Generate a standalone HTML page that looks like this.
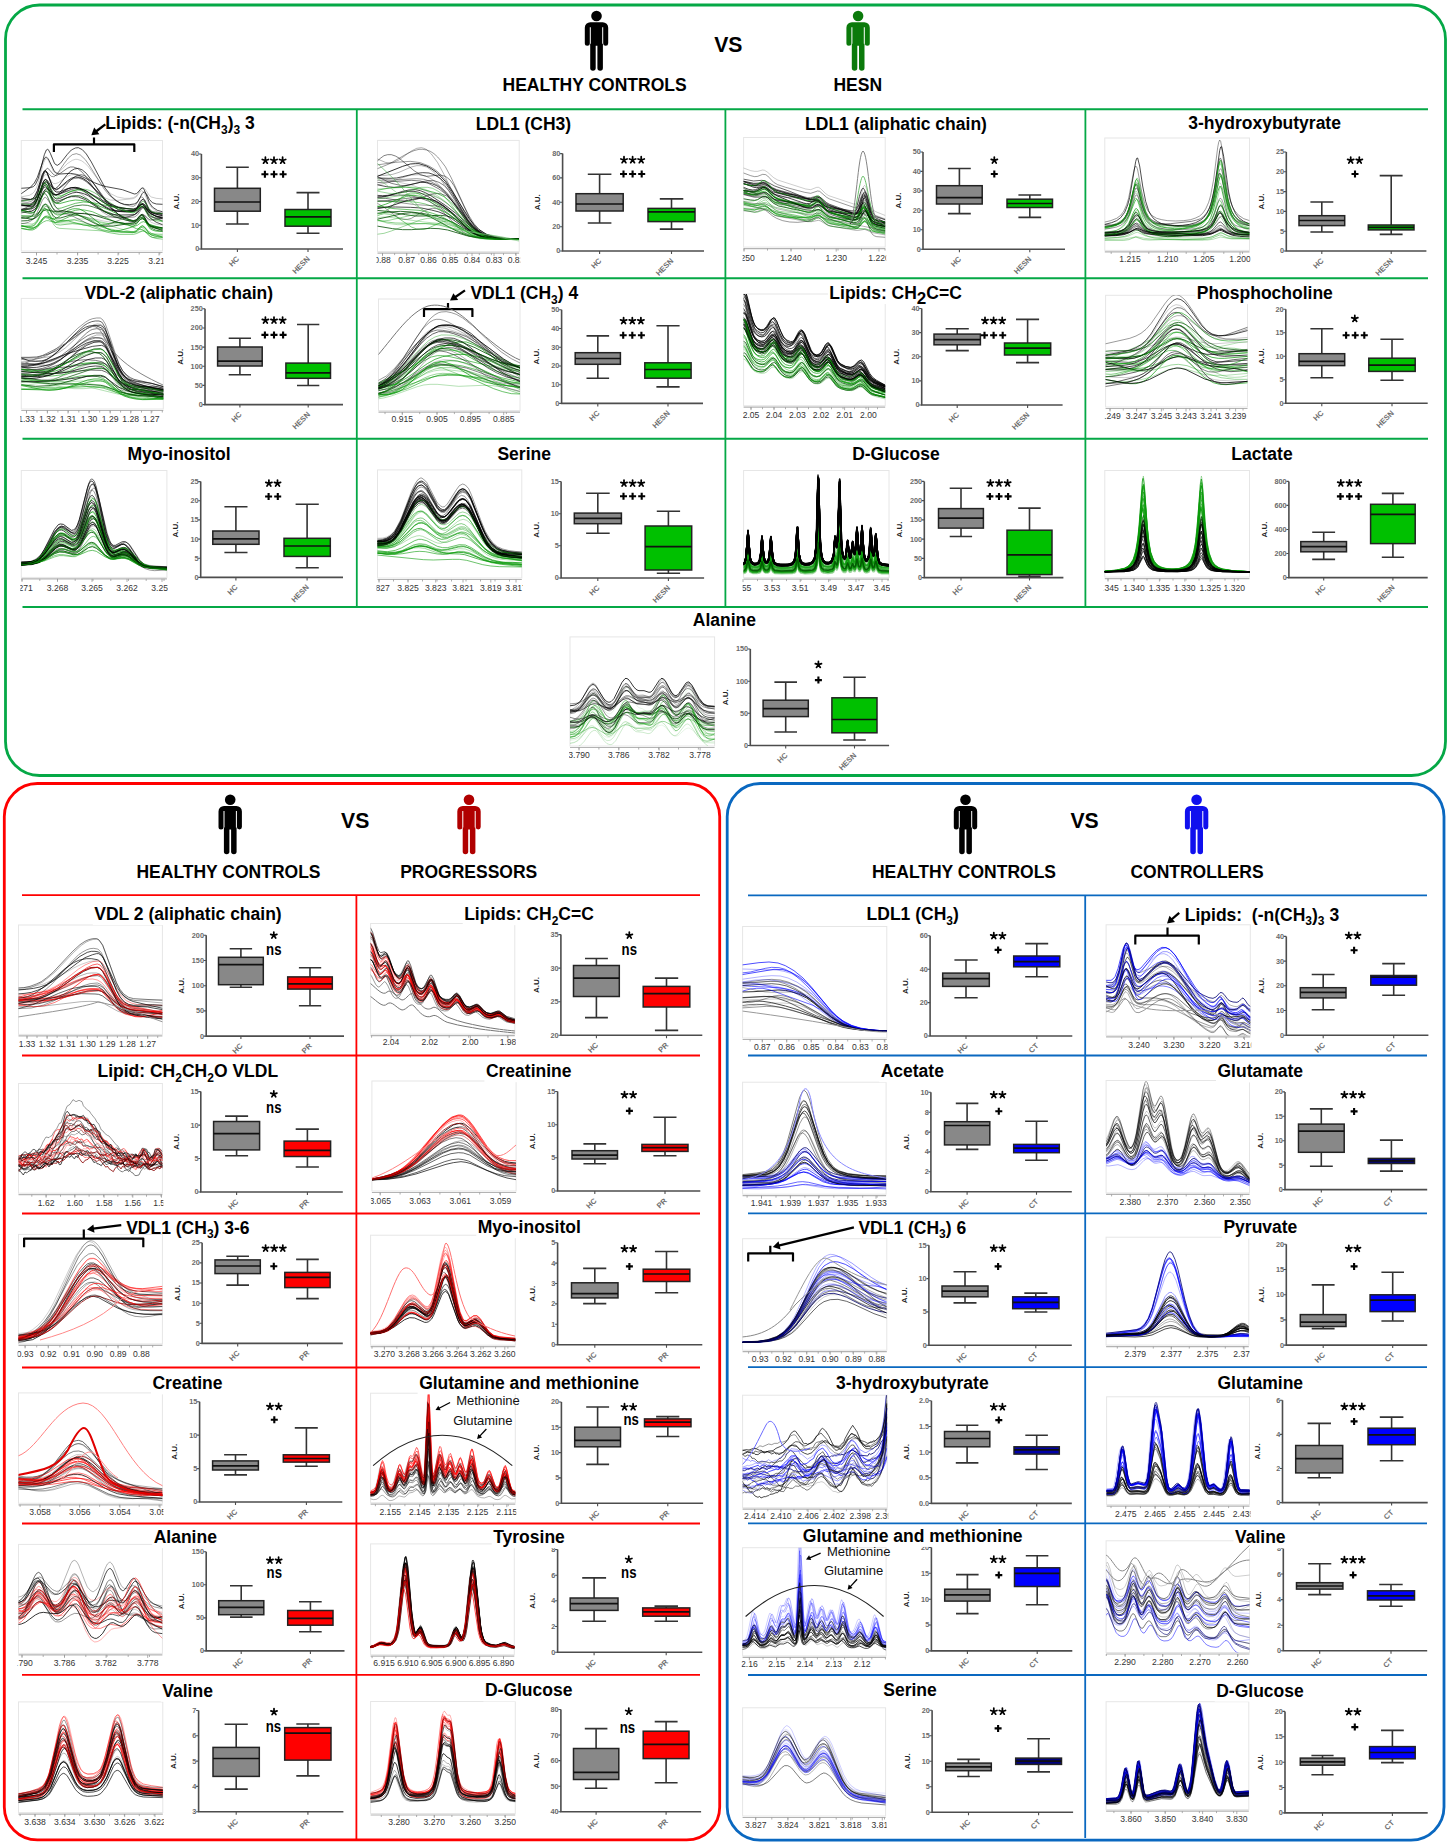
<!DOCTYPE html>
<html><head><meta charset="utf-8"><title>Figure</title><style>html,body{margin:0;padding:0;background:#fff;width:1450px;height:1846px;overflow:hidden;font-family:"Liberation Sans",sans-serif}</style></head><body>
<svg width="1450" height="1846" viewBox="0 0 1450 1846" font-family='"Liberation Sans", sans-serif' style="position:absolute;left:0;top:0">
<style>.k{font-size:8.6px;text-anchor:middle;fill:#333}.y{font-size:7.3px;font-weight:bold;text-anchor:end;fill:#6a6a6a}.a{stroke:#4d4d4d;stroke-width:1.6;fill:none}.t{stroke:#4d4d4d;stroke-width:1.1;fill:none}.w{stroke:#333;stroke-width:1.6;fill:none}.b{stroke:#222;stroke-width:1.5}.m{stroke:#111;stroke-width:1.7}.x{font-size:7.6px;font-weight:bold;text-anchor:end;fill:#707070}.u{font-size:8px;font-weight:bold;text-anchor:middle;fill:#222}.s{font-size:18px;font-weight:bold;text-anchor:middle;letter-spacing:1px}.p{font-size:16px;font-weight:bold;text-anchor:middle;letter-spacing:-0.8px}.n{font-size:17px;font-weight:bold;text-anchor:middle}.st{stroke:#000;stroke-width:1.75;stroke-linecap:round;fill:none}.pl{stroke:#000;stroke-width:2.1;fill:none}</style>
<rect x="5.5" y="5" width="1440" height="770.5" rx="34" ry="34" fill="none" stroke="#05a846" stroke-width="2.8"/>
<rect x="4.3" y="783.5" width="715.4" height="1056.4" rx="33" ry="33" fill="none" stroke="#ff0000" stroke-width="2.8"/>
<rect x="727.2" y="783.5" width="716.8" height="1056.6" rx="33" ry="33" fill="none" stroke="#0a68c0" stroke-width="2.8"/>
<path d="M22.5,109.2 L1428,109.2 M22.5,278.2 L1428,278.2 M22.5,438.8 L1428,438.8 M22.5,607 L1428,607 " stroke="#05a846" stroke-width="2" fill="none"/>
<path d="M356.8,109.2 L356.8,607 M725.4,109.2 L725.4,607 M1085.4,109.2 L1085.4,607 " stroke="#05a846" stroke-width="1.8" fill="none"/>
<path d="M22,895.2 L700,895.2 M22,1055.5 L700,1055.5 M22,1213.5 L700,1213.5 M22,1367.5 L700,1367.5 M22,1523.5 L700,1523.5 M22,1674.8 L700,1674.8 " stroke="#ff0000" stroke-width="1.8" fill="none"/>
<path d="M356.4,895.2 L356.4,1839" stroke="#ff0000" stroke-width="1.8" fill="none"/>
<path d="M748,895.3 L1427,895.3 M748,1055.5 L1427,1055.5 M748,1213.3 L1427,1213.3 M748,1367.2 L1427,1367.2 M748,1523.3 L1427,1523.3 M748,1675 L1427,1675 " stroke="#0a68c0" stroke-width="1.8" fill="none"/>
<path d="M1085.2,895.3 L1085.2,1838" stroke="#0a68c0" stroke-width="1.8" fill="none"/>
<g transform="translate(584.8,10.7)" fill="#000"><circle cx="11.7" cy="5.3" r="5.3"/><path d="M0,17 A5.5,5.5 0 0 1 5.5,11.5 L17.9,11.5 A5.5,5.5 0 0 1 23.4,17 L23.4,32.6 A2.5,2.5 0 0 1 18.4,32.6 L18.4,16.6 L17.4,16.6 L17.4,35 L6,35 L6,16.6 L5,16.6 L5,32.6 A2.5,2.5 0 0 1 0,32.6 Z"/><path d="M5.4,33 L10.9,33 L10.9,57.2 A2.75,2.75 0 0 1 5.4,57.2 Z"/><path d="M12.6,33 L18.1,33 L18.1,57.2 A2.75,2.75 0 0 1 12.6,57.2 Z"/></g>
<g transform="translate(846.4,10.7)" fill="#0b7a0b"><circle cx="11.7" cy="5.3" r="5.3"/><path d="M0,17 A5.5,5.5 0 0 1 5.5,11.5 L17.9,11.5 A5.5,5.5 0 0 1 23.4,17 L23.4,32.6 A2.5,2.5 0 0 1 18.4,32.6 L18.4,16.6 L17.4,16.6 L17.4,35 L6,35 L6,16.6 L5,16.6 L5,32.6 A2.5,2.5 0 0 1 0,32.6 Z"/><path d="M5.4,33 L10.9,33 L10.9,57.2 A2.75,2.75 0 0 1 5.4,57.2 Z"/><path d="M12.6,33 L18.1,33 L18.1,57.2 A2.75,2.75 0 0 1 12.6,57.2 Z"/></g>
<text x="728.3" y="52.3" font-size="21.2" font-weight="bold" text-anchor="middle" fill="#000" >VS</text>
<text x="594.6" y="91" font-size="17.5" font-weight="bold" text-anchor="middle" fill="#000" >HEALTHY CONTROLS</text>
<text x="857.8" y="91" font-size="17.5" font-weight="bold" text-anchor="middle" fill="#000" >HESN</text>
<g transform="translate(218.5,794.4)" fill="#000"><circle cx="11.7" cy="5.3" r="5.3"/><path d="M0,17 A5.5,5.5 0 0 1 5.5,11.5 L17.9,11.5 A5.5,5.5 0 0 1 23.4,17 L23.4,32.6 A2.5,2.5 0 0 1 18.4,32.6 L18.4,16.6 L17.4,16.6 L17.4,35 L6,35 L6,16.6 L5,16.6 L5,32.6 A2.5,2.5 0 0 1 0,32.6 Z"/><path d="M5.4,33 L10.9,33 L10.9,57.2 A2.75,2.75 0 0 1 5.4,57.2 Z"/><path d="M12.6,33 L18.1,33 L18.1,57.2 A2.75,2.75 0 0 1 12.6,57.2 Z"/></g>
<g transform="translate(457.3,794.4)" fill="#b00000"><circle cx="11.7" cy="5.3" r="5.3"/><path d="M0,17 A5.5,5.5 0 0 1 5.5,11.5 L17.9,11.5 A5.5,5.5 0 0 1 23.4,17 L23.4,32.6 A2.5,2.5 0 0 1 18.4,32.6 L18.4,16.6 L17.4,16.6 L17.4,35 L6,35 L6,16.6 L5,16.6 L5,32.6 A2.5,2.5 0 0 1 0,32.6 Z"/><path d="M5.4,33 L10.9,33 L10.9,57.2 A2.75,2.75 0 0 1 5.4,57.2 Z"/><path d="M12.6,33 L18.1,33 L18.1,57.2 A2.75,2.75 0 0 1 12.6,57.2 Z"/></g>
<text x="355.2" y="827.6" font-size="21.2" font-weight="bold" text-anchor="middle" fill="#000" >VS</text>
<text x="228.5" y="877.9" font-size="17.5" font-weight="bold" text-anchor="middle" fill="#000" >HEALTHY CONTROLS</text>
<text x="468.7" y="877.9" font-size="17.5" font-weight="bold" text-anchor="middle" fill="#000" >PROGRESSORS</text>
<g transform="translate(953.8,794.4)" fill="#000"><circle cx="11.7" cy="5.3" r="5.3"/><path d="M0,17 A5.5,5.5 0 0 1 5.5,11.5 L17.9,11.5 A5.5,5.5 0 0 1 23.4,17 L23.4,32.6 A2.5,2.5 0 0 1 18.4,32.6 L18.4,16.6 L17.4,16.6 L17.4,35 L6,35 L6,16.6 L5,16.6 L5,32.6 A2.5,2.5 0 0 1 0,32.6 Z"/><path d="M5.4,33 L10.9,33 L10.9,57.2 A2.75,2.75 0 0 1 5.4,57.2 Z"/><path d="M12.6,33 L18.1,33 L18.1,57.2 A2.75,2.75 0 0 1 12.6,57.2 Z"/></g>
<g transform="translate(1184.9,794.4)" fill="#1010ee"><circle cx="11.7" cy="5.3" r="5.3"/><path d="M0,17 A5.5,5.5 0 0 1 5.5,11.5 L17.9,11.5 A5.5,5.5 0 0 1 23.4,17 L23.4,32.6 A2.5,2.5 0 0 1 18.4,32.6 L18.4,16.6 L17.4,16.6 L17.4,35 L6,35 L6,16.6 L5,16.6 L5,32.6 A2.5,2.5 0 0 1 0,32.6 Z"/><path d="M5.4,33 L10.9,33 L10.9,57.2 A2.75,2.75 0 0 1 5.4,57.2 Z"/><path d="M12.6,33 L18.1,33 L18.1,57.2 A2.75,2.75 0 0 1 12.6,57.2 Z"/></g>
<text x="1084.6" y="827.6" font-size="21.2" font-weight="bold" text-anchor="middle" fill="#000" >VS</text>
<text x="964" y="878.3" font-size="17.5" font-weight="bold" text-anchor="middle" fill="#000" >HEALTHY CONTROLS</text>
<text x="1197" y="878.3" font-size="17.5" font-weight="bold" text-anchor="middle" fill="#000" >CONTROLLERS</text>
<clipPath id="c1"><rect x="21.3" y="140.5" width="141.2" height="110.5"/></clipPath>
<rect x="21.3" y="140.5" width="141.2" height="110.5" fill="none" stroke="#e6e6e6" stroke-width="1"/>
<g clip-path="url(#c1)" fill="none" stroke-linejoin="round"><g transform="scale(0.333333)" stroke-width="3">
<path d="M61 615l15 2 12 0 9-4 6-7 9-21 15-58 6-13 3-2 3 2 3 5 15 38 3 5 6 5 3 1 6-2 27-23 12-8 12-4 12 1 12 4 12 8 60 62 18 14 15 9 24 6 21 0 9-5 12-14 6-3 6 4 12 14 6 5 15 4 24 1" stroke="#000" stroke-opacity="0.8"/>
<path d="M61 684l21 4 9 0 9-2 12-8 21-27 3-2 6-1 24 12 39 3 45 12 18 2 24 0 51-10 21 1 18 5 27 13 18 3 6 4 15 14 9 5 15 2 18-1" stroke="#0a9a0a" stroke-opacity="0.6"/>
<path d="M61 635l30 5 6-1 6-3 9-13 15-35 6-7 3 0 6 8 15 34 6 9 6 4 6 0 6-2 42-16 24-3 15 1 18 5 117 42 9-1 6-5 9-11 3-2 3 0 6 8 12 24 6 7 15 7 24 5" stroke="#004d00" stroke-opacity="0.7"/>
<path d="M61 583l30-21 12-13 9-17 18-51 6-9 3-1 6 6 18 37 9 7 9 1 30-2 18 3 18 7 36 18 18 7 18 5 48 9 36 13 6-1 3-2 12-14 3-1 3 1 3 5 15 38 9 13 15 10 18 5" stroke="#000" stroke-opacity="0.7"/>
<path d="M61 670l33 2 6-1 6-3 9-11 15-30 6-7 3-1 6 6 18 33 6 5 6 3 9 0 45-9 30 0 27 6 66 21 42 11 15 2 21-5 24 13 15 2 21 0" stroke="#0a9a0a" stroke-opacity="0.3"/>
<path d="M61 601l30-2 6-3 6-6 9-18 15-49 6-10 3-1 6 9 18 47 3 4 6 4 9 0 24-10 12-3 12-1 12 2 21 9 54 36 15 7 15 4 24 5 33 2 9-3 12-11 6-1 6 5 12 17 6 6 15 8 24 7" stroke="#000" stroke-opacity="0.8"/>
<path d="M61 637l15-1 12-1 9-3 6-4 6-6 6-10 18-37 6-5 6 1 15 13 9 2 6-2 27-16 12-3 9-1 12 3 15 8 15 13 42 41 15 11 12 5 12 4 15 1 39-4 9-4 15-19 3-2 3 0 6 5 9 15 9 9 9 5 27 9" stroke="#000" stroke-opacity="0.2"/>
<path d="M61 628l30-4 6-3 6-5 9-18 18-52 6-8 3 1 3 2 15 22 3 2 6 1 9-7 24-32 12-13 12-7 12-2 12 5 12 10 15 20 45 68 18 20 18 15 24 13 21 6 9-3 12-13 6-2 6 6 12 20 9 8 15 5 21 1" stroke="#000" stroke-opacity="0.7"/>
<path d="M61 646l33 4 12-2 9-7 18-26 6-2 6 4 18 24 9 4 12-1 42-13 15-2 12 1 24 5 63 28 36 11 18 4 12 0 6-2 12-9 6-2 6 2 12 11 6 3 12 2 24 1" stroke="#0a9a0a" stroke-opacity="0.6"/>
<path d="M61 630l12 3 12 2 9-1 9-5 6-6 6-11 15-36 6-8 3-2 6 2 12 13 9 4 9-2 30-17 9-3 9 0 12 2 15 7 15 11 39 32 15 9 15 7 12 2 15 1 39-2 9-4 15-16 6-1 6 5 12 16 6 5 12 5 24 6" stroke="#000" stroke-opacity="0.8"/>
<path d="M61 675l24 8 9 2 6-1 6-3 6-5 15-20 6-5 6-1 15 6 9 1 9-4 33-22 12-4 9-1 12 1 15 7 54 43 15 9 12 4 12 2 15-1 33-9 12-6 15-18 6-2 6 3 15 14 42 14" stroke="#0a9a0a" stroke-opacity="0.7"/>
<path d="M61 634l27-7 12-7 9-14 18-49 6-8 3 1 6 8 12 32 6 11 9 9 9 1 30-8 18-3 15 1 18 3 24 8 51 21 63 30 9 0 15-14 3-2 3 2 6 8 9 18 9 12 6 3 9 3 12 1 12-1" stroke="#0a9a0a" stroke-opacity="0.7"/>
<path d="M61 640l24-6 9-5 6-6 6-9 6-14 15-49 6-11 3-2 3 2 3 3 15 31 9 10 9 0 21-8 12-3 12 0 12 3 12 6 12 9 51 45 15 9 12 5 12 3 15 1 18-3 18-4 9-5 15-19 6-4 6 3 12 14 6 3 39 9" stroke="#000" stroke-opacity="0.3"/>
<path d="M61 630l30-3 12-4 6-5 6-9 15-28 6-6 3-1 6 4 12 16 9 8 6 1 6-1 24-9 12-3 12 0 9 1 21 8 54 35 15 6 15 4 24 1 39-1 9-5 12-15 3-2 3 0 6 7 12 21 6 7 15 10 21 8" stroke="#000" stroke-opacity="0.7"/>
<path d="M61 678l24 4 15 1 12-4 18-13 9-4 6 0 21 6 36-7 21-1 27 6 57 23 30 6 66 2 9-3 12-12 6-1 6 4 12 16 6 4 12 4 24 3" stroke="#0a9a0a" stroke-opacity="0.5"/>
<path d="M61 685l27 5 9 0 6-2 9-6 18-25 6-4 6 1 15 10 9 3 9-2 33-15 12-3 12-1 12 2 15 5 51 29 27 10 27 4 36-1 9-3 12-12 6-3 6 3 12 14 9 6 36 12" stroke="#0a9a0a" stroke-opacity="0.6"/>
<path d="M61 671l12-1 12-3 9-5 6-5 9-13 18-43 6-8 3-1 6 5 15 25 9 9 6 3 33 8 54 27 24 8 18 1 21-3 54-22 21-6 9-5 18-22 3 0 3 2 12 18 9 9 12 5 27 8" stroke="#000" stroke-opacity="0.4"/>
<path d="M61 679l30 1 12-3 9-11 15-29 6-7 3 0 6 6 15 31 6 9 6 6 9 3 219 13 6-1 6-3 12-13 6-3 6 4 12 16 6 5 12 5 27 3" stroke="#0a9a0a" stroke-opacity="0.4"/>
<path d="M61 565l30-2 9-3 6-6 9-19 18-71 6-14 3-2 3 1 6 11 12 29 3 4 6 3 9-6 21-27 12-13 12-6 9-1 12 6 12 13 15 24 42 79 18 24 15 13 12 7 12 4 15 1 15-2 9-5 15-27 3-3 3-1 6 5 9 17 9 10 12 4 21 1" stroke="#000" stroke-opacity="0.7"/>
<path d="M61 631l15-7 12-7 9-8 9-12 9-21 18-59 6-10 3-2 3 1 15 17 3 2 6 2 9-5 24-17 9-4 9 0 12 4 15 12 15 19 42 62 15 16 15 12 12 5 15 2 21 0 21-3 9-6 12-21 3-4 3-2 3 2 3 4 12 27 9 13 15 9 18 5" stroke="#000" stroke-opacity="0.5"/>
<path d="M61 630l30 7 9 0 6-4 9-13 15-39 6-8 3-1 6 6 18 39 9 8 6 0 6-1 42-14 24-4 27 2 57 11 69 10 9-2 12-8 6-1 6 5 12 18 6 6 15 9 21 9" stroke="#0a9a0a" stroke-opacity="0.6"/>
<path d="M61 614l30 5 6-1 6-4 9-16 18-52 3-5 3-2 3 2 3 4 18 43 3 5 6 4 9-1 24-11 15-6 12-2 12 1 12 4 12 5 42 28 21 11 24 8 24 2 18-1 9-3 6-6 12-22 6-6 3 1 3 3 12 24 6 7 9 5 30 7" stroke="#000" stroke-opacity="0.7"/>
<path d="M61 663l21-1 18-5 9-5 21-20 9-3 21 5 33-1 21 4 21 8 51 26 15 6 15 2 24-1 60-9 9-5 12-11 6-1 6 5 12 16 6 5 39 15" stroke="#004d00" stroke-opacity="0.8"/>
<path d="M61 591l27-5 9-5 6-6 6-11 6-17 15-57 6-13 3-1 3 1 3 4 15 33 3 3 6 3 9-4 24-25 15-10 9-3 6 0 12 4 9 6 12 12 39 52 15 17 15 13 18 9 21 4 15 0 12-2 9-5 15-22 3-2 3-1 6 5 12 18 6 5 15 4 21 2" stroke="#000" stroke-opacity="0.2"/>
<path d="M61 611l30 3 6-1 6-4 9-14 15-38 6-8 3 0 6 7 15 30 3 4 6 4 6 0 6-2 24-13 15-6 15-3 12 1 21 8 45 28 21 11 24 9 33 10 12 2 6-2 15-17 3-1 3 0 6 7 12 23 6 6 15 7 24 2" stroke="#0a9a0a" stroke-opacity="0.6"/>
<path d="M61 651l42-7 9-4 15-11 9-3 6 2 15 8 9 3 42 1 24 3 66 22 30 6 27 1 45-2 9-3 12-11 6-1 6 3 12 13 6 4 39 9" stroke="#0a9a0a" stroke-opacity="0.4"/>
<path d="M61 605l21 2 9-2 6-3 6-7 6-11 18-53 6-12 3-3 3 0 3 1 12 12 6 1 3 0 9-9 21-31 12-16 12-10 12-3 12 4 15 14 12 17 45 72 15 18 18 15 12 7 15 6 18 4 9 1 6-3 3-4 12-19 3-2 3 0 6 8 12 24 6 7 6 4 9 2 24 3" stroke="#000" stroke-opacity="0.4"/>
<path d="M61 680l27-3 12-4 9-9 18-34 6-5 3 1 6 6 18 30 6 5 6 2 48 0 30 2 108 21 39 6 9-2 15-13 3-1 6 3 12 16 9 9 15 5 24 4" stroke="#0a9a0a" stroke-opacity="0.3"/>
<path d="M61 592l15 5 12 2 9-2 6-4 9-15 18-47 6-7 3 0 3 2 15 21 3 3 6 1 9-3 27-19 12-5 9 0 12 3 12 7 54 51 15 9 15 6 21 1 48-5 9-5 12-16 3-3 3 1 6 7 12 28 9 14 18 14 18 8" stroke="#000" stroke-opacity="0.2"/>
<path d="M61 677l30 2 6-1 6-3 9-11 18-35 3-3 3 0 6 5 18 34 6 7 6 2 9 1 36-4 24 2 21 4 60 20 36 6 42 0 9-2 18-8 6 1 12 6 9 2 36 1" stroke="#0a9a0a" stroke-opacity="0.5"/>
<path d="M61 604l33-5 12-5 9-12 15-31 6-7 3 0 6 6 15 29 6 6 6 3 12-1 30-13 15-5 15-2 12 1 12 3 15 7 63 40 15 8 15 6 18 4 6 0 6-2 6-5 12-21 3-3 3-1 6 5 9 16 9 10 12 4 24 2" stroke="#0a9a0a" stroke-opacity="0.5"/>
<path d="M61 594l30 4 12-2 9-7 18-25 6-3 6 3 18 18 9 2 9-2 36-14 12-2 12 1 12 2 12 6 60 34 33 12 33 6 15 1 6-2 12-11 6-3 6 5 12 17 9 8 15 6 21 5" stroke="#000" stroke-opacity="0.6"/>
<path d="M61 616l30 0 6-1 6-3 9-14 18-47 6-6 3 1 3 3 12 24 6 9 3 3 6 0 9-6 27-31 15-15 12-7 12-2 12 4 15 12 15 17 36 49 18 22 18 18 18 13 15 6 12 1 6-3 12-15 6-5 6 2 12 12 6 3 12-1 27-6" stroke="#000" stroke-opacity="0.5"/>
<path d="M61 652l30 5 6 0 6-2 9-9 18-31 6-3 6 5 18 31 9 6 12 0 45-13 27-1 24 4 72 22 27 5 21 2 6-1 6-2 12-12 6-2 6 3 12 14 6 4 12 3 27 4" stroke="#004d00" stroke-opacity="0.8"/>
<path d="M61 649l27 0 15-3 12-7 15-16 6-4 3 0 6 3 18 16 9 4 60 4 78 17 33 5 33 1 27-3 9-5 12-14 6-2 6 3 12 15 6 4 12 5 24 4" stroke="#000" stroke-opacity="0.2"/>
<path d="M61 655l15-1 12-2 6-3 6-5 9-18 18-60 6-10 3 0 6 8 15 36 3 4 6 5 9-1 24-14 15-6 15-1 12 1 21 10 51 36 30 16 33 10 24 4 9-4 9-11 6-5 3 1 3 3 12 21 9 10 15 6 24 4" stroke="#004d00" stroke-opacity="0.8"/>
<path d="M61 617l33 3 6-1 6-3 9-14 18-46 3-3 3 0 6 8 15 44 6 14 6 8 9 5 132 18 36 2 45 0 9-1 6-3 6-6 9-14 6-5 6 4 12 18 6 5 9 3 27 2" stroke="#000" stroke-opacity="0.4"/>
<path d="M61 612l27-1 9-2 6-3 9-11 18-39 6-8 3-2 3 1 18 20 3 2 6 1 9-5 33-25 12-5 12-1 12 4 12 7 15 13 42 42 15 11 18 10 27 9 27 4 9-3 12-10 6-1 6 4 12 15 6 4 15 6 21 3" stroke="#000" stroke-opacity="0.5"/>
</g></g>
<path d="M21.3,252.5 L162.5,252.5" stroke="#b3b3b3" stroke-width="1.2"/>
<clipPath id="t1"><rect x="20.3" y="252.5" width="143.2" height="16"/></clipPath><g clip-path="url(#t1)">
<text class="k" x="36.5" y="263.9">3.245</text>
<text class="k" x="77.6" y="263.9">3.235</text>
<text class="k" x="118" y="263.9">3.225</text>
<text class="k" x="159" y="263.9">3.215</text>
</g>
<path d="M36.5,252.5 L36.5,255.5 M77.6,252.5 L77.6,255.5 M118,252.5 L118,255.5 M159,252.5 L159,255.5 M36.5,252.5 L36.5,254.5 M57,252.5 L57,254.5 M77.6,252.5 L77.6,254.5 M98.1,252.5 L98.1,254.5 M118.7,252.5 L118.7,254.5 M139.2,252.5 L139.2,254.5 M159.8,252.5 L159.8,254.5" stroke="#999" stroke-width="0.8"/>
<path class="a" d="M201.4,154V249H343"/>
<text class="y" x="199.2" y="156.4">40</text>
<text class="y" x="199.2" y="180.2">30</text>
<text class="y" x="199.2" y="203.9">20</text>
<text class="y" x="199.2" y="227.7">10</text>
<text class="y" x="199.2" y="251.4">0</text>
<text class="u" x="176.4" y="201.5" transform="rotate(-90 176.4 201.5)" dy="2.8">A.U.</text>
<path class="w" d="M237.4,167.3V188.3M237.4,211.2V224M225.9,167.3h22.9M225.9,224h22.9"/>
<rect class="b" x="214.5" y="188.3" width="45.8" height="22.9" fill="#888"/>
<path class="m" d="M214.5,202H260.3"/>
<path class="w" d="M308,192.6V209.5M308,226.2V233.2M296.5,192.6h23M296.5,233.2h23"/>
<rect class="b" x="285" y="209.5" width="46" height="16.7" fill="#00c000"/>
<path class="m" d="M285,216.8H331"/>
<path class="t" d="M198.9,154h2.5M198.9,177.8h2.5M198.9,201.5h2.5M198.9,225.2h2.5M198.9,249h2.5M237.4,249v3M308,249v3"/>
<text class="x" x="236.9" y="256.5" transform="rotate(-45 236.9 256.5)" dy="4">HC</text>
<text class="x" x="307.5" y="256.5" transform="rotate(-45 307.5 256.5)" dy="4">HESN</text>
<path class="st" d="M265.4,160.5l0,-3.3M265.4,160.5l3.1,-1M265.4,160.5l1.9,2.7M265.4,160.5l-1.9,2.7M265.4,160.5l-3.1,-1M274,160.5l0,-3.3M274,160.5l3.1,-1M274,160.5l1.9,2.7M274,160.5l-1.9,2.7M274,160.5l-3.1,-1M282.6,160.5l0,-3.3M282.6,160.5l3.1,-1M282.6,160.5l1.9,2.7M282.6,160.5l-1.9,2.7M282.6,160.5l-3.1,-1"/>
<path class="pl" d="M261.4,174.3h7M264.9,170.8v7M270.5,174.3h7M274,170.8v7M279.6,174.3h7M283.1,170.8v7"/>
<text x="105.3" y="129" font-size="17.5" font-weight="bold" text-anchor="start">Lipids: (-n(CH<tspan dy="4.5" font-size="12">3</tspan><tspan dy="-4.5">)</tspan><tspan dy="4.5" font-size="12">3</tspan><tspan dy="-4.5"> 3</tspan></text><path d="M105.3,124.3 L96,131.5" stroke="#000" stroke-width="2.3"/><path d="M91.3,135.2 L94.2,127.6 L99.4,134.2 Z" fill="#000"/><path d="M53.9,152.1 L53.9,144.3 L134.3,144.3 L134.3,152.1 M94,144.3 L94,137.6" stroke="#000" stroke-width="2.2" fill="none" stroke-linejoin="round"/>
<clipPath id="c2"><rect x="377.5" y="140.4" width="141.7" height="111.2"/></clipPath>
<rect x="377.5" y="140.4" width="141.7" height="111.2" fill="none" stroke="#e6e6e6" stroke-width="1"/>
<g clip-path="url(#c2)" fill="none" stroke-linejoin="round"><g transform="scale(0.333333)" stroke-width="3">
<path d="M1130 609l18 10 42 31 11 6 11 2 11 0 11-3 38-22 15-6 11-2 12 1 11 5 11 8 38 39 14 14 12 8 11 5 15 4 22 2 64 5 49 2" stroke="#000" stroke-opacity="0.4"/>
<path d="M1130 640l37-4 34-2 33 2 38 5 38 8 30 10 22 10 52 29 30 11 19 4 23 3 71 2" stroke="#004d00" stroke-opacity="0.8"/>
<path d="M1130 653l22-2 26 2 94 13 64 6 30 7 56 24 30 9 41 5 64 1" stroke="#0a9a0a" stroke-opacity="0.3"/>
<path d="M1130 594l26 1 45 7 22 1 27-5 48-16 15-2 11 2 16 6 14 13 12 13 45 60 15 15 15 10 19 9 22 5 30 3 45 2" stroke="#000" stroke-opacity="0.5"/>
<path d="M1130 586l18 1 15-1 49-10 15-2 15 0 15 3 26 12 45 28 30 22 53 45 15 10 15 8 22 8 23 5 30 2 41 1" stroke="#000" stroke-opacity="0.7"/>
<path d="M1130 476l26 11 11 2 11-1 19-8 37-27 16-8 14-2 8 2 8 4 14 13 19 26 19 35 52 106 19 30 19 21 22 17 16 7 14 5 34 6 49 3" stroke="#000" stroke-opacity="0.3"/>
<path d="M1130 597l116-16 26 0 22 5 27 10 22 15 19 17 45 49 15 13 19 12 19 7 26 5 30 3 41 1" stroke="#0a9a0a" stroke-opacity="0.4"/>
<path d="M1130 703l22-3 22-7 87-33 22-5 19-1 19 2 19 6 18 10 45 28 15 7 15 5 19 4 22 2 83 0" stroke="#0a9a0a" stroke-opacity="0.4"/>
<path d="M1130 495l56-8 45-3 30 4 26 10 15 9 11 8 23 24 22 34 45 81 15 21 15 15 19 12 26 9 30 5 49 2" stroke="#000" stroke-opacity="0.4"/>
<path d="M1130 631l30 3 56 10 30 4 26 0 49-2 19 2 14 4 12 6 48 36 16 9 14 6 19 5 19 2 75 2" stroke="#004d00" stroke-opacity="0.8"/>
<path d="M1130 530l78-31 23-7 15-1 11 0 23 7 14 8 16 11 26 27 22 32 49 79 15 19 15 15 23 14 22 7 30 5 45 3" stroke="#000" stroke-opacity="0.8"/>
<path d="M1130 593l33-6 34-2 30 1 30 7 30 11 34 19 26 19 53 44 14 9 16 8 22 7 26 4 34 3 45 1" stroke="#000" stroke-opacity="0.5"/>
<path d="M1130 548l104-7 27 2 26 8 30 16 23 17 22 25 49 63 15 15 15 11 19 9 26 6 30 3 41 2" stroke="#000" stroke-opacity="0.5"/>
<path d="M1130 642l14-2 16-8 41-36 15-11 15-6 15-1 11 4 11 6 53 40 49 30 44 32 23 13 23 8 22 4 26 2 49 1" stroke="#0a9a0a" stroke-opacity="0.5"/>
<path d="M1130 590l14 1 16-2 48-15 19-4 19-1 15 3 15 6 15 8 45 30 30 23 48 42 16 11 14 9 23 8 23 5 26 3 41 1" stroke="#000" stroke-opacity="0.7"/>
<path d="M1130 658l82-18 22-2 19 2 19 4 19 7 82 44 34 13 23 4 30 3 97 3" stroke="#004d00" stroke-opacity="0.8"/>
<path d="M1130 555l33-7 53-18 18-5 23-1 19 4 11 5 15 9 26 24 23 27 49 69 14 17 19 16 19 9 26 8 34 4 45 2" stroke="#000" stroke-opacity="0.3"/>
<path d="M1130 554l30 6 22 2 22-2 57-13 19 0 18 5 12 5 11 7 19 18 14 18 49 69 15 16 15 12 19 9 26 7 30 3 49 2" stroke="#000" stroke-opacity="0.7"/>
<path d="M1130 648l11-4 11-3 19 2 19 8 44 30 16 6 11 1 11 0 11-3 45-20 12-2 7 0 11 4 12 6 44 32 23 9 30 4 90 0" stroke="#0a9a0a" stroke-opacity="0.5"/>
<path d="M1130 622l56-1 45 1 33 2 30 6 23 6 23 10 18 12 49 35 15 9 15 6 19 4 26 4 75 2" stroke="#000" stroke-opacity="0.7"/>
<path d="M1130 605l33-3 75-9 23 0 22 4 27 11 22 13 22 18 49 45 15 11 15 8 19 6 26 5 30 3 49 1" stroke="#000" stroke-opacity="0.5"/>
<path d="M1130 529l44 21 27 6 11 1 15-2 45-11 15-2 15 0 15 5 15 9 15 16 15 22 41 69 15 19 15 13 19 11 22 7 30 3 53 2" stroke="#000" stroke-opacity="0.5"/>
<path d="M1130 534l37 1 23-1 18-4 42-10 18-2 19 1 15 5 19 11 19 20 18 27 45 77 15 20 15 14 19 11 26 8 30 4 49 2" stroke="#000" stroke-opacity="0.7"/>
<path d="M1130 604l104 1 23 3 19 4 30 11 30 14 22 15 49 36 15 9 15 7 23 6 22 4 30 2 45 2" stroke="#0a9a0a" stroke-opacity="0.5"/>
<path d="M1130 678l48 8 30 3 26 0 57-4 26 1 26 4 57 17 30 6 44 3 83 2" stroke="#004d00" stroke-opacity="0.8"/>
<path d="M1130 526l26 0 22-3 19-6 37-16 16-4 14 0 16 4 18 12 23 24 22 31 53 83 15 19 19 18 22 14 26 8 34 5 45 3" stroke="#000" stroke-opacity="0.3"/>
<path d="M1130 601l41 3 75 10 56 3 19 3 15 7 15 9 52 51 15 11 15 8 19 6 22 3 83 3" stroke="#000" stroke-opacity="0.4"/>
<path d="M1130 541l48-1 72-4 22 2 19 6 26 14 23 19 22 27 45 63 15 16 15 12 19 10 26 8 30 3 45 2" stroke="#000" stroke-opacity="0.4"/>
<path d="M1130 567l104-6 23 2 19 5 30 15 26 18 22 21 49 54 15 13 15 10 23 9 22 5 30 3 49 2" stroke="#0a9a0a" stroke-opacity="0.3"/>
<path d="M1130 659l33 11 30 4 27 0 67-4 34 3 30 8 56 27 30 8 34 2 86 0" stroke="#0a9a0a" stroke-opacity="0.3"/>
<path d="M1130 573l37 7 23 1 22-4 52-15 19 0 15 3 19 10 15 13 19 22 45 62 15 16 15 11 18 8 27 6 33 3 53 2" stroke="#0a9a0a" stroke-opacity="0.4"/>
<path d="M1130 626l33-5 57-19 22-5 22-3 23 3 23 7 22 14 19 16 49 50 14 11 16 9 18 6 26 5 30 2 53 1" stroke="#000" stroke-opacity="0.8"/>
<path d="M1130 662l18 1 19-2 71-16 15-1 15 1 23 4 30 10 33 14 53 25 34 12 22 4 23 2 71 2" stroke="#0a9a0a" stroke-opacity="0.4"/>
<path d="M1130 621l26-8 45-18 19-6 22-3 19 3 26 9 37 22 34 23 53 43 15 9 15 8 22 7 23 4 30 3 41 1" stroke="#0a9a0a" stroke-opacity="0.7"/>
<path d="M1130 571l44-8 42-2 45 6 45 11 26 12 19 15 15 16 45 56 15 14 15 10 19 8 22 5 30 2 45 2" stroke="#0a9a0a" stroke-opacity="0.6"/>
<path d="M1130 485l11-10 11-8 11-3 11 0 12 4 11 6 45 38 19 12 19 5 41-4 15 4 7 5 8 7 11 16 11 22 38 80 15 23 15 16 19 11 18 5 26 2 53 1" stroke="#000" stroke-opacity="0.5"/>
<path d="M1130 532l104 23 23 8 26 12 30 17 27 18 22 18 52 51 19 13 19 10 19 6 22 5 27 3 37 1" stroke="#000" stroke-opacity="0.2"/>
<path d="M1130 507l37-15 56-32 19-8 15-4 11 0 12 2 11 4 11 7 11 10 11 13 12 16 18 34 38 83 15 30 15 24 15 17 19 14 11 5 15 5 30 4 45 2" stroke="#000" stroke-opacity="0.4"/>
<path d="M1130 660l30 6 26 3 90 2 41 4 34 9 60 22 33 8 42 3 71 1" stroke="#0a9a0a" stroke-opacity="0.5"/>
<path d="M1130 618l52 8 75 5 23 4 18 5 23 8 19 10 67 42 15 6 19 6 41 5 75 1" stroke="#0a9a0a" stroke-opacity="0.6"/>
</g></g>
<path d="M377.5,253.1 L519.2,253.1" stroke="#b3b3b3" stroke-width="1.2"/>
<clipPath id="t2"><rect x="376.5" y="253.1" width="143.7" height="16"/></clipPath><g clip-path="url(#t2)">
<text class="k" x="382.5" y="263.2">0.88</text>
<text class="k" x="406.7" y="263.2">0.87</text>
<text class="k" x="428.5" y="263.2">0.86</text>
<text class="k" x="450" y="263.2">0.85</text>
<text class="k" x="472" y="263.2">0.84</text>
<text class="k" x="494" y="263.2">0.83</text>
<text class="k" x="516" y="263.2">0.82</text>
</g>
<path d="M382.5,253.1 L382.5,256.1 M406.7,253.1 L406.7,256.1 M428.5,253.1 L428.5,256.1 M450,253.1 L450,256.1 M472,253.1 L472,256.1 M494,253.1 L494,256.1 M516,253.1 L516,256.1 M382.5,253.1 L382.5,255.1 M394.6,253.1 L394.6,255.1 M406.7,253.1 L406.7,255.1 M418.8,253.1 L418.8,255.1 M430.9,253.1 L430.9,255.1 M443,253.1 L443,255.1 M455.1,253.1 L455.1,255.1 M467.2,253.1 L467.2,255.1 M479.3,253.1 L479.3,255.1 M491.4,253.1 L491.4,255.1 M503.5,253.1 L503.5,255.1 M515.6,253.1 L515.6,255.1" stroke="#999" stroke-width="0.8"/>
<path class="a" d="M562.6,153.6V251H704"/>
<text class="y" x="560.4" y="156">80</text>
<text class="y" x="560.4" y="180.3">60</text>
<text class="y" x="560.4" y="204.7">40</text>
<text class="y" x="560.4" y="229.1">20</text>
<text class="y" x="560.4" y="253.4">0</text>
<text class="u" x="537.6" y="202.3" transform="rotate(-90 537.6 202.3)" dy="2.8">A.U.</text>
<path class="w" d="M599.6,174.3V193.7M599.6,211V223M587.8,174.3h23.6M587.8,223h23.6"/>
<rect class="b" x="576" y="193.7" width="47.2" height="17.3" fill="#888"/>
<path class="m" d="M576,204H623.2"/>
<path class="w" d="M671.5,198.9V208.4M671.5,221.6V229.1M659.8,198.9h23.5M659.8,229.1h23.5"/>
<rect class="b" x="648" y="208.4" width="47" height="13.2" fill="#00c000"/>
<path class="m" d="M648,211.8H695"/>
<path class="t" d="M560.1,153.6h2.5M560.1,177.9h2.5M560.1,202.3h2.5M560.1,226.7h2.5M560.1,251h2.5M599.6,251v3M671.5,251v3"/>
<text class="x" x="599.1" y="258.5" transform="rotate(-45 599.1 258.5)" dy="4">HC</text>
<text class="x" x="671" y="258.5" transform="rotate(-45 671 258.5)" dy="4">HESN</text>
<path class="st" d="M624,160l0,-3.3M624,160l3.1,-1M624,160l1.9,2.7M624,160l-1.9,2.7M624,160l-3.1,-1M632.6,160l0,-3.3M632.6,160l3.1,-1M632.6,160l1.9,2.7M632.6,160l-1.9,2.7M632.6,160l-3.1,-1M641.2,160l0,-3.3M641.2,160l3.1,-1M641.2,160l1.9,2.7M641.2,160l-1.9,2.7M641.2,160l-3.1,-1"/>
<path class="pl" d="M620,174h7M623.5,170.5v7M629.1,174h7M632.6,170.5v7M638.2,174h7M641.7,170.5v7"/>
<rect x="474.4" y="116.5" width="98.3" height="18.5" fill="#fff"/><text x="523.5" y="130" font-size="17.5" font-weight="bold" text-anchor="middle">LDL1 (CH3)</text>
<g fill="none" stroke-width="0.9" clip-path="url(#c2)"><path d="M377,163 L395,180 L420,208 L450,228 L519,240" stroke="#4caf50" stroke-opacity=".7"/><path d="M377,178 L400,195 L430,215 L460,230 L519,241" stroke="#7cc47c" stroke-opacity=".7"/></g>
<clipPath id="c3"><rect x="743.6" y="137.5" width="141.6" height="109.6"/></clipPath>
<rect x="743.6" y="137.5" width="141.6" height="109.6" fill="none" stroke="#e6e6e6" stroke-width="1"/>
<g clip-path="url(#c3)" fill="none" stroke-linejoin="round"><g transform="scale(0.333333)" stroke-width="3">
<path d="M2228 630l36 7 9-1 18-6 6-1 9 4 18 12 9 3 87 12 15-2 18-10 6-1 6 3 15 13 9 5 75 12 12-2 6-4 9-11 6-2 6 5 12 17 6 5 9 3 27 4" stroke="#0a9a0a" stroke-opacity="0.5"/>
<path d="M2228 608l18 5 15 0 9-3 18-14 9-1 27 16 48 6 51 17 9 1 18-7 6 0 24 21 15 4 72-1 9-4 12-9 6 0 6 4 12 15 6 5 39 19" stroke="#0a9a0a" stroke-opacity="0.3"/>
<path d="M2228 596l24 4 12 1 9-2 15-9 9 0 6 3 18 17 15 8 90 19 9-1 15-6 6-1 6 2 15 13 12 7 72 17 9-1 6-4 12-23 6-7 3 1 3 4 12 27 6 9 9 5 30 6" stroke="#004d00" stroke-opacity="0.8"/>
<path d="M2228 544l36 16 30 2 6 3 21 18 15 6 18 3 45 2 30 5 21-3 6 1 6 3 18 18 12 8 33 12 33 8 9-1 6-6 6-16 9-36 3-9 3-4 3 2 3 8 12 51 6 15 3 5 6 4 30 11" stroke="#000" stroke-opacity="0.3"/>
<path d="M2228 582l33 7 27-1 9 1 30 10 96 20 9 0 18-3 6 0 27 14 45 11 36 11 9-2 6-7 9-14 3-3 3 1 6 8 12 28 6 8 12 7 27 9" stroke="#000" stroke-opacity="0.4"/>
<path d="M2228 503l24 9 12 2 9 0 15-4 6 1 9 6 18 16 12 7 84 27 15 2 18-7 6 0 6 4 15 15 9 6 75 25 6 0 6-2 6-9 9-19 3-4 3-1 6 9 12 33 6 10 9 6 30 12" stroke="#000" stroke-opacity="0.2"/>
<path d="M2228 577l24 8 12 2 9-1 15-3 6 0 6 2 18 14 12 6 54 16 30 7 9 1 9-1 18-9 9-1 18 12 9 4 42 6 45 15 15-1 6 1 18 17 9 6 15 5 21 5" stroke="#0a9a0a" stroke-opacity="0.4"/>
<path d="M2228 583l36 9 33-1 9 4 18 12 9 3 87 20 15 2 18-3 6 0 30 19 75 23 6 0 6-4 6-9 9-22 3-4 3-1 6 10 12 32 6 9 9 6 27 6" stroke="#000" stroke-opacity="0.5"/>
<path d="M2228 565l21 6 12 2 9-2 18-12 6 0 9 7 18 22 9 7 24 8 63 16 9 1 6-2 18-17 6-1 6 5 15 22 9 7 15 5 57 12 9-1 6-4 6-12 9-23 3-5 3 0 6 10 12 35 6 9 9 5 30 7" stroke="#0a9a0a" stroke-opacity="0.3"/>
<path d="M2228 625l36 5 24-5 9 0 33 16 93 23 12-1 15-8 6-1 6 3 15 14 9 6 15 3 39 5 24 2 9-2 6-5 9-12 6-5 6 4 12 19 6 6 9 4 30 6" stroke="#0a9a0a" stroke-opacity="0.6"/>
<path d="M2228 543l33 7 30-1 9 4 18 12 12 6 87 24 15 1 15-5 6 0 6 3 15 15 12 7 75 27 6 0 6-2 12-14 6-4 6 4 12 21 9 9 9 3 30 6" stroke="#000" stroke-opacity="0.7"/>
<path d="M2228 551l21 5 12 1 9-2 18-8 6 0 6 4 21 19 15 8 87 26 9 1 18-5 6 0 6 4 15 14 9 6 33 10 42 10 6-1 6-6 15-38 3-4 3 0 6 12 12 38 6 10 9 6 30 8" stroke="#000" stroke-opacity="0.7"/>
<path d="M2228 549l33 13 9 1 15-3 9 0 6 2 18 13 9 3 54 6 18 5 30 10 24 2 6 4 18 17 9 6 21 7 27 5 27 1 6-2 3-2 6-11 12-35 3-4 3 0 6 13 12 38 6 10 9 6 30 13" stroke="#000" stroke-opacity="0.7"/>
<path d="M2228 629l24 1 12 0 24-10 6-1 6 2 18 10 12 5 48 8 42 9 12 1 18-8 6 0 6 3 15 15 12 6 33 8 39 7 12-2 6-4 9-11 6-3 6 4 12 17 6 4 9 3 30 4" stroke="#0a9a0a" stroke-opacity="0.5"/>
<path d="M2228 578l24 5 12 0 9-2 15-7 6 0 9 6 18 18 18 10 66 24 18 5 9-1 18-15 6-1 6 5 12 17 9 8 9 4 15 2 48 4 12-1 6-4 3-4 12-25 3-4 3-1 6 7 12 27 6 8 9 4 30 6" stroke="#0a9a0a" stroke-opacity="0.7"/>
<path d="M2228 612l15 3 45 12 9 4 21 17 12 7 18 7 21 4 24 1 27-3 12-3 18-9 9-1 21 6 39 9 48 19 6-2 3-3 12-24 3-3 3-1 6 10 12 33 6 9 6 4 6 2 27 2" stroke="#000" stroke-opacity="0.4"/>
<path d="M2228 609l39 8 21-3 6 1 9 5 15 15 12 9 15 5 18 3 27 1 36-2 9-3 18-12 6 0 6 3 12 11 9 6 72 25 18 5 21 1 24 8 36 4" stroke="#0a9a0a" stroke-opacity="0.6"/>
<path d="M2228 543l24 6 12 2 9-1 15-4 6 0 6 2 18 14 12 6 87 30 15 3 18-6 6 1 6 3 15 15 12 7 27 5 42 6 9-1 6-8 6-17 9-38 3-9 3-3 3 3 3 10 12 53 6 15 3 4 6 5 30 11" stroke="#000" stroke-opacity="0.2"/>
<path d="M2228 571l21 4 12 1 9-2 18-11 6 0 6 4 21 23 15 8 72 21 15 3 9-2 18-15 6 0 6 5 15 21 9 6 15 5 57 10 9 0 6-4 15-26 3-3 3 0 6 9 12 28 6 7 9 5 30 9" stroke="#004d00" stroke-opacity="0.8"/>
<path d="M2228 572l21 10 12 3 9-1 15-7 6 0 6 3 21 22 9 5 12 2 84 6 9-4 15-15 6-1 6 6 15 24 12 11 36 14 36 11 6-1 6-4 6-11 9-24 3-4 3-2 3 3 3 7 12 34 6 10 9 5 33 5" stroke="#0a9a0a" stroke-opacity="0.7"/>
<path d="M2228 561l18 7 12 2 9-1 15-6 9-1 6 2 18 14 9 5 39 10 48 16 9 2 9-1 18-9 6 0 6 3 15 13 6 4 45 8 36 11 6-1 3-2 6-8 9-16 3-3 3 0 6 11 12 31 6 9 12 8 30 8" stroke="#000" stroke-opacity="0.7"/>
<path d="M2228 607l27 6 12 0 9-3 15-9 6-1 9 7 12 15 9 9 9 5 12 4 42 10 36 5 9-2 18-12 6-1 6 3 15 14 9 5 72 12 9 1 6-2 6-5 9-11 6-3 6 5 12 19 6 5 9 3 27 6" stroke="#0a9a0a" stroke-opacity="0.4"/>
<path d="M2228 624l33 2 9-1 18-7 6 0 6 2 18 12 9 4 84 21 18 2 21-6 6 0 21 15 9 3 21 4 51 5 9 0 6-5 15-28 3-3 3-1 6 9 12 28 6 7 9 4 30 8" stroke="#000" stroke-opacity="0.2"/>
<path d="M2228 612l36 10 9 0 15-4 6 0 9 5 15 12 9 5 12 4 24 4 63 6 9-1 18-8 6 0 21 16 9 4 72 16 9-1 6-4 12-23 6-7 3 1 3 3 12 26 9 10 9 3 27 3" stroke="#0a9a0a" stroke-opacity="0.5"/>
<path d="M2228 576l27 6 12 2 9-1 15-5 6 0 9 5 18 16 12 6 33 9 48 10 18 1 18-8 6 0 6 2 15 13 9 5 78 21 6 0 6-3 12-15 6-3 6 6 12 21 6 7 9 4 27 7" stroke="#000" stroke-opacity="0.5"/>
<path d="M2228 604l33-1 9-3 18-11 9-1 6 3 18 15 9 5 96 36 9 1 21-1 27 14 27 3 60 0 6-2 12-7 6-2 6 3 12 11 6 4 39 14" stroke="#0a9a0a" stroke-opacity="0.3"/>
<path d="M2228 571l24 5 12 1 9-2 15-7 6-1 9 5 18 18 12 7 24 6 63 14 12 0 18-10 6-1 6 4 18 20 9 6 45 16 30 9 6-1 6-3 12-19 6-5 3 1 3 4 12 24 6 8 9 4 30 5" stroke="#004d00" stroke-opacity="0.8"/>
<path d="M2228 518l24 9 12 3 9-1 15-6 9 1 6 4 18 19 12 7 24 8 57 15 18 3 21-7 6 1 21 18 9 5 75 26 6-1 6-5 15-38 3-3 3 1 3 6 12 41 9 18 9 7 27 10" stroke="#000" stroke-opacity="0.4"/>
<path d="M2228 537l33 6 24-2 9 1 30 16 45 16 51 21 12 3 21 1 24 15 9 4 27 7 42 8 9 0 6-4 6-12 9-27 3-6 3-3 3 1 3 7 12 40 6 12 9 8 33 11" stroke="#000" stroke-opacity="0.6"/>
<path d="M2228 551l30 6 9 0 18-4 9 1 30 16 45 14 48 17 12 3 24 0 24 15 21 6 66 15 27 1 24 13 42 16" stroke="#000" stroke-opacity="0.5"/>
<path d="M2228 604l36 7 30 0 39 16 84 16 15 1 18-4 6 0 6 2 18 11 12 5 99 21 66 13" stroke="#000" stroke-opacity="0.3"/>
<path d="M2228 545l33 8 9 0 18-3 6 0 24 14 12 5 93 24 9 0 15-4 6 0 6 2 18 17 9 6 39 15 36 12 6 0 6-4 15-28 3-3 3 0 6 11 12 30 6 8 9 5 30 7" stroke="#000" stroke-opacity="0.5"/>
<path d="M2228 580l21 3 12-1 9-2 18-11 6-1 9 6 15 15 12 7 90 23 6 0 6-2 18-17 6 0 6 5 15 23 9 7 15 6 60 17 6 0 6-3 15-28 3-3 3 0 6 10 12 29 6 8 9 4 30 7" stroke="#0a9a0a" stroke-opacity="0.6"/>
<path d="M2228 551l21 5 12 1 9-2 18-13 6 0 6 4 21 24 12 7 90 25 9-1 18-13 6 0 6 5 15 21 9 8 21 8 51 14 9 1 6-2 15-18 3-2 3 0 6 7 12 21 6 5 9 4 30 7" stroke="#0a9a0a" stroke-opacity="0.7"/>
<path d="M2228 572l33 2 9-2 18-8 9-1 33 24 81 34 12 3 9 0 6-2 12-8 6-1 6 3 15 13 9 4 42 8 36 10 6 0 6-3 12-15 3-3 3-1 6 7 12 24 6 7 12 7 27 6" stroke="#000" stroke-opacity="0.8"/>
<path d="M2228 581l33 7 9-1 18-6 6 0 9 4 18 12 12 4 45 10 48 12 9 0 15-5 6 1 6 4 15 14 12 6 33 10 36 6 9-1 6-6 6-14 9-30 3-6 3-1 3 3 3 8 12 40 6 11 9 5 30 5" stroke="#000" stroke-opacity="0.3"/>
<path d="M2228 564l27 13 12 4 9 0 15-3 9 1 24 19 12 4 57 5 42 8 21-1 9 4 18 19 15 8 30 10 30 5 12-2 6-7 6-17 9-39 3-10 3-4 3 2 3 8 12 52 6 15 3 4 6 4 27 8" stroke="#000" stroke-opacity="0.4"/>
<path d="M2228 616l24 3 12-1 9-2 15-8 9-1 30 15 48 10 51 18 9 0 15-5 6 0 6 3 12 13 9 7 9 3 12 2 27 2 36-1 9-3 12-13 6-3 6 4 12 15 6 5 39 12" stroke="#0a9a0a" stroke-opacity="0.4"/>
<path d="M2228 571l24 5 12 0 9-3 15-12 6-1 9 5 18 21 6 5 9 4 90 23 9-1 15-8 6 0 6 3 18 19 9 5 30 9 42 10 9-1 6-6 12-29 3-5 3-3 3 2 3 5 12 34 6 10 9 6 30 7" stroke="#0a9a0a" stroke-opacity="0.5"/>
<path d="M2228 632l36 4 9-2 15-6 6 0 9 3 21 15 15 4 84 15 12 0 15-3 6-1 6 2 18 11 12 4 75 13 9 0 18-3 24 10 39 7" stroke="#000" stroke-opacity="0.3"/>
<path d="M2228 605l39 10 9 0 15-3 6 0 6 3 24 15 12 4 15 2 72 4 9-1 18-8 6 0 6 2 18 14 12 4 75 20 9 0 12-6 6 0 6 3 12 11 6 3 36 6" stroke="#0a9a0a" stroke-opacity="0.4"/>
<path d="M2228 543l39 14 9 0 15-2 6 0 6 3 24 19 12 4 18 5 72 12 9 0 15-6 6 0 6 3 15 13 9 5 78 28 6-2 6-7 12-35 3-7 3-2 3 3 3 8 12 44 6 12 9 8 27 8" stroke="#000" stroke-opacity="0.6"/>
</g></g>
<path d="M743.6,248.6 L885.2,248.6" stroke="#b3b3b3" stroke-width="1.2"/>
<clipPath id="t3"><rect x="742.6" y="248.6" width="143.6" height="16"/></clipPath><g clip-path="url(#t3)">
<text class="k" x="744" y="260.5">1.250</text>
<text class="k" x="791" y="260.5">1.240</text>
<text class="k" x="836.2" y="260.5">1.230</text>
<text class="k" x="879" y="260.5">1.220</text>
</g>
<path d="M744,248.6 L744,251.6 M791,248.6 L791,251.6 M836.2,248.6 L836.2,251.6 M879,248.6 L879,251.6 M744,248.6 L744,250.6 M767.5,248.6 L767.5,250.6 M791,248.6 L791,250.6 M814.5,248.6 L814.5,250.6 M838,248.6 L838,250.6 M861.5,248.6 L861.5,250.6 M885,248.6 L885,250.6" stroke="#999" stroke-width="0.8"/>
<path class="a" d="M923,152V249.2H1065"/>
<text class="y" x="920.8" y="154.4">50</text>
<text class="y" x="920.8" y="173.8">40</text>
<text class="y" x="920.8" y="193.3">30</text>
<text class="y" x="920.8" y="212.7">20</text>
<text class="y" x="920.8" y="232.2">10</text>
<text class="y" x="920.8" y="251.6">0</text>
<text class="u" x="898" y="200.6" transform="rotate(-90 898 200.6)" dy="2.8">A.U.</text>
<path class="w" d="M959.4,168.5V185.7M959.4,204V213.6M947.9,168.5h22.9M947.9,213.6h22.9"/>
<rect class="b" x="936.5" y="185.7" width="45.7" height="18.3" fill="#888"/>
<path class="m" d="M936.5,197.6H982.2"/>
<path class="w" d="M1029.8,195V199.2M1029.8,207.5V217.4M1018.4,195h22.8M1018.4,217.4h22.8"/>
<rect class="b" x="1007" y="199.2" width="45.5" height="8.3" fill="#00c000"/>
<path class="m" d="M1007,203.5H1052.5"/>
<path class="t" d="M920.5,152h2.5M920.5,171.4h2.5M920.5,190.9h2.5M920.5,210.3h2.5M920.5,229.8h2.5M920.5,249.2h2.5M959.4,249.2v3M1029.8,249.2v3"/>
<text class="x" x="958.9" y="256.7" transform="rotate(-45 958.9 256.7)" dy="4">HC</text>
<text class="x" x="1029.2" y="256.7" transform="rotate(-45 1029.2 256.7)" dy="4">HESN</text>
<path class="st" d="M994.3,160.3l0,-3.3M994.3,160.3l3.1,-1M994.3,160.3l1.9,2.7M994.3,160.3l-1.9,2.7M994.3,160.3l-3.1,-1"/>
<path class="pl" d="M990.8,174h7M994.3,170.5v7"/>
<rect x="803.6" y="116.1" width="184.8" height="18.5" fill="#fff"/><text x="896" y="129.6" font-size="17.5" font-weight="bold" text-anchor="middle">LDL1 (aliphatic chain)</text>
<g fill="none" stroke-width="0.9" clip-path="url(#c3)"><path d="M850,222 C856,215 858,153 863,151 C868,153 870,210 876,218 C880,222 883,224 886,226" stroke="#777"/><path d="M850,224 C856,219 859,178 863,176 C867,178 870,213 876,222" stroke="#5cb85c"/><path d="M850,224 C856,220 859,190 863,188 C867,190 870,215 876,223" stroke="#333"/></g>
<clipPath id="c4"><rect x="1104.8" y="138" width="144.7" height="112.4"/></clipPath>
<rect x="1104.8" y="138" width="144.7" height="112.4" fill="none" stroke="#e6e6e6" stroke-width="1"/>
<g clip-path="url(#c4)" fill="none" stroke-linejoin="round"><g transform="scale(0.333333)" stroke-width="3">
<path d="M3311 705l39-1 12-2 12-3 9-6 6-5 15-22 6-5 6 3 12 18 9 9 9 6 12 3 27 2 75 0 27-1 18-3 9-3 9-5 12-13 9-19 12-36 3-6 3-3 3 2 3 6 15 43 6 12 6 8 9 8 12 5 15 3 18 2" stroke="#0a9a0a" stroke-opacity="0.4"/>
<path d="M3311 699l18-1 18-6 12-6 12-12 9-14 6-14 18-66 3-6 3 0 6 14 9 34 9 25 9 15 6 7 9 6 15 7 18 5 21 4 21 3 18 0 18-3 15-4 12-5 12-9 9-11 9-16 6-16 9-38 12-76 6-25 3 1 3 9 18 106 6 22 6 16 9 16 12 13 15 10 18 8" stroke="#0a9a0a" stroke-opacity="0.3"/>
<path d="M3311 674l24-6 15-6 12-9 12-16 9-22 6-22 18-108 3-10 3-1 6 24 9 60 9 46 9 28 6 12 9 12 12 9 12 6 18 4 21 2 24-1 21-3 18-5 15-8 9-7 9-12 9-18 6-19 9-43 15-109 3-11 3-1 6 29 15 107 6 27 6 19 9 19 9 12 15 11 18 8" stroke="#000" stroke-opacity="0.7"/>
<path d="M3311 674l24 1 15-2 12-5 12-9 6-9 6-13 18-65 3-7 3-1 3 4 3 9 12 46 6 16 6 12 6 8 12 8 9 4 12 1 33-1 63-7 15-4 12-4 9-7 9-10 6-10 6-15 9-35 15-92 3-11 3-1 3 8 3 15 15 94 6 24 6 17 9 16 12 13 15 8 18 6" stroke="#000" stroke-opacity="0.5"/>
<path d="M3311 703l39-7 15-4 12-6 12-10 18-26 6-4 6 5 15 23 12 10 21 10 33 7 30 3 27 0 27-3 27-7 15-6 12-8 9-10 12-18 6-3 6 5 15 21 12 10 21 9 30 7" stroke="#000" stroke-opacity="0.4"/>
<path d="M3311 708l36-1 24-3 15-5 15-8 6-2 6 1 15 8 9 3 30 3 96 3 45 0 24-4 27-12 6 1 15 7 12 3 57 3" stroke="#000" stroke-opacity="0.8"/>
<path d="M3311 698l39-2 12-3 12-7 12-15 15-35 6-10 3 0 3 3 12 31 9 17 12 13 12 6 24 4 33-1 54-6 30-8 9-4 9-7 9-10 6-11 9-26 12-52 6-16 3 1 3 7 15 65 6 19 9 18 9 12 12 9 15 6 18 5" stroke="#0a9a0a" stroke-opacity="0.7"/>
<path d="M3311 683l21-4 18-5 12-7 12-13 6-11 6-14 15-59 6-17 3 0 3 6 12 48 9 28 9 17 6 7 9 7 12 5 15 4 45 4 45-1 15-3 12-5 9-5 9-9 6-9 6-13 9-31 12-62 6-20 3 1 3 8 15 75 6 21 9 21 9 12 12 9 15 6 18 3" stroke="#0a9a0a" stroke-opacity="0.6"/>
<path d="M3311 679l21-1 15-3 12-6 12-11 6-9 6-13 6-19 12-50 3-9 3-3 3 2 3 8 12 47 9 25 9 14 12 10 12 6 15 4 57 9 33 0 12-2 12-4 9-5 9-8 9-12 6-12 9-29 15-75 3-10 3-4 3 4 3 10 15 73 6 19 6 14 9 14 12 10 15 8 21 7" stroke="#000" stroke-opacity="0.4"/>
<path d="M3311 709l39-4 24-5 12-5 18-13 6-2 6 2 15 13 12 6 21 5 27 3 48 1 66-6 30-6 21-9 6-2 6 2 18 10 12 4 24 4 27 2" stroke="#000" stroke-opacity="0.4"/>
<path d="M3311 706l36 0 24-3 15-5 18-10 6-2 24 12 24 4 84 5 51-2 21-4 15-5 12-10 15-18 6-2 6 5 15 18 12 8 21 6 33 3" stroke="#000" stroke-opacity="0.6"/>
<path d="M3311 699l39-3 24-5 9-5 6-5 15-20 6-5 6 4 12 16 9 8 9 5 15 4 27 3 48 0 42-2 24-4 18-6 12-10 12-20 12-31 3-5 3-2 3 2 3 5 15 38 12 17 9 7 12 6 15 4 18 2" stroke="#000" stroke-opacity="0.7"/>
<path d="M3311 680l21-3 18-6 12-6 12-12 6-10 6-14 6-19 12-51 3-8 3-3 3 3 3 8 12 50 9 26 9 15 6 7 9 6 12 6 15 4 45 4 24-1 18-1 15-4 12-5 9-5 9-9 6-9 6-13 9-30 15-80 3-11 3-3 3 5 3 11 15 78 6 21 6 14 9 14 12 10 15 7 18 5" stroke="#000" stroke-opacity="0.4"/>
<path d="M3311 701l36 2 24-2 12-5 18-16 6-2 6 2 18 13 9 3 12 1 57 1 72 6 27 0 12-2 12-3 21-13 6-3 6 2 15 8 12 3 57 3" stroke="#000" stroke-opacity="0.3"/>
<path d="M3311 701l39 0 12-2 12-5 9-8 6-9 18-43 3-4 3-1 6 9 9 24 9 17 9 10 12 6 12 3 15 2 66 0 33-2 21-6 9-5 9-8 12-19 9-26 15-67 3-8 3 0 6 17 15 65 6 17 6 11 9 11 9 7 15 7 18 4" stroke="#0a9a0a" stroke-opacity="0.3"/>
<path d="M3311 706l39-2 24-4 15-4 18-10 6-1 24 10 18 3 144 5 21-1 15-2 9-3 15-8 6-1 21 13 12 5 21 3 30 2" stroke="#000" stroke-opacity="0.8"/>
<path d="M3311 721l60 0 15-2 21-8 24 8 18 1 75-2 84 1 24-3 27-11 6 1 15 7 12 2 57 1" stroke="#0a9a0a" stroke-opacity="0.4"/>
<path d="M3311 706l21-3 18-4 15-6 9-6 12-13 15-30 6-8 3 1 3 3 15 32 12 17 15 10 24 8 24 3 27-1 57-8 27-6 12-7 9-8 6-9 12-26 6-7 3 1 3 4 18 38 12 13 9 6 12 3 15 1 18 0" stroke="#004d00" stroke-opacity="0.8"/>
<path d="M3311 683l21-3 18-5 12-7 12-13 6-11 6-15 6-22 12-56 3-10 3-3 3 4 3 10 12 57 9 29 9 18 12 13 12 7 15 5 18 3 21 2 24 0 21-2 18-4 12-6 9-6 9-9 9-15 6-16 9-36 15-95 3-13 3-3 3 6 3 14 15 92 6 24 6 17 9 15 12 12 15 7 18 4" stroke="#0a9a0a" stroke-opacity="0.7"/>
<path d="M3311 687l21-4 18-7 15-9 9-11 6-10 6-15 18-71 3-7 3-1 3 5 3 10 12 53 9 27 12 21 12 10 12 7 15 4 15 2 18 0 21-3 24-5 18-5 15-7 9-6 9-10 9-15 6-15 9-36 15-93 3-10 3-1 6 24 15 94 6 24 6 17 9 16 12 13 15 8 18 4" stroke="#0a9a0a" stroke-opacity="0.4"/>
<path d="M3311 719l63-2 36-7 24 5 18 2 108 4 63-1 15-2 24-7 33 6 54 0" stroke="#0a9a0a" stroke-opacity="0.3"/>
<path d="M3311 681l24-5 18-7 15-10 9-11 6-12 6-16 15-66 6-19 3 0 3 7 15 69 6 21 6 14 6 10 12 12 12 7 12 4 15 3 18 0 24-1 24-3 21-4 15-5 9-5 9-8 9-11 6-13 9-29 12-59 6-18 3 0 3 8 15 74 6 21 9 21 9 12 12 10 12 6 18 5" stroke="#0a9a0a" stroke-opacity="0.4"/>
<path d="M3311 708l39-6 21-8 9-7 6-7 15-27 6-6 3 1 3 3 15 28 9 11 15 10 18 5 27 3 36 0 48-4 30-5 15-7 9-7 6-8 12-21 6-6 3 2 3 3 18 31 12 11 9 4 12 4 33 5" stroke="#0a9a0a" stroke-opacity="0.3"/>
<path d="M3311 704l39-2 12-2 12-5 12-8 18-25 6-4 6 5 12 17 9 10 9 5 15 4 27 3 42 0 45-2 27-3 18-6 12-9 9-12 15-32 3-4 3-1 6 7 15 32 12 14 9 6 12 4 33 5" stroke="#0a9a0a" stroke-opacity="0.7"/>
<path d="M3311 706l39-4 12-4 12-6 12-12 18-36 3-4 3-1 6 7 12 26 6 10 9 9 15 8 27 5 39 3 45-1 30-4 18-7 9-7 6-7 9-16 15-41 3-5 3-1 3 3 3 6 15 41 12 18 9 7 12 6 15 3 18 2" stroke="#0a9a0a" stroke-opacity="0.3"/>
<path d="M3311 703l36 0 24-4 12-4 21-18 6-2 24 17 9 3 15 3 60 1 69 6 24 0 21-3 9-4 15-11 6-1 18 10 12 3 18 1 39-1" stroke="#000" stroke-opacity="0.4"/>
<path d="M3311 700l39-2 21-3 12-6 18-16 6-2 6 3 18 16 12 6 12 2 21 2 33-1 63-2 27-3 18-5 12-8 9-12 15-30 3-4 3-1 6 7 15 31 12 13 9 6 12 4 36 3" stroke="#000" stroke-opacity="0.5"/>
<path d="M3311 715l42-3 21-3 15-6 15-10 6-2 6 1 15 11 15 7 18 4 30 3 57 2 57-3 27-5 27-12 6 1 15 7 12 3 54 5" stroke="#0a9a0a" stroke-opacity="0.4"/>
<path d="M3311 715l39-2 24-2 12-3 21-10 6-1 24 11 18 3 36 2 81 1 36 0 21-2 12-4 18-10 6 0 21 11 12 4 21 2 30 1" stroke="#0a9a0a" stroke-opacity="0.3"/>
<path d="M3311 667l21-5 18-7 12-9 9-12 9-20 6-20 15-79 3-12 3-5 3 3 3 9 12 65 9 35 9 21 6 8 9 9 12 7 15 4 18 3 24 1 24-1 21-3 15-5 12-6 9-8 9-13 9-20 6-21 9-48 12-95 3-16 3-7 3 4 3 16 12 94 6 37 6 26 6 18 9 17 12 14 15 10 18 6" stroke="#000" stroke-opacity="0.4"/>
<path d="M3311 688l21-3 18-4 12-5 12-9 6-8 6-11 18-56 3-6 3-1 3 3 3 7 12 41 9 20 6 9 9 9 18 9 33 5 45 1 39-3 24-6 15-11 9-11 9-20 12-37 3-5 3-1 3 3 3 7 15 43 6 11 6 8 9 8 12 5 15 4 18 3" stroke="#000" stroke-opacity="0.4"/>
<path d="M3311 697l24-3 15-3 12-6 9-7 9-12 6-13 15-48 3-8 3-3 3 2 3 6 15 49 9 18 12 13 9 5 9 4 33 4 54 1 36-3 21-6 12-8 9-12 9-19 12-38 3-6 3-3 3 2 3 6 12 37 6 15 12 17 9 7 12 5 33 7" stroke="#0a9a0a" stroke-opacity="0.5"/>
<path d="M3311 679l24-2 15-3 12-6 9-6 9-12 6-12 15-48 3-7 3-3 3 1 3 6 12 39 9 21 9 12 12 9 12 4 12 3 45 3 45-2 18-2 12-4 9-4 9-7 9-11 6-11 9-26 12-50 3-9 3-4 3 3 3 7 12 50 6 19 6 14 6 10 9 9 12 8 15 5 18 4" stroke="#000" stroke-opacity="0.2"/>
<path d="M3311 685l45-12 12-6 9-6 12-17 15-38 3-6 3-2 3 2 3 6 15 43 9 16 12 13 15 8 24 5 27-1 45-8 36-11 12-6 9-8 12-18 6-16 6-22 12-58 3-10 3-4 3 4 3 10 12 61 6 24 6 17 6 12 9 11 12 10 12 5 18 4" stroke="#0a9a0a" stroke-opacity="0.6"/>
<path d="M3311 697l39-2 12-3 12-5 12-9 18-29 3-4 3-1 6 5 12 21 6 8 9 8 15 6 21 3 36 1 54-2 33-3 18-5 12-7 9-10 15-26 3-3 3-1 6 6 15 27 12 12 9 4 12 4 33 5" stroke="#000" stroke-opacity="0.7"/>
<path d="M3311 708l33-3 27-7 15-8 18-18 6-3 6 3 15 15 12 7 18 6 30 4 27 2 27 0 69-6 21-6 9-6 12-10 6-2 6 3 15 13 12 6 21 4 33 2" stroke="#000" stroke-opacity="0.5"/>
</g></g>
<path d="M1104.8,251.9 L1249.5,251.9" stroke="#b3b3b3" stroke-width="1.2"/>
<clipPath id="t4"><rect x="1103.8" y="251.9" width="146.7" height="16"/></clipPath><g clip-path="url(#t4)">
<text class="k" x="1130" y="261.8">1.215</text>
<text class="k" x="1167.5" y="261.8">1.210</text>
<text class="k" x="1203.8" y="261.8">1.205</text>
<text class="k" x="1240" y="261.8">1.200</text>
</g>
<path d="M1130,251.9 L1130,254.9 M1167.5,251.9 L1167.5,254.9 M1203.8,251.9 L1203.8,254.9 M1240,251.9 L1240,254.9 M1111.2,251.9 L1111.2,253.9 M1130,251.9 L1130,253.9 M1148.8,251.9 L1148.8,253.9 M1167.5,251.9 L1167.5,253.9 M1186.2,251.9 L1186.2,253.9 M1205,251.9 L1205,253.9 M1223.8,251.9 L1223.8,253.9 M1242.5,251.9 L1242.5,253.9" stroke="#999" stroke-width="0.8"/>
<path class="a" d="M1286.3,152V251H1426.4"/>
<text class="y" x="1284.1" y="154.4">25</text>
<text class="y" x="1284.1" y="174.2">20</text>
<text class="y" x="1284.1" y="194">15</text>
<text class="y" x="1284.1" y="213.8">10</text>
<text class="y" x="1284.1" y="233.6">5</text>
<text class="y" x="1284.1" y="253.4">0</text>
<text class="u" x="1261.3" y="201.5" transform="rotate(-90 1261.3 201.5)" dy="2.8">A.U.</text>
<path class="w" d="M1321.8,202V215.7M1321.8,225.6V232M1310.4,202h22.9M1310.4,232h22.9"/>
<rect class="b" x="1299" y="215.7" width="45.7" height="9.9" fill="#888"/>
<path class="m" d="M1299,220.5H1344.7"/>
<path class="w" d="M1391.2,175.6V225M1391.2,229.9V234.4M1379.7,175.6h22.9M1379.7,234.4h22.9"/>
<rect class="b" x="1368.3" y="225" width="45.7" height="4.9" fill="#00c000"/>
<path class="m" d="M1368.3,227.3H1414"/>
<path class="t" d="M1283.8,152h2.5M1283.8,171.8h2.5M1283.8,191.6h2.5M1283.8,211.4h2.5M1283.8,231.2h2.5M1283.8,251h2.5M1321.8,251v3M1391.2,251v3"/>
<text class="x" x="1321.3" y="258.5" transform="rotate(-45 1321.3 258.5)" dy="4">HC</text>
<text class="x" x="1390.7" y="258.5" transform="rotate(-45 1390.7 258.5)" dy="4">HESN</text>
<path class="st" d="M1350.7,160.3l0,-3.3M1350.7,160.3l3.1,-1M1350.7,160.3l1.9,2.7M1350.7,160.3l-1.9,2.7M1350.7,160.3l-3.1,-1M1359.3,160.3l0,-3.3M1359.3,160.3l3.1,-1M1359.3,160.3l1.9,2.7M1359.3,160.3l-1.9,2.7M1359.3,160.3l-3.1,-1"/>
<path class="pl" d="M1351.5,174h7M1355,170.5v7"/>
<rect x="1186.8" y="115.5" width="155.7" height="18.5" fill="#fff"/><text x="1264.6" y="129" font-size="17.5" font-weight="bold" text-anchor="middle">3-hydroxybutyrate</text>
<clipPath id="c5"><rect x="21.3" y="298.4" width="142" height="110.6"/></clipPath>
<rect x="21.3" y="298.4" width="142" height="110.6" fill="none" stroke="#e6e6e6" stroke-width="1"/>
<g clip-path="url(#c5)" fill="none" stroke-linejoin="round"><g transform="scale(0.333333)" stroke-width="3">
<path d="M61 1122l52 6 45 0 38-5 71-16 19-2 19 0 7 2 8 4 37 32 19 11 22 8 94 24" stroke="#0a9a0a" stroke-opacity="0.6"/>
<path d="M61 1129l26 1 23-2 18-4 19-7 15-7 19-12 56-46 23-16 22-9 19-2 7 3 12 15 37 86 11 18 12 13 15 9 18 6 79 10" stroke="#000" stroke-opacity="0.7"/>
<path d="M61 1072l26 0 23-1 22-5 19-6 15-7 19-12 56-43 19-12 22-9 19-1 7 4 8 10 11 25 19 51 11 27 11 19 12 13 11 8 11 5 56 13 34 9" stroke="#000" stroke-opacity="0.6"/>
<path d="M61 1126l124-7 26-5 56-14 19-2 15 1 7 2 12 9 30 34 15 14 11 8 11 6 19 7 22 4 23 1 41 0" stroke="#000" stroke-opacity="0.7"/>
<path d="M61 1114l30 2 22 1 19-2 19-4 15-6 19-8 52-32 23-11 22-7 19-1 7 3 8 7 7 10 34 58 11 13 12 9 11 5 19 6 82 13" stroke="#004d00" stroke-opacity="0.8"/>
<path d="M61 1107l41 9 19 2 15 0 30-5 52-17 23-5 22-2 23 1 22 5 8 4 11 10 30 32 19 11 19 5 56 6 41 11" stroke="#0a9a0a" stroke-opacity="0.7"/>
<path d="M61 1130l52 0 38-5 37-12 57-26 18-8 23-5 19 0 7 3 8 7 37 56 11 13 12 8 15 7 18 5 79 11" stroke="#000" stroke-opacity="0.7"/>
<path d="M61 1148l26-2 26 1 79 15 30 4 30 0 56-5 15 1 128 27 41 7" stroke="#0a9a0a" stroke-opacity="0.3"/>
<path d="M61 1099l56 16 19 1 15-2 15-6 19-12 52-48 19-13 11-6 11-4 19 0 8 3 3 3 8 9 41 88 11 16 12 11 15 9 15 4 82 10" stroke="#000" stroke-opacity="0.4"/>
<path d="M61 1134l56 8 45 3 38 0 71-3 34 0 11 3 37 16 19 5 120 15" stroke="#0a9a0a" stroke-opacity="0.3"/>
<path d="M61 1086l71-4 19-2 19-5 15-6 18-10 53-38 15-9 19-7 15 0 7 6 8 11 30 69 11 22 11 17 11 12 23 16 26 10 30 6 30 0" stroke="#000" stroke-opacity="0.3"/>
<path d="M61 1135l26 1 23-2 18-3 19-5 19-7 19-9 56-35 19-9 22-8 19 0 7 2 12 12 37 72 11 15 12 10 15 7 15 3 82 7" stroke="#000" stroke-opacity="0.8"/>
<path d="M61 1107l26 1 23 0 18-3 19-6 15-7 19-12 56-45 19-13 11-5 11-4 19 0 8 2 3 3 8 9 11 23 30 72 11 19 15 16 15 9 23 6 30 2 41-2" stroke="#000" stroke-opacity="0.5"/>
<path d="M61 1115l60 4 37 1 34-2 75-8 38 1 15 6 37 29 23 12 37 10 75 12" stroke="#000" stroke-opacity="0.6"/>
<path d="M61 1154l45 5 41-2 34-6 79-22 22-3 19 0 7 1 8 4 41 38 11 7 12 5 15 4 18 2 79 3" stroke="#004d00" stroke-opacity="0.8"/>
<path d="M61 1092l22 0 53 4 15-1 15-6 15-9 15-13 45-50 19-18 11-8 7-3 12-2 7 1 8 2 3 3 8 11 11 28 19 56 11 29 11 22 12 14 11 7 11 3 11 0 45-3 15 1 19 5" stroke="#000" stroke-opacity="0.5"/>
<path d="M61 1102l26 1 23-1 18-3 19-5 15-6 19-10 60-39 19-10 22-7 19 0 7 3 8 9 7 14 34 73 11 16 12 11 15 9 15 4 82 13" stroke="#000" stroke-opacity="0.7"/>
<path d="M61 1132l64 9 22 0 19-1 34-7 71-24 19-4 15-1 7 2 8 5 37 38 23 15 22 9 38 11 30 8 22 4" stroke="#004d00" stroke-opacity="0.7"/>
<path d="M61 1088l26 3 23 1 22-3 19-4 15-6 19-9 60-39 18-10 23-7 19 1 7 3 8 8 11 20 30 64 11 17 11 11 15 9 15 5 79 17" stroke="#000" stroke-opacity="0.4"/>
<path d="M61 1107l49 4 18-1 19-2 19-5 19-7 56-26 19-7 22-5 19 0 7 3 8 7 41 61 11 12 12 8 11 6 19 5 82 15" stroke="#0a9a0a" stroke-opacity="0.4"/>
<path d="M61 1141l26-1 53 3 22 0 26-4 57-12 30 0 18 3 15 5 12 7 33 29 12 6 11 4 22 2 60-6 34 3" stroke="#0a9a0a" stroke-opacity="0.6"/>
<path d="M61 1099l22 0 27-4 22-7 64-25 45-14 37-10 27-3 7 3 8 7 37 64 11 14 12 11 18 10 34 12 30 8 30 5" stroke="#000" stroke-opacity="0.7"/>
<path d="M61 1143l90 8 109 2 41 3 15 3 41 16 23 6 33 5 79 7" stroke="#004d00" stroke-opacity="0.8"/>
<path d="M61 1124l19 3 18 1 15-2 15-4 30-14 49-32 23-12 22-8 23-1 22 5 11 8 12 16 30 56 11 14 11 9 8 3 11 3 60-3 19 2 22 4" stroke="#004d00" stroke-opacity="0.8"/>
<path d="M61 1168l79 2 33-1 30-6 64-17 19-3 15 0 7 1 8 3 45 35 11 6 15 5 19 4 22 2 64-1" stroke="#0a9a0a" stroke-opacity="0.7"/>
<path d="M61 1092l30 1 22-1 19-3 19-6 15-6 19-11 60-47 18-12 12-5 11-3 19 0 7 4 8 11 37 90 11 20 12 13 15 11 15 5 82 16" stroke="#000" stroke-opacity="0.5"/>
<path d="M61 1121l52 3 49-3 38-8 71-23 19-3 15 0 7 3 8 5 37 44 11 10 15 9 15 6 23 5 71 12" stroke="#0a9a0a" stroke-opacity="0.3"/>
<path d="M61 1154l41 7 34 2 30 0 75-5 37 1 34 6 53 18 33 9 42 4 52 0" stroke="#0a9a0a" stroke-opacity="0.5"/>
<path d="M61 1136l52 9 19 0 15-2 15-5 15-6 53-30 18-8 27-7 22 1 11 3 8 7 37 53 12 11 11 8 19 6 48 6 49 10" stroke="#0a9a0a" stroke-opacity="0.5"/>
<path d="M61 1078l22 2 19-1 19-5 19-7 18-12 19-15 56-55 23-18 11-7 11-4 12-2 11 0 7 5 8 13 7 19 23 70 11 30 11 22 12 15 11 9 15 7 86 21" stroke="#000" stroke-opacity="0.4"/>
<path d="M61 1156l67 13 19 2 15-1 15-2 19-4 67-24 19-3 15 0 11 2 8 4 45 36 15 8 15 5 19 4 22 2 60-4" stroke="#0a9a0a" stroke-opacity="0.7"/>
<path d="M61 1155l26-1 64-8 37 0 38 5 131 32 23 2 63 1 49 5" stroke="#0a9a0a" stroke-opacity="0.3"/>
<path d="M61 1098l22-1 19-3 19-5 19-10 15-10 18-15 57-57 22-20 11-7 12-5 11-2 11 0 8 3 3 4 8 14 37 115 12 25 11 16 11 9 15 6 90 13" stroke="#000" stroke-opacity="0.6"/>
<path d="M61 1120l22 0 27-5 82-25 34-8 30-3 30 2 19 4 7 4 11 11 34 41 11 9 12 7 18 7 30 8 38 8 26 3" stroke="#000" stroke-opacity="0.5"/>
<path d="M61 1168l79-1 120-7 45 1 15 3 37 16 19 5 116 13" stroke="#0a9a0a" stroke-opacity="0.5"/>
<path d="M61 1111l52-2 94-9 75-10 26-1 8 2 7 5 34 34 11 9 12 6 82 29 30 8" stroke="#000" stroke-opacity="0.5"/>
<path d="M61 1145l41 0 45-2 45-4 71-10 38-1 15 4 41 30 23 10 18 5 30 6 64 7" stroke="#000" stroke-opacity="0.7"/>
<path d="M61 1073l26 9 19 2 19-1 15-5 15-8 15-12 52-51 23-18 11-7 11-4 11-1 12 1 15 6 7 9 11 23 30 79 12 21 11 14 11 8 11 4 57 8 37 11" stroke="#000" stroke-opacity="0.7"/>
<path d="M61 1165l22 1 23 0 101-15 26-1 30 1 45 5 42 17 18 5 72 7 52 10" stroke="#0a9a0a" stroke-opacity="0.3"/>
<path d="M61 1075l64-1 18-3 19-6 15-8 19-13 49-46 18-14 19-10 11-2 8 1 7 5 8 12 7 17 23 66 11 28 11 22 12 14 7 7 11 7 23 8 30 4 41 2" stroke="#000" stroke-opacity="0.3"/>
<path d="M61 1108l56 4 19-1 19-3 15-5 18-7 57-32 18-9 19-6 19-1 7 2 12 12 37 66 11 14 12 10 18 11 23 7 37 9 34 6" stroke="#0a9a0a" stroke-opacity="0.6"/>
<path d="M61 1132l64 7 18 0 15-2 15-4 19-6 64-31 19-4 18-1 12 3 7 5 11 13 23 34 11 15 11 11 15 9 15 5 19 2 75-6" stroke="#000" stroke-opacity="0.2"/>
</g></g>
<path d="M21.3,410.5 L163.3,410.5" stroke="#b3b3b3" stroke-width="1.2"/>
<clipPath id="t5"><rect x="20.3" y="410.5" width="144" height="16"/></clipPath><g clip-path="url(#t5)">
<text class="k" x="26.5" y="421.8">1.33</text>
<text class="k" x="47.4" y="421.8">1.32</text>
<text class="k" x="68" y="421.8">1.31</text>
<text class="k" x="89" y="421.8">1.30</text>
<text class="k" x="110.2" y="421.8">1.29</text>
<text class="k" x="130.7" y="421.8">1.28</text>
<text class="k" x="151.2" y="421.8">1.27</text>
</g>
<path d="M26.5,410.5 L26.5,413.5 M47.4,410.5 L47.4,413.5 M68,410.5 L68,413.5 M89,410.5 L89,413.5 M110.2,410.5 L110.2,413.5 M130.7,410.5 L130.7,413.5 M151.2,410.5 L151.2,413.5 M26.5,410.5 L26.5,412.5 M37,410.5 L37,412.5 M47.4,410.5 L47.4,412.5 M57.9,410.5 L57.9,412.5 M68.3,410.5 L68.3,412.5 M78.8,410.5 L78.8,412.5 M89.2,410.5 L89.2,412.5 M99.7,410.5 L99.7,412.5 M110.1,410.5 L110.1,412.5 M120.6,410.5 L120.6,412.5 M131,410.5 L131,412.5 M141.5,410.5 L141.5,412.5 M151.9,410.5 L151.9,412.5 M162.3,410.5 L162.3,412.5" stroke="#999" stroke-width="0.8"/>
<path class="a" d="M205,308.8V404.6H343"/>
<text class="y" x="202.8" y="311.2">250</text>
<text class="y" x="202.8" y="330.4">200</text>
<text class="y" x="202.8" y="349.5">150</text>
<text class="y" x="202.8" y="368.7">100</text>
<text class="y" x="202.8" y="387.8">50</text>
<text class="y" x="202.8" y="407">0</text>
<text class="u" x="180" y="356.7" transform="rotate(-90 180 356.7)" dy="2.8">A.U.</text>
<path class="w" d="M239.9,338.2V347M239.9,366V374.7M228.7,338.2h22.3M228.7,374.7h22.3"/>
<rect class="b" x="217.6" y="347" width="44.6" height="19" fill="#888"/>
<path class="m" d="M217.6,361.2H262.2"/>
<path class="w" d="M308.2,324.5V363.1M308.2,378.3V385.5M297,324.5h22.3M297,385.5h22.3"/>
<rect class="b" x="285.9" y="363.1" width="44.6" height="15.2" fill="#00c000"/>
<path class="m" d="M285.9,372.8H330.5"/>
<path class="t" d="M202.5,308.8h2.5M202.5,328h2.5M202.5,347.1h2.5M202.5,366.3h2.5M202.5,385.4h2.5M202.5,404.6h2.5M239.9,404.6v3M308.2,404.6v3"/>
<text class="x" x="239.4" y="412.1" transform="rotate(-45 239.4 412.1)" dy="4">HC</text>
<text class="x" x="307.7" y="412.1" transform="rotate(-45 307.7 412.1)" dy="4">HESN</text>
<path class="st" d="M265.4,320.4l0,-3.3M265.4,320.4l3.1,-1M265.4,320.4l1.9,2.7M265.4,320.4l-1.9,2.7M265.4,320.4l-3.1,-1M274,320.4l0,-3.3M274,320.4l3.1,-1M274,320.4l1.9,2.7M274,320.4l-1.9,2.7M274,320.4l-3.1,-1M282.6,320.4l0,-3.3M282.6,320.4l3.1,-1M282.6,320.4l1.9,2.7M282.6,320.4l-1.9,2.7M282.6,320.4l-3.1,-1"/>
<path class="pl" d="M261.4,334.9h7M264.9,331.4v7M270.5,334.9h7M274,331.4v7M279.6,334.9h7M283.1,331.4v7"/>
<rect x="82.9" y="285.6" width="191.6" height="18.5" fill="#fff"/><text x="178.7" y="299.1" font-size="17.5" font-weight="bold" text-anchor="middle">VDL-2 (aliphatic chain)</text>
<path d="M21,365 C45,355 65,345 78,335 C88,328 95,320 103,335 C112,355 130,370 163,385" stroke="#777" stroke-width="0.9" fill="none" clip-path="url(#c5)"/>
<clipPath id="c6"><rect x="378.5" y="299" width="141.5" height="111.6"/></clipPath>
<rect x="378.5" y="299" width="141.5" height="111.6" fill="none" stroke="#e6e6e6" stroke-width="1"/>
<g clip-path="url(#c6)" fill="none" stroke-linejoin="round"><g transform="scale(0.333333)" stroke-width="3">
<path d="M1132 1158l16-7 14-9 16-12 14-15 23-27 49-66 22-26 19-14 11-5 8-1 15 0 19 2 14 5 19 9 34 21 86 64 27 16 22 12" stroke="#000" stroke-opacity="0.8"/>
<path d="M1132 1173l27-7 22-11 23-16 48-42 19-14 23-12 18-4 16 0 22 3 112 26 34 9 64 20" stroke="#0a9a0a" stroke-opacity="0.6"/>
<path d="M1132 1183l53-14 97-34 30-7 30-2 42 0 37 4 34 8 71 20 34 6" stroke="#0a9a0a" stroke-opacity="0.6"/>
<path d="M1132 1182l30-10 27-12 22-13 53-33 18-11 19-7 19-3 34 0 34 5 30 8 86 27 56 13" stroke="#0a9a0a" stroke-opacity="0.6"/>
<path d="M1132 1167l23-13 26-21 23-21 45-47 22-20 23-13 18-5 19 2 27 8 26 12 60 32 30 14 37 14 49 16" stroke="#000" stroke-opacity="0.5"/>
<path d="M1132 1151l98-47 26-17 45-31 19-11 30-13 26-6 23 0 22 8 23 12 48 36 19 12 23 11 26 5" stroke="#0a9a0a" stroke-opacity="0.7"/>
<path d="M1132 1153l16-7 14-9 27-22 22-23 49-58 19-19 19-13 18-7 15 0 15 2 15 4 19 7 30 15 90 53 30 15 30 12" stroke="#000" stroke-opacity="0.6"/>
<path d="M1132 1168l38-10 30-12 26-16 56-39 23-13 23-8 33-6 19-1 19 1 19 3 22 6 34 12 86 40" stroke="#0a9a0a" stroke-opacity="0.7"/>
<path d="M1132 1185l34-3 26-6 30-10 76-35 22-6 30-2 26 2 26 7 23 9 56 25 27 9 26 6 26 1" stroke="#0a9a0a" stroke-opacity="0.6"/>
<path d="M1132 1172l30-5 27-9 26-12 67-40 23-9 19-2 37 2 38 7 33 11 83 31 45 14" stroke="#000" stroke-opacity="0.5"/>
<path d="M1132 1159l16-7 11-7 22-21 23-28 45-64 22-27 11-10 12-7 7-3 11-3 23 3 30 9 41 16 30 14 34 22 64 54 26 18" stroke="#000" stroke-opacity="0.2"/>
<path d="M1132 1163l34-13 30-18 26-20 53-46 19-14 18-10 23-5 30 0 15 3 19 5 30 13 79 41 26 10 26 5" stroke="#0a9a0a" stroke-opacity="0.5"/>
<path d="M1132 1143l27-15 26-24 26-32 53-81 18-25 12-13 11-9 11-6 8-2 15-1 15 3 15 5 19 11 30 23 60 57 26 22 30 20 26 13" stroke="#000" stroke-opacity="0.4"/>
<path d="M1132 1159l30-13 27-17 26-23 45-49 19-18 19-13 18-7 23 0 22 6 27 12 56 28 30 13 41 14 45 11" stroke="#004d00" stroke-opacity="0.8"/>
<path d="M1132 1161l23-16 26-28 23-32 45-72 22-30 19-17 11-6 8-2 11 0 11 3 15 6 15 8 27 17 74 55 34 23 34 19 30 13" stroke="#000" stroke-opacity="0.4"/>
<path d="M1132 1197l19-3 23-6 78-28 19-5 19-2 22 0 64 6 72-3 30 1 33 5 49 14" stroke="#0a9a0a" stroke-opacity="0.3"/>
<path d="M1132 1182l19 2 15 0 15-3 15-6 12-7 14-12 46-43 14-13 19-11 19-4 15 2 19 6 18 10 49 30 30 12 30 7 79 10" stroke="#0a9a0a" stroke-opacity="0.7"/>
<path d="M1132 1182l27-9 22-13 27-22 48-51 19-17 11-8 12-6 18-4 23 4 22 8 101 55 98 45" stroke="#000" stroke-opacity="0.5"/>
<path d="M1132 1182l27-8 26-12 26-16 45-32 23-13 19-7 18-3 30 4 30 8 26 10 90 40 34 12 34 9" stroke="#000" stroke-opacity="0.4"/>
<path d="M1132 1155l19-8 15-8 15-11 15-14 26-30 53-71 19-20 18-14 12-4 11-1 11 0 15 3 11 4 16 8 26 20 60 57 26 22 30 19 30 11" stroke="#000" stroke-opacity="0.4"/>
<path d="M1132 1183l27-11 22-14 27-22 48-50 23-21 22-14 19-6 26 2 26 7 27 12 60 33 30 14 33 12 38 10" stroke="#0a9a0a" stroke-opacity="0.7"/>
<path d="M1132 1187l27-2 22-8 23-14 60-49 18-10 19-4 11 0 12 3 52 20 23 6 22 4 49 2 22 4 27 9 41 21" stroke="#0a9a0a" stroke-opacity="0.4"/>
<path d="M1132 1164l30-20 30-23 27-24 49-47 22-19 22-13 23-4 15 0 11 1 11 4 16 7 22 16 52 43 30 19 27 10 41 8" stroke="#000" stroke-opacity="0.7"/>
<path d="M1132 1165l27-15 26-20 23-22 48-54 19-17 11-8 12-7 18-4 12 0 14 4 27 10 26 14 90 56 37 18 38 15" stroke="#000" stroke-opacity="0.4"/>
<path d="M1132 1166l30-14 27-20 22-21 49-52 22-19 19-11 19-4 15 0 15 3 15 5 19 7 34 19 86 56 30 16 26 10" stroke="#000" stroke-opacity="0.3"/>
<path d="M1132 1169l27-9 26-14 26-19 49-41 22-17 23-12 19-5 34-1 33 5 30 9 87 28 52 12" stroke="#0a9a0a" stroke-opacity="0.3"/>
<path d="M1132 1160l30-15 27-16 26-20 49-41 22-16 19-10 19-5 30-1 30 5 26 9 56 24 26 10 34 9 34 4" stroke="#004d00" stroke-opacity="0.8"/>
<path d="M1132 1164l30-14 30-22 23-20 49-51 22-20 19-11 19-6 15-1 19 1 14 3 19 6 34 14 83 42 26 10 26 9" stroke="#004d00" stroke-opacity="0.8"/>
<path d="M1132 1155l30-16 27-19 26-25 49-53 22-20 19-11 19-6 15 0 19 1 14 4 19 6 30 14 87 48 26 12 26 9" stroke="#0a9a0a" stroke-opacity="0.4"/>
<path d="M1132 1179l27-6 26-8 26-11 68-34 22-7 19-3 30 0 34 4 112 26 64 11" stroke="#0a9a0a" stroke-opacity="0.3"/>
<path d="M1132 1165l16-9 14-11 27-25 22-27 49-66 22-26 12-9 11-7 7-3 12-2 15 0 19 4 14 6 19 10 34 26 83 70 26 19 26 16" stroke="#000" stroke-opacity="0.3"/>
<path d="M1132 1177l19 2 15-1 15-4 15-8 15-11 15-15 49-56 19-18 18-12 8-3 11-1 11 0 12 3 22 10 23 16 52 44 19 12 15 8 15 5 19 3 19 1 22-1" stroke="#000" stroke-opacity="0.3"/>
<path d="M1132 1192l27-5 26-10 26-16 68-50 22-11 19-4 26 1 26 6 27 10 60 27 33 11 30 6 38 2" stroke="#0a9a0a" stroke-opacity="0.5"/>
<path d="M1132 1186l30-8 27-12 30-19 49-39 18-13 23-11 22-5 30 2 30 8 27 11 82 41 30 12 30 8" stroke="#000" stroke-opacity="0.2"/>
<path d="M1132 1159l53-5 26-6 27-13 44-31 19-11 23-8 26-3 22 1 27 7 30 11 79 37 26 8 26 3" stroke="#0a9a0a" stroke-opacity="0.7"/>
<path d="M1132 1185l27-4 26-8 30-15 67-42 23-9 23-4 26 0 30 5 26 7 90 28 30 6 30 4" stroke="#0a9a0a" stroke-opacity="0.4"/>
<path d="M1132 1165l34-12 30-18 26-23 53-53 19-15 18-9 23-4 15 0 19 3 15 5 18 8 30 18 79 55 27 14 22 11" stroke="#000" stroke-opacity="0.6"/>
<path d="M1132 1151l23-14 23-21 63-77 23-23 15-12 11-7 11-4 11-3 16 1 30 5 22 7 19 7 33 19 53 39 23 15 26 12 26 6" stroke="#000" stroke-opacity="0.5"/>
<path d="M1132 1192l38-10 30-10 22-11 49-26 19-8 19-5 19-2 22 1 22 2 57 12 37 11 68 27 26 8" stroke="#0a9a0a" stroke-opacity="0.4"/>
<path d="M1132 1169l42-15 34-19 26-21 48-44 23-17 15-6 22-4 19 1 23 7 22 12 56 40 27 15 30 13 41 10" stroke="#000" stroke-opacity="0.6"/>
<path d="M1132 1169l34-15 30-18 26-20 49-43 19-14 19-10 15-3 22 0 23 5 22 8 53 23 30 12 34 10 52 12" stroke="#0a9a0a" stroke-opacity="0.3"/>
<path d="M1132 1167l27-10 22-14 27-25 48-56 19-19 11-9 12-6 11-4 7 0 12 0 14 3 27 11 26 15 64 41 33 20 34 17 34 13" stroke="#000" stroke-opacity="0.6"/>
<path d="M1132 1167l27-8 15-8 11-8 26-24 49-57 19-20 11-9 11-7 19-6 11 0 15 3 30 10 184 92" stroke="#000" stroke-opacity="0.5"/>
<path d="M1132 1160l23-15 23-22 22-26 52-67 27-28 15-12 11-7 11-5 12-2 18-1 19 3 19 5 15 8 15 10 15 13 52 51 23 19 26 17 30 11" stroke="#000" stroke-opacity="0.7"/>
</g></g>
<path d="M378.5,412.1 L520,412.1" stroke="#b3b3b3" stroke-width="1.2"/>
<clipPath id="t6"><rect x="377.5" y="412.1" width="143.5" height="16"/></clipPath><g clip-path="url(#t6)">
<text class="k" x="402.3" y="422.2">0.915</text>
<text class="k" x="437" y="422.2">0.905</text>
<text class="k" x="470.4" y="422.2">0.895</text>
<text class="k" x="503.7" y="422.2">0.885</text>
</g>
<path d="M402.3,412.1 L402.3,415.1 M437,412.1 L437,415.1 M470.4,412.1 L470.4,415.1 M503.7,412.1 L503.7,415.1 M385,412.1 L385,414.1 M402.3,412.1 L402.3,414.1 M419.7,412.1 L419.7,414.1 M437,412.1 L437,414.1 M454.4,412.1 L454.4,414.1 M471.7,412.1 L471.7,414.1 M489.1,412.1 L489.1,414.1 M506.4,412.1 L506.4,414.1" stroke="#999" stroke-width="0.8"/>
<path class="a" d="M561.6,309.8V403.4H703"/>
<text class="y" x="559.4" y="312.2">50</text>
<text class="y" x="559.4" y="330.9">40</text>
<text class="y" x="559.4" y="349.6">30</text>
<text class="y" x="559.4" y="368.4">20</text>
<text class="y" x="559.4" y="387.1">10</text>
<text class="y" x="559.4" y="405.8">0</text>
<text class="u" x="536.6" y="356.6" transform="rotate(-90 536.6 356.6)" dy="2.8">A.U.</text>
<path class="w" d="M597.8,335.9V352.7M597.8,364.3V378.2M586.5,335.9h22.6M586.5,378.2h22.6"/>
<rect class="b" x="575.2" y="352.7" width="45.2" height="11.6" fill="#888"/>
<path class="m" d="M575.2,358.5H620.4"/>
<path class="w" d="M668,325.8V362.8M668,378.2V386.9M656.4,325.8h23.2M656.4,386.9h23.2"/>
<rect class="b" x="644.8" y="362.8" width="46.3" height="15.4" fill="#00c000"/>
<path class="m" d="M644.8,369.5H691.1"/>
<path class="t" d="M559.1,309.8h2.5M559.1,328.5h2.5M559.1,347.2h2.5M559.1,366h2.5M559.1,384.7h2.5M559.1,403.4h2.5M597.8,403.4v3M668,403.4v3"/>
<text class="x" x="597.3" y="410.9" transform="rotate(-45 597.3 410.9)" dy="4">HC</text>
<text class="x" x="667.5" y="410.9" transform="rotate(-45 667.5 410.9)" dy="4">HESN</text>
<path class="st" d="M623.6,320.8l0,-3.3M623.6,320.8l3.1,-1M623.6,320.8l1.9,2.7M623.6,320.8l-1.9,2.7M623.6,320.8l-3.1,-1M632.3,320.8l0,-3.3M632.3,320.8l3.1,-1M632.3,320.8l1.9,2.7M632.3,320.8l-1.9,2.7M632.3,320.8l-3.1,-1M640.9,320.8l0,-3.3M640.9,320.8l3.1,-1M640.9,320.8l1.9,2.7M640.9,320.8l-1.9,2.7M640.9,320.8l-3.1,-1"/>
<path class="pl" d="M619.7,335.3h7M623.2,331.8v7M628.8,335.3h7M632.3,331.8v7M637.9,335.3h7M641.4,331.8v7"/>
<text x="470.4" y="299" font-size="17.5" font-weight="bold" text-anchor="start">VDL1 (CH<tspan dy="4.5" font-size="12">3</tspan><tspan dy="-4.5">) 4</tspan></text><path d="M465,290.4 L455,297.2" stroke="#000" stroke-width="2.3"/><path d="M450,300.6 L453.4,293.2 L458.2,300.1 Z" fill="#000"/><path d="M424,317 L424,309.2 L472.4,309.2 L472.4,317 M448,309.2 L448,302.9" stroke="#000" stroke-width="2.2" fill="none" stroke-linejoin="round"/>
<path d="M378,355 C395,335 410,312 428,306 C445,302 460,312 480,332 C495,345 508,355 520,360" stroke="#666" stroke-width="0.9" fill="none" clip-path="url(#c6)"/>
<clipPath id="c7"><rect x="743.6" y="294" width="141.6" height="111.7"/></clipPath>
<rect x="743.6" y="294" width="141.6" height="111.7" fill="none" stroke="#e6e6e6" stroke-width="1"/>
<g clip-path="url(#c7)" fill="none" stroke-linejoin="round"><g transform="scale(0.333333)" stroke-width="3">
<path d="M2228 860l3 1 6 13 15 66 6 21 6 13 9 11 9 4 9-1 9-9 12-20 6-3 3 1 6 10 12 32 9 17 9 9 12 5 6-1 6-6 15-28 6-6 3 1 6 9 18 48 6 9 6 6 9 3 9-3 6-7 12-22 6-5 3 0 6 9 18 42 9 11 18 9 15 3 9-4 15-15 6-1 6 5 18 35 9 12 15 10 27 13" stroke="#000" stroke-opacity="0.7"/>
<path d="M2228 1047l3 0 6 6 15 31 6 10 6 5 6 4 12 2 9-2 6-4 15-16 6-3 3 1 6 5 12 18 9 10 9 5 12 3 9-3 6-4 12-14 6-3 3 1 6 5 18 30 6 6 9 4 9 2 6-2 6-4 12-12 6-3 3 0 6 5 18 26 12 8 18 4 12 0 9-3 15-11 6-1 6 3 18 18 9 6 42 11" stroke="#0a9a0a" stroke-opacity="0.3"/>
<path d="M2228 1067l3 0 6 5 21 33 6 5 9 4 9 2 9-1 9-6 12-11 6-3 3 1 6 5 12 16 9 9 9 5 12 2 6-1 6-3 15-15 6-4 3 0 6 5 18 25 12 9 9 1 9-1 6-4 12-11 6-3 3 0 6 5 18 23 12 7 18 5 12 0 9-2 15-9 6-1 6 2 18 17 9 6 42 9" stroke="#004d00" stroke-opacity="0.8"/>
<path d="M2228 982l3 2 6 9 18 43 6 8 9 7 12 4 9-2 6-4 15-16 6-1 6 5 15 27 6 8 12 9 12 3 9-3 18-21 6-2 3 1 6 8 18 32 6 6 6 3 9 2 6-1 6-4 15-17 6-2 3 1 6 7 15 26 12 11 18 7 15 2 9-3 15-10 6 1 6 4 15 20 9 8 12 6 33 10" stroke="#000" stroke-opacity="0.6"/>
<path d="M2228 974l3-2 3 0 3 2 24 56 6 8 9 6 9 2 9-2 9-8 12-15 6-4 3 1 6 7 12 22 9 13 9 7 12 4 6-1 6-4 15-19 6-4 3 1 6 7 18 36 6 7 6 5 9 3 9-2 6-5 15-19 6-1 6 6 18 30 9 8 15 5 18 1 9-3 15-12 6-1 6 3 18 25 9 9 39 20" stroke="#000" stroke-opacity="0.8"/>
<path d="M2228 943l3-3 3-1 6 7 21 62 9 15 9 7 9 3 9-2 6-5 15-20 6-1 6 5 15 29 6 8 9 8 12 3 6-1 6-4 18-25 6-3 3 2 6 9 18 38 6 7 6 4 9 3 6-1 6-5 15-18 6-2 3 1 6 9 15 30 6 8 6 4 18 8 15 1 9-4 15-12 6 0 6 5 15 23 9 9 12 7 27 11" stroke="#000" stroke-opacity="0.7"/>
<path d="M2228 939l3-2 3 1 3 4 21 59 6 11 9 8 12 4 9-2 6-5 15-21 6-3 6 5 15 31 9 13 9 7 12 4 6-1 6-5 18-25 3-1 3 1 6 8 18 40 6 8 6 4 9 3 6-1 9-8 12-17 6-3 3 1 6 8 15 30 6 9 6 5 18 8 15 1 9-3 15-13 6-1 6 5 15 23 9 11 12 7 30 14" stroke="#000" stroke-opacity="0.6"/>
<path d="M2228 1038l3 0 6 7 15 33 6 10 6 6 9 5 9 2 9-1 9-7 12-13 6-3 3 1 6 6 12 18 9 10 9 5 12 2 9-2 6-5 12-15 6-4 3 1 6 5 18 29 6 5 6 4 9 2 9-2 6-5 12-12 6-3 3 0 6 6 18 26 12 9 18 5 12 1 9-2 15-10 6-1 6 3 18 20 9 6 12 4 30 7" stroke="#0a9a0a" stroke-opacity="0.5"/>
<path d="M2228 1033l3 2 6 8 18 35 6 7 9 5 12 3 9-1 6-4 15-14 6 0 6 5 15 23 6 7 6 4 9 5 9 1 6-1 6-3 15-16 6-1 6 4 21 32 12 7 9 1 6-1 6-4 15-16 6-2 6 4 18 23 12 8 15 3 15 1 9-3 18-12 6 0 6 4 15 16 9 7 45 15" stroke="#0a9a0a" stroke-opacity="0.5"/>
<path d="M2228 976l3-2 3 1 3 4 21 59 9 15 9 6 9 3 9-2 6-4 15-19 6-2 6 5 15 28 9 13 9 6 12 3 6-1 6-5 18-23 3-1 3 0 6 8 18 34 6 7 6 3 9 2 6-1 9-8 12-17 6-3 3 1 6 7 18 31 12 10 18 6 12 1 9-3 15-12 6 0 6 4 15 21 9 9 12 7 30 10" stroke="#004d00" stroke-opacity="0.8"/>
<path d="M2228 970l3-3 3-1 3 2 6 13 18 54 9 13 9 6 9 2 9-2 6-5 15-19 6-1 6 7 15 29 6 9 12 9 12 3 9-4 18-25 6-2 6 5 21 42 6 7 6 3 9 2 6-2 6-5 15-19 6-2 6 5 18 34 6 7 6 5 15 5 15 2 9-3 18-14 6 0 6 5 15 21 9 8 12 6 27 8" stroke="#004d00" stroke-opacity="0.8"/>
<path d="M2228 939l3 0 6 7 15 45 9 21 6 8 9 7 9 2 9-2 6-5 15-19 6-1 6 6 15 28 6 9 12 9 12 3 9-4 18-24 6-2 6 6 21 43 6 7 6 4 9 3 6-2 6-4 15-19 6-2 6 5 18 34 6 8 6 4 18 7 15 2 9-4 12-9 6-2 3 1 6 6 15 23 9 9 12 7 30 13" stroke="#000" stroke-opacity="0.8"/>
<path d="M2228 925l3 1 6 11 15 51 6 16 6 10 9 7 9 3 9-1 6-5 15-21 6-3 6 5 15 32 9 14 9 7 12 3 9-3 6-7 12-20 6-4 3 1 6 7 18 40 6 8 6 5 9 2 9-2 6-7 12-17 6-4 3 1 6 8 18 36 6 8 6 4 18 8 12 1 9-3 15-13 6-1 6 5 18 28 9 8 12 7 30 11" stroke="#000" stroke-opacity="0.8"/>
<path d="M2228 889l3-1 3 3 3 6 21 74 6 13 9 9 12 5 9-2 6-6 15-21 3-2 3 1 6 8 15 34 6 11 6 7 6 4 12 4 9-5 18-27 3-2 3 0 6 6 21 48 6 8 6 5 9 2 6-1 6-6 15-21 3-2 3 1 6 6 21 45 12 12 18 9 12 2 9-5 15-13 6 1 6 6 15 25 9 10 12 7 30 10" stroke="#000" stroke-opacity="0.2"/>
<path d="M2228 960l3-1 3 1 3 4 21 53 9 13 9 6 9 3 9-1 6-4 15-17 6-2 6 6 15 29 6 9 9 8 12 5 6-1 6-3 18-25 6-4 3 1 6 7 18 34 9 8 9 3 6-1 6-3 18-21 6-2 3 1 6 8 18 35 12 11 18 9 12 2 9-2 15-10 6 0 6 5 15 22 9 9 12 6 30 9" stroke="#000" stroke-opacity="0.5"/>
<path d="M2228 958l3 0 6 8 15 40 6 12 6 8 6 4 12 4 9-1 6-5 15-19 6-3 3 1 6 8 12 23 9 13 9 7 12 4 9-2 6-6 12-16 6-4 3 1 6 7 18 37 6 7 9 7 9 2 6-2 6-5 12-14 6-3 3 1 6 7 18 34 12 11 18 7 12 2 9-3 15-11 6-1 6 3 18 24 9 8 12 4 30 8" stroke="#000" stroke-opacity="0.7"/>
<path d="M2228 960l3 0 6 9 15 50 6 16 6 10 9 8 9 3 9-1 9-8 12-17 6-4 3 1 6 7 12 24 9 14 9 7 12 3 6-1 6-5 18-26 3-2 3 0 6 6 18 37 6 8 6 4 9 3 9-3 6-5 15-20 3-1 3 0 6 6 18 35 6 7 6 5 18 8 12 2 9-3 15-12 6-2 6 4 18 26 9 8 12 6 30 9" stroke="#0a9a0a" stroke-opacity="0.3"/>
<path d="M2228 982l3 1 6 10 15 45 6 13 6 9 9 6 9 2 9-1 6-5 15-19 6-4 6 4 15 25 9 11 9 5 12 2 6-2 6-4 18-23 3-1 3 1 6 7 18 35 6 8 9 6 9 2 6-2 6-4 12-14 6-3 3 2 6 7 18 32 6 6 6 4 18 5 12 1 9-4 15-13 6-1 6 3 15 19 9 9 12 5 33 11" stroke="#0a9a0a" stroke-opacity="0.7"/>
<path d="M2228 1078l3-1 6 3 21 29 6 5 9 4 12 2 9-1 6-3 15-14 6-1 6 3 15 18 9 8 9 4 12 2 9-3 18-16 6-2 3 0 6 5 18 24 12 7 9 1 9-2 18-14 6-2 3 0 6 5 18 22 9 5 18 5 15 1 9-3 15-7 6-1 6 4 15 14 9 6 12 5 30 7" stroke="#0a9a0a" stroke-opacity="0.3"/>
<path d="M2228 902l3-1 3 2 3 6 15 56 9 25 6 10 9 8 9 3 9-2 6-5 15-20 3-1 3 0 6 7 15 33 6 9 9 9 12 5 6-1 6-3 18-26 3-3 3 0 6 6 21 46 6 7 6 5 9 2 6-2 6-5 15-20 6-2 6 6 18 36 6 8 6 6 18 7 9 2 6 0 9-4 12-11 6-2 3 1 6 6 15 24 9 10 12 8 30 13" stroke="#000" stroke-opacity="0.7"/>
<path d="M2228 961l3 1 6 10 18 46 6 9 9 7 12 3 9-1 6-5 15-17 6-2 6 6 15 27 6 8 12 9 12 3 9-3 18-22 6-2 3 1 6 9 18 34 6 6 6 4 9 3 6-1 6-4 15-17 6-2 3 2 6 7 15 28 6 7 6 4 18 7 15 3 9-4 15-10 6 0 6 5 15 21 9 9 12 6 33 13" stroke="#000" stroke-opacity="0.7"/>
<path d="M2228 1060l6-1 3 2 24 38 6 5 9 5 9 1 9-1 9-6 12-13 6-2 3 0 6 6 12 18 9 10 9 5 12 2 6-1 6-4 15-17 6-4 3 0 6 5 18 28 6 5 6 4 9 1 9-2 6-4 12-13 6-3 3 0 6 5 18 25 12 9 18 4 12 1 9-3 15-9 6-2 6 3 18 19 9 6 12 4 27 6" stroke="#004d00" stroke-opacity="0.8"/>
<path d="M2228 972l3 0 6 7 21 50 6 8 9 6 12 2 9-2 6-6 12-15 6-4 3 0 6 6 15 27 6 8 6 6 9 4 9 2 6-1 6-5 15-18 6-1 6 6 18 36 6 8 9 7 9 2 6-2 6-4 15-18 6-1 6 5 18 31 6 7 6 4 21 7 12 2 9-4 12-8 6-2 6 4 18 25 9 9 12 6 30 11" stroke="#000" stroke-opacity="0.4"/>
<path d="M2228 965l3-5 3-2 3 2 3 5 21 67 9 15 9 6 9 3 9-3 6-5 15-21 6-2 6 6 15 31 6 9 6 6 6 4 12 3 9-5 18-26 6-3 3 2 6 9 18 38 6 7 6 3 9 2 6-2 6-5 15-21 6-2 3 1 6 9 15 29 6 8 6 5 18 6 15 1 9-5 15-14 6 0 6 5 15 22 9 9 12 6 27 9" stroke="#004d00" stroke-opacity="0.8"/>
<path d="M2228 882l3 1 6 15 15 62 6 18 6 12 9 10 9 4 9-1 6-5 15-22 6-3 6 5 15 35 9 15 9 7 12 4 6-2 6-6 18-30 3-1 3 1 6 8 18 43 9 11 9 4 6 0 6-3 6-7 12-20 6-5 3 2 6 8 15 34 6 9 6 6 18 9 15 3 9-4 15-13 6 0 6 6 18 33 9 11 12 8 30 17" stroke="#000" stroke-opacity="0.4"/>
<path d="M2228 1004l3 0 6 8 21 55 9 12 9 5 9 2 9-2 6-5 12-15 6-4 3 0 6 6 15 24 6 7 9 5 12 2 6-2 6-4 18-25 6-2 6 5 18 31 6 7 6 4 9 2 9-1 6-5 15-17 6-1 6 6 18 31 12 10 15 6 15 3 9-3 15-10 6-2 6 3 18 23 9 7 12 6 30 9" stroke="#0a9a0a" stroke-opacity="0.7"/>
<path d="M2228 875l3 1 6 14 15 63 6 19 6 13 9 9 9 5 9-2 6-5 15-24 6-3 6 5 15 36 9 16 9 9 12 3 9-4 6-8 12-23 6-6 3 1 6 9 18 45 6 9 6 5 9 3 9-3 6-7 12-21 6-4 3 1 6 8 18 43 6 8 6 5 18 9 12 2 9-3 15-14 6-1 6 6 18 33 9 10 12 8 30 14" stroke="#000" stroke-opacity="0.7"/>
<path d="M2228 1042l3 0 6 5 15 29 9 13 6 5 9 4 9 2 9-1 6-4 12-11 6-3 3 1 6 5 18 26 9 7 9 4 9 1 6-2 6-3 15-16 6-1 6 4 21 31 12 7 9 1 6-1 6-4 15-15 6-1 6 4 18 25 12 7 15 4 15 1 9-3 18-12 6 0 6 4 15 14 9 6 42 9" stroke="#0a9a0a" stroke-opacity="0.4"/>
<path d="M2228 972l3 0 6 7 21 51 9 11 9 6 9 3 9-2 6-4 12-14 6-2 3 1 6 6 12 23 9 12 9 6 12 3 6-1 6-4 18-23 6-2 6 6 18 33 6 7 6 4 9 3 9-2 6-4 12-14 6-3 3 0 6 7 18 32 6 7 9 6 18 7 12 0 9-4 12-9 6-2 6 3 18 23 9 7 42 15" stroke="#000" stroke-opacity="0.6"/>
<path d="M2228 955l3-2 3 2 3 4 21 59 6 11 9 8 12 3 9-2 6-5 15-21 6-3 3 1 6 7 18 31 9 8 9 4 9 1 6-2 6-5 12-15 6-3 3 2 6 8 18 39 6 8 6 4 9 3 9-2 6-6 12-16 6-4 3 1 6 6 15 26 9 9 15 6 21 3 9-3 15-10 6 0 6 6 18 28 9 10 15 9 24 10" stroke="#000" stroke-opacity="0.7"/>
<path d="M2228 959l3-1 3 2 3 5 21 63 6 10 9 8 12 3 9-3 6-6 15-20 6-1 6 6 15 30 6 8 12 9 12 2 9-4 18-26 6-2 6 5 21 43 6 7 6 4 9 2 6-2 6-5 15-19 6-2 6 6 18 35 6 7 9 7 18 7 12 1 9-5 12-10 6-2 3 1 6 5 15 22 9 9 12 6 30 9" stroke="#004d00" stroke-opacity="0.8"/>
<path d="M2228 913l3 0 6 11 15 56 9 25 9 13 9 7 9 3 6-1 6-4 12-15 6-3 3 1 6 7 12 26 9 14 9 7 12 2 6-2 6-5 18-30 6-3 6 5 15 30 6 9 6 6 9 4 6 0 6-2 6-6 12-16 6-4 3 0 6 7 21 45 6 7 9 7 18 11 9 2 9-2 12-9 6-1 6 5 18 27 9 9 15 6 27 5" stroke="#000" stroke-opacity="0.5"/>
<path d="M2228 891l6 13 15 61 6 19 6 12 9 9 9 4 9-1 9-9 12-19 6-4 6 5 15 33 9 15 9 8 12 3 9-4 6-8 12-22 6-5 3 1 6 8 18 43 6 9 6 5 9 3 9-2 6-7 12-18 6-4 3 2 6 8 18 41 6 9 6 5 18 9 12 3 9-4 15-14 6-1 6 5 18 30 9 9 12 7 33 12" stroke="#000" stroke-opacity="0.7"/>
<path d="M2228 1029l3 0 6 7 21 40 9 9 9 5 9 2 9-2 6-4 12-12 6-3 3 1 6 6 12 20 9 11 9 5 12 2 6-2 6-4 15-19 6-4 3 0 6 4 18 29 6 5 6 4 9 2 9-2 6-5 12-12 6-3 3 0 6 6 18 29 6 5 9 6 18 5 12 0 6-2 15-11 6-1 6 3 18 19 9 6 42 10" stroke="#0a9a0a" stroke-opacity="0.4"/>
<path d="M2228 959l3-1 6 10 21 67 9 14 9 6 9 2 9-2 6-6 12-17 6-4 3 1 6 6 15 27 6 7 9 6 12 2 6-1 6-5 18-25 6-3 6 6 15 31 6 9 6 6 6 4 9 2 6-2 6-4 15-18 6 0 6 6 18 36 6 7 9 7 18 8 12 1 9-4 12-10 6-1 6 3 18 23 9 8 12 5 30 6" stroke="#0a9a0a" stroke-opacity="0.7"/>
<path d="M2228 974l3 2 6 10 18 44 6 8 9 6 12 3 9-2 6-5 15-17 6-1 6 5 15 26 6 7 12 8 12 2 9-4 18-21 6-2 6 5 21 38 12 11 9 2 6 0 6-4 15-15 6-1 6 5 21 36 12 9 18 7 12 2 9-4 15-10 6 1 6 4 15 19 9 8 12 5 33 10" stroke="#000" stroke-opacity="0.8"/>
<path d="M2228 886l3-4 3 1 3 4 6 17 15 57 6 15 9 10 12 5 9-2 9-11 12-20 6-4 3 1 6 9 12 30 9 17 9 9 12 5 6-1 6-4 15-25 6-4 3 1 6 9 18 48 6 9 6 6 9 4 9-2 6-6 12-20 6-4 3 0 6 9 18 41 6 8 6 5 18 7 12 2 9-4 15-15 6-1 6 5 18 32 9 11 12 8 27 13" stroke="#000" stroke-opacity="0.8"/>
<path d="M2228 1063l6 5 21 36 6 5 9 5 9 1 9-1 9-5 12-13 6-3 3 0 6 5 12 18 9 9 9 5 12 2 6-2 6-3 18-21 6-2 6 5 18 26 6 5 6 3 9 2 9-2 6-4 15-15 6-1 6 5 18 25 12 9 18 5 12 1 9-3 15-10 6-1 6 2 18 18 9 6 45 11" stroke="#0a9a0a" stroke-opacity="0.7"/>
<path d="M2228 988l3-2 3 1 3 4 18 50 6 13 9 12 9 5 9 2 9-3 18-20 6-2 6 5 21 34 9 7 12 3 6-1 6-4 6-6 12-19 6-4 3 0 6 6 18 33 6 6 6 3 9 2 9-3 18-19 6-3 3 1 6 8 18 33 6 7 9 6 15 6 12 3 9-3 15-11 6-1 6 4 15 20 9 8 12 5 30 5" stroke="#0a9a0a" stroke-opacity="0.7"/>
<path d="M2228 1025l3-1 6 4 18 40 6 10 9 10 9 4 9 2 9-2 18-16 6-2 6 4 21 31 9 6 12 3 6-1 6-3 18-22 6-4 3 0 6 6 18 27 9 6 9 3 6-1 6-2 18-19 6-2 3 1 6 6 18 27 12 8 18 6 12 1 9-3 15-10 6 0 6 3 15 18 9 8 12 5 30 10" stroke="#004d00" stroke-opacity="0.8"/>
<path d="M2228 953l6 12 18 59 9 16 9 6 9 2 9-2 6-5 15-21 6-3 6 5 15 29 9 12 9 6 12 3 6-2 6-6 18-26 3-1 3 1 6 8 18 37 6 7 6 4 9 2 9-3 18-23 6-3 3 1 6 8 18 35 6 7 6 4 18 7 12 1 9-3 15-12 6-1 6 5 15 23 9 10 12 7 36 14" stroke="#0a9a0a" stroke-opacity="0.4"/>
<path d="M2228 877l3-4 3-1 3 4 6 19 12 53 6 19 6 13 9 9 9 3 9-2 9-11 12-21 6-5 3 1 6 10 18 44 6 9 9 8 9 4 6-1 3-1 6-7 15-26 3-2 3 1 6 9 18 49 6 10 6 6 9 4 6-1 3-2 6-8 15-26 3-2 3 1 6 7 18 42 9 11 15 7 12 2 6 0 9-4 15-16 6-2 6 5 18 35 9 12 12 9 27 15" stroke="#000" stroke-opacity="0.8"/>
<path d="M2228 983l3 0 6 8 21 49 6 8 9 6 9 3 9 0 9-5 12-13 6-2 3 1 6 6 12 21 9 12 9 6 12 4 6-1 6-3 18-21 6-1 6 6 18 31 6 6 6 4 9 2 9-2 6-4 12-14 6-3 3 0 6 6 18 28 12 10 18 6 12 1 9-2 15-10 6-1 6 4 18 22 9 8 12 5 30 11" stroke="#000" stroke-opacity="0.8"/>
<path d="M2228 1008l3 0 6 9 15 39 6 11 6 7 6 3 12 3 9-2 6-4 15-17 6-2 6 4 15 25 9 11 9 6 12 3 6-1 6-4 15-18 6-3 3 1 6 7 18 32 6 6 6 3 9 2 9-2 18-19 6-3 3 1 6 6 18 29 12 9 18 6 12 1 9-2 15-10 6 0 6 5 15 19 9 9 15 7 30 9" stroke="#0a9a0a" stroke-opacity="0.4"/>
<path d="M2228 899l3-4 3-2 3 2 3 6 21 77 9 18 9 7 9 3 9-2 6-7 15-23 3-2 3 0 6 6 15 34 6 11 6 6 6 4 12 3 9-5 18-30 3-3 3-1 3 2 6 10 18 43 6 8 6 5 9 3 6-2 6-5 15-23 3-2 3 0 3 2 6 10 15 35 6 9 6 6 18 10 9 3 6 0 9-5 15-13 6 0 6 7 15 27 9 11 12 8 27 13" stroke="#000" stroke-opacity="0.4"/>
<path d="M2228 1012l3 0 6 6 21 48 6 7 9 5 12 2 9-2 18-19 6-2 3 1 6 6 18 32 12 11 12 5 9-1 6-4 15-18 6-1 6 5 18 29 6 6 9 3 9-1 6-3 21-27 6-2 6 4 18 27 12 10 21 8 12 3 9-2 12-6 6 0 6 4 18 25 9 8 15 7 27 5" stroke="#0a9a0a" stroke-opacity="0.4"/>
</g></g>
<path d="M743.6,407.2 L885.2,407.2" stroke="#b3b3b3" stroke-width="1.2"/>
<clipPath id="t7"><rect x="742.6" y="407.2" width="143.6" height="16"/></clipPath><g clip-path="url(#t7)">
<text class="k" x="751" y="417.8">2.05</text>
<text class="k" x="774" y="417.8">2.04</text>
<text class="k" x="797.4" y="417.8">2.03</text>
<text class="k" x="821" y="417.8">2.02</text>
<text class="k" x="844.6" y="417.8">2.01</text>
<text class="k" x="868.4" y="417.8">2.00</text>
</g>
<path d="M751,407.2 L751,410.2 M774,407.2 L774,410.2 M797.4,407.2 L797.4,410.2 M821,407.2 L821,410.2 M844.6,407.2 L844.6,410.2 M868.4,407.2 L868.4,410.2 M751,407.2 L751,409.2 M762.5,407.2 L762.5,409.2 M774,407.2 L774,409.2 M785.5,407.2 L785.5,409.2 M797,407.2 L797,409.2 M808.5,407.2 L808.5,409.2 M820,407.2 L820,409.2 M831.5,407.2 L831.5,409.2 M843,407.2 L843,409.2 M854.5,407.2 L854.5,409.2 M866,407.2 L866,409.2 M877.5,407.2 L877.5,409.2" stroke="#999" stroke-width="0.8"/>
<path class="a" d="M921.7,308.5V405H1062.6"/>
<text class="y" x="919.5" y="310.9">40</text>
<text class="y" x="919.5" y="335">30</text>
<text class="y" x="919.5" y="359.1">20</text>
<text class="y" x="919.5" y="383.3">10</text>
<text class="y" x="919.5" y="407.4">0</text>
<text class="u" x="896.7" y="356.8" transform="rotate(-90 896.7 356.8)" dy="2.8">A.U.</text>
<path class="w" d="M957.2,328.8V334.1M957.2,344.8V350.6M945.6,328.8h23.2M945.6,350.6h23.2"/>
<rect class="b" x="934" y="334.1" width="46.4" height="10.7" fill="#888"/>
<path class="m" d="M934,339.7H980.4"/>
<path class="w" d="M1027.6,319.4V343M1027.6,355V362.6M1016,319.4h23.1M1016,362.6h23.1"/>
<rect class="b" x="1004.5" y="343" width="46.2" height="12" fill="#00c000"/>
<path class="m" d="M1004.5,348.1H1050.7"/>
<path class="t" d="M919.2,308.5h2.5M919.2,332.6h2.5M919.2,356.8h2.5M919.2,380.9h2.5M919.2,405h2.5M957.2,405v3M1027.6,405v3"/>
<text class="x" x="956.7" y="412.5" transform="rotate(-45 956.7 412.5)" dy="4">HC</text>
<text class="x" x="1027.1" y="412.5" transform="rotate(-45 1027.1 412.5)" dy="4">HESN</text>
<path class="st" d="M985,320.7l0,-3.3M985,320.7l3.1,-1M985,320.7l1.9,2.7M985,320.7l-1.9,2.7M985,320.7l-3.1,-1M993.6,320.7l0,-3.3M993.6,320.7l3.1,-1M993.6,320.7l1.9,2.7M993.6,320.7l-1.9,2.7M993.6,320.7l-3.1,-1M1002.2,320.7l0,-3.3M1002.2,320.7l3.1,-1M1002.2,320.7l1.9,2.7M1002.2,320.7l-1.9,2.7M1002.2,320.7l-3.1,-1"/>
<path class="pl" d="M981,335.2h7M984.5,331.7v7M990.1,335.2h7M993.6,331.7v7M999.2,335.2h7M1002.7,331.7v7"/>
<rect x="827.9" y="285.6" width="135.4" height="18.5" fill="#fff"/><text x="895.6" y="299.1" font-size="17.5" font-weight="bold" text-anchor="middle">Lipids: CH<tspan dy="5" font-size="17">2</tspan><tspan dy="-5">C=C</tspan></text>
<clipPath id="c8"><rect x="1105.6" y="295.3" width="141.9" height="111.7"/></clipPath>
<rect x="1105.6" y="295.3" width="141.9" height="111.7" fill="none" stroke="#e6e6e6" stroke-width="1"/>
<g clip-path="url(#c8)" fill="none" stroke-linejoin="round"><g transform="scale(0.333333)" stroke-width="3">
<path d="M3314 1109l37 1 27-2 22-5 19-8 15-11 15-15 52-67 15-12 12-3 11 1 15 11 11 12 38 46 15 14 15 9 15 5 18 1 79-6" stroke="#000" stroke-opacity="0.7"/>
<path d="M3314 1107l90-1 26-2 30-8 53-22 22-4 23 4 48 19 30 7 42 1 67-6" stroke="#0a9a0a" stroke-opacity="0.6"/>
<path d="M3314 1067l75-11 19-5 15-7 15-11 15-16 41-55 11-13 11-9 12-3 11 2 15 11 11 13 41 55 15 15 15 9 19 8 19 3 26 0 45-2" stroke="#000" stroke-opacity="0.6"/>
<path d="M3314 1110l26-5 19-1 19 1 45 5 22-2 23-8 48-27 15-5 12-1 11 2 15 5 64 38 33 14 19 5 19 1 19-1 22-4" stroke="#0a9a0a" stroke-opacity="0.3"/>
<path d="M3314 1109l67-8 23-4 19-6 15-7 15-8 52-38 11-5 12-2 11 1 15 7 49 38 15 9 15 5 15 3 18 1 79-5" stroke="#000" stroke-opacity="0.7"/>
<path d="M3314 1130l34 2 26 1 22-2 19-4 15-6 15-8 56-41 12-5 11-1 11 1 15 8 53 45 11 7 15 8 15 4 15 2 86 4" stroke="#000" stroke-opacity="0.2"/>
<path d="M3314 1078l34-11 78-34 27-16 48-38 12-6 11-2 11 2 11 6 15 12 34 34 15 11 11 5 23 4 41-1 19 1 19 3 22 6" stroke="#0a9a0a" stroke-opacity="0.4"/>
<path d="M3314 1151l64-4 18-4 19-6 15-8 15-10 56-47 15-8 12-3 11 0 11 2 49 21 22 5 23 0 56-10 45-4" stroke="#000" stroke-opacity="0.6"/>
<path d="M3314 1066l75-15 19-8 15-9 15-13 15-19 52-86 15-15 11-5 12 3 11 8 11 13 41 58 15 15 15 9 19 5 19 0 26-4 45-12" stroke="#000" stroke-opacity="0.7"/>
<path d="M3314 1083l71 4 19-2 19-6 15-9 15-13 37-46 15-15 11-7 12-2 11 3 11 8 15 16 38 47 15 15 15 9 18 7 19 3 75 0" stroke="#000" stroke-opacity="0.6"/>
<path d="M3314 1085l67-6 23-5 19-6 15-8 15-10 52-45 11-6 12-3 11 1 15 6 52 39 15 8 15 6 19 4 19 1 71-3" stroke="#0a9a0a" stroke-opacity="0.5"/>
<path d="M3314 1130l26-1 30-5 38-8 22-8 15-8 15-12 49-49 11-7 11-4 12 1 15 8 56 50 15 10 19 9 22 6 23 3 26-2 26-5" stroke="#000" stroke-opacity="0.6"/>
<path d="M3314 1071l67 5 19-1 19-6 15-9 15-12 41-48 15-15 11-7 12-3 11 2 15 10 49 51 11 10 15 8 15 6 15 2 86 6" stroke="#000" stroke-opacity="0.3"/>
<path d="M3314 1092l30-3 56 4 15-1 11-4 15-8 12-10 15-16 26-32 15-15 11-8 11-2 12 2 15 10 56 64 15 12 15 8 19 4 18-1 19-5 45-17" stroke="#0a9a0a" stroke-opacity="0.6"/>
<path d="M3314 1093l30-2 56-1 15-1 15-4 11-6 15-9 38-35 15-11 11-6 11-2 12 3 11 6 15 12 41 41 15 10 19 10 19 5 22 2 26 0 34-3" stroke="#0a9a0a" stroke-opacity="0.5"/>
<path d="M3314 1086l79 21 18 4 19 0 15-3 15-5 41-23 15-6 15-4 12 0 18 3 42 16 22 7 79 10 41 7" stroke="#000" stroke-opacity="0.8"/>
<path d="M3314 1061l120-18 26-8 45-19 23-5 22 1 49 14 26 4 23 1 60-4 37-1" stroke="#000" stroke-opacity="0.2"/>
<path d="M3314 1131l22-3 23-5 26-8 26-11 19-10 15-9 53-42 11-5 11-2 11 1 15 8 49 42 15 10 15 7 26 5 94 5" stroke="#0a9a0a" stroke-opacity="0.5"/>
<path d="M3314 1122l19 1 15-2 33-8 45-19 64-36 15-6 11-1 12 1 15 7 45 33 11 6 11 5 23 2 41-4 19 0 22 5 30 11" stroke="#0a9a0a" stroke-opacity="0.5"/>
<path d="M3314 1072l71-16 19-7 19-11 15-14 15-17 37-58 15-20 11-10 12-5 11 2 7 4 8 6 52 64 15 13 15 9 19 5 19 1 71-6" stroke="#000" stroke-opacity="0.2"/>
<path d="M3314 1148l71-4 38-5 30-8 52-22 23-5 11 0 15 2 52 16 30 4 42 0 67-6" stroke="#0a9a0a" stroke-opacity="0.3"/>
<path d="M3314 1065l37-2 30-4 23-6 19-8 15-11 15-14 56-68 15-11 11-3 11 1 15 9 53 50 15 10 15 8 19 5 22 2 26-1 34-4" stroke="#0a9a0a" stroke-opacity="0.6"/>
<path d="M3314 1072l34 3 22-1 23-4 18-9 19-12 15-15 45-55 15-17 15-11 11-4 12 0 15 5 52 40 15 8 19 6 19 1 22-2 23-6 37-13" stroke="#000" stroke-opacity="0.3"/>
<path d="M3314 1073l45 3 26 0 19-2 19-6 15-9 15-13 41-48 11-11 15-10 11-2 12 3 11 7 11 11 41 45 15 13 15 8 19 5 19 2 71-4" stroke="#000" stroke-opacity="0.7"/>
<path d="M3314 1138l75 13 19 0 15-4 15-7 15-12 41-43 11-10 15-8 11-1 12 3 11 6 11 10 45 45 15 10 15 8 19 5 19 1 67-6" stroke="#0a9a0a" stroke-opacity="0.7"/>
<path d="M3314 1032l75-17 19-7 15-8 15-12 15-17 41-59 11-14 11-10 12-4 11 3 7 5 8 7 11 14 41 61 15 17 15 12 19 9 23 5 30 2 37-1" stroke="#000" stroke-opacity="0.4"/>
<path d="M3314 1077l75-5 34-6 15-5 15-8 52-33 11-4 12-2 11 1 15 7 52 37 15 7 15 6 19 3 19 0 71-6" stroke="#0a9a0a" stroke-opacity="0.7"/>
<path d="M3314 1097l34-9 30-12 26-13 19-13 15-14 15-17 52-76 15-15 11-5 12 1 11 6 15 14 26 30 15 16 15 11 15 6 19 1 19-3 67-24" stroke="#000" stroke-opacity="0.5"/>
<path d="M3314 1082l22 6 53 21 15 3 15-1 15-5 15-9 41-39 15-12 15-7 11-1 12 2 11 6 11 9 41 38 15 10 15 6 15 3 15-1 57-12 22-4" stroke="#0a9a0a" stroke-opacity="0.5"/>
<path d="M3314 1075l75-3 34-5 15-5 15-7 56-33 11-4 11-2 12 1 11 3 52 26 15 5 15 4 19 1 19 0 71-5" stroke="#004d00" stroke-opacity="0.8"/>
<path d="M3314 1101l71-12 19-5 19-9 15-10 15-13 41-50 15-16 11-8 11-3 12 2 11 6 15 13 41 44 15 11 15 7 19 5 19 1 67-6" stroke="#0a9a0a" stroke-opacity="0.6"/>
<path d="M3314 1152l30-5 52-13 19-6 15-7 15-11 11-11 49-58 11-8 12-4 11 2 15 10 15 19 41 57 15 16 19 12 19 7 18 1 23-2 41-8" stroke="#000" stroke-opacity="0.6"/>
<path d="M3314 1138l60 11 22 1 19-2 15-3 19-7 56-28 15-4 11-2 12 1 15 4 56 28 30 8 19 3 18 0 64-4" stroke="#000" stroke-opacity="0.8"/>
<path d="M3314 1115l45-3 60 2 22-1 23-4 49-14 22-2 26 4 64 25 38 11 41 5 41 0" stroke="#0a9a0a" stroke-opacity="0.4"/>
<path d="M3314 1160l64-11 22-7 19-7 15-9 15-11 52-50 12-7 11-3 11 1 11 4 15 11 38 32 15 8 11 4 11 1 15 0 60-12 34-3" stroke="#000" stroke-opacity="0.5"/>
<path d="M3314 1100l49-3 22-3 19-5 34-14 60-35 11-4 11-3 11 0 15 3 49 21 26 6 27 0 63-9 34-1" stroke="#000" stroke-opacity="0.7"/>
<path d="M3314 1054l26-2 56 0 15-2 15-4 15-7 15-11 53-50 15-9 11-2 11 2 12 5 15 11 41 35 15 9 19 9 22 7 23 3 26 2 26-2" stroke="#004d00" stroke-opacity="0.7"/>
<path d="M3314 1073l75-5 19-4 15-7 15-10 15-14 48-59 15-11 12-3 11 2 11 6 11 10 42 44 15 11 11 5 15 3 15-1 56-12 30-3" stroke="#0a9a0a" stroke-opacity="0.3"/>
</g></g>
<path d="M1105.6,408.5 L1247.5,408.5" stroke="#b3b3b3" stroke-width="1.2"/>
<clipPath id="t8"><rect x="1104.6" y="408.5" width="143.9" height="16"/></clipPath><g clip-path="url(#t8)">
<text class="k" x="1110" y="419.1">3.249</text>
<text class="k" x="1136.6" y="419.1">3.247</text>
<text class="k" x="1161.4" y="419.1">3.245</text>
<text class="k" x="1186" y="419.1">3.243</text>
<text class="k" x="1211" y="419.1">3.241</text>
<text class="k" x="1235.6" y="419.1">3.239</text>
</g>
<path d="M1110,408.5 L1110,411.5 M1136.6,408.5 L1136.6,411.5 M1161.4,408.5 L1161.4,411.5 M1186,408.5 L1186,411.5 M1211,408.5 L1211,411.5 M1235.6,408.5 L1235.6,411.5 M1110,408.5 L1110,410.5 M1123.3,408.5 L1123.3,410.5 M1136.6,408.5 L1136.6,410.5 M1149.9,408.5 L1149.9,410.5 M1163.2,408.5 L1163.2,410.5 M1176.5,408.5 L1176.5,410.5 M1189.8,408.5 L1189.8,410.5 M1203.1,408.5 L1203.1,410.5 M1216.4,408.5 L1216.4,410.5 M1229.7,408.5 L1229.7,410.5 M1243,408.5 L1243,410.5" stroke="#999" stroke-width="0.8"/>
<path class="a" d="M1285.8,309.3V403.2H1427.7"/>
<text class="y" x="1283.6" y="311.7">20</text>
<text class="y" x="1283.6" y="335.2">15</text>
<text class="y" x="1283.6" y="358.6">10</text>
<text class="y" x="1283.6" y="382.1">5</text>
<text class="y" x="1283.6" y="405.6">0</text>
<text class="u" x="1260.8" y="356.2" transform="rotate(-90 1260.8 356.2)" dy="2.8">A.U.</text>
<path class="w" d="M1321.8,328.8V353.7M1321.8,365.6V377.8M1310.4,328.8h22.9M1310.4,377.8h22.9"/>
<rect class="b" x="1299" y="353.7" width="45.7" height="11.9" fill="#888"/>
<path class="m" d="M1299,361.3H1344.7"/>
<path class="w" d="M1392,339.2V358.2M1392,371.4V380.3M1380.4,339.2h23.2M1380.4,380.3h23.2"/>
<rect class="b" x="1368.8" y="358.2" width="46.4" height="13.2" fill="#00c000"/>
<path class="m" d="M1368.8,365.1H1415.2"/>
<path class="t" d="M1283.3,309.3h2.5M1283.3,332.8h2.5M1283.3,356.2h2.5M1283.3,379.7h2.5M1283.3,403.2h2.5M1321.8,403.2v3M1392,403.2v3"/>
<text class="x" x="1321.3" y="410.7" transform="rotate(-45 1321.3 410.7)" dy="4">HC</text>
<text class="x" x="1391.5" y="410.7" transform="rotate(-45 1391.5 410.7)" dy="4">HESN</text>
<path class="st" d="M1354.8,318.7l0,-3.3M1354.8,318.7l3.1,-1M1354.8,318.7l1.9,2.7M1354.8,318.7l-1.9,2.7M1354.8,318.7l-3.1,-1"/>
<path class="pl" d="M1342.6,335.2h7M1346.1,331.7v7M1351.7,335.2h7M1355.2,331.7v7M1360.8,335.2h7M1364.3,331.7v7"/>
<rect x="1195.2" y="285.6" width="139.1" height="18.5" fill="#fff"/><text x="1264.8" y="299.1" font-size="17.5" font-weight="bold" text-anchor="middle">Phosphocholine</text>
<clipPath id="c9"><rect x="21.3" y="470.5" width="145.6" height="106.9"/></clipPath>
<rect x="21.3" y="470.5" width="145.6" height="106.9" fill="none" stroke="#e6e6e6" stroke-width="1"/>
<g clip-path="url(#c9)" fill="none" stroke-linejoin="round"><g transform="scale(0.333333)" stroke-width="3">
<path d="M61 1688l21-1 12-3 12-5 9-6 9-10 9-13 30-54 9-11 6-4 6-1 6 1 24 18 6 0 6-4 6-9 6-16 27-102 6-12 3-3 3 0 6 7 6 18 30 133 6 18 9 14 3 2 6 1 21-12 6-2 6 1 6 4 6 7 27 36 15 11 18 5 54 5" stroke="#000" stroke-opacity="0.3"/>
<path d="M61 1694l18-1 15-2 12-4 12-7 18-19 30-43 9-8 6-3 6-1 6 1 27 15 6 1 6-3 6-6 6-10 21-43 6-9 6-3 6 2 6 8 6 13 24 63 9 15 6 6 6 3 6 0 21-5 9 0 12 7 30 29 15 9 24 4 45 2" stroke="#0a9a0a" stroke-opacity="0.5"/>
<path d="M61 1692l33-3 12-4 9-6 9-7 9-11 33-47 12-9 6-1 9 2 24 17 6 1 6-2 6-6 6-9 24-49 6-8 6-2 6 4 6 10 30 75 6 11 9 9 9 2 21-5 9 1 12 5 27 25 18 11 24 6 48 3" stroke="#0a9a0a" stroke-opacity="0.6"/>
<path d="M61 1695l30-4 24-6 15-7 33-20 12-5 15 0 27 7 12-1 12-7 24-22 9-3 6 1 6 3 30 35 9 7 6 3 9 1 24-4 12 0 12 4 27 14 15 5 24 5 48 7" stroke="#004d00" stroke-opacity="0.8"/>
<path d="M61 1693l36-1 21-5 18-9 33-26 12-5 12 1 24 9 6 0 6-2 6-6 9-13 24-52 6-7 6-3 6 3 6 8 30 70 6 10 9 8 9 1 21-7 12 0 12 5 27 19 15 7 21 3 48 2" stroke="#000" stroke-opacity="0.4"/>
<path d="M61 1696l30-3 24-5 18-8 30-19 15-5 15 1 27 7 12-1 12-6 21-14 12-3 12 5 24 19 12 7 12 1 27-8 12 1 12 5 27 19 15 7 27 7 45 7" stroke="#004d00" stroke-opacity="0.8"/>
<path d="M61 1692l36-2 21-7 18-13 30-30 12-7 6 0 9 2 24 13 6 1 6-3 6-5 6-9 24-52 6-9 6-4 6 2 6 8 30 74 6 10 9 10 6 2 6 0 21-8 9 0 12 5 27 22 15 8 21 4 51 2" stroke="#000" stroke-opacity="0.7"/>
<path d="M61 1693l36-1 21-6 18-12 33-31 12-6 12 1 24 10 6 0 6-3 6-6 9-15 24-57 6-8 6-3 6 4 6 9 27 71 9 17 6 7 6 3 6 0 21-9 12 0 12 7 27 25 15 8 21 5 48 3" stroke="#000" stroke-opacity="0.8"/>
<path d="M61 1692l33 0 12-3 12-7 9-7 9-11 30-43 9-9 6-3 6-2 6 1 24 11 9-3 6-6 9-16 24-64 6-10 6-4 6 3 6 11 30 94 6 14 9 13 9 5 6 0 18-4 12 3 9 7 27 27 9 7 9 4 21 3 48 1" stroke="#0a9a0a" stroke-opacity="0.3"/>
<path d="M61 1695l33-3 21-6 18-10 30-24 12-6 6-1 9 1 24 9 6 0 6-3 6-6 9-15 24-54 6-7 6-3 6 3 6 9 27 66 9 15 6 7 6 2 6 1 21-8 12 0 12 7 27 23 15 9 24 5 48 2" stroke="#000" stroke-opacity="0.4"/>
<path d="M61 1691l18-1 15-3 12-5 9-5 15-15 30-42 9-8 6-4 6-1 6 2 21 14 6 2 6 0 3-2 6-6 9-19 24-74 6-12 6-4 6 4 6 12 30 105 6 14 9 13 6 3 6 0 21-11 9 0 12 7 27 27 15 10 18 5 57 6" stroke="#000" stroke-opacity="0.3"/>
<path d="M61 1688l33-2 21-6 18-12 30-28 12-6 12 1 24 11 6 1 6-2 6-6 9-16 24-62 6-10 6-4 6 2 6 9 6 14 24 71 6 12 9 11 9 3 24-8 6 0 6 1 9 6 30 27 9 5 9 3 21 2 48-3" stroke="#000" stroke-opacity="0.4"/>
<path d="M61 1693l21-2 15-4 12-5 12-9 9-10 9-13 30-55 12-14 6-2 9 2 24 20 6 1 6-3 6-9 6-15 27-96 6-12 3-2 3-1 6 7 6 16 27 114 9 25 6 10 6 4 6 0 21-13 9 0 6 3 6 7 27 41 9 10 9 7 12 6 12 2 42 3" stroke="#000" stroke-opacity="0.4"/>
<path d="M61 1694l33-1 24-5 18-9 33-25 15-7 12 0 24 7 12-1 12-8 24-29 6-5 6-2 6 2 6 5 30 45 6 6 9 6 9 2 24-2 12 2 9 4 30 17 18 6 21 2 42 2" stroke="#0a9a0a" stroke-opacity="0.5"/>
<path d="M61 1690l33-4 12-5 9-5 9-9 9-10 30-45 12-10 6-2 9 2 24 16 6 1 6-3 6-8 6-13 27-82 6-9 3-2 3 0 6 6 6 14 27 98 9 23 6 8 6 4 6 1 21-10 9 0 6 2 6 5 30 34 15 9 21 5 51 2" stroke="#000" stroke-opacity="0.8"/>
<path d="M61 1689l21-1 15-3 12-5 9-7 9-10 9-13 30-56 6-8 6-5 6-3 9 3 18 15 6 3 6 1 6-5 6-10 6-17 24-93 6-16 6-7 3 0 3 3 6 13 9 34 21 94 9 26 6 10 6 4 6 0 21-11 9 0 6 4 6 6 30 46 15 14 12 5 12 3 45 4" stroke="#000" stroke-opacity="0.7"/>
<path d="M61 1692l36-6 12-5 9-5 9-8 9-10 30-44 9-9 6-3 6-1 6 2 27 20 6 0 6-3 6-9 6-12 24-72 6-11 6-4 6 4 6 11 30 101 6 13 9 12 9 2 24-11 9 0 12 8 27 30 15 11 21 7 48 8" stroke="#000" stroke-opacity="0.2"/>
<path d="M61 1697l18-2 15-4 12-5 12-8 18-19 30-45 9-10 6-4 6-1 9 2 24 15 6 0 6-2 6-6 6-11 24-54 6-7 6-2 6 5 6 11 30 89 6 12 9 11 9 4 24-4 12 2 9 5 27 22 18 7 18 3 48 2" stroke="#0a9a0a" stroke-opacity="0.4"/>
<path d="M61 1688l36 0 21-2 15-3 30-12 15-4 12 0 27 3 9 0 15-7 24-20 6-3 6-2 6 1 6 4 27 25 15 9 12 1 21-3 9 0 12 3 27 15 18 6 21 3 51 2" stroke="#0a9a0a" stroke-opacity="0.5"/>
<path d="M61 1697l18-3 15-4 12-7 9-8 9-12 9-15 30-59 12-15 6-2 9 1 24 18 6-1 6-4 6-11 6-17 24-93 6-16 6-6 3 1 3 3 6 14 9 37 21 102 9 28 6 11 6 5 6 1 21-11 6-1 6 2 12 12 27 38 9 8 9 5 21 4 48 0" stroke="#000" stroke-opacity="0.8"/>
<path d="M61 1692l21-2 15-2 12-4 9-6 9-8 9-10 30-44 9-10 6-3 6-2 6 2 24 13 6 1 6-2 6-7 6-10 27-72 6-8 6-2 6 5 6 11 27 86 9 20 6 8 6 4 6 1 21-6 9 0 12 8 30 32 15 10 12 5 12 2 45 4" stroke="#0a9a0a" stroke-opacity="0.5"/>
<path d="M61 1693l18-1 15-3 12-5 9-6 9-9 9-13 30-51 9-10 6-4 6-1 6 2 24 18 6 1 6-3 6-8 9-21 24-79 6-11 3-2 3-1 6 7 6 14 30 116 6 15 9 12 3 2 6 1 21-10 6-1 6 1 12 9 27 33 15 10 21 6 51 3" stroke="#000" stroke-opacity="0.7"/>
<path d="M61 1695l33-1 12-3 12-4 18-14 30-31 12-7 12 0 27 12 9-2 6-6 9-15 27-66 6-7 3-2 6 3 6 8 6 14 24 70 6 12 9 11 9 2 6-1 18-9 6-1 6 1 12 7 27 23 15 8 21 5 48 4" stroke="#000" stroke-opacity="0.8"/>
<path d="M61 1686l24 0 12-2 12-4 9-6 9-10 9-13 30-54 6-8 6-5 6-2 6 1 24 14 6-1 6-5 6-11 6-17 27-109 6-14 3-3 3 0 6 7 6 17 30 140 6 19 9 17 3 2 6 3 6-2 15-7 6-1 6 2 12 12 27 38 9 8 9 4 15 3 54 2" stroke="#000" stroke-opacity="0.6"/>
<path d="M61 1691l21-2 15-3 12-5 9-7 15-15 33-49 12-10 6-1 9 2 24 17 6 1 6-2 6-6 6-9 24-55 6-8 6-3 6 4 6 10 30 83 6 11 9 10 9 2 21-6 12 0 12 8 27 27 15 9 21 6 51 6" stroke="#0a9a0a" stroke-opacity="0.7"/>
<path d="M61 1691l33-1 21-6 18-12 30-27 12-7 6-1 9 0 24 8 6 1 6-2 12-10 24-36 6-5 6-2 6 2 6 7 30 55 6 8 9 7 9 2 24-6 9 0 12 5 30 21 15 6 27 6 45 4" stroke="#0a9a0a" stroke-opacity="0.6"/>
<path d="M61 1694l30-1 24-6 18-10 30-22 15-7 15 0 27 8 12-1 9-5 24-18 9-3 6 1 6 3 30 33 12 8 12 1 24-6 12 0 12 5 27 17 15 6 24 5 48 7" stroke="#0a9a0a" stroke-opacity="0.6"/>
<path d="M61 1692l33-5 12-3 12-6 15-11 33-33 12-7 6-1 9 2 27 14 6 1 6-2 6-5 6-7 21-34 6-6 6-3 6 2 6 6 27 50 9 13 6 5 6 3 6 0 21-6 12-1 12 6 27 24 18 10 27 7 42 4" stroke="#0a9a0a" stroke-opacity="0.3"/>
<path d="M61 1685l42-1 18-2 15-6 30-20 12-4 12 0 27 10 9-1 9-7 6-9 27-57 6-8 6-2 6 2 6 8 30 68 6 10 9 7 9 2 21-7 12 0 12 6 27 22 9 4 9 3 18 0 48-4" stroke="#000" stroke-opacity="0.2"/>
<path d="M61 1690l36-4 12-4 9-4 18-16 30-35 12-8 6-1 6 2 24 14 6 1 6-2 6-7 9-17 24-67 6-11 6-4 6 3 6 10 30 92 6 13 9 11 9 3 21-8 6 0 6 1 12 8 30 33 9 6 9 3 18 3 48-1" stroke="#000" stroke-opacity="0.3"/>
<path d="M61 1692l21 0 15-2 12-3 9-5 18-15 30-37 12-8 6-2 9 2 24 11 6 1 6-3 6-6 6-9 24-51 6-8 6-3 6 3 6 8 30 76 6 10 9 10 9 3 24-7 9 0 12 6 27 24 15 8 24 6 48 5" stroke="#0a9a0a" stroke-opacity="0.7"/>
<path d="M61 1693l36-1 21-6 18-12 30-28 12-7 6-1 9 2 24 10 6 1 6-2 6-6 6-8 27-54 6-7 6-1 6 4 6 9 27 63 9 14 6 5 9 2 24-8 12 0 12 6 27 23 15 7 21 4 48 3" stroke="#000" stroke-opacity="0.8"/>
<path d="M61 1690l36-3 12-4 9-5 18-16 30-36 12-8 6-2 6 1 27 13 6 0 6-3 6-6 6-10 24-54 6-8 6-3 6 4 6 8 30 78 6 12 9 10 9 4 24-2 12 3 9 6 27 22 9 5 12 5 24 3 42 2" stroke="#0a9a0a" stroke-opacity="0.4"/>
<path d="M61 1687l36-3 12-4 9-5 15-13 30-36 12-9 6-1 6 1 27 15 6 0 6-4 6-7 6-12 27-77 6-9 6-2 6 5 6 13 27 87 9 19 6 8 6 3 6 1 21-9 9 0 12 7 27 29 9 7 9 5 21 6 51 5" stroke="#000" stroke-opacity="0.8"/>
<path d="M61 1692l18-2 15-3 12-5 12-9 9-10 9-12 30-50 12-12 6-2 6 0 9 5 18 15 6 1 6-2 6-7 9-19 24-72 6-10 3-2 3 0 6 6 6 14 27 98 9 22 6 9 6 5 6 1 21-7 6-1 6 1 12 9 27 29 15 11 24 8 45 8" stroke="#0a9a0a" stroke-opacity="0.7"/>
<path d="M61 1693l33-3 12-2 12-6 18-13 30-30 12-8 12 0 27 9 6 0 6-2 6-6 6-9 24-47 6-8 6-3 6 2 6 8 30 68 6 9 9 9 9 3 24-5 9 0 12 6 27 23 15 8 24 5 48 5" stroke="#0a9a0a" stroke-opacity="0.3"/>
<path d="M61 1692l36-2 12-2 9-4 18-14 33-38 12-8 6 0 6 1 24 12 6 0 6-3 6-6 9-19 24-70 6-11 6-4 6 3 6 11 30 97 6 13 9 12 9 4 24-9 9 0 12 7 27 27 15 9 21 5 48 2" stroke="#000" stroke-opacity="0.7"/>
<path d="M61 1691l33-1 21-3 18-6 30-14 12-3 15 0 24 4 12-1 12-6 27-25 6-3 6-1 6 2 6 4 24 27 9 7 6 4 12 2 21-4 12 0 12 4 27 15 18 7 27 4 45 4" stroke="#0a9a0a" stroke-opacity="0.5"/>
<path d="M61 1694l30-3 12-3 12-4 18-12 30-26 12-7 6-1 9 1 27 11 6 0 6-2 12-12 21-31 6-6 6-2 6 1 6 5 30 51 9 10 6 4 9 1 24-5 9 1 12 5 30 23 15 7 27 5 45 2" stroke="#004d00" stroke-opacity="0.8"/>
<path d="M61 1692l18-1 15-3 12-5 9-7 9-9 9-13 30-52 12-13 6-2 9 2 24 17 6 1 6-3 6-8 6-13 24-74 6-12 6-5 3 0 3 3 6 11 6 18 24 90 9 23 6 8 6 5 6 1 21-6 6 0 6 2 12 9 27 30 9 7 9 4 21 5 48 5" stroke="#0a9a0a" stroke-opacity="0.3"/>
<path d="M61 1692l33-8 12-6 9-7 9-9 9-13 30-52 12-12 6-2 9 2 24 19 6 1 6-3 6-9 6-15 27-94 6-11 3-3 3 0 6 6 6 15 27 108 9 24 6 10 3 3 6 3 6-1 18-6 6 0 6 3 12 13 27 41 9 10 12 7 12 4 15 2 39-2" stroke="#000" stroke-opacity="0.4"/>
<path d="M61 1692l33-2 24-5 18-7 30-18 15-5 15 1 24 7 12 1 12-2 21-9 12-2 12 3 27 17 12 5 12 2 24-5 12 1 12 4 27 16 18 7 24 5 45 4" stroke="#0a9a0a" stroke-opacity="0.6"/>
<path d="M61 1692l33-3 12-4 9-5 9-7 9-10 30-42 12-9 6-2 9 2 24 15 6 0 6-4 6-8 6-13 27-82 6-10 3-2 3 0 6 6 6 14 27 96 9 21 6 8 6 4 6 1 21-9 9-1 12 7 30 31 15 10 21 4 51 2" stroke="#000" stroke-opacity="0.8"/>
<path d="M61 1695l33-3 12-4 12-5 18-14 30-31 9-7 6-2 6-1 9 1 24 11 6 1 6-1 12-10 24-31 9-4 6 1 6 6 9 14 21 39 9 11 6 4 6 3 6 0 21-5 12 1 12 5 24 15 15 6 15 3 57 6" stroke="#0a9a0a" stroke-opacity="0.4"/>
</g></g>
<path d="M21.3,578.9 L166.9,578.9" stroke="#b3b3b3" stroke-width="1.2"/>
<clipPath id="t9"><rect x="20.3" y="578.9" width="147.6" height="16"/></clipPath><g clip-path="url(#t9)">
<text class="k" x="22" y="590.7">3.271</text>
<text class="k" x="57.5" y="590.7">3.268</text>
<text class="k" x="92" y="590.7">3.265</text>
<text class="k" x="127" y="590.7">3.262</text>
<text class="k" x="162" y="590.7">3.259</text>
</g>
<path d="M22,578.9 L22,581.9 M57.5,578.9 L57.5,581.9 M92,578.9 L92,581.9 M127,578.9 L127,581.9 M162,578.9 L162,581.9 M22,578.9 L22,580.9 M39.8,578.9 L39.8,580.9 M57.5,578.9 L57.5,580.9 M75.2,578.9 L75.2,580.9 M93,578.9 L93,580.9 M110.8,578.9 L110.8,580.9 M128.5,578.9 L128.5,580.9 M146.2,578.9 L146.2,580.9 M164,578.9 L164,580.9" stroke="#999" stroke-width="0.8"/>
<path class="a" d="M200.7,481.6V577.4H343"/>
<text class="y" x="198.5" y="484">25</text>
<text class="y" x="198.5" y="503.2">20</text>
<text class="y" x="198.5" y="522.3">15</text>
<text class="y" x="198.5" y="541.5">10</text>
<text class="y" x="198.5" y="560.6">5</text>
<text class="y" x="198.5" y="579.8">0</text>
<text class="u" x="175.7" y="529.5" transform="rotate(-90 175.7 529.5)" dy="2.8">A.U.</text>
<path class="w" d="M235.9,506.7V531M235.9,544.3V552.5M224.4,506.7h23.1M224.4,552.5h23.1"/>
<rect class="b" x="212.8" y="531" width="46.2" height="13.3" fill="#888"/>
<path class="m" d="M212.8,538.8H259"/>
<path class="w" d="M307.1,504.3V538.3M307.1,556.4V567.8M295.6,504.3h23.2M295.6,567.8h23.2"/>
<rect class="b" x="284" y="538.3" width="46.3" height="18.1" fill="#00c000"/>
<path class="m" d="M284,546H330.3"/>
<path class="t" d="M198.2,481.6h2.5M198.2,500.8h2.5M198.2,519.9h2.5M198.2,539.1h2.5M198.2,558.2h2.5M198.2,577.4h2.5M235.9,577.4v3M307.1,577.4v3"/>
<text class="x" x="235.4" y="584.9" transform="rotate(-45 235.4 584.9)" dy="4">HC</text>
<text class="x" x="306.6" y="584.9" transform="rotate(-45 306.6 584.9)" dy="4">HESN</text>
<path class="st" d="M268.9,483.3l0,-3.3M268.9,483.3l3.1,-1M268.9,483.3l1.9,2.7M268.9,483.3l-1.9,2.7M268.9,483.3l-3.1,-1M277.5,483.3l0,-3.3M277.5,483.3l3.1,-1M277.5,483.3l1.9,2.7M277.5,483.3l-1.9,2.7M277.5,483.3l-3.1,-1"/>
<path class="pl" d="M265.1,496.5h7M268.6,493v7M274.2,496.5h7M277.8,493v7"/>
<rect x="126" y="446.4" width="106" height="18.5" fill="#fff"/><text x="179" y="459.9" font-size="17.5" font-weight="bold" text-anchor="middle">Myo-inositol</text>
<clipPath id="c10"><rect x="377.5" y="469.9" width="144.3" height="108.1"/></clipPath>
<rect x="377.5" y="469.9" width="144.3" height="108.1" fill="none" stroke="#e6e6e6" stroke-width="1"/>
<g clip-path="url(#c10)" fill="none" stroke-linejoin="round"><g transform="scale(0.333333)" stroke-width="3">
<path d="M1130 1641l30 0 20-5 22-12 38-33 12-5 10-1 14 6 34 22 14 5 16-2 32-15 10-2 8 1 10 4 8 7 40 38 12 9 12 7 12 5 14 3 70 9" stroke="#0a9a0a" stroke-opacity="0.7"/>
<path d="M1130 1651l32 5 24 0 22-5 36-15 12-2 8-1 16 3 32 14 16 3 14 0 36-7 18 1 18 7 46 23 26 7 30 3 52 1" stroke="#0a9a0a" stroke-opacity="0.3"/>
<path d="M1130 1624l18 0 12-2 12-6 12-11 8-12 12-22 30-72 10-19 6-9 6-7 8-3 6 2 10 9 32 55 10 9 6 2 6-1 8-6 28-39 8-11 10-4 8 2 6 5 10 14 42 97 12 21 12 15 14 12 16 7 20 6 40 8" stroke="#000" stroke-opacity="0.4"/>
<path d="M1130 1625l18-1 12-3 12-7 12-10 8-12 12-21 28-61 12-23 6-8 6-5 8-3 6 3 10 10 32 55 10 9 6 3 6 0 8-6 10-10 18-26 8-9 10-4 8 2 6 6 10 13 38 85 12 20 12 15 16 12 14 6 18 4 46 6" stroke="#000" stroke-opacity="0.5"/>
<path d="M1130 1629l18 0 14-3 12-5 10-7 8-10 12-17 30-58 10-15 12-13 8-2 6 2 10 7 32 45 10 7 6 1 6-1 8-6 34-38 8-4 10 1 8 8 10 13 38 81 12 20 12 13 16 10 14 5 64 6" stroke="#000" stroke-opacity="0.6"/>
<path d="M1130 1624l18-1 12-4 12-7 12-12 8-14 12-25 30-78 10-20 6-10 6-7 8-3 6 2 10 10 32 61 10 10 6 3 6 0 8-7 10-11 18-29 8-10 10-5 8 3 6 6 10 15 38 97 12 24 12 17 16 13 14 8 22 5 42 5" stroke="#000" stroke-opacity="0.7"/>
<path d="M1130 1641l30-1 12-3 12-5 20-16 40-41 12-7 8-1 6 1 10 5 32 26 10 5 6 1 6-1 8-3 34-19 8-2 10 1 8 5 10 8 44 55 10 8 12 8 14 6 16 3 60 4" stroke="#0a9a0a" stroke-opacity="0.4"/>
<path d="M1130 1653l32 2 24-4 18-7 40-22 12-4 8 0 16 4 32 17 16 4 14 0 36-9 18 1 18 8 42 28 22 9 32 7 58 5" stroke="#0a9a0a" stroke-opacity="0.6"/>
<path d="M1130 1639l18 0 12-1 12-4 8-4 18-15 40-44 8-7 6-2 10-1 8 3 10 7 26 24 10 5 6 1 6 0 8-3 34-23 8-3 6-1 10 3 12 10 42 56 12 12 14 11 16 6 18 5 60 5" stroke="#0a9a0a" stroke-opacity="0.5"/>
<path d="M1130 1641l30-2 12-2 12-5 8-6 12-10 40-40 12-6 8-1 6 1 10 5 30 27 14 9 10 2 8-1 34-14 8-2 10 1 8 3 10 6 42 41 12 8 12 7 14 5 16 3 60 6" stroke="#0a9a0a" stroke-opacity="0.6"/>
<path d="M1130 1655l32 3 24-1 22-4 36-12 14-2 18 1 34 9 18 2 14-2 34-8 14-1 10 2 12 4 42 26 24 10 32 7 58 5" stroke="#0a9a0a" stroke-opacity="0.7"/>
<path d="M1130 1625l18 0 12-3 12-6 12-12 8-13 12-23 30-75 10-19 6-9 6-7 8-3 6 2 10 9 30 52 8 11 10 5 6-1 8-6 28-39 8-10 10-4 8 3 6 7 10 15 38 94 12 23 12 17 16 13 14 7 22 5 42 6" stroke="#000" stroke-opacity="0.4"/>
<path d="M1130 1615l18-1 12-3 12-7 12-12 8-14 10-17 38-95 12-18 10-4 6 1 8 9 34 61 8 11 6 3 10-1 8-8 24-37 10-11 8-6 10 2 6 5 8 15 10 20 32 85 12 24 12 16 16 12 14 6 22 3 42 1" stroke="#000" stroke-opacity="0.2"/>
<path d="M1130 1626l18 0 14-2 12-6 12-11 10-11 8-15 40-81 12-15 8-3 6 1 10 8 32 49 10 8 6 2 6 0 8-6 28-33 8-9 10-4 8 3 10 10 8 15 30 68 12 25 10 14 12 15 14 11 16 6 20 3 40 2" stroke="#000" stroke-opacity="0.7"/>
<path d="M1130 1634l14-1 16-3 12-5 12-8 18-19 38-54 12-9 10-2 6 1 8 7 34 37 8 7 6 2 10-1 8-5 28-26 8-6 10-3 8 2 10 8 8 11 40 60 8 10 12 11 16 8 14 5 64 11" stroke="#0a9a0a" stroke-opacity="0.6"/>
<path d="M1130 1633l18 0 14-2 12-4 12-6 10-8 12-14 36-50 12-10 8-3 6 2 10 5 32 37 10 7 8 4 6 0 10-4 26-22 10-5 8-2 10 3 8 6 10 11 38 56 10 9 12 10 14 8 16 4 60 7" stroke="#0a9a0a" stroke-opacity="0.3"/>
<path d="M1130 1632l18 0 12-1 12-4 12-8 8-10 12-17 30-56 10-14 12-12 8-2 6 1 10 8 32 43 10 6 6 2 6-1 8-5 28-32 8-8 10-3 8 3 10 9 8 13 40 76 8 13 12 14 16 10 14 6 64 10" stroke="#000" stroke-opacity="0.7"/>
<path d="M1130 1622l18-3 12-4 12-8 12-12 8-14 10-17 32-81 10-19 6-9 6-6 8-2 6 3 10 10 32 61 10 10 6 2 6 0 8-7 10-11 18-29 8-10 10-5 8 3 10 10 8 17 30 76 12 26 10 16 12 15 14 12 16 6 20 4 40 4" stroke="#000" stroke-opacity="0.6"/>
<path d="M1130 1623l18-2 12-3 12-7 12-12 8-13 10-17 30-73 12-25 6-9 6-5 8-2 6 3 10 10 24 43 8 14 6 6 6 3 10-2 8-8 28-43 8-11 10-4 8 3 10 12 8 17 30 78 12 27 10 17 12 16 14 12 16 6 20 5 40 3" stroke="#000" stroke-opacity="0.8"/>
<path d="M1130 1657l32 2 24-1 18-3 36-11 16-1 18 2 36 13 18 4 14 0 34-8 14 0 18 4 42 20 24 8 30 5 64 3" stroke="#0a9a0a" stroke-opacity="0.4"/>
<path d="M1130 1641l18 3 12 0 12-2 12-5 18-13 42-47 12-7 8-1 6 1 10 5 32 28 16 6 6 0 8-2 28-14 8-4 10-1 8 3 10 5 8 8 36 38 22 15 24 9 72 17" stroke="#0a9a0a" stroke-opacity="0.4"/>
<path d="M1130 1665l140 14 30 1 58-2 20 0 22 3 48 13 24 4 26 2 70 1" stroke="#0a9a0a" stroke-opacity="0.6"/>
<path d="M1130 1633l18-1 12-3 12-6 12-10 18-23 38-71 12-13 10-2 6 1 8 8 34 47 8 9 6 2 10 0 8-6 28-31 8-7 10-3 8 3 10 9 8 13 40 73 8 12 12 13 16 11 18 7 24 5 36 5" stroke="#000" stroke-opacity="0.6"/>
<path d="M1130 1630l18 0 12-2 12-5 12-10 8-11 10-15 38-77 12-14 10-3 6 2 8 8 34 49 8 8 6 2 6 0 10-5 8-9 18-23 10-8 8-4 10 2 8 9 10 14 30 64 12 22 8 13 12 13 16 9 14 6 64 9" stroke="#000" stroke-opacity="0.3"/>
<path d="M1130 1636l18 0 12-2 12-5 12-9 8-11 12-18 30-59 10-15 12-13 8-3 6 2 10 8 32 46 10 7 6 2 6 0 8-5 28-33 8-8 10-4 8 2 10 8 8 13 42 82 10 13 12 12 14 10 16 6 20 3 40 5" stroke="#000" stroke-opacity="0.7"/>
<path d="M1130 1637l18-2 12-3 12-7 8-8 10-11 12-20 26-57 12-22 12-14 10-2 6 2 8 8 30 45 10 10 8 4 6 0 10-5 26-32 10-8 8-3 10 3 8 10 10 14 30 65 12 22 8 13 12 13 16 10 14 5 22 3 42 2" stroke="#000" stroke-opacity="0.8"/>
<path d="M1130 1632l18 0 12-3 12-5 12-10 8-11 12-20 28-57 12-22 6-8 6-5 8-2 6 2 10 9 32 52 10 8 6 2 6 0 8-6 28-33 8-9 10-4 8 2 10 9 8 14 30 64 12 22 10 14 12 13 14 11 18 7 24 4 34 4" stroke="#000" stroke-opacity="0.5"/>
<path d="M1130 1659l32 4 24-1 22-6 38-16 12-3 10 0 18 4 30 12 14 5 16 3 32 1 16 2 50 16 18 4 24 3 52 0 30 2" stroke="#0a9a0a" stroke-opacity="0.7"/>
<path d="M1130 1631l18 0 12-3 12-5 12-9 8-10 12-19 40-76 12-13 8-3 6 2 10 8 32 49 10 9 6 2 8-1 10-6 24-29 8-9 10-4 8 2 10 8 8 14 42 84 10 13 12 13 14 10 16 5 20 4 40 3" stroke="#000" stroke-opacity="0.8"/>
<path d="M1130 1626l18-1 14-4 12-6 10-8 8-11 12-19 36-72 10-12 6-4 8-2 10 5 8 11 28 40 8 8 6 2 6-1 10-6 32-42 10-7 6-1 8 4 12 16 42 93 12 21 12 14 16 11 14 5 18 2 46 3" stroke="#000" stroke-opacity="0.8"/>
<path d="M1130 1660l32 2 24 1 22-2 36-6 14-1 18 1 36 7 16 1 14-1 30-6 18 0 18 4 42 20 24 8 30 5 64 7" stroke="#0a9a0a" stroke-opacity="0.6"/>
<path d="M1130 1638l18-2 12-3 12-6 12-10 18-26 30-62 12-21 6-8 6-4 8-2 6 3 10 8 32 49 10 8 6 2 6-1 8-5 34-36 8-4 10 1 6 5 8 11 42 83 12 19 12 13 16 10 18 7 20 2 40 3" stroke="#000" stroke-opacity="0.8"/>
<path d="M1130 1630l18 0 12-2 12-4 12-9 8-10 12-17 30-56 10-15 12-12 8-2 6 3 10 7 32 47 10 7 6 2 6-1 8-5 28-32 8-9 10-3 8 2 10 8 8 14 30 61 12 21 10 13 12 13 14 10 16 5 20 4 40 4" stroke="#000" stroke-opacity="0.4"/>
<path d="M1130 1626l18-1 14-3 12-6 12-10 10-11 8-15 40-77 12-14 8-3 6 1 10 8 32 47 10 8 6 1 6-1 8-6 28-35 8-8 10-4 6 1 8 8 10 14 38 86 12 21 12 15 16 11 14 6 18 2 46 3" stroke="#000" stroke-opacity="0.7"/>
<path d="M1130 1618l18-1 12-3 12-7 12-13 8-14 12-25 30-80 10-21 6-10 6-7 6-3 2 0 6 3 10 10 32 62 10 9 6 3 6-1 8-8 28-44 8-11 10-5 8 3 10 11 8 18 30 81 12 29 10 17 12 17 14 12 16 7 20 5 40 5" stroke="#000" stroke-opacity="0.4"/>
<path d="M1130 1633l18 0 12-1 12-3 12-7 8-7 12-14 40-56 12-10 8-1 6 1 10 6 32 36 10 6 6 2 6-1 8-4 28-25 8-6 10-2 8 2 10 7 8 11 30 49 12 17 10 11 12 10 14 8 16 4 20 3 40 2" stroke="#0a9a0a" stroke-opacity="0.4"/>
<path d="M1130 1644l30 0 24-5 18-7 32-19 16-5 8-1 10 2 36 17 8 3 10 1 14-4 36-20 10-3 6 1 8 2 10 6 44 44 12 9 12 6 16 5 14 2 64 5" stroke="#0a9a0a" stroke-opacity="0.3"/>
<path d="M1130 1644l30 1 12-2 12-3 20-13 36-30 12-6 10-2 6 1 8 4 34 25 14 7 16 1 36-13 8-2 10 1 8 3 10 5 38 31 24 13 30 8 64 9" stroke="#0a9a0a" stroke-opacity="0.5"/>
<path d="M1130 1638l30-1 12-4 12-6 18-15 38-48 12-8 10-2 6 1 8 5 34 34 14 9 6 2 10-1 8-4 28-14 8-2 10 1 14 10 42 46 12 10 12 8 12 5 16 3 66 9" stroke="#0a9a0a" stroke-opacity="0.5"/>
<path d="M1130 1659l32 3 24-3 18-6 36-18 18-4 18 2 34 13 14 3 16-1 30-8 14-2 10 1 12 5 44 31 24 11 24 5 70 3" stroke="#0a9a0a" stroke-opacity="0.5"/>
<path d="M1130 1623l18-2 14-6 12-7 10-9 18-28 30-64 8-17 6-8 6-5 10-3 6 2 8 9 34 52 8 8 6 2 6-1 10-7 26-38 10-10 8-5 10 3 8 10 10 16 30 72 12 25 8 15 12 15 16 11 14 6 18 2 46 2" stroke="#000" stroke-opacity="0.4"/>
<path d="M1130 1659l30 3 24-1 20-6 40-15 12-2 8 0 16 3 30 12 14 5 16 1 36-2 14 1 18 4 42 17 24 7 28 4 66 7" stroke="#0a9a0a" stroke-opacity="0.7"/>
<path d="M1130 1625l18 3 12-1 12-4 12-7 8-10 12-17 30-57 12-19 6-7 6-4 10-2 6 3 8 8 30 39 10 7 6 2 6 0 8-4 28-27 8-6 10-2 6 1 8 7 10 12 38 75 12 17 12 13 16 9 14 3 64 3" stroke="#004d00" stroke-opacity="0.8"/>
<path d="M1130 1625l18-1 12-2 12-6 12-11 8-11 12-21 28-60 12-23 6-9 6-5 8-2 6 3 10 9 32 55 10 8 6 2 6 0 8-6 28-36 8-9 10-4 8 3 10 10 8 16 30 68 12 24 10 15 12 14 14 10 16 6 20 4 40 3" stroke="#000" stroke-opacity="0.4"/>
<path d="M1130 1631l18 1 12 0 12-4 12-7 8-9 12-17 40-67 12-12 8-3 6 2 10 6 32 43 10 8 6 2 8 0 10-5 24-23 8-7 10-3 8 2 6 3 10 9 38 61 12 15 12 11 12 8 18 8 64 17" stroke="#0a9a0a" stroke-opacity="0.4"/>
<path d="M1130 1632l18 0 12-2 12-5 12-9 8-11 10-13 30-60 12-21 6-7 6-5 8-1 6 2 6 5 34 47 8 8 6 2 10 0 8-6 24-30 10-8 8-5 10 2 6 4 8 12 10 16 36 74 12 18 12 13 14 10 18 6 22 4 36 2" stroke="#000" stroke-opacity="0.7"/>
</g></g>
<path d="M377.5,579.5 L521.8,579.5" stroke="#b3b3b3" stroke-width="1.2"/>
<clipPath id="t10"><rect x="376.5" y="579.5" width="146.3" height="16"/></clipPath><g clip-path="url(#t10)">
<text class="k" x="379" y="590.8">3.827</text>
<text class="k" x="408" y="590.8">3.825</text>
<text class="k" x="435.7" y="590.8">3.823</text>
<text class="k" x="463" y="590.8">3.821</text>
<text class="k" x="490.8" y="590.8">3.819</text>
<text class="k" x="516" y="590.8">3.817</text>
</g>
<path d="M379,579.5 L379,582.5 M408,579.5 L408,582.5 M435.7,579.5 L435.7,582.5 M463,579.5 L463,582.5 M490.8,579.5 L490.8,582.5 M516,579.5 L516,582.5 M379,579.5 L379,581.5 M393.5,579.5 L393.5,581.5 M408,579.5 L408,581.5 M422.5,579.5 L422.5,581.5 M437,579.5 L437,581.5 M451.5,579.5 L451.5,581.5 M466,579.5 L466,581.5 M480.5,579.5 L480.5,581.5 M495,579.5 L495,581.5 M509.5,579.5 L509.5,581.5" stroke="#999" stroke-width="0.8"/>
<path class="a" d="M561.1,481.5V578H704.1"/>
<text class="y" x="558.9" y="483.9">15</text>
<text class="y" x="558.9" y="516.1">10</text>
<text class="y" x="558.9" y="548.2">5</text>
<text class="y" x="558.9" y="580.4">0</text>
<text class="u" x="536.1" y="529.8" transform="rotate(-90 536.1 529.8)" dy="2.8">A.U.</text>
<path class="w" d="M597.8,493.2V513.1M597.8,523.7V533.3M586.1,493.2h23.6M586.1,533.3h23.6"/>
<rect class="b" x="574.3" y="513.1" width="47.1" height="10.6" fill="#888"/>
<path class="m" d="M574.3,518.3H621.4"/>
<path class="w" d="M668.4,511.3V526M668.4,570V573.3M656.8,511.3h23.3M656.8,573.3h23.3"/>
<rect class="b" x="645.1" y="526" width="46.6" height="44" fill="#00c000"/>
<path class="m" d="M645.1,546.7H691.7"/>
<path class="t" d="M558.6,481.5h2.5M558.6,513.7h2.5M558.6,545.8h2.5M558.6,578h2.5M597.8,578v3M668.4,578v3"/>
<text class="x" x="597.3" y="585.5" transform="rotate(-45 597.3 585.5)" dy="4">HC</text>
<text class="x" x="667.9" y="585.5" transform="rotate(-45 667.9 585.5)" dy="4">HESN</text>
<path class="st" d="M624,483.4l0,-3.3M624,483.4l3.1,-1M624,483.4l1.9,2.7M624,483.4l-1.9,2.7M624,483.4l-3.1,-1M632.6,483.4l0,-3.3M632.6,483.4l3.1,-1M632.6,483.4l1.9,2.7M632.6,483.4l-1.9,2.7M632.6,483.4l-3.1,-1M641.2,483.4l0,-3.3M641.2,483.4l3.1,-1M641.2,483.4l1.9,2.7M641.2,483.4l-1.9,2.7M641.2,483.4l-3.1,-1"/>
<path class="pl" d="M620,496.3h7M623.5,492.8v7M629.1,496.3h7M632.6,492.8v7M638.2,496.3h7M641.7,492.8v7"/>
<rect x="495.9" y="446.1" width="56.5" height="18.5" fill="#fff"/><text x="524.2" y="459.6" font-size="17.5" font-weight="bold" text-anchor="middle">Serine</text>
<clipPath id="c11"><rect x="743.6" y="470.5" width="145.4" height="107.1"/></clipPath>
<rect x="743.6" y="470.5" width="145.4" height="107.1" fill="none" stroke="#e6e6e6" stroke-width="1"/>
<g clip-path="url(#c11)" fill="none" stroke-linejoin="round"><g transform="scale(0.333333)" stroke-width="4.8">
<path d="M2228 1698l6-2 4-6 6-33 6 32 3 5 5 3 13 0 8-4 3-6 4-23 5 23 3 6 3 2 6 0 4-5 6-26 5 24 3 6 3 2 7 2 15 1 32-2 6-4 3-6 4-32 2-3 4 33 5 9 4 3 9 1 14 0 9-3 6-4 4-13 3-27 3-58 2-1 4 75 5 21 6 6 13 3 8-1 4-3 5-7 4-22 2 1 3 10 1 0 3-16 5-65 4 68 3 19 5 8 3 1 3-1 6-20 6 19 3 1 1-2 5-16 4 12 2 1 3-5 4-26 5 27 3 4 3-5 4-28 5 30 3 8 3 3 4 1 5-4 3-11 3-23 1 0 3 22 3 9 2 0 1-1 2-4 3-18 1-2 5 26 4 8 9 3 23 1" stroke="#0a9a0a" stroke-opacity="0.4"/>
<path d="M2228 1716l6-2 4-4 6-22 6 22 3 3 5 2 13 0 8-2 3-5 4-15 5 15 3 4 3 2 6 0 4-4 6-17 5 16 6 6 21 1 33-1 6-3 3-4 6-23 4 22 5 6 13 3 23-2 6-3 4-8 3-18 3-38 2-2 3 38 3 19 3 7 6 4 13 2 12-2 5-5 4-15 2 1 3 7 1-1 3-10 5-43 6 52 3 8 3 3 3 1 3-2 6-13 6 13 3 0 1-1 5-10 4 8 3 0 6-21 5 18 3 4 3-4 4-19 5 20 3 6 3 2 4 0 5-2 3-7 3-15 1-1 3 14 3 6 3 0 2-3 4-13 5 17 4 5 9 3 23 0" stroke="#0a9a0a" stroke-opacity="0.5"/>
<path d="M2228 1703l6-3 4-7 6-46 6 43 3 7 5 4 6 1 7 0 5-2 3-3 3-8 4-33 5 30 3 9 4 4 6-2 5-11 4-30 5 32 3 9 3 3 7 3 14 1 21 0 12-2 6-6 3-8 6-49 4 44 5 14 6 4 9 2 13-1 9-4 6-8 5-25 6-111 3 77 3 42 3 15 6 9 6 3 7 1 8-2 4-2 5-9 4-30 2-1 3 14 1 0 3-18 5-92 6 106 3 17 3 6 4 2 3-5 5-24 4 22 3 5 3-2 5-22 1 1 3 15 2 2 1-1 6-43 5 37 1 5 2 2 1-1 3-14 3-30 6 46 5 10 3 1 3-1 4-9 6-44 3 30 3 13 2 2 1-2 2-5 4-29 5 35 4 12 9 5 23 1" stroke="#0a9a0a" stroke-opacity="0.4"/>
<path d="M2228 1706l6-2 4-5 6-27 6 27 3 4 5 2 13 0 8-3 3-5 4-19 5 19 3 5 3 1 6 0 4-4 6-21 5 20 3 5 3 2 22 2 32-2 6-3 3-5 4-26 2-2 4 26 5 8 4 2 9 1 23-2 6-4 4-10 3-22 3-47 2-1 4 61 5 16 6 6 13 2 12-3 5-6 4-18 2 1 3 8 1 0 3-13 5-53 4 56 3 15 5 7 3 1 3-2 6-16 6 16 3 0 1-1 5-13 6 11 3-5 4-21 5 22 3 4 3-4 4-23 5 24 3 7 3 2 4 1 5-4 3-8 3-19 1 0 3 18 3 7 3-1 2-3 3-15 1-1 5 21 4 6 9 3 23 1" stroke="#0a9a0a" stroke-opacity="0.3"/>
<path d="M2228 1696l6-4 4-9 6-52 6 52 3 7 5 4 6 1 7 0 5-2 3-5 3-10 4-36 5 37 3 9 3 3 4 1 5-5 3-12 3-29 1-2 5 37 3 9 3 3 7 3 12 1 21 0 12-2 6-4 3-7 3-18 3-39 2-1 4 50 5 14 6 4 9 2 12-1 9-3 6-8 4-20 3-44 3-91 2 4 3 91 3 41 3 15 6 10 6 3 7 1 8-2 4-3 5-12 4-35 5 19 1-2 3-26 5-100 4 109 3 28 5 12 3 2 3-3 6-31 6 31 1 1 2-1 1-3 5-25 4 20 2 1 3-9 4-40 5 43 3 7 3-9 4-44 5 48 3 13 3 4 4 1 5-7 3-17 3-36 1 2 3 34 3 13 2 1 1-3 5-35 1-2 5 41 4 12 9 5 23 2" stroke="#0a9a0a" stroke-opacity="0.4"/>
<path d="M2228 1714l6-2 4-4 3-8 3-15 2 1 4 20 3 4 5 3 13 0 8-2 3-5 4-17 5 15 3 5 4 3 6-1 5-6 4-16 5 16 3 5 3 2 19 2 35-1 6-3 3-4 6-26 4 23 5 7 6 3 9 0 22-2 6-4 5-12 6-61 6 63 3 8 6 6 13 1 12-2 5-4 4-16 2-1 3 8 1 0 3-9 5-48 6 54 3 9 4 5 3 0 3-3 5-12 4 11 3 3 3-1 2-3 3-9 1 0 3 8 3 1 3-7 3-15 5 18 1 3 3 1 3-7 3-16 8 27 4 3 5-1 4-4 6-24 3 15 3 8 3 1 2-3 4-16 5 18 4 7 9 2 23 1" stroke="#0a9a0a" stroke-opacity="0.5"/>
<path d="M2228 1708l6-2 4-7 6-36 6 36 3 5 5 3 13 1 5-2 3-3 3-7 4-25 5 25 3 7 3 2 4 0 5-3 3-8 3-20 1-2 5 26 3 6 3 3 7 2 12 0 33-1 6-3 3-5 3-12 3-28 2-1 4 36 5 9 4 3 9 1 14 0 9-3 6-5 4-14 3-31 3-64 2 3 3 64 3 29 3 10 6 7 13 3 8-1 4-3 5-8 4-24 5 13 1-1 3-19 5-70 4 76 3 20 5 9 3 1 3-2 6-22 6 22 3 0 1-2 5-18 4 14 2 1 3-6 4-28 5 30 3 4 3-6 4-30 5 33 3 9 3 3 4 1 5-5 3-12 3-25 1 1 3 24 3 9 2 1 1-2 5-25 1-1 5 29 4 8 9 3 23 2" stroke="#0a9a0a" stroke-opacity="0.6"/>
<path d="M2228 1702l6-3 4-6 6-41 6 39 3 6 5 3 13 1 5-2 3-3 3-7 4-29 5 27 3 8 3 3 6 0 4-6 6-32 5 29 3 8 3 3 7 2 14 1 22 0 11-2 6-5 3-7 6-44 4 40 5 12 6 4 9 1 13-1 9-3 6-8 5-23 4-90 2-8 3 70 3 36 3 13 6 9 6 2 7 1 8-1 4-3 5-8 4-27 2 0 3 13 1 0 3-18 5-82 6 97 3 14 3 6 3 2 3-2 6-25 4 20 3 5 3-3 5-20 4 15 2 2 1-1 6-38 5 33 1 5 2 1 1-1 3-13 3-27 6 43 5 8 4 1 5-5 3-12 3-28 1-3 3 27 3 11 2 2 1-2 2-4 4-27 5 32 4 10 9 5 23 1" stroke="#0a9a0a" stroke-opacity="0.3"/>
<path d="M2228 1713l6-2 4-5 6-28 6 27 3 5 5 2 13 0 8-3 3-6 4-19 5 19 3 5 3 2 6 0 4-4 6-22 5 21 3 4 3 2 22 2 32-1 6-4 3-5 4-27 2-1 4 27 5 7 4 2 9 2 14-1 9-2 6-4 4-10 3-23 3-49 2 0 3 49 3 23 3 8 6 5 13 2 12-2 5-6 4-19 5 10 1-1 3-13 5-55 4 58 3 15 5 7 3 1 3-1 6-17 6 16 3 1 1-2 5-13 4 10 2 1 3-5 4-21 5 23 3 3 3-4 4-24 5 25 3 7 3 3 4 0 5-3 3-9 3-19 1 0 3 18 3 7 3 0 5-19 1-1 5 21 4 7 9 3 23 1" stroke="#0a9a0a" stroke-opacity="0.7"/>
<path d="M2228 1709l6-2 4-5 6-25 6 25 3 4 5 2 13 0 8-3 3-5 4-17 5 17 3 5 3 1 4 1 5-3 3-6 3-13 1-2 5 19 6 5 19 2 33-1 6-2 3-3 3-9 3-19 2 0 4 24 5 7 6 2 9 1 21-2 6-4 4-10 3-22 3-44 2 3 3 44 3 20 3 7 6 5 13 1 12-2 5-6 4-16 5 8 1 0 3-13 5-48 4 52 3 14 5 6 3 1 3-2 6-14 6 14 3 0 1-1 5-12 4 10 2 0 3-5 4-19 5 21 3 3 3-4 4-21 5 23 3 6 3 2 4 1 5-4 3-8 3-18 1 1 3 17 3 6 3-1 5-17 1 0 5 20 4 5 9 3 23 1" stroke="#0a9a0a" stroke-opacity="0.3"/>
<path d="M2228 1721l6-1 4-3 6-15 6 15 8 3 13 0 8-1 3-3 4-11 5 10 6 4 6 0 4-2 6-12 5 11 6 4 21 1 33-1 6-1 3-3 6-17 4 15 5 5 13 2 23-1 6-3 4-5 3-12 3-27 2-3 3 27 3 14 3 5 6 3 13 1 12-1 5-3 4-11 2 0 3 5 1 0 3-7 5-31 6 37 3 6 3 2 6 0 6-10 4 8 3 2 3-1 5-8 4 6 3 0 6-15 5 13 1 2 3 0 3-5 3-10 5 13 3 5 3 1 4 0 5-1 3-5 3-11 1-1 3 10 3 5 3 0 2-2 4-10 5 12 4 4 9 2 23 0" stroke="#0a9a0a" stroke-opacity="0.4"/>
<path d="M2228 1701l6-2 4-6 6-30 6 31 3 4 5 2 13 1 8-4 3-7 4-21 5 23 3 5 3 2 4 0 5-3 3-8 3-17 1 0 5 22 3 5 3 2 21 2 31-1 6-3 3-4 3-11 3-24 2 1 4 30 5 8 6 2 9 1 12 0 9-2 6-5 4-13 3-28 3-53 2 7 4 68 5 17 6 6 13 2 8-1 4-2 5-7 4-21 5 11 1-1 3-17 5-57 4 65 3 16 5 7 3 1 3-2 6-18 3 12 3 6 3 0 1-2 5-15 3 10 3 3 3-6 3-20 1-3 5 26 3 3 3-5 4-26 5 29 3 8 3 2 4 0 5-4 3-11 3-21 1 3 3 20 3 7 3-2 2-4 3-17 1 1 5 24 4 6 9 3 23 1" stroke="#0a9a0a" stroke-opacity="0.6"/>
<path d="M2228 1716l6-2 4-4 6-22 6 22 3 3 5 2 13 0 8-2 3-5 4-15 5 15 3 4 3 2 6 0 4-4 6-17 5 16 6 5 21 2 33-1 6-3 3-4 6-23 4 22 5 6 13 2 23-1 6-3 4-8 3-18 3-38 2-2 3 38 3 19 3 7 6 4 13 2 12-2 5-5 4-15 2 1 3 7 1-1 3-10 5-43 6 52 3 8 3 3 3 1 3-2 6-13 6 13 3 0 1-1 5-10 4 8 3 0 6-20 5 17 3 4 3-4 4-18 5 19 3 6 3 2 4 0 5-2 3-7 3-15 1-1 3 14 3 6 3 0 2-3 4-13 5 17 4 5 9 3 23 0" stroke="#0a9a0a" stroke-opacity="0.6"/>
<path d="M2228 1704l6-3 4-6 6-36 6 35 3 6 5 2 13 1 8-4 3-7 4-25 5 24 3 7 3 2 6 0 4-5 6-28 5 26 3 6 3 3 7 2 15 1 21-1 11-1 6-5 3-6 4-34 2-3 4 34 5 10 4 3 9 1 14 0 9-2 6-5 4-14 3-28 3-63 2-1 4 81 5 21 6 7 13 3 8-1 4-2 5-8 4-24 2 1 3 11 1 0 3-17 5-70 6 86 3 12 3 4 3 1 3-1 6-22 6 21 3 0 1-2 5-17 4 14 2 1 1-2 6-32 5 29 3 5 3-6 4-30 5 32 3 9 3 3 4 1 5-4 3-12 3-24 1-1 3 24 3 9 2 1 1-1 2-5 3-19 1-2 5 28 4 8 9 4 23 1" stroke="#0a9a0a" stroke-opacity="0.5"/>
<path d="M2228 1718l6-2 4-3 6-19 6 19 3 2 5 2 13 0 8-2 3-4 4-13 5 13 3 4 3 1 6 0 4-3 6-15 5 14 6 5 22 1 32-1 6-2 3-4 4-19 2-1 4 19 5 5 13 3 23-2 6-3 4-7 3-16 3-34 2 0 3 34 3 16 3 6 6 3 13 2 12-2 5-4 4-13 5 6 1 0 3-9 5-38 4 40 3 11 5 5 6-1 6-11 6 11 4-1 5-9 6 8 3-4 4-15 5 16 3 3 3-4 4-16 5 18 3 5 3 1 4 1 5-3 3-6 3-14 1 1 3 13 3 5 3-1 5-13 1-1 5 15 4 5 9 2 23 0" stroke="#0a9a0a" stroke-opacity="0.7"/>
<path d="M2228 1712l6-2 4-5 6-25 6 26 3 3 5 2 13 1 8-4 3-5 4-18 5 19 3 4 3 2 4 0 5-3 3-6 3-14 1-1 5 19 6 6 19 2 33-1 6-3 3-3 3-9 3-19 2-1 4 25 5 7 6 2 9 1 21-2 6-4 4-10 3-23 3-45 2 4 3 45 3 20 3 7 6 5 13 2 12-3 5-5 4-18 5 10 1-1 3-14 5-49 4 55 3 13 5 6 3 1 3-1 6-16 6 16 3 0 1-2 5-12 4 10 2 0 3-5 4-19 5 21 3 3 3-4 4-22 5 24 3 7 3 2 4 0 5-4 3-8 3-18 1 1 3 17 3 7 3-1 5-18 1 0 5 20 4 6 9 2 23 1" stroke="#004d00" stroke-opacity="0.8"/>
<path d="M2228 1691l6-5 4-15 6-78 6 79 3 11 5 6 6 2 7-1 5-4 3-7 3-17 4-53 5 57 3 14 3 5 4 0 5-8 3-20 3-43 1-1 5 57 3 13 3 5 7 4 12 2 21-1 12-3 6-7 5-21 4-78 2 2 4 77 5 20 6 6 9 2 12-1 9-5 6-12 4-33 3-71 3-138 2 17 4 176 5 44 3 10 3 5 6 4 7 1 8-3 4-5 5-19 4-53 5 29 1-3 3-43 5-147 4 168 3 41 5 18 3 2 3-5 6-46 3 31 3 15 1 2 2-2 1-6 5-37 3 24 1 8 2 1 3-16 3-51 1-7 5 66 1 7 2 2 3-16 4-64 5 74 3 19 3 6 1 1 3 0 5-11 3-29 3-54 1 7 3 52 3 19 2 0 1-4 2-12 3-43 1 1 5 62 4 17 3 4 6 3 23 3" stroke="#000" stroke-opacity="0.3"/>
<path d="M2228 1692l6-6 4-15 6-78 6 79 3 11 5 6 6 2 7-1 5-4 3-6 3-17 4-54 5 57 3 14 3 5 4 0 5-7 3-20 3-43 1-3 5 58 3 13 3 5 7 4 12 2 21-1 12-3 6-7 3-10 3-28 3-60 2 0 4 77 5 21 6 6 9 3 12-2 9-5 6-12 4-32 3-69 3-139 2 12 4 178 5 45 3 10 3 5 6 4 7 1 8-2 4-6 5-18 4-53 5 29 1-3 3-42 5-150 4 167 3 42 5 19 3 2 3-5 6-46 3 31 3 16 1 1 2-2 1-5 5-38 4 32 2 2 3-16 4-59 5 66 1 7 2 2 3-15 4-65 5 73 3 20 3 6 1 2 3-1 5-11 3-27 3-55 1 5 3 53 3 19 2 0 1-4 5-54 1-1 5 63 4 17 3 4 6 4 23 3" stroke="#000" stroke-opacity="0.8"/>
<path d="M2228 1692l6-5 4-16 6-79 6 81 3 11 5 5 6 2 7-1 5-3 3-7 3-18 4-53 5 58 3 14 3 4 4 1 5-8 3-20 3-44 1-1 5 58 3 12 3 6 7 4 12 1 21 0 12-3 6-7 5-22 4-78 2 1 4 78 5 20 6 7 9 2 12-1 9-6 6-12 4-33 3-72 3-139 2 17 4 178 5 44 3 10 3 5 6 5 7 1 8-3 4-6 5-18 4-54 5 30 1-4 3-43 5-149 4 169 3 42 5 19 3 2 3-6 6-46 3 31 3 16 1 1 2-2 1-5 5-38 3 24 1 8 2 2 3-17 3-51 1-7 5 66 1 8 2 1 3-15 4-66 5 75 3 19 3 7 1 1 3-1 5-11 3-28 3-55 1 7 3 53 3 18 2 1 1-5 2-11 3-44 1 1 5 62 4 18 3 4 6 3 23 3" stroke="#000" stroke-opacity="0.7"/>
<path d="M2228 1694l6-5 4-14 6-79 6 78 3 12 5 6 6 2 7-1 5-4 3-6 3-16 4-55 5 56 3 14 3 5 4 1 5-7 3-19 3-43 1-5 5 58 3 13 3 6 7 4 12 2 21-1 12-3 6-7 3-10 3-26 3-60 2-4 4 78 5 21 4 6 9 3 14-1 9-5 6-12 4-30 3-67 3-139 2 4 3 139 3 64 3 23 3 10 3 5 6 5 7 1 8-3 4-5 5-17 4-53 5 27 1-2 3-39 5-153 4 164 3 44 5 20 3 2 3-4 6-47 6 46 1 2 2-2 1-5 5-38 4 31 2 3 3-15 4-61 5 66 3 10 3-14 4-66 5 72 3 20 3 7 1 1 3 0 5-10 3-26 3-55 1 2 3 52 3 20 2 1 1-3 5-54 1-3 5 63 4 18 3 4 6 3 23 3" stroke="#000" stroke-opacity="0.8"/>
<path d="M2228 1694l6-6 4-13 6-80 6 78 3 11 5 7 6 2 7-1 5-4 3-6 3-15 4-56 5 55 3 15 3 5 3 2 3-2 4-12 6-61 5 57 3 14 3 6 7 4 15 2 21-1 11-4 6-9 3-15 4-75 2-7 4 77 5 22 4 6 9 3 14-1 9-5 6-11 4-30 3-63 3-139 2-3 4 179 5 49 3 10 3 5 6 5 7 1 8-2 4-5 5-17 4-53 2 3 3 23 1-1 3-37 5-155 6 190 3 27 3 10 3 2 3-4 6-47 6 46 1 2 2-1 1-5 5-38 4 30 2 3 1-3 6-73 5 65 3 11 3-12 4-68 5 71 3 21 3 7 1 1 3 0 5-10 3-25 3-54 1-1 3 52 3 21 2 2 1-4 2-9 3-43 1-5 5 62 4 18 3 5 6 3 23 3" stroke="#000" stroke-opacity="0.8"/>
<path d="M2228 1694l6-5 4-13 6-77 6 75 3 11 5 6 6 2 7 0 5-4 3-5 3-16 4-53 5 53 3 14 3 5 3 1 3-1 4-12 6-59 5 56 3 13 3 5 7 5 15 1 21-1 11-3 6-9 3-15 4-72 2-7 4 75 5 21 4 6 9 3 14-1 9-5 6-11 4-28 3-62 3-134 2-4 4 174 5 47 3 10 3 5 6 5 7 1 8-3 4-4 5-16 4-52 2 3 3 23 1-1 3-36 5-151 6 184 3 26 3 10 3 3 3-4 6-46 6 44 1 2 2-1 1-4 5-37 4 29 2 3 1-4 6-70 5 63 3 11 3-12 4-66 5 69 3 20 3 7 1 1 3 0 5-9 3-24 3-53 1-2 3 51 3 21 2 1 1-3 2-9 3-41 1-6 5 60 4 18 3 4 6 4 23 3" stroke="#000" stroke-opacity="0.2"/>
<path d="M2228 1693l6-5 4-15 6-78 6 79 3 11 5 6 6 2 7-1 5-4 3-6 3-17 4-54 5 56 3 15 3 4 4 1 5-8 3-19 3-43 1-3 5 57 3 13 3 6 7 4 12 1 21 0 12-3 6-7 3-10 3-28 3-59 2-2 4 78 5 20 6 7 9 2 12-1 9-5 6-12 4-32 3-68 3-139 2 10 3 139 3 61 3 23 3 10 3 5 6 5 7 1 8-3 4-5 5-18 4-53 5 28 1-2 3-41 5-151 4 166 3 43 5 19 3 2 3-5 6-46 3 30 3 16 1 2 2-2 1-5 5-38 4 31 2 2 3-15 4-60 5 66 1 8 2 2 3-15 4-66 5 74 3 19 3 7 1 1 3 0 5-11 3-27 3-55 1 5 3 52 3 19 2 1 1-4 5-54 1-1 5 62 4 18 3 4 6 3 23 3" stroke="#000" stroke-opacity="0.8"/>
<path d="M2228 1692l6-5 4-14 6-80 6 78 3 12 5 6 6 2 7-1 5-3 3-6 3-16 4-56 5 55 3 16 3 5 3 1 3-2 4-12 6-61 5 58 3 13 3 6 7 4 15 2 21-1 11-4 6-9 3-15 4-76 2-6 4 78 5 21 4 6 9 3 14-1 9-5 6-11 4-30 3-64 3-139 2-2 4 180 5 48 3 10 3 6 6 4 7 1 8-2 4-5 5-17 4-53 2 3 3 24 1-2 3-37 5-156 4 163 3 45 5 20 3 3 3-5 6-47 6 46 1 2 2-1 1-5 5-38 4 30 2 3 3-14 4-62 5 65 3 11 3-12 4-68 5 71 3 21 3 7 1 1 3 0 5-10 3-25 3-55 1 0 3 52 3 21 2 2 1-4 2-10 3-42 1-5 5 62 4 19 3 4 6 4 23 3" stroke="#000" stroke-opacity="0.8"/>
<path d="M2228 1693l6-5 4-13 6-80 6 77 3 12 5 6 6 2 7 0 5-4 3-6 3-15 4-56 5 54 3 16 3 5 3 1 3-1 4-12 6-62 5 57 3 15 3 5 7 5 14 1 22 0 11-4 6-9 3-15 6-83 4 77 5 23 4 6 9 3 14-1 9-5 6-11 4-29 3-62 3-138 2-9 3 138 3 67 3 25 3 11 3 5 6 4 7 2 8-3 4-5 5-16 4-53 2 2 3 24 1-1 3-35 5-157 6 188 3 28 3 10 3 3 3-4 6-47 6 46 1 2 2-1 1-5 5-38 4 30 2 3 1-3 6-73 5 64 3 12 3-12 4-68 5 70 3 21 3 8 1 1 3 0 5-10 3-24 3-54 1-4 3 53 3 22 2 1 1-3 2-9 4-49 5 62 4 19 3 4 6 4 23 3" stroke="#000" stroke-opacity="0.8"/>
<path d="M2228 1695l6-5 4-16 6-75 6 77 3 11 5 5 6 2 7-1 5-3 3-7 3-17 4-51 5 56 3 13 3 4 4 1 5-8 3-20 3-42 1-1 5 56 3 13 3 4 7 5 14 1 21-1 10-2 6-7 3-11 3-28 3-58 2 2 4 75 5 20 6 6 9 2 12-1 9-6 6-12 4-32 3-70 3-134 2 18 4 171 5 43 6 14 6 5 7 0 8-2 4-5 5-18 4-52 5 28 1-3 3-43 5-142 4 164 3 39 5 18 3 2 3-5 6-45 3 31 3 15 1 1 2-2 1-6 5-36 3 24 1 7 2 2 3-17 3-49 1-7 5 65 1 7 2 1 3-15 4-63 5 73 3 18 3 6 1 1 3 0 5-11 3-28 3-53 1 7 3 51 3 18 2 0 1-4 2-11 3-43 1 2 5 60 4 17 3 4 6 3 23 3" stroke="#000" stroke-opacity="0.8"/>
<path d="M2228 1696l6-5 4-14 6-76 6 75 3 11 5 6 6 2 7-1 5-3 3-6 3-16 4-53 5 54 3 14 3 5 3 1 3-2 4-12 6-58 5 55 3 14 3 5 7 4 15 2 21-1 11-4 6-9 3-15 4-73 2-5 4 75 5 21 4 5 9 3 14-1 9-5 6-11 4-29 3-62 3-134 2 0 4 173 5 46 3 10 3 5 6 4 7 1 8-2 4-5 5-16 4-52 2 4 3 22 1-1 3-37 5-149 4 157 3 43 5 20 3 2 3-4 6-46 6 45 1 2 2-1 1-5 5-37 4 30 2 2 3-13 4-60 5 63 3 10 3-12 4-65 5 69 3 20 3 6 1 2 3 0 5-10 3-25 3-53 1 1 3 50 3 20 2 2 1-4 5-51 1-4 5 60 4 18 3 4 6 3 23 3" stroke="#000" stroke-opacity="0.5"/>
<path d="M2228 1692l6-6 4-16 6-77 5 70 3 17 3 6 3 3 6 2 6 0 4-3 3-5 5-23 3-44 1-6 5 58 3 13 3 4 4 0 5-8 3-22 3-43 1 3 5 57 3 12 3 5 7 4 14 1 21 0 10-4 6-7 3-11 3-31 3-60 2 8 4 76 5 19 6 6 9 2 12-2 9-5 6-13 4-35 6-212 6 202 5 42 6 14 6 4 9 1 6-2 4-6 5-20 4-52 3 24 2 6 1-5 3-47 3-125 2-15 4 169 3 39 5 18 3 1 3-5 4-41 2-4 3 32 3 14 1 1 2-2 1-6 5-37 3 25 1 8 2 0 3-18 3-52 1-3 3 52 2 15 1 6 2 1 3-18 4-62 6 87 5 13 3 1 1-1 3-6 3-17 5-73 4 64 3 16 2 0 1-5 5-56 1 5 5 62 3 12 3 6 6 4 9 3 15 1" stroke="#000" stroke-opacity="0.8"/>
<path d="M2228 1693l6-5 4-15 6-78 6 79 3 11 5 6 6 2 7-1 5-4 3-6 3-17 4-53 5 56 3 14 3 4 4 1 5-8 3-19 3-43 1-3 5 58 3 12 3 6 7 4 12 1 21 0 12-3 6-7 3-10 3-28 3-59 2-1 4 77 5 20 6 7 9 2 12-1 9-5 6-12 4-32 3-68 3-138 2 11 3 138 3 61 3 22 3 10 3 5 6 5 7 1 8-3 4-5 5-18 4-53 5 29 1-3 3-41 5-149 4 165 3 42 5 19 3 2 3-5 6-46 3 30 3 16 1 2 2-2 1-5 5-38 4 32 2 2 3-16 4-59 5 66 1 7 2 2 3-15 4-65 5 73 3 19 3 7 1 1 3 0 5-11 3-27 3-54 1 4 3 53 3 19 2 0 1-4 5-54 1 0 5 61 4 18 3 4 6 3 23 3" stroke="#000" stroke-opacity="0.8"/>
<path d="M2228 1695l6-5 4-14 6-75 6 75 3 11 5 5 6 2 7-1 5-3 3-6 3-16 4-51 5 53 3 14 3 4 4 1 5-7 3-18 3-42 1-3 5 55 3 13 3 5 7 4 12 1 21 0 12-3 6-7 3-10 3-26 3-57 2-1 4 74 5 20 6 6 9 2 12-1 9-5 6-12 4-30 3-66 3-132 2 10 3 133 3 58 3 22 3 10 3 5 6 4 7 1 8-3 4-5 5-17 4-51 5 27 1-2 3-39 5-144 4 159 3 40 5 19 3 2 3-5 6-44 3 29 3 15 1 1 2-1 1-5 5-36 4 30 2 2 3-15 4-57 5 63 1 7 2 2 3-14 4-63 5 70 3 19 3 6 1 1 3 0 5-10 3-26 3-52 1 4 3 50 3 18 2 1 1-4 5-52 1 0 5 59 4 17 3 4 6 3 23 3" stroke="#000" stroke-opacity="0.5"/>
<path d="M2228 1694l6-5 4-14 6-80 6 77 3 13 5 6 6 2 7-1 5-3 3-6 3-15 4-57 5 55 3 15 3 6 3 1 3-2 4-12 6-62 5 58 3 14 3 6 7 4 14 2 22-1 11-3 6-10 3-15 6-84 4 78 5 23 4 6 9 3 14-1 9-4 6-12 4-29 3-62 3-139 2-10 3 139 3 68 3 25 3 11 3 5 6 5 7 1 8-2 4-5 5-16 4-54 2 1 3 25 1-1 3-35 5-159 6 190 3 28 3 11 3 3 3-4 6-48 6 46 1 2 2-1 1-4 5-39 4 30 2 3 1-3 6-74 5 65 3 12 3-12 4-68 5 70 3 22 3 7 1 1 3 0 5-9 3-25 3-55 1-3 3 53 3 22 2 2 1-3 2-10 4-49 5 62 4 20 3 4 6 4 23 3" stroke="#000" stroke-opacity="0.7"/>
<path d="M2228 1693l6-6 4-14 6-81 6 80 3 11 5 7 6 2 7-1 5-4 3-6 3-16 4-57 5 57 3 15 3 5 3 2 3-2 4-13 6-62 5 59 3 14 3 6 7 4 15 2 21-1 11-4 6-9 3-16 4-78 2-6 4 80 5 22 4 6 9 3 14-1 9-5 6-12 4-30 3-67 3-142 2-1 4 184 5 49 3 11 3 5 6 5 7 1 8-2 4-6 5-17 4-55 2 4 3 24 1-1 3-39 5-159 4 167 3 46 5 20 3 3 3-4 6-49 6 48 1 2 2-2 1-5 5-39 4 31 2 3 3-14 4-64 5 67 3 11 3-13 4-69 5 73 3 21 3 8 1 1 3 0 5-10 3-26 3-57 1 0 3 54 3 22 2 1 1-4 2-10 3-44 1-4 5 64 4 18 3 5 6 3 23 4" stroke="#000" stroke-opacity="0.8"/>
<path d="M2228 1692l6-5 4-15 6-81 6 80 3 12 5 6 6 3 7-1 5-4 3-6 3-17 4-56 5 57 3 15 3 5 3 1 3-1 4-13 6-62 5 59 3 14 3 5 7 5 15 2 21-1 11-4 6-10 3-16 4-78 2-5 4 80 5 22 4 6 9 3 14-1 9-5 6-12 4-31 3-67 3-142 2 0 3 142 3 67 3 24 3 11 3 5 6 5 7 1 8-3 4-5 5-17 4-55 2 3 3 25 1-2 3-39 5-159 4 168 3 45 5 21 3 3 3-5 6-48 6 47 1 2 2-1 1-5 5-39 4 31 2 3 3-15 4-63 5 67 3 11 3-13 4-69 5 73 3 21 3 7 1 2 3 0 5-11 3-26 3-56 1 0 3 54 3 21 2 2 1-4 5-54 1-5 5 64 4 19 3 4 6 4 23 3" stroke="#000" stroke-opacity="0.8"/>
<path d="M2228 1695l6-6 4-15 6-73 6 76 3 10 5 5 6 2 7-1 5-4 3-6 3-17 4-49 5 54 3 13 3 4 4 0 5-7 3-20 3-41 1 1 5 54 3 12 3 4 7 4 14 2 21-1 10-3 6-7 3-10 3-28 3-57 2 4 4 73 5 19 6 6 9 2 12-2 9-5 6-12 4-31 3-70 3-130 6 187 5 41 6 13 6 4 7 1 8-2 4-5 5-18 4-51 3 22 2 6 1-3 3-43 5-137 4 160 3 38 5 17 3 2 3-5 6-43 3 30 3 14 1 1 2-2 1-5 5-36 3 24 1 7 2 1 3-16 3-49 1-5 5 63 1 6 2 1 3-15 4-60 5 71 3 17 3 6 1 1 3 0 5-11 6-79 4 58 3 16 2 1 1-5 2-11 3-42 1 3 5 59 4 16 3 3 6 4 23 3" stroke="#000" stroke-opacity="0.8"/>
</g></g>
<path d="M743.6,579.1 L889,579.1" stroke="#b3b3b3" stroke-width="1.2"/>
<clipPath id="t11"><rect x="742.6" y="579.1" width="147.4" height="16"/></clipPath><g clip-path="url(#t11)">
<text class="k" x="743" y="590.5">3.55</text>
<text class="k" x="772" y="590.5">3.53</text>
<text class="k" x="800.2" y="590.5">3.51</text>
<text class="k" x="828.6" y="590.5">3.49</text>
<text class="k" x="856" y="590.5">3.47</text>
<text class="k" x="882" y="590.5">3.45</text>
</g>
<path d="M743,579.1 L743,582.1 M772,579.1 L772,582.1 M800.2,579.1 L800.2,582.1 M828.6,579.1 L828.6,582.1 M856,579.1 L856,582.1 M882,579.1 L882,582.1 M757.5,579.1 L757.5,581.1 M772,579.1 L772,581.1 M786.5,579.1 L786.5,581.1 M801,579.1 L801,581.1 M815.5,579.1 L815.5,581.1 M830,579.1 L830,581.1 M844.5,579.1 L844.5,581.1 M859,579.1 L859,581.1 M873.5,579.1 L873.5,581.1 M888,579.1 L888,581.1" stroke="#999" stroke-width="0.8"/>
<path class="a" d="M924.3,481.4V577.6H1063.4"/>
<text class="y" x="922.1" y="483.8">250</text>
<text class="y" x="922.1" y="503">200</text>
<text class="y" x="922.1" y="522.3">150</text>
<text class="y" x="922.1" y="541.5">100</text>
<text class="y" x="922.1" y="560.8">50</text>
<text class="y" x="922.1" y="580">0</text>
<text class="u" x="899.3" y="529.5" transform="rotate(-90 899.3 529.5)" dy="2.8">A.U.</text>
<path class="w" d="M961,488.3V508.6M961,528.1V536.5M949.7,488.3h22.4M949.7,536.5h22.4"/>
<rect class="b" x="938.5" y="508.6" width="44.9" height="19.5" fill="#888"/>
<path class="m" d="M938.5,518.2H983.4"/>
<path class="w" d="M1029.5,508.1V530.2M1029.5,574.6V576.4M1018.2,508.1h22.5M1018.2,576.4h22.5"/>
<rect class="b" x="1007" y="530.2" width="45" height="44.4" fill="#00c000"/>
<path class="m" d="M1007,554.8H1052"/>
<path class="t" d="M921.8,481.4h2.5M921.8,500.6h2.5M921.8,519.9h2.5M921.8,539.1h2.5M921.8,558.4h2.5M921.8,577.6h2.5M961,577.6v3M1029.5,577.6v3"/>
<text class="x" x="960.5" y="585.1" transform="rotate(-45 960.5 585.1)" dy="4">HC</text>
<text class="x" x="1029" y="585.1" transform="rotate(-45 1029 585.1)" dy="4">HESN</text>
<path class="st" d="M990.4,483.2l0,-3.3M990.4,483.2l3.1,-1M990.4,483.2l1.9,2.7M990.4,483.2l-1.9,2.7M990.4,483.2l-3.1,-1M999,483.2l0,-3.3M999,483.2l3.1,-1M999,483.2l1.9,2.7M999,483.2l-1.9,2.7M999,483.2l-3.1,-1M1007.6,483.2l0,-3.3M1007.6,483.2l3.1,-1M1007.6,483.2l1.9,2.7M1007.6,483.2l-1.9,2.7M1007.6,483.2l-3.1,-1"/>
<path class="pl" d="M986.4,496.4h7M989.9,492.9v7M995.5,496.4h7M999,492.9v7M1004.6,496.4h7M1008.1,492.9v7"/>
<rect x="850.6" y="446.1" width="90.5" height="18.5" fill="#fff"/><text x="895.9" y="459.6" font-size="17.5" font-weight="bold" text-anchor="middle">D-Glucose</text>
<clipPath id="c12"><rect x="1104.8" y="470.5" width="144.7" height="106.6"/></clipPath>
<rect x="1104.8" y="470.5" width="144.7" height="106.6" fill="none" stroke="#e6e6e6" stroke-width="1"/>
<g clip-path="url(#c12)" fill="none" stroke-linejoin="round"><g transform="scale(0.333333)" stroke-width="3">
<path d="M3311 1715l38-3 24-4 16-7 11-11 7-17 6-26 12-106 3-16 2 1 1 7 9 85 5 31 6 24 9 19 7 7 9 5 11 3 15 3 19 0 18-1 14-4 10-5 8-6 6-9 4-11 5-17 6-38 9-85 1-8 2-1 3 15 7 74 6 40 6 23 9 17 6 6 8 4 19 6 30 4 53 1" stroke="#0a9a0a" stroke-opacity="0.5"/>
<path d="M3311 1714l38-2 24-5 9-4 7-5 11-14 7-21 6-32 12-125 3-14 3 13 8 86 6 49 6 28 9 20 6 7 9 7 10 4 15 2 20 1 18-2 13-3 11-6 7-8 6-10 5-11 4-19 6-41 9-103 3-18 2 1 1 8 9 102 5 37 6 29 9 23 6 7 7 6 20 8 31 4 53 2" stroke="#0a9a0a" stroke-opacity="0.4"/>
<path d="M3311 1715l39-2 24-4 17-7 10-10 8-16 6-25 12-94 3-10 3 12 9 76 6 31 9 23 6 8 9 6 10 4 15 3 38 0 24-5 9-5 6-6 9-17 6-23 12-92 3-13 3 8 9 75 4 27 6 21 9 16 12 9 20 6 31 3 53 2" stroke="#0a9a0a" stroke-opacity="0.6"/>
<path d="M3311 1714l39-3 24-6 9-4 8-6 10-16 8-23 6-35 12-146 3-22 1 0 2 9 9 118 4 43 6 34 9 25 8 10 9 7 10 5 15 3 20 0 18-2 13-4 11-7 7-10 6-13 5-15 4-24 6-53 9-121 2-10 1-2 3 20 8 105 6 57 6 32 9 24 6 8 6 6 9 6 10 3 30 5 53 3" stroke="#0a9a0a" stroke-opacity="0.4"/>
<path d="M3311 1715l38-3 24-4 16-8 11-12 7-17 6-27 12-111 3-17 2 0 1 7 9 90 8 47 9 26 6 8 7 7 11 4 13 3 18 2 20-1 15-2 10-4 9-5 6-7 9-18 6-24 5-31 9-87 1-8 2-1 3 14 7 75 6 42 6 23 9 17 6 6 8 5 19 6 30 4 53 1" stroke="#0a9a0a" stroke-opacity="0.5"/>
<path d="M3311 1714l39-2 24-5 9-4 8-5 10-14 8-20 6-32 12-123 3-14 3 14 7 84 6 49 6 26 9 21 6 7 9 6 11 4 15 2 19 1 18-2 14-3 10-6 8-7 6-10 4-12 5-17 6-41 9-101 3-17 1 1 2 8 9 100 4 36 6 29 9 21 6 8 6 5 9 4 11 4 31 4 53 2" stroke="#0a9a0a" stroke-opacity="0.3"/>
<path d="M3311 1714l38-2 24-5 16-8 11-13 7-19 6-28 5-35 9-99 1-8 2-1 3 18 9 99 6 40 4 17 5 12 6 9 9 9 10 5 14 3 18 1 19-1 14-2 10-4 9-6 6-7 9-20 6-26 6-48 8-83 3-13 3 13 7 83 6 48 6 27 9 20 12 12 20 7 31 4 53 2" stroke="#0a9a0a" stroke-opacity="0.5"/>
<path d="M3311 1714l39-3 24-6 9-4 8-6 10-17 8-24 6-36 12-147 3-18 3 14 9 118 4 41 6 33 9 24 6 8 9 8 11 5 15 3 19 0 18-1 14-5 10-6 8-9 6-11 4-14 5-21 6-47 9-120 3-23 1 0 2 9 9 119 6 54 6 30 9 23 6 8 6 6 9 5 10 4 30 4 53 3" stroke="#0a9a0a" stroke-opacity="0.5"/>
<path d="M3311 1714l38-3 24-5 9-5 7-6 11-15 7-24 6-35 12-141 3-15 3 16 9 113 6 47 5 21 4 14 6 11 9 10 11 6 15 4 18 1 19-1 14-3 10-5 9-7 6-9 9-24 6-34 12-137 3-20 2 2 1 9 9 111 5 40 6 31 9 24 6 9 7 6 9 5 11 3 31 5 53 2" stroke="#0a9a0a" stroke-opacity="0.3"/>
<path d="M3311 1715l39-3 24-4 17-9 10-13 8-19 6-29 12-114 3-11 3 14 7 78 6 44 6 24 9 18 6 6 9 6 11 4 15 2 19 1 18-2 14-3 10-5 8-7 6-9 4-11 5-17 6-38 9-92 3-15 3 10 9 92 4 33 6 25 9 20 12 11 20 7 31 4 53 2" stroke="#0a9a0a" stroke-opacity="0.5"/>
<path d="M3311 1715l39-2 24-3 17-6 10-10 8-14 6-21 12-86 3-11 3 8 9 69 4 24 6 20 9 14 6 5 9 4 26 5 37-1 14-2 10-4 8-5 6-7 9-21 6-28 9-72 3-14 1 0 2 5 9 71 6 33 6 18 9 14 12 8 19 5 30 3 53 2" stroke="#0a9a0a" stroke-opacity="0.4"/>
<path d="M3311 1715l39-1 24-4 17-5 10-9 8-14 6-20 12-81 3-10 3 9 9 65 6 28 9 20 6 7 9 5 10 4 15 2 38 0 24-4 9-4 6-5 9-15 6-19 12-79 3-12 1 1 2 5 13 87 6 18 9 14 12 9 20 5 31 2 53 2" stroke="#0a9a0a" stroke-opacity="0.4"/>
<path d="M3311 1714l38-4 24-5 9-5 7-6 11-17 7-24 6-36 5-45 9-126 1-10 2-1 3 23 9 127 6 50 4 23 5 14 6 12 9 11 10 6 14 4 18 2 19-1 14-3 10-5 9-8 6-9 9-25 6-34 6-62 8-106 3-17 3 18 7 107 6 61 6 34 9 25 6 9 6 6 9 6 11 4 31 5 53 3" stroke="#0a9a0a" stroke-opacity="0.7"/>
<path d="M3311 1714l39-3 24-5 9-4 8-6 10-15 8-22 6-35 12-135 3-13 3 15 7 93 6 52 6 29 9 21 6 8 9 7 11 4 15 3 19 0 18-1 14-4 10-6 8-8 6-11 4-12 5-20 6-44 9-108 3-18 1 2 2 9 9 108 4 38 6 30 9 23 6 8 6 6 9 5 11 3 31 5 53 2" stroke="#0a9a0a" stroke-opacity="0.6"/>
<path d="M3311 1714l39-2 24-5 9-4 8-6 10-13 8-21 6-32 12-128 3-16 3 11 9 103 4 36 6 28 9 22 6 7 9 7 11 4 15 3 19 1 18-2 14-4 10-5 8-8 6-10 4-12 5-18 7-56 9-105 2-7 1-1 3 21 8 91 4 39 8 36 9 21 12 12 9 4 10 4 30 4 53 2" stroke="#0a9a0a" stroke-opacity="0.4"/>
<path d="M3311 1715l38-2 24-3 16-7 11-9 7-15 6-21 5-28 7-63 3-15 2 0 1 6 11 83 6 29 9 21 6 7 7 5 11 4 13 3 38 1 15-2 10-3 9-5 6-5 9-15 6-21 5-25 9-73 3-8 3 12 7 62 6 35 6 19 9 15 14 9 19 5 30 3 53 2" stroke="#0a9a0a" stroke-opacity="0.3"/>
<path d="M3311 1716l38-2 24-2 16-5 11-7 7-11 6-15 5-20 7-47 3-10 2-1 3 11 7 46 5 20 6 16 9 12 6 4 9 3 25 4 39 0 14-2 10-3 8-5 6-5 9-17 6-24 9-54 3-6 3 8 7 47 6 26 6 14 9 11 14 7 19 4 30 2 53 1" stroke="#0a9a0a" stroke-opacity="0.4"/>
<path d="M3311 1714l38-3 24-5 9-4 7-6 11-15 7-21 6-33 5-41 9-114 1-9 2-1 3 20 12 141 6 34 9 26 6 8 9 8 10 5 15 3 20 1 19-2 14-4 10-7 8-9 6-12 4-14 5-22 6-49 9-116 3-16 3 16 7 99 6 57 6 32 9 24 6 8 6 6 9 5 11 4 31 5 53 2" stroke="#0a9a0a" stroke-opacity="0.6"/>
<path d="M3311 1714l39-4 24-6 9-5 8-7 6-9 4-9 8-27 6-42 12-161 3-16 3 19 7 111 6 62 6 34 9 26 6 9 9 8 11 5 15 4 19 1 18-2 14-5 10-7 8-10 6-13 4-15 5-23 6-53 9-130 3-21 1 3 2 11 9 129 4 46 6 36 9 27 6 10 6 6 9 6 11 4 31 6 53 3" stroke="#0a9a0a" stroke-opacity="0.3"/>
<path d="M3311 1715l38-2 24-5 16-7 11-12 7-18 6-26 12-105 3-11 3 12 8 72 6 41 6 22 9 17 6 6 9 5 10 3 15 3 20 0 18-1 13-3 11-5 7-6 6-9 9-25 6-34 9-86 3-15 2 2 1 7 9 85 5 30 6 24 9 19 6 6 7 5 20 6 31 4 53 1" stroke="#0a9a0a" stroke-opacity="0.7"/>
<path d="M3311 1714l38-3 24-5 9-5 7-5 11-15 7-22 6-33 5-42 9-116 1-10 2-1 3 20 12 144 6 35 9 26 6 9 9 8 10 5 15 3 20 1 19-2 14-4 10-7 8-9 6-12 4-14 5-21 6-50 9-116 3-16 3 15 7 100 6 57 6 32 9 24 6 8 6 6 9 5 11 4 31 4 53 3" stroke="#0a9a0a" stroke-opacity="0.7"/>
<path d="M3311 1715l38-3 24-4 16-8 11-11 7-18 6-27 12-108 3-13 3 10 9 87 5 30 6 24 9 18 6 6 9 6 10 3 15 2 20 1 18-1 13-3 11-5 7-7 6-8 9-26 6-35 9-88 3-18 2 1 1 6 9 88 6 40 6 22 9 17 6 6 8 5 19 6 30 4 53 1" stroke="#0a9a0a" stroke-opacity="0.6"/>
<path d="M3311 1715l39-2 24-3 17-7 10-9 8-15 6-22 12-88 3-8 3 10 9 70 6 29 9 22 6 7 9 6 10 3 15 3 38 0 24-5 9-4 6-6 9-15 6-20 12-84 3-11 3 7 9 68 4 23 6 19 9 15 12 8 20 5 31 3 53 2" stroke="#000" stroke-opacity="0.4"/>
<path d="M3311 1716l62-1 16-2 11-3 7-4 6-6 14-30 3-2 3 4 7 18 6 11 6 5 9 5 17 3 25 1 36 0 24-2 14-4 9-7 6-10 9-23 3-3 3 3 9 23 4 7 6 7 9 5 12 2 20 2 84 2" stroke="#000" stroke-opacity="0.6"/>
<path d="M3311 1715l39-2 24-4 17-7 10-11 8-16 6-24 12-96 3-10 3 11 9 77 6 32 9 24 6 8 9 6 10 4 15 3 38 0 24-5 9-5 6-6 9-17 6-22 12-93 3-13 1 1 2 6 9 75 4 27 6 21 9 16 12 10 20 6 31 3 53 2" stroke="#000" stroke-opacity="0.2"/>
<path d="M3311 1715l38-1 24-3 16-6 11-8 7-13 6-18 14-88 1-5 2-1 3 12 12 80 6 19 9 15 6 4 9 5 25 4 39 0 14-3 10-3 8-5 6-7 9-21 6-27 9-66 3-8 3 9 7 56 6 32 6 18 9 13 12 8 20 5 31 2 53 2" stroke="#000" stroke-opacity="0.7"/>
<path d="M3311 1716l62-3 16-3 11-6 7-8 6-12 12-48 3-5 3 4 9 39 5 13 6 11 9 8 16 5 26 3 36-1 24-4 13-7 9-12 6-16 9-42 3-8 2 0 1 3 9 42 6 19 6 10 9 8 14 5 19 3 83 2" stroke="#000" stroke-opacity="0.7"/>
<path d="M3311 1715l39-2 24-3 17-7 10-10 8-15 6-22 12-90 3-9 3 10 7 61 6 35 6 19 9 15 8 6 9 4 25 4 36-1 14-3 10-4 8-5 6-8 9-22 6-30 9-74 3-13 1 1 2 6 9 75 4 26 6 21 9 16 12 9 20 6 31 3 53 2" stroke="#000" stroke-opacity="0.3"/>
<path d="M3311 1716l62-3 16-3 11-5 7-7 6-11 5-14 9-39 3-4 3 7 9 39 6 16 9 11 6 4 9 3 24 3 37 1 24-3 15-5 9-7 6-11 6-18 8-32 3-6 3 5 7 32 6 19 6 10 9 8 12 5 20 3 84 2" stroke="#000" stroke-opacity="0.8"/>
<path d="M3311 1715l38-2 24-3 16-6 11-8 7-13 6-20 5-24 9-70 3-7 3 11 7 60 6 32 6 19 9 13 8 6 9 4 25 4 36-1 14-2 10-4 8-6 6-7 9-22 6-29 9-72 3-10 3 8 9 72 4 24 6 20 9 15 12 9 20 5 31 3 53 2" stroke="#000" stroke-opacity="0.5"/>
<path d="M3311 1716l62-2 16-2 11-4 7-5 6-8 5-10 9-28 3-3 3 5 9 28 6 12 9 8 15 5 24 2 36 1 25-2 15-4 9-5 6-7 6-12 8-23 3-4 3 4 9 26 4 9 6 7 9 6 12 3 20 2 84 1" stroke="#000" stroke-opacity="0.8"/>
<path d="M3311 1716l62-1 27-4 7-4 6-5 14-27 3-2 3 3 9 20 6 8 9 6 15 3 24 2 36 0 25-1 15-2 9-4 6-5 6-9 8-15 3-3 3 2 13 25 6 5 9 4 32 3 84 2" stroke="#000" stroke-opacity="0.7"/>
<path d="M3311 1716l38-2 24-2 16-5 11-7 7-10 6-16 5-19 7-46 3-11 2 0 3 11 12 65 6 15 9 12 6 4 9 4 25 3 39 0 14-2 10-3 8-5 6-5 9-17 6-24 9-55 3-6 3 8 7 47 6 26 6 15 9 11 14 7 19 4 30 2 53 1" stroke="#000" stroke-opacity="0.4"/>
<path d="M3311 1715l38-2 24-3 16-6 11-9 7-13 6-21 5-25 7-60 3-14 2-1 3 14 9 70 6 27 9 20 6 7 7 5 11 4 13 2 38 1 25-5 9-4 6-5 9-14 6-19 5-23 9-68 3-9 3 11 7 58 6 33 6 18 9 14 14 9 19 5 30 2 53 2" stroke="#000" stroke-opacity="0.2"/>
<path d="M3311 1716l39-2 24-3 17-5 10-8 6-8 6-16 5-19 9-55 3-7 3 9 9 56 6 22 9 17 6 6 9 4 25 5 38 0 24-3 9-4 6-4 9-12 6-16 12-66 3-8 3 6 9 53 4 18 6 15 9 11 12 7 20 4 31 2 53 1" stroke="#000" stroke-opacity="0.6"/>
<path d="M3311 1716l38-2 24-2 16-4 11-6 7-10 6-14 14-66 1-4 2 0 3 9 9 49 6 20 9 14 6 4 9 4 24 4 37 1 24-3 15-7 9-9 6-13 5-16 9-47 3-6 3 7 7 40 6 23 6 13 9 9 12 6 20 3 84 3" stroke="#000" stroke-opacity="0.7"/>
<path d="M3311 1716l38-2 24-2 16-4 11-6 7-10 6-14 5-17 9-49 1-4 2-1 3 9 9 49 6 20 9 14 6 5 9 4 24 4 37 1 24-3 15-7 9-10 6-13 6-24 8-41 3-7 3 6 7 42 6 24 6 13 9 10 12 6 20 4 84 3" stroke="#000" stroke-opacity="0.3"/>
<path d="M3311 1715l38-1 24-3 16-5 11-7 7-12 6-17 12-71 3-10 2 0 1 4 9 57 8 31 9 16 6 5 7 4 24 6 38 0 25-4 9-3 6-4 9-12 6-15 5-20 9-55 3-6 3 10 7 47 6 26 6 15 9 11 14 7 19 4 30 2 53 1" stroke="#000" stroke-opacity="0.8"/>
<path d="M3311 1716l62-1 16-2 11-3 7-4 6-6 14-29 3-2 3 4 9 21 6 9 9 6 15 4 24 2 37 0 24-1 15-3 9-4 6-6 6-10 8-18 3-3 3 3 7 18 6 10 6 6 9 4 12 3 20 1 84 2" stroke="#000" stroke-opacity="0.7"/>
<path d="M3311 1716l62-4 16-3 11-6 7-9 6-14 12-55 3-7 3 5 9 44 8 23 9 12 13 7 24 4 38 0 25-3 15-6 9-9 6-13 5-15 7-37 3-9 2 0 3 9 12 52 7 15 9 8 14 6 19 3 83 2" stroke="#000" stroke-opacity="0.5"/>
<path d="M3311 1716l62-2 16-3 11-5 7-6 6-10 12-40 3-6 3 3 9 33 8 16 9 10 13 5 24 3 38 0 25-2 15-5 9-7 6-9 14-44 3-3 3 6 12 40 7 12 9 6 14 4 19 2 83 2" stroke="#000" stroke-opacity="0.8"/>
<path d="M3311 1715l38-1 24-3 16-5 11-8 7-12 6-18 12-73 3-11 2 0 1 4 14 81 6 17 9 13 7 6 9 3 26 4 37-1 14-2 10-4 8-5 6-6 9-20 6-27 9-61 3-7 3 11 7 53 6 29 6 16 9 12 14 8 19 4 30 3 53 1" stroke="#000" stroke-opacity="0.4"/>
<path d="M3311 1715l39-1 24-3 17-6 10-8 8-13 6-19 12-78 3-11 3 7 9 63 4 22 6 17 9 14 6 4 9 4 26 4 37 0 14-2 10-4 8-4 6-7 9-18 7-34 9-63 2-5 1 0 3 12 12 79 8 22 9 13 12 7 19 5 30 2 53 2" stroke="#000" stroke-opacity="0.7"/>
<path d="M3311 1716l63-2 17-3 10-4 8-6 6-10 12-38 3-5 3 4 9 30 7 16 9 8 14 5 25 3 38 0 24-2 15-4 9-7 6-9 13-41 3-2 3 5 12 38 8 11 9 6 12 3 19 3 83 1" stroke="#000" stroke-opacity="0.5"/>
</g></g>
<path d="M1104.8,578.6 L1249.5,578.6" stroke="#b3b3b3" stroke-width="1.2"/>
<clipPath id="t12"><rect x="1103.8" y="578.6" width="146.7" height="16"/></clipPath><g clip-path="url(#t12)">
<text class="k" x="1108" y="590.5">1.345</text>
<text class="k" x="1134" y="590.5">1.340</text>
<text class="k" x="1159.4" y="590.5">1.335</text>
<text class="k" x="1184.8" y="590.5">1.330</text>
<text class="k" x="1210.2" y="590.5">1.325</text>
<text class="k" x="1234.3" y="590.5">1.320</text>
</g>
<path d="M1108,578.6 L1108,581.6 M1134,578.6 L1134,581.6 M1159.4,578.6 L1159.4,581.6 M1184.8,578.6 L1184.8,581.6 M1210.2,578.6 L1210.2,581.6 M1234.3,578.6 L1234.3,581.6 M1108,578.6 L1108,580.6 M1121,578.6 L1121,580.6 M1134,578.6 L1134,580.6 M1147,578.6 L1147,580.6 M1160,578.6 L1160,580.6 M1173,578.6 L1173,580.6 M1186,578.6 L1186,580.6 M1199,578.6 L1199,580.6 M1212,578.6 L1212,580.6 M1225,578.6 L1225,580.6 M1238,578.6 L1238,580.6" stroke="#999" stroke-width="0.8"/>
<path class="a" d="M1288.9,481.4V577.6H1427.7"/>
<text class="y" x="1286.7" y="483.8">800</text>
<text class="y" x="1286.7" y="507.8">600</text>
<text class="y" x="1286.7" y="531.9">400</text>
<text class="y" x="1286.7" y="555.9">200</text>
<text class="y" x="1286.7" y="580">0</text>
<text class="u" x="1263.9" y="529.5" transform="rotate(-90 1263.9 529.5)" dy="2.8">A.U.</text>
<path class="w" d="M1323.7,532.2V541.6M1323.7,551.8V559.4M1312.2,532.2h22.9M1312.2,559.4h22.9"/>
<rect class="b" x="1300.8" y="541.6" width="45.7" height="10.2" fill="#888"/>
<path class="m" d="M1300.8,546.7H1346.5"/>
<path class="w" d="M1392.9,493.4V504.3M1392.9,543.6V557.3M1381.8,493.4h22.3M1381.8,557.3h22.3"/>
<rect class="b" x="1370.6" y="504.3" width="44.6" height="39.3" fill="#00c000"/>
<path class="m" d="M1370.6,514.4H1415.2"/>
<path class="t" d="M1286.4,481.4h2.5M1286.4,505.4h2.5M1286.4,529.5h2.5M1286.4,553.5h2.5M1286.4,577.6h2.5M1323.7,577.6v3M1392.9,577.6v3"/>
<text class="x" x="1323.2" y="585.1" transform="rotate(-45 1323.2 585.1)" dy="4">HC</text>
<text class="x" x="1392.4" y="585.1" transform="rotate(-45 1392.4 585.1)" dy="4">HESN</text>
<path class="st" d="M1340.8,483.2l0,-3.3M1340.8,483.2l3.1,-1M1340.8,483.2l1.9,2.7M1340.8,483.2l-1.9,2.7M1340.8,483.2l-3.1,-1M1349.5,483.2l0,-3.3M1349.5,483.2l3.1,-1M1349.5,483.2l1.9,2.7M1349.5,483.2l-1.9,2.7M1349.5,483.2l-3.1,-1M1358.2,483.2l0,-3.3M1358.2,483.2l3.1,-1M1358.2,483.2l1.9,2.7M1358.2,483.2l-1.9,2.7M1358.2,483.2l-3.1,-1"/>
<path class="pl" d="M1336.9,496.4h7M1340.4,492.9v7M1346,496.4h7M1349.5,492.9v7M1355.1,496.4h7M1358.6,492.9v7"/>
<rect x="1229.9" y="446.1" width="64.3" height="18.5" fill="#fff"/><text x="1262" y="459.6" font-size="17.5" font-weight="bold" text-anchor="middle">Lactate</text>
<clipPath id="c13"><rect x="570" y="636.9" width="144.6" height="109.1"/></clipPath>
<rect x="570" y="636.9" width="144.6" height="109.1" fill="none" stroke="#e6e6e6" stroke-width="1"/>
<g clip-path="url(#c13)" fill="none" stroke-linejoin="round"><g transform="scale(0.333333)" stroke-width="3">
<path d="M1707 2181l18 0 12-2 12-8 18-17 6-4 6 0 9 6 18 25 9 11 9 5 6 0 6-4 9-10 24-46 9-10 3-1 6 0 18 12 6 2 21-2 18 3 9-3 18-17 6-4 3 0 3 1 6 5 21 36 9 9 6 1 6-2 21-23 9-3 9 6 21 27 12 11 12 4 24 0" stroke="#000" stroke-opacity="0.8"/>
<path d="M1707 2118l18-3 12-7 9-11 21-35 9-8 6 0 6 5 24 38 9 8 6 2 6-2 9-9 24-49 9-11 3-1 6 2 6 7 12 18 9 8 6 2 15 0 15 5 6-1 6-6 18-28 6-6 3-1 3 1 6 5 21 38 9 8 6-1 6-6 21-31 6-3 3 0 9 10 21 39 12 15 6 4 9 4 21 1" stroke="#000" stroke-opacity="0.8"/>
<path d="M1707 2231l15-3 12-6 9-9 21-29 6-6 6-1 6 2 6 6 24 31 9 6 9-1 6-4 6-7 24-39 6-5 3-1 3 0 6 4 15 19 9 7 21 2 15 4 6-1 6-4 21-27 6-3 3 1 9 7 18 27 9 6 6-1 6-4 21-27 6-3 3 0 9 7 21 31 12 13 6 3 9 2 24 1" stroke="#0a9a0a" stroke-opacity="0.2"/>
<path d="M1707 2197l18 2 12-5 9-9 21-28 9-4 9 3 21 26 6 5 9 4 6-2 6-4 6-6 24-45 6-8 6-4 3 0 6 3 15 19 9 8 21 5 18 7 9-4 21-24 6-3 3 1 9 8 18 27 9 6 6-1 6-6 21-32 6-5 6 0 9 7 21 27 9 7 12 4 27 0" stroke="#0a9a0a" stroke-opacity="0.2"/>
<path d="M1707 2166l18-8 12-10 12-15 18-29 6-7 6-3 6 2 6 5 27 44 9 7 6 2 6-1 6-4 6-7 18-26 9-7 3 0 6 4 15 19 9 8 6 1 33-5 6-5 6-7 21-36 6-4 3 0 9 7 18 25 9 6 3 0 6-4 21-23 6-2 6 2 9 12 18 36 12 17 6 6 9 5 9 2 12 1" stroke="#000" stroke-opacity="0.4"/>
<path d="M1707 2131l18-4 12-8 12-14 21-33 9-6 6 2 6 5 18 27 9 11 9 4 6 0 6-3 6-7 24-40 6-6 3-1 3 1 6 4 18 26 6 6 6 3 15 2 18 8 9-4 21-27 6-4 3 0 3 2 6 6 21 33 6 5 3 0 3 0 6-5 21-29 6-5 6 1 9 9 18 30 12 13 6 4 9 3 21 1" stroke="#000" stroke-opacity="0.3"/>
<path d="M1707 2167l18-1 12-2 9-4 21-13 9-3 12 4 24 15 9 2 6-1 12-5 27-25 6-4 6-2 9 2 21 9 21 2 18 3 12-2 18-9 9-1 9 5 21 17 9 3 9-2 24-14 9-1 9 4 18 13 12 6 15 3 24 1" stroke="#000" stroke-opacity="0.7"/>
<path d="M1707 2173l18-1 12-3 12-7 18-13 6-3 6-1 6 1 6 3 18 13 9 5 9 2 6-1 12-5 24-22 9-3 9 2 15 10 9 4 36 3 12-2 21-15 9-2 9 4 21 17 9 2 9-3 21-14 9-2 9 4 21 17 12 7 15 4 21 1" stroke="#0a9a0a" stroke-opacity="0.2"/>
<path d="M1707 2212l18-5 12-10 12-19 21-44 6-6 3-2 6 2 6 7 18 34 9 14 6 6 6 2 6-2 9-10 24-49 6-7 3-1 3 1 6 5 15 29 9 12 6 3 15 0 15 4 6-1 6-7 18-38 9-12 3-1 6 2 6 8 15 28 6 7 6 1 3-1 6-7 21-39 6-5 3 0 3 1 6 8 21 48 12 21 6 6 9 6 21 5" stroke="#0a9a0a" stroke-opacity="0.4"/>
<path d="M1707 2206l18-6 12-9 9-11 21-36 6-6 3-2 3 0 6 4 6 9 21 39 9 10 6 2 9-4 6-7 9-18 15-35 6-10 6-4 3 0 6 4 15 21 6 6 6 2 18 0 15 5 6-1 3-2 6-7 15-23 6-4 3 0 3 1 6 8 21 47 9 12 3 1 6-2 6-6 15-22 6-5 3-1 3 1 6 6 21 40 12 16 6 3 9 2 9-2 15-5" stroke="#0a9a0a" stroke-opacity="0.4"/>
<path d="M1707 2222l18-3 12-5 9-6 21-21 9-4 6 0 6 3 18 17 9 7 9 2 6 0 12-8 24-31 6-5 6-3 9 3 21 15 21 3 21 6 9-2 18-13 9-2 9 5 21 24 9 5 9-2 21-19 6-3 6-1 9 5 21 21 9 7 15 5 24 3" stroke="#0a9a0a" stroke-opacity="0.1"/>
<path d="M1707 2135l18-4 12-6 9-8 21-25 9-6 6 0 6 3 27 32 9 5 6 0 6-2 9-8 21-33 9-9 6-2 6 3 15 14 9 4 21-1 15 0 6-1 6-5 18-23 9-6 3 0 6 3 21 26 6 5 6 2 9-4 21-22 6-2 3 0 9 7 21 30 12 12 15 6 21 1" stroke="#000" stroke-opacity="0.4"/>
<path d="M1707 2195l18-3 12-8 9-12 21-43 6-7 6-2 6 4 6 10 15 35 9 17 9 9 6 1 3-1 6-6 6-11 24-61 6-8 3-1 3 0 6 6 15 29 9 12 6 3 15 1 15 8 6-1 3-3 6-8 18-36 6-5 3 1 3 2 6 10 18 43 6 8 3 2 3 0 6-5 6-10 15-33 6-9 6-1 3 1 6 8 21 47 6 11 6 7 6 4 9 2 21-1" stroke="#0a9a0a" stroke-opacity="0.3"/>
<path d="M1707 2175l18 2 12-2 9-5 21-19 9-4 6 2 6 5 24 27 9 4 6 0 6-3 9-10 27-48 6-5 6-2 6 3 21 20 6 3 15 3 21 9 9-2 21-18 6-1 3 1 6 5 21 28 6 3 3 1 6-3 6-6 21-30 6-3 6 0 9 6 18 22 9 8 12 6 27 7" stroke="#000" stroke-opacity="0.4"/>
<path d="M1707 2171l18-5 12-6 12-14 18-26 6-6 6-1 6 3 6 8 18 33 9 13 9 6 6 0 6-3 6-7 24-45 9-8 3-1 6 3 15 17 9 6 6 0 15-4 15-1 6-2 6-6 21-34 6-5 3 0 3 1 6 7 21 37 9 8 3 0 6-3 21-23 6-2 3 1 9 11 21 43 12 18 6 5 9 4 9 1 12-1" stroke="#0a9a0a" stroke-opacity="0.3"/>
<path d="M1707 2163l18-1 15-5 9-6 21-20 9-4 6 1 6 3 27 25 9 3 6-1 6-2 9-7 24-28 9-3 9 4 15 13 6 4 39 7 6 0 6-3 21-18 9 0 9 7 18 20 9 4 9-2 24-20 9-1 9 5 18 20 12 9 15 3 21-1" stroke="#0a9a0a" stroke-opacity="0.4"/>
<path d="M1707 2230l18-4 12-8 12-17 21-41 6-7 3-1 6 1 6 6 18 29 9 12 9 4 6-1 6-4 6-9 24-50 6-7 3-1 3 0 6 4 18 30 6 7 6 3 15 3 18 8 6-2 3-3 21-34 6-4 3-1 3 2 6 6 21 38 6 5 3 0 3-1 6-6 21-37 6-6 6 0 9 11 18 34 12 16 12 7 24 3" stroke="#0a9a0a" stroke-opacity="0.1"/>
<path d="M1707 2242l18 1 9-3 6-3 12-12 21-29 9-5 6 1 6 6 18 24 9 9 9 3 6-1 6-5 6-7 21-38 9-12 6-2 6 2 15 16 9 5 6 0 15-4 15 0 6-2 6-6 21-32 6-5 3 0 3 0 6 5 21 31 9 5 9-4 21-22 6-1 3 1 9 10 21 42 12 18 15 13 18 8" stroke="#0a9a0a" stroke-opacity="0.2"/>
<path d="M1707 2212l18-3 15-8 12-13 21-29 9-7 6-1 6 2 24 22 9 4 6 0 6-2 6-4 27-32 9-5 9 4 18 21 6 5 6 2 33 7 6-2 6-4 15-18 9-8 3 0 6 1 24 24 9 2 9-4 21-24 9-3 6 2 6 6 18 24 12 13 15 7 18 4" stroke="#0a9a0a" stroke-opacity="0.3"/>
<path d="M1707 2212l9-1 9-2 12-10 12-19 21-48 6-10 6-5 6 0 6 5 21 32 6 7 6 4 9 1 9-7 24-38 6-5 3-1 3 1 6 5 18 35 9 11 6 3 27 1 6-3 6-6 24-51 6-7 3-1 3 1 6 5 18 30 9 8 3 0 6-4 21-27 6-2 3 1 3 2 6 9 24 60 12 20 6 6 9 5 9 1 9-1" stroke="#0a9a0a" stroke-opacity="0.5"/>
<path d="M1707 2133l18-3 12-8 9-10 21-34 9-7 6 1 6 5 18 28 9 11 6 4 6 1 6-2 9-9 24-47 9-10 3-1 6 2 18 24 6 5 6 3 15-1 18 5 9-5 21-32 6-5 3-1 3 1 6 5 21 35 6 5 3 1 3-1 6-4 18-28 6-7 6-2 3 1 9 9 18 32 12 16 6 4 9 4 24 2" stroke="#000" stroke-opacity="0.3"/>
<path d="M1707 2165l18 3 12-1 9-3 21-10 9-2 12 3 24 15 9 2 6 0 6-1 9-5 24-23 9-5 9-1 24 7 39-5 12-6 18-13 9-4 9 2 21 14 9 2 9-1 21-12 6-1 6 1 9 5 18 16 12 8 15 6 24 5" stroke="#000" stroke-opacity="0.6"/>
<path d="M1707 2112l21-2 12-3 9-5 21-14 9-3 6 2 6 3 27 24 9 4 6 1 12-5 24-22 9-5 9 0 24 13 39 0 9-3 21-17 9-4 9 3 21 19 9 4 9-1 24-14 9 0 9 6 18 18 12 9 15 5 21 0" stroke="#000" stroke-opacity="0.4"/>
<path d="M1707 2203l18 0 12-2 30-17 9-2 12 3 27 16 9 2 6-1 12-4 24-20 9-4 9 1 24 10 39-1 9-3 21-14 9-3 9 1 21 11 9 2 9-3 21-15 9-3 12 3 18 11 12 4 15 2 24-1" stroke="#0a9a0a" stroke-opacity="0.4"/>
<path d="M1707 2185l15 0 15-6 12-9 21-21 6-3 6-2 9 1 24 11 15 3 12-2 24-12 9-1 9 3 18 15 9 5 9 1 21-1 9-1 6-3 24-23 6-3 6-1 6 1 18 11 9 3 9-1 21-9 9 0 9 5 24 26 12 8 15 5 21-1" stroke="#000" stroke-opacity="0.4"/>
<path d="M1707 2182l18 0 12-3 12-8 18-17 6-4 6-1 9 2 18 14 9 5 9 1 6-1 6-3 9-9 24-30 6-4 6-1 6 2 21 13 21 2 21 4 9-3 18-12 9-2 9 5 21 25 9 6 9 0 21-14 9-1 9 4 21 22 12 9 15 4 24-1" stroke="#0a9a0a" stroke-opacity="0.4"/>
<path d="M1707 2142l18-4 12-9 12-16 21-39 9-7 6 1 6 5 18 27 9 10 9 4 6-1 6-4 6-7 24-45 6-6 3-1 3 1 6 5 15 24 9 11 6 3 15 3 18 7 6-2 3-3 21-32 6-5 3 0 3 1 6 6 21 32 6 4 3 0 9-8 21-35 6-5 6 0 9 10 18 32 12 16 12 7 24 6" stroke="#000" stroke-opacity="0.4"/>
<path d="M1707 2136l18-1 12-3 12-7 21-16 9-3 6 0 6 3 24 14 9 2 6 0 6-2 9-5 24-23 9-5 9 0 24 11 39 1 12-5 18-13 9-3 9 3 21 16 9 2 9-2 21-14 6-1 6 0 9 5 18 15 12 8 15 4 21 2" stroke="#000" stroke-opacity="0.3"/>
<path d="M1707 2199l9-1 9-4 12-11 12-22 21-49 6-8 3-2 6 0 6 6 24 44 6 7 6 4 6 0 3-1 6-5 9-14 18-36 6-5 3 0 3 1 6 7 15 31 9 12 6 3 15-1 12 1 6-1 6-6 6-10 18-43 6-7 3-2 3 1 6 6 21 43 6 6 3 2 3-1 6-4 15-22 6-7 6-1 3 1 9 14 21 55 12 20 6 5 9 3 9-1 12-6" stroke="#0a9a0a" stroke-opacity="0.5"/>
<path d="M1707 2166l18-5 12-8 12-14 18-28 6-7 6-3 6 1 6 3 24 23 9 3 9-3 12-12 24-38 6-6 3 0 3 0 6 3 15 18 9 8 21 5 18 7 9-2 21-20 6-1 3 1 9 9 18 29 6 6 6 2 9-4 21-22 6-2 3 0 9 7 21 29 12 10 6 3 9 1 21-2" stroke="#000" stroke-opacity="0.3"/>
<path d="M1707 2138l18-4 12-6 12-13 21-29 9-6 6 2 6 5 18 25 9 10 9 4 6-1 6-3 6-6 24-39 6-5 6-1 6 3 18 23 6 5 6 2 15 2 18 5 6-2 6-4 18-23 6-3 3 0 9 8 21 32 6 4 3 1 9-4 21-25 6-3 3 0 9 6 21 34 12 13 6 4 9 3 21 1" stroke="#000" stroke-opacity="0.6"/>
<path d="M1707 2176l18-2 12-6 12-12 18-27 6-6 6-1 6 3 6 7 18 32 9 12 9 5 6-1 6-4 6-7 24-47 9-9 3 0 6 3 15 18 9 8 6 0 15-2 18 2 9-6 21-34 6-4 3 0 3 1 6 7 18 32 9 9 3 0 6-2 6-7 18-26 6-4 3 0 3 1 6 6 21 36 12 14 6 3 9 2 21-3" stroke="#000" stroke-opacity="0.4"/>
<path d="M1707 2217l18-2 12-6 12-15 18-30 9-8 6 0 6 5 24 38 9 8 6 2 9-4 6-6 27-54 6-7 3-1 3 0 6 4 15 21 9 8 6 2 15 0 15 4 6-1 6-5 18-29 6-6 3-2 3 0 6 5 21 37 9 8 6 0 6-6 21-31 6-4 6 2 9 12 21 40 9 11 6 5 9 4 21 2" stroke="#0a9a0a" stroke-opacity="0.3"/>
<path d="M1707 2133l18-10 12-11 9-14 21-39 9-9 6 0 6 6 27 48 9 10 6 2 6-1 9-9 21-37 9-9 3-1 6 3 18 26 9 7 6 1 15-3 15 0 6-3 6-7 21-39 6-5 3 0 3 1 6 7 18 34 9 8 6 0 6-4 15-21 6-6 6-2 3 2 9 11 21 45 12 17 6 5 9 3 9 0 12-1" stroke="#000" stroke-opacity="0.3"/>
<path d="M1707 2129l18 4 15-1 12-6 21-13 9-2 9 1 24 10 15 1 12-4 27-20 9-3 9 1 24 14 36 3 12-3 21-15 9-3 9 1 21 11 9 2 9-2 18-9 9-2 6 2 6 3 24 23 12 9 15 6 18 3" stroke="#000" stroke-opacity="0.6"/>
<path d="M1707 2189l18-3 12-5 12-11 21-25 9-3 6 2 6 7 18 29 9 11 9 6 6 0 6-3 6-6 24-42 9-9 3-1 6 1 18 19 6 4 6 1 15-1 18 4 9-3 18-22 9-6 6 1 6 6 18 31 9 9 6 1 6-3 21-28 9-5 3 0 6 4 21 28 12 12 12 3 24 0" stroke="#0a9a0a" stroke-opacity="0.1"/>
<path d="M1707 2182l9-2 9-3 12-12 12-22 18-45 9-15 6-2 6 4 27 49 9 7 6 1 6-4 6-8 9-19 15-38 6-10 6-3 3 1 6 8 15 34 9 15 6 5 12 4 15 10 6 2 6-3 3-3 21-43 6-6 3-1 3 1 6 8 18 37 6 7 6 0 3-2 6-10 21-49 6-6 3-1 3 1 9 13 18 44 12 20 12 11 24 9" stroke="#0a9a0a" stroke-opacity="0.1"/>
<path d="M1707 2132l21 0 12-5 9-9 21-29 9-6 6 2 6 5 24 36 9 6 6 1 6-3 9-10 24-48 9-10 3-1 6 2 18 21 6 5 6 2 15 0 18 5 9-4 21-28 6-4 3 0 3 2 6 6 18 33 9 11 6 1 6-3 21-27 6-4 3 0 3 1 6 6 21 37 12 15 6 5 9 3 21 2" stroke="#000" stroke-opacity="0.3"/>
<path d="M1707 2129l18 0 12-5 12-12 21-31 9-5 6 2 6 6 18 28 9 11 9 5 6-1 6-4 6-8 24-47 9-9 3-1 6 3 18 22 6 5 6 1 15-1 18 3 6-3 6-7 18-29 6-5 3-1 3 1 6 6 21 33 6 4 3 1 3-1 6-5 21-31 6-4 6 1 9 10 18 32 12 16 6 5 9 4 21 3" stroke="#000" stroke-opacity="0.3"/>
<path d="M1707 2136l18-2 12-4 9-6 21-19 9-5 6 1 6 3 24 21 9 4 6 1 6-1 9-4 24-26 9-6 9 1 18 13 9 5 21 1 15 3 6-1 6-3 18-16 9-4 9 3 21 20 9 4 6-1 6-3 21-18 9-2 9 5 21 22 12 8 15 4 21 2" stroke="#000" stroke-opacity="0.4"/>
<path d="M1707 2165l18-4 12-5 9-5 21-18 9-3 6 1 6 4 27 31 9 5 6 0 6-2 9-7 24-34 9-7 9 0 15 10 9 3 21-1 18 4 9-2 18-14 6-2 6 1 6 5 21 29 9 7 6 1 6-3 21-19 9-2 9 3 21 20 9 6 12 3 27-2" stroke="#0a9a0a" stroke-opacity="0.1"/>
<path d="M1707 2151l21 6 12 0 9-2 21-9 9-1 9 4 21 13 9 3 6 0 6-3 9-6 9-11 21-30 6-5 6-4 9 0 18 4 21-3 24 2 27-9 6 1 6 4 24 29 6 6 6 3 9 0 18-7 9-1 9 4 21 16 12 6 15 0 24-7" stroke="#000" stroke-opacity="0.5"/>
</g></g>
<path d="M570,747.5 L714.6,747.5" stroke="#b3b3b3" stroke-width="1.2"/>
<clipPath id="t13"><rect x="569" y="747.5" width="146.6" height="16"/></clipPath><g clip-path="url(#t13)">
<text class="k" x="579" y="757.7">3.790</text>
<text class="k" x="618.8" y="757.7">3.786</text>
<text class="k" x="659.1" y="757.7">3.782</text>
<text class="k" x="700.1" y="757.7">3.778</text>
</g>
<path d="M579,747.5 L579,750.5 M618.8,747.5 L618.8,750.5 M659.1,747.5 L659.1,750.5 M700.1,747.5 L700.1,750.5 M579,747.5 L579,749.5 M598.9,747.5 L598.9,749.5 M618.8,747.5 L618.8,749.5 M638.7,747.5 L638.7,749.5 M658.6,747.5 L658.6,749.5 M678.5,747.5 L678.5,749.5 M698.4,747.5 L698.4,749.5" stroke="#999" stroke-width="0.8"/>
<path class="a" d="M750.3,649V745.5H889.1"/>
<text class="y" x="748.1" y="651.4">150</text>
<text class="y" x="748.1" y="683.6">100</text>
<text class="y" x="748.1" y="715.7">50</text>
<text class="y" x="748.1" y="747.9">0</text>
<text class="u" x="725.3" y="697.2" transform="rotate(-90 725.3 697.2)" dy="2.8">A.U.</text>
<path class="w" d="M785.7,682.1V700.2M785.7,716.6V732M774.4,682.1h22.6M774.4,732h22.6"/>
<rect class="b" x="763.1" y="700.2" width="45.2" height="16.4" fill="#888"/>
<path class="m" d="M763.1,708.6H808.3"/>
<path class="w" d="M854.5,677.2V697.8M854.5,732.8V740M843.2,677.2h22.6M843.2,740h22.6"/>
<rect class="b" x="831.9" y="697.8" width="45.1" height="35" fill="#00c000"/>
<path class="m" d="M831.9,719.5H877"/>
<path class="t" d="M747.8,649h2.5M747.8,681.2h2.5M747.8,713.3h2.5M747.8,745.5h2.5M785.7,745.5v3M854.5,745.5v3"/>
<text class="x" x="785.2" y="753" transform="rotate(-45 785.2 753)" dy="4">HC</text>
<text class="x" x="854" y="753" transform="rotate(-45 854 753)" dy="4">HESN</text>
<path class="st" d="M818.4,664.7l0,-3.3M818.4,664.7l3.1,-1M818.4,664.7l1.9,2.7M818.4,664.7l-1.9,2.7M818.4,664.7l-3.1,-1"/>
<path class="pl" d="M814.9,680.1h7M818.4,676.6v7"/>
<rect x="691.3" y="612.5" width="66.2" height="18.5" fill="#fff"/><text x="724.4" y="626" font-size="17.5" font-weight="bold" text-anchor="middle">Alanine</text>
<clipPath id="c14"><rect x="18.5" y="925" width="143.9" height="109.4"/></clipPath>
<rect x="18.5" y="925" width="143.9" height="109.4" fill="none" stroke="#e6e6e6" stroke-width="1"/>
<g clip-path="url(#c14)" fill="none" stroke-linejoin="round"><g transform="scale(0.333333)" stroke-width="3">
<path d="M52 2993l38 2 30-5 30-10 56-27 23-10 26-5 23-1 14 3 12 7 11 12 23 32 11 14 11 9 11 7 19 5 56 4 42 7" stroke="#ff0000" stroke-opacity="0.4"/>
<path d="M52 3003l57 0 41-3 34-6 75-18 37-4 8 1 7 4 38 32 11 8 11 5 19 5 52 8 46 8" stroke="#ff0000" stroke-opacity="0.6"/>
<path d="M52 3000l79-3 113-16 41 1 11 1 12 5 41 32 11 6 15 6 15 4 22 2 76 2" stroke="#000" stroke-opacity="0.6"/>
<path d="M52 3011l76-14 108-24 26-4 27 1 11 2 8 4 11 11 30 35 11 9 11 6 11 3 16 2 56 0 34 2" stroke="#ff0000" stroke-opacity="0.3"/>
<path d="M52 3017l34-3 34-6 41-10 83-27 26-5 22 0 8 1 8 5 11 12 30 37 11 10 15 9 15 4 15 3 83 6" stroke="#ff0000" stroke-opacity="0.5"/>
<path d="M52 2970l27-2 22-3 19-4 19-7 19-10 18-12 56-43 23-16 23-9 11-3 7 0 8 5 7 10 41 87 12 17 11 11 11 8 15 6 87 20" stroke="#000" stroke-opacity="0.7"/>
<path d="M52 2995l16-2 14-3 16-6 14-9 27-20 56-49 26-18 15-7 12-3 11-2 15 0 18 3 4 2 8 8 11 21 23 52 11 23 11 16 11 10 8 4 11 3 52 3 46 8" stroke="#000" stroke-opacity="0.7"/>
<path d="M52 3004l38-8 60-2 26-5 15-6 15-9 42-32 18-12 15-6 15-1 8 4 11 13 34 60 11 17 11 14 15 12 19 7 19 1 18-3 46-11" stroke="#ff0000" stroke-opacity="0.7"/>
<path d="M52 2986l57-7 19-4 18-6 19-9 19-12 52-41 19-12 23-10 18-2 8 3 7 9 11 19 30 59 12 15 15 14 15 7 18 5 23 1 53 1" stroke="#ff0000" stroke-opacity="0.4"/>
<path d="M52 2982l23-2 19-3 18-6 16-7 14-9 19-15 57-53 22-18 22-12 12-3 11 0 11 2 4 4 8 10 11 25 30 76 11 20 8 10 7 6 11 6 15 3 57-2 30 2" stroke="#000" stroke-opacity="0.7"/>
<path d="M52 2995l83-15 34-8 30-11 63-30 16-5 14-3 8 2 8 7 11 14 30 46 11 12 15 11 19 8 22 6 38 7 34 4" stroke="#ff0000" stroke-opacity="0.5"/>
<path d="M52 3011l49-9 38-14 33-18 57-42 22-14 23-10 18-2 8 4 8 9 11 20 30 64 11 17 15 15 15 9 19 6 33 6 46 5" stroke="#000" stroke-opacity="0.8"/>
<path d="M52 3001l46-5 18-4 19-7 34-18 56-41 23-14 22-9 11-1 11 0 8 3 8 8 11 19 30 61 11 16 15 13 11 6 15 3 87 6" stroke="#8a0000" stroke-opacity="0.8"/>
<path d="M52 3000l38-7 41-11 34-13 67-29 23-8 23-5 18-2 8 4 7 8 38 55 11 12 11 8 19 8 45 9 53 15" stroke="#ff0000" stroke-opacity="0.5"/>
<path d="M52 3011l42-3 34-4 33-8 83-24 26-3 22 0 8 2 8 5 41 42 11 9 15 8 15 4 15 3 83 8" stroke="#ff0000" stroke-opacity="0.3"/>
<path d="M52 2965l42-4 37-9 34-15 56-33 23-11 26-9 22-2 8 3 8 7 11 18 30 55 11 15 15 13 15 5 15 3 83-2" stroke="#000" stroke-opacity="0.2"/>
<path d="M52 2997l42 0 18-2 16-4 30-14 56-36 22-12 26-9 12-1 15 0 11 3 11 9 41 66 12 13 11 8 19 6 52 5 42 8" stroke="#000" stroke-opacity="0.3"/>
<path d="M52 2989l19 3 19-1 19-5 15-8 15-11 19-17 56-64 22-22 12-8 11-6 11-4 11-1 11 2 4 2 8 9 11 23 34 89 11 20 15 18 15 8 15 3 19 1 64-2" stroke="#000" stroke-opacity="0.4"/>
<path d="M52 3000l38-7 38-12 37-18 83-49 22-9 22-3 8 3 8 7 7 12 34 60 11 14 11 9 11 7 19 6 87 17" stroke="#ff0000" stroke-opacity="0.6"/>
<path d="M52 3026l42-2 37-9 34-14 60-32 23-11 22-7 22-2 8 3 8 6 41 57 11 11 11 7 23 7 94 12" stroke="#000" stroke-opacity="0.4"/>
<path d="M52 3019l38 1 34-1 120-14 26-1 22 1 8 1 11 4 41 23 23 8 30 5 83 6" stroke="#000" stroke-opacity="0.3"/>
<path d="M52 2970l23-3 19-5 18-8 16-8 18-14 19-16 56-59 23-21 15-10 11-5 11-3 11-1 8 6 8 12 7 18 34 96 11 22 11 15 15 11 15 4 87 8" stroke="#000" stroke-opacity="0.3"/>
<path d="M52 3012l30 2 34-3 30-7 98-27 26-5 26 0 8 2 11 6 41 36 12 7 14 8 27 8 30 7 26 3 23 0" stroke="#000" stroke-opacity="0.6"/>
<path d="M52 3006l46 0 37-6 34-9 79-29 22-5 22-2 8 2 11 7 38 42 11 9 15 8 15 5 15 3 83 11" stroke="#000" stroke-opacity="0.5"/>
<path d="M52 3013l30 5 19 2 19-1 15-2 30-10 53-27 18-8 23-5 22-1 11 2 12 6 11 11 34 39 11 9 15 9 15 4 19 3 79 2" stroke="#ff0000" stroke-opacity="0.5"/>
<path d="M52 2964l19-1 19-4 19-7 15-7 15-11 19-16 60-64 22-20 15-10 11-5 12-3 11 0 7 3 12 17 41 111 11 21 11 14 15 10 15 4 87 5" stroke="#000" stroke-opacity="0.5"/>
<path d="M52 2993l34-10 60-10 26-8 16-7 14-10 57-44 19-9 14-3 8 3 11 13 41 84 16 22 14 13 19 8 19 3 19-1 49-6" stroke="#ff0000" stroke-opacity="0.6"/>
<path d="M52 3001l64 1 42-3 37-7 71-21 19-3 15-1 8 3 7 5 41 40 19 10 26 5 87 7" stroke="#ff0000" stroke-opacity="0.5"/>
<path d="M52 3006l38-4 34-9 37-15 83-41 26-8 22-2 8 3 8 7 41 62 11 13 15 11 15 7 22 5 38 5 38 3" stroke="#000" stroke-opacity="0.4"/>
<path d="M52 3026l23-5 23-7 78-34 38-14 37-7 34 0 11 2 12 8 37 48 11 11 12 7 18 6 53 5 49 11" stroke="#000" stroke-opacity="0.6"/>
</g></g>
<path d="M18.5,1035.9 L162.4,1035.9" stroke="#b3b3b3" stroke-width="1.2"/>
<clipPath id="t14"><rect x="17.5" y="1035.9" width="145.9" height="16"/></clipPath><g clip-path="url(#t14)">
<text class="k" x="27" y="1047.4">1.33</text>
<text class="k" x="47.1" y="1047.4">1.32</text>
<text class="k" x="67.4" y="1047.4">1.31</text>
<text class="k" x="87.5" y="1047.4">1.30</text>
<text class="k" x="107.3" y="1047.4">1.29</text>
<text class="k" x="127.4" y="1047.4">1.28</text>
<text class="k" x="147.7" y="1047.4">1.27</text>
</g>
<path d="M27,1035.9 L27,1038.9 M47.1,1035.9 L47.1,1038.9 M67.4,1035.9 L67.4,1038.9 M87.5,1035.9 L87.5,1038.9 M107.3,1035.9 L107.3,1038.9 M127.4,1035.9 L127.4,1038.9 M147.7,1035.9 L147.7,1038.9 M27,1035.9 L27,1037.9 M37,1035.9 L37,1037.9 M47.1,1035.9 L47.1,1037.9 M57.1,1035.9 L57.1,1037.9 M67.2,1035.9 L67.2,1037.9 M77.2,1035.9 L77.2,1037.9 M87.3,1035.9 L87.3,1037.9 M97.3,1035.9 L97.3,1037.9 M107.4,1035.9 L107.4,1037.9 M117.4,1035.9 L117.4,1037.9 M127.5,1035.9 L127.5,1037.9 M137.5,1035.9 L137.5,1037.9 M147.6,1035.9 L147.6,1037.9 M157.7,1035.9 L157.7,1037.9" stroke="#999" stroke-width="0.8"/>
<path class="a" d="M206.2,935.3V1036.1H344"/>
<text class="y" x="204" y="937.7">200</text>
<text class="y" x="204" y="962.9">150</text>
<text class="y" x="204" y="988.1">100</text>
<text class="y" x="204" y="1013.3">50</text>
<text class="y" x="204" y="1038.5">0</text>
<text class="u" x="181.2" y="985.7" transform="rotate(-90 181.2 985.7)" dy="2.8">A.U.</text>
<path class="w" d="M240.9,948.8V957.3M240.9,984.7V987.2M229.7,948.8h22.4M229.7,987.2h22.4"/>
<rect class="b" x="218.5" y="957.3" width="44.8" height="27.4" fill="#888"/>
<path class="m" d="M218.5,964.7H263.3"/>
<path class="w" d="M310,967.8V976.9M310,989.1V1005.8M298.9,967.8h22.3M298.9,1005.8h22.3"/>
<rect class="b" x="287.7" y="976.9" width="44.6" height="12.2" fill="#ff0000"/>
<path class="m" d="M287.7,983.8H332.3"/>
<path class="t" d="M203.7,935.3h2.5M203.7,960.5h2.5M203.7,985.7h2.5M203.7,1010.9h2.5M203.7,1036.1h2.5M240.9,1036.1v3M310,1036.1v3"/>
<text class="x" x="240.4" y="1043.6" transform="rotate(-45 240.4 1043.6)" dy="4">HC</text>
<text class="x" x="309.5" y="1043.6" transform="rotate(-45 309.5 1043.6)" dy="4">PR</text>
<path class="st" d="M273.8,935.3l0,-3.3M273.8,935.3l3.1,-1M273.8,935.3l1.9,2.7M273.8,935.3l-1.9,2.7M273.8,935.3l-3.1,-1"/>
<text class="n" x="273.8" y="954.5" textLength="15.4" lengthAdjust="spacingAndGlyphs">ns</text>
<rect x="92.8" y="906.6" width="190.4" height="18.5" fill="#fff"/><text x="188" y="920.1" font-size="17.5" font-weight="bold" text-anchor="middle">VDL 2 (aliphatic chain)</text>
<path d="M18,1017 C50,1012 80,1008 98,1002 C115,1005 135,1012 163,1022" stroke="#888" stroke-width="0.9" fill="none" clip-path="url(#c14)"/>
<clipPath id="c15"><rect x="370.6" y="923.5" width="144.2" height="110.7"/></clipPath>
<rect x="370.6" y="923.5" width="144.2" height="110.7" fill="none" stroke="#e6e6e6" stroke-width="1"/>
<g clip-path="url(#c15)" fill="none" stroke-linejoin="round"><g transform="scale(0.333333)" stroke-width="3">
<path d="M1109 2899l6 6 15 33 6 7 3 0 3-2 12-15 3 0 3 3 18 42 6 9 6 4 6-1 3-3 6-10 12-29 3-3 3 0 6 10 15 44 6 10 6 4 6 0 6-3 6-9 12-26 3-3 3 0 6 9 15 38 6 8 6 4 12 3 9-2 6-6 12-16 3-2 3 1 6 5 15 25 9 7 9-1 15-10 6 0 6 3 15 16 9 4 12 1 18-7 6 0 24 17 27 6" stroke="#000" stroke-opacity="0.6"/>
<path d="M1109 2832l3 1 6 11 12 35 6 13 3 4 3 1 12-9 3-1 3 2 6 11 15 36 9 11 6 1 6-3 6-9 9-19 3-4 3-1 3 3 3 5 18 49 6 9 6 4 6 1 6-3 6-9 9-16 3-4 3-1 3 1 3 5 18 42 6 7 6 4 9 3 9 0 6-3 12-14 6-3 6 4 15 24 9 8 9 1 15-7 6-2 6 3 15 15 9 6 9 2 6 0 15-5 6-1 6 3 12 10 9 5 24 6" stroke="#000" stroke-opacity="0.3"/>
<path d="M1109 2830l3 1 6 9 12 36 6 14 3 3 3 1 3-1 9-10 3-1 3 1 6 11 15 42 6 10 6 4 6 0 6-8 12-29 3-6 3-2 3 1 3 5 18 55 6 9 6 4 6 1 6-4 6-10 12-26 3-2 3 1 6 11 15 42 6 9 9 6 9 3 9-1 6-5 9-12 6-4 6 4 18 32 9 7 9-1 15-10 6 0 6 4 12 13 9 6 9 2 6 0 15-7 6-1 6 2 21 17 24 7" stroke="#ff0000" stroke-opacity="0.7"/>
<path d="M1109 2799l3-2 3 3 3 5 15 51 6 15 3 4 3 1 12-7 3 0 3 2 6 13 12 32 6 11 6 6 6 2 6-4 15-28 3-3 3 0 6 9 12 38 6 14 6 8 6 5 6 0 6-3 15-26 3-3 3-1 6 8 12 32 6 12 6 8 6 4 9 3 9-1 6-4 12-14 6-2 6 5 15 25 9 8 9 1 15-8 6-1 6 3 15 15 9 6 12 2 18-6 6 0 6 3 18 14 24 7" stroke="#ff0000" stroke-opacity="0.7"/>
<path d="M1109 2905l3 0 6 6 15 27 6 6 6-3 12-12 3 0 3 3 18 37 6 7 6 3 6 0 3-2 6-9 12-23 3-3 3 1 6 10 15 39 6 8 6 4 6 1 6-3 6-7 12-20 3-3 3 1 6 8 15 34 6 7 9 5 9 2 9-2 18-17 6-1 6 6 12 18 9 7 9 1 18-9 6 0 6 3 15 14 6 3 9 2 6 0 21-6 6 2 21 14 24 6" stroke="#ff0000" stroke-opacity="0.5"/>
<path d="M1109 2850l3 2 6 12 12 39 6 14 3 3 3 0 12-8 3 0 3 2 6 11 12 30 6 10 6 5 6 0 6-4 15-30 3-3 3-1 6 9 15 42 6 9 6 5 9 1 6-4 15-27 3-3 3-1 6 7 12 30 6 11 6 6 6 3 9 2 9-1 6-4 12-14 6-2 6 4 15 24 9 7 9 0 15-8 6-2 6 3 15 15 9 5 12 1 18-6 6-1 6 3 18 13 27 7" stroke="#ff0000" stroke-opacity="0.5"/>
<path d="M1109 2879l3 0 6 6 15 32 6 7 3-1 3-2 12-15 3 0 3 3 18 44 6 10 6 5 6-1 3-2 6-9 12-27 3-3 3 1 6 11 15 48 6 10 6 5 6 1 6-3 6-8 12-25 3-4 3 0 6 9 15 39 6 8 6 4 12 3 9-3 6-6 12-16 3-2 3 0 6 6 15 25 9 6 9 0 15-9 6-1 6 4 15 17 9 5 12 1 18-7 6 0 24 17 24 5" stroke="#000" stroke-opacity="0.7"/>
<path d="M1109 2879l3 0 6 5 15 36 6 10 6 2 12-7 3 0 3 2 6 9 12 25 6 8 6 4 6 1 6-4 15-24 3-3 3 0 6 7 15 34 6 9 6 4 9 1 6-4 15-21 3-3 3 0 6 5 12 26 6 9 6 6 6 3 9 2 9 0 6-3 12-11 6-1 6 4 15 21 9 6 9 1 15-6 6 0 6 2 15 13 9 5 12 1 18-5 6 0 24 14 24 5" stroke="#000" stroke-opacity="0.7"/>
<path d="M1109 2868l3 0 6 6 15 35 6 8 3 1 3-2 12-12 3 0 3 3 18 41 6 9 6 5 6 0 6-6 15-31 3-3 3 0 6 10 15 43 6 10 6 4 6 2 6-3 6-7 12-23 3-3 3 0 6 8 15 37 6 9 9 6 9 2 9-1 6-4 12-14 6-2 6 6 15 25 9 6 9 1 15-8 6-1 6 3 15 16 9 4 12 2 18-7 6 0 24 17 24 6" stroke="#000" stroke-opacity="0.3"/>
<path d="M1109 2838l6 8 15 40 6 10 6 3 9-3 6 0 6 9 15 33 6 8 6 4 6 1 3-1 6-6 12-19 3-2 3 0 6 9 15 34 6 7 6 4 6 1 6-1 6-6 12-17 3-2 3 1 6 7 12 27 6 9 6 6 9 5 9 2 6 0 6-3 12-9 6 0 6 6 15 20 9 6 9 1 15-6 6 0 6 3 15 12 9 4 12 2 18-4 6 0 24 15 27 8" stroke="#ff0000" stroke-opacity="0.7"/>
<path d="M1109 2838l6 9 15 41 6 10 6 3 9-4 6 1 6 8 15 32 6 8 6 4 6 1 6-4 12-18 6-5 3 1 3 4 18 41 6 7 6 5 6 1 6-2 6-5 12-17 3-2 3 1 6 8 15 31 6 6 9 6 9 2 9 0 18-13 6 0 6 5 15 21 9 5 9 1 15-6 6 0 6 4 15 12 9 5 12 1 21-4 6 2 21 13 27 7" stroke="#ff0000" stroke-opacity="0.6"/>
<path d="M1109 2854l3 0 6 8 15 38 6 8 3 1 3-1 12-13 3 0 3 3 18 49 6 10 6 5 6 0 6-6 15-35 3-3 3 0 6 12 15 47 6 10 6 4 6 1 6-3 6-10 12-27 3-3 3 0 6 8 15 41 6 9 6 4 12 4 9-2 6-6 12-16 3-2 3 1 6 6 15 27 9 8 9 0 15-9 6-1 6 4 15 17 9 5 12 1 18-7 6 0 24 17 24 6" stroke="#000" stroke-opacity="0.6"/>
<path d="M1109 2797l3 3 6 11 12 37 6 14 6 6 3 0 9-5 3 0 3 2 6 11 15 37 9 11 6 3 6-2 6-8 9-17 3-3 3-1 3 3 3 5 18 48 6 8 6 5 6 1 6-2 6-7 9-15 3-4 3-1 3 2 3 4 18 42 6 7 9 6 9 2 9-1 15-13 6-3 6 5 15 23 9 8 9 2 15-5 6-1 6 2 15 15 9 6 9 3 6 0 15-4 6 0 6 2 12 10 9 5 24 6" stroke="#000" stroke-opacity="0.7"/>
<path d="M1109 2792l6 8 15 49 6 14 3 3 3 0 12-8 3 0 3 3 6 13 12 35 6 11 6 5 6 2 6-5 15-30 3-3 3 0 6 10 15 48 6 11 9 8 6 0 6-4 15-27 3-4 3 0 6 9 15 41 6 10 9 7 9 3 9 0 6-4 12-15 6-1 6 6 15 26 9 8 9 1 15-8 6-1 6 4 15 16 9 6 12 2 18-6 6 0 24 18 9 4 18 4" stroke="#000" stroke-opacity="0.4"/>
<path d="M1109 2830l3 1 6 11 12 37 6 14 3 3 3 1 12-9 3-1 3 2 6 10 15 39 9 10 6 2 6-4 15-31 3-4 3-1 3 2 3 5 18 51 6 9 6 4 6 0 6-4 6-9 9-18 3-4 3-2 3 2 3 4 18 45 6 7 6 4 9 3 9 0 6-4 12-14 6-3 6 5 15 25 9 9 9 1 15-7 6-1 6 2 15 16 9 6 9 3 6-1 15-5 6-1 6 3 12 10 9 6 24 5" stroke="#000" stroke-opacity="0.8"/>
<path d="M1109 2891l6 4 15 25 6 5 6-2 12-13 3-1 3 2 6 10 12 30 6 10 6 5 6 0 6-4 15-30 3-4 3-1 3 3 3 6 12 35 6 13 6 7 6 4 6 0 6-4 15-27 3-4 3-1 3 2 3 5 12 30 6 12 6 7 6 3 9 3 9-1 6-4 12-14 6-3 6 5 15 24 9 8 9 0 15-8 6-1 6 3 15 15 9 5 12 2 18-7 6 0 6 3 18 13 27 6" stroke="#ff0000" stroke-opacity="0.5"/>
<path d="M1109 2922l6 7 12 24 6 7 3 1 3-1 12-13 3-2 3 2 6 9 12 26 6 9 6 4 6-1 6-5 15-30 3-4 3-1 3 2 3 5 15 38 6 9 6 4 9 1 6-4 15-27 3-3 3-1 3 1 3 4 12 28 6 11 6 6 6 3 9 2 9-1 6-4 12-13 6-3 6 5 15 22 9 6 9 1 15-8 6-2 6 3 15 13 9 4 12 2 18-7 6-1 6 3 12 8 9 5 27 5" stroke="#000" stroke-opacity="0.4"/>
<path d="M1109 2909l3 0 6 4 15 19 6 3 6-3 12-14 3-1 3 2 6 11 12 27 6 9 6 4 6 0 6-5 15-28 3-2 3 0 6 9 15 41 6 9 6 5 6 1 6-2 6-7 12-21 3-3 3 0 6 7 15 34 6 8 6 4 12 3 9-1 6-5 12-13 6-1 6 5 15 23 9 6 9 1 15-7 6-1 6 4 15 14 9 5 12 2 18-6 6 0 24 15 24 5" stroke="#ff0000" stroke-opacity="0.5"/>
<path d="M1109 2833l3 2 6 11 12 41 6 15 3 3 3 2 3-1 9-6 3 0 3 2 6 10 15 35 9 10 6 1 6-3 15-26 3-4 3 0 6 7 12 34 6 12 6 8 6 4 6 0 6-3 15-24 3-4 3-1 3 2 3 4 18 39 6 6 6 4 9 2 9-1 6-3 12-14 6-2 6 4 15 22 9 7 9 2 15-7 6-1 6 3 15 14 9 6 12 3 18-5 6 0 6 3 18 13 9 3 18 4" stroke="#ff0000" stroke-opacity="0.5"/>
<path d="M1109 2827l3 1 6 7 15 36 6 9 3 1 3 0 12-8 3 1 3 3 18 42 6 10 6 5 6 2 6-4 15-25 3-2 3 0 6 10 15 41 6 10 6 5 6 2 6-1 6-6 12-20 3-2 3 0 6 8 15 35 6 9 9 6 9 3 9 0 6-3 12-12 6-1 6 5 15 24 9 7 9 1 15-7 6 0 6 3 15 15 9 5 12 2 18-5 6 0 24 16 24 6" stroke="#ff0000" stroke-opacity="0.3"/>
<path d="M1109 2812l3-1 3 1 3 5 15 50 6 15 3 3 3 1 12-12 3-1 3 2 6 12 15 40 9 11 6 1 6-6 15-34 3-5 3-1 3 3 3 7 12 41 6 16 6 9 6 5 6 1 6-4 15-29 3-3 3-1 3 2 3 5 12 37 6 14 6 8 6 5 9 3 9-1 6-5 12-16 6-4 6 5 15 27 9 8 9 1 15-10 6-2 6 3 15 17 9 7 12 2 18-7 6 0 6 3 18 15 9 4 15 3" stroke="#ff0000" stroke-opacity="0.3"/>
<path d="M1109 2782l3 3 6 12 12 40 6 15 6 6 12-3 6 5 6 13 12 35 9 17 9 7 6-2 6-7 9-15 3-3 3 0 6 9 15 42 6 10 6 6 9 2 6-4 15-25 3-4 3-1 3 1 3 5 18 39 6 6 6 4 9 3 9 0 6-3 12-12 6-2 6 5 15 25 9 8 9 2 15-5 6-1 6 3 15 15 9 5 12 2 18-6 6 0 6 2 18 13 27 8" stroke="#000" stroke-opacity="0.6"/>
<path d="M1109 2880l3-1 3 1 3 4 15 37 6 11 3 3 3 1 12-8 3 0 3 2 6 9 12 25 6 9 6 4 6 1 6-3 15-25 3-3 3-1 6 7 15 35 6 9 6 4 9 1 6-3 15-23 6-4 6 6 18 35 6 6 6 3 9 2 9 0 6-3 12-11 6-2 6 4 15 21 9 7 9 1 15-6 6-1 6 2 15 13 9 4 12 1 18-5 6 0 6 2 18 11 24 5" stroke="#000" stroke-opacity="0.6"/>
<path d="M1109 2845l6 6 15 32 6 7 3 0 3-2 12-17 3-1 3 3 6 13 12 37 6 12 6 6 6 1 6-5 15-37 3-4 3-1 3 3 3 7 12 44 6 16 6 9 6 4 6 1 6-5 15-33 3-5 3-1 3 2 3 6 12 37 6 14 6 8 6 4 9 3 9-1 6-6 12-17 6-3 6 5 15 29 9 9 9 1 15-10 6-2 6 4 15 18 9 6 12 2 18-7 6-1 6 3 18 16 9 4 18 4" stroke="#ff0000" stroke-opacity="0.3"/>
<path d="M1109 2811l3-1 3 2 3 4 21 57 3 3 3 2 3-1 9-7 3 0 3 1 6 11 15 39 9 12 6 2 6-3 6-8 9-19 3-4 3-2 3 2 3 6 18 50 6 9 6 5 6 1 6-3 6-8 9-17 6-6 3 2 3 4 18 44 6 8 6 4 9 3 9 1 6-4 12-13 6-3 6 4 15 26 9 8 9 2 18-8 6 0 6 5 12 13 9 6 9 2 6 0 15-5 6 0 6 2 18 15 9 3 15 4" stroke="#000" stroke-opacity="0.4"/>
<path d="M1109 2862l3 1 6 6 15 31 6 7 6 0 12-9 3 1 3 2 18 38 6 9 6 4 6 1 6-4 15-25 3-2 3 0 6 9 15 38 6 9 6 5 6 2 6-2 6-5 12-19 3-2 3 0 6 7 15 34 6 8 9 6 9 3 9-1 6-3 12-11 6-1 6 5 15 22 9 7 9 0 15-6 6 0 6 3 15 13 9 5 12 1 18-5 6 0 24 15 24 5" stroke="#ff0000" stroke-opacity="0.4"/>
<path d="M1109 2798l3 1 6 9 18 57 3 4 3 2 3-1 9-10 3-2 3 1 6 10 15 44 6 11 6 5 6 0 3-3 6-10 12-30 3-4 3 1 6 13 15 51 6 11 6 6 6 2 6-3 6-9 12-26 3-3 3 1 6 11 15 45 6 11 9 7 9 4 9-2 6-5 12-16 3-2 3 1 6 7 15 29 9 8 9 0 15-11 6 0 6 4 15 17 9 6 12 1 18-8 6 0 24 20 24 7" stroke="#000" stroke-opacity="0.6"/>
<path d="M1109 2816l3-1 3 2 3 4 15 39 6 12 3 3 3 0 12-10 3 0 3 2 6 12 15 42 9 13 6 2 6-3 18-33 3-1 3 3 21 60 6 10 6 4 6 1 6-4 6-9 9-19 3-4 3-2 3 2 3 4 18 46 6 7 6 4 9 3 9 0 6-4 12-14 6-3 6 5 18 31 9 7 9-1 12-6 6-1 6 3 15 17 9 6 9 2 6 0 15-6 6-1 6 3 18 13 9 3 15 3" stroke="#000" stroke-opacity="0.4"/>
<path d="M1109 2863l3 0 6 8 18 46 6 5 3-1 9-8 3-2 3 0 6 8 15 35 9 11 6 1 6-3 6-9 12-25 3-3 3 1 6 10 15 40 6 8 6 5 6 1 6-3 6-7 12-22 3-2 3 0 6 9 15 37 6 8 9 6 9 3 9-1 6-5 12-12 6-1 6 6 15 23 9 6 9 0 15-8 6-1 6 3 15 15 9 4 12 1 18-6 6 0 24 16 24 7" stroke="#ff0000" stroke-opacity="0.5"/>
<path d="M1109 2855l6 5 15 32 6 9 3 1 3-2 12-16 3-1 3 1 6 12 15 42 9 12 6 1 6-5 6-12 9-24 3-5 3-2 3 2 3 6 18 57 6 10 6 4 6 1 6-5 6-10 9-22 3-5 3-2 3 2 3 5 18 50 6 8 6 5 9 3 9-1 6-4 12-17 6-4 6 5 15 29 9 9 9 1 18-11 6 0 6 5 12 15 9 6 9 2 6 0 15-8 6 0 6 2 12 11 9 6 24 6" stroke="#000" stroke-opacity="0.5"/>
</g></g>
<path d="M370.6,1035.7 L514.8,1035.7" stroke="#b3b3b3" stroke-width="1.2"/>
<clipPath id="t15"><rect x="369.6" y="1035.7" width="146.2" height="16"/></clipPath><g clip-path="url(#t15)">
<text class="k" x="391" y="1045">2.04</text>
<text class="k" x="429.8" y="1045">2.02</text>
<text class="k" x="470.3" y="1045">2.00</text>
<text class="k" x="508" y="1045">1.98</text>
</g>
<path d="M391,1035.7 L391,1038.7 M429.8,1035.7 L429.8,1038.7 M470.3,1035.7 L470.3,1038.7 M508,1035.7 L508,1038.7 M371.6,1035.7 L371.6,1037.7 M391,1035.7 L391,1037.7 M410.4,1035.7 L410.4,1037.7 M429.8,1035.7 L429.8,1037.7 M449.2,1035.7 L449.2,1037.7 M468.6,1035.7 L468.6,1037.7 M488,1035.7 L488,1037.7 M507.4,1035.7 L507.4,1037.7" stroke="#999" stroke-width="0.8"/>
<path class="a" d="M560.9,934.6V1035.2H702.3"/>
<text class="y" x="558.7" y="937">35</text>
<text class="y" x="558.7" y="970.5">30</text>
<text class="y" x="558.7" y="1004.1">25</text>
<text class="y" x="558.7" y="1037.6">20</text>
<text class="u" x="535.9" y="984.9" transform="rotate(-90 535.9 984.9)" dy="2.8">A.U.</text>
<path class="w" d="M596.4,958.5V965.5M596.4,996.5V1017.6M585,958.5h22.9M585,1017.6h22.9"/>
<rect class="b" x="573.5" y="965.5" width="45.8" height="31" fill="#888"/>
<path class="m" d="M573.5,978.1H619.3"/>
<path class="w" d="M666.5,978.1V986.4M666.5,1007V1030.4M654.9,978.1h23.3M654.9,1030.4h23.3"/>
<rect class="b" x="643.2" y="986.4" width="46.6" height="20.6" fill="#ff0000"/>
<path class="m" d="M643.2,993.7H689.8"/>
<path class="t" d="M558.4,934.6h2.5M558.4,968.1h2.5M558.4,1001.7h2.5M558.4,1035.2h2.5M596.4,1035.2v3M666.5,1035.2v3"/>
<text class="x" x="595.9" y="1042.7" transform="rotate(-45 595.9 1042.7)" dy="4">HC</text>
<text class="x" x="666" y="1042.7" transform="rotate(-45 666 1042.7)" dy="4">PR</text>
<path class="st" d="M629.3,935.3l0,-3.3M629.3,935.3l3.1,-1M629.3,935.3l1.9,2.7M629.3,935.3l-1.9,2.7M629.3,935.3l-3.1,-1"/>
<text class="n" x="629.3" y="954.9" textLength="15.4" lengthAdjust="spacingAndGlyphs">ns</text>
<rect x="462.7" y="906.7" width="132.7" height="18.5" fill="#fff"/><text x="529" y="920.2" font-size="17.5" font-weight="bold" text-anchor="middle">Lipids: CH<tspan dy="4.5" font-size="12">2</tspan><tspan dy="-4.5">C=C</tspan></text>
<g fill="none" stroke="#777" stroke-width="1" clip-path="url(#c15)"><path d="M370,983 C378,990 383,996 387,992 C392,988 396,998 402,1000 C407,1000 410,990 414,995 C420,1004 425,1012 432,1008 C437,1004 442,1016 450,1018 C460,1022 470,1024 480,1026 C495,1029 505,1030 515,1031"/><path d="M370,996 C378,1002 383,1008 387,1004 C392,1000 396,1008 402,1010 C407,1010 410,1002 414,1006 C420,1013 425,1019 432,1016 C437,1013 442,1022 450,1023 C460,1026 470,1027 480,1029 C495,1031 505,1032 515,1033"/></g>
<clipPath id="c16"><rect x="18.5" y="1083.5" width="143.9" height="109.7"/></clipPath>
<rect x="18.5" y="1083.5" width="143.9" height="109.7" fill="none" stroke="#e6e6e6" stroke-width="1"/>
<g clip-path="url(#c16)" fill="none" stroke-linejoin="round"><g transform="scale(0.333333)" stroke-width="3">
<path d="M52 3476l10-1 4-10 4 2 5-3 5 0 4 4 9-7 18 4 5 2 8-8 5 3 9-13 4 0 10-15 4 1 18-19 18-33 4-17 5 0 5-4 4-2 9 3 5-1 4-4 4 0 5-5 5 4 4-8 4 5 5 8 5 2 4 9 4 5 10 1 8 10 5 1 5 13 13 17 9 6 9 17 5 11 8 8 5-1 5-4 4 5 4-5 5 9 9-3 4 7 5 1 5 6 4 4 4 1 5-7 5 0 4 8 4-3 5 8 5 1 4-13 9-13 5 1 8 17 5 5 9-8 4-13 10-14 4 1 4 10 5 5" stroke="#000" stroke-opacity="0.2"/>
<path d="M52 3500l10-4 4 1 9-14 5 4 4-1 4 3 5 10 9-6 4-5 5-2 9 4 4 0 5-4 5 1 4-10 4-1 5-3 5-13 8-13 5-6 13-11 5-8 5-16 13-24 5 0 4-7 4 2 10-3 4 7 4-5 5 1 5 2 4-2 4 2 10 14 4-3 4 6 10 6 4 11 9 6 5-2 13 18 5 11 13 9 9 11 4-1 5 8 5 3 4-4 4 9 5 0 5 4 4 10 4 0 10 9 4 2 4-3 5-1 5-6 4-2 4 6 5-2 9 0 9-7 5 1 4-4 9 8 5 0 4-3 9-14 5-2 4 2 4 12 5 7" stroke="#000" stroke-opacity="0.5"/>
<path d="M52 3498l5-1 5 7 4-1 4-6 5 1 9-11 4-1 5 2 5-2 8 10 5 0 5 7 4 1 9-10 9-5 9 12 5-10 4 1 9-16 5 10 4-1 4 9 5-1 9-27 4-9 5-3 5 7 8 3 10-1 4-4 9 2 9 6 14-9 8 9 10 0 4 3 4-4 5 8 5 2 4-2 14 1 4 2 4 6 5-1 9 6 4-5 5 1 5 5 8-2 5 3 5-1 8 8 5 2 5 0 8-6 5-1 5-4 8 8 5-3 9-1 4 1 14 15 14-14 4-10 4-3 10-10 4 4 4 11 5 7" stroke="#000" stroke-opacity="0.7"/>
<path d="M52 3483l10 8 13-11 5 1 4-3 4 0 10-12 4-1 4 3 5-2 5-7 4 3 4-13 5 4 5 1 4-7 4 10 5-12 9-8 4-9 5-2 9-17 9-13 5-3 8-21 5-3 9 8 4 0 5-2 5-7 4-3 4-6 5-4 9-1 9 6 5-3 4 2 14 26 4 6 14 3 18 29 4 1 4 6 10 14 8 9 5-5 9 9 4 2 5 6 5-3 8 6 5 2 5 4 8-6 5 4 5-1 4 7 4 1 5-7 5-4 4-9 4 0 5 3 9 24 4-1 5 4 5-4 4-8 4-4 5-14 5-4 4 1 4 6 5 11" stroke="#ff0000" stroke-opacity="0.3"/>
<path d="M52 3485l5 2 5 0 4 8 9-7 5-2 4 3 9-2 5 1 4-2 4 2 5-4 5 3 4-2 4-5 5 0 5-10 4 0 4 3 5-4 5-1 4-12 4-5 5 2 5-5 4 3 9-19 5 1 4-2 9-8 9-13 9 2 9 5 4-5 5 7 9-2 4 7 10-6 4 2 4 6 5 3 5 7 4 4 9 4 9-3 4 1 5 3 5 10 8 13 5 0 5-8 4 1 4-5 5 4 5 10 13 12 5-1 4-6 4 1 5 1 9 13 4 3 5 2 5-5 4 0 4-5 5 2 5-3 4 0 4 4 5-5 5 2 4 4 4-10 10 2 4-1 4 3 5-3 5 1 4-4 9 5" stroke="#ff0000" stroke-opacity="0.6"/>
<path d="M52 3481l14 3 4-9 5 1 5-5 4 0 4 6 5-11 13 1 5 7 5 1 4-3 14-5 4-5 4 0 5-9 5-1 4 3 4-3 5 0 5-6 4-1 9-10 5 1 8-12 18 3 5 0 5-6 4 0 4 0 5 8 5 1 8 9 5-1 5 5 4 1 4 3 5-1 5 0 4-5 14 14 4 11 4-2 5 0 5 3 4-3 14 12 8-6 5-8 5-5 4 11 4 0 5 8 9-1 4 8 10 5 4-1 9-4 5 3 8-9 5-1 5-8 8-6 5 2 5 7 4 1 4 3 10-3 4 2 9 2 5-8 4 4 9 0" stroke="#ff0000" stroke-opacity="0.5"/>
<path d="M52 3508l5 1 9-4 9 0 5-3 4 1 4-4 5 0 5 8 4-9 4 2 5-2 5-6 4 2 4-3 5-6 13 9 10 2 4-9 9-3 5-11 4 0 9-21 5-4 4-11 4-5 10-4 4 0 14 6 4-2 4-8 5 2 5-4 8 16 5-1 5 1 4-1 4 3 5 0 13 5 14 21 9-4 5 1 4 5 14 25 4-4 4-2 10 8 4 12 9 7 5 2 4-4 14-3 4 3 4 5 5 2 5 7 4 1 9-2 5-11 13-18 5 3 8 9 10 0 4-4 9-1 5-4 4 1 4-4 5 2" stroke="#000" stroke-opacity="0.5"/>
<path d="M52 3495l5-3 9 8 14-8 4-12 4-3 5 0 5 0 8 15 5 4 9 1 4-8 5 0 9-10 4-1 5-3 5-8 8-3 5-7 5 4 4-2 4-6 5 0 5-8 8-8 5-7 5-2 4-4 4-8 5 2 5 0 8 11 5-4 5 3 8-2 5 1 5-1 4-4 4 4 5 9 5 0 4 4 4-1 5 2 5 10 13 10 5-4 4 11 4 2 5-3 9 8 9 18 5-1 13-11 5 4 4 10 9-1 5 2 4-7 9 14 5 1 4 4 9-6 5 0 4-5 14-7 4 1 9 3 5 0 4 3 14-6 13 5" stroke="#ff0000" stroke-opacity="0.3"/>
<path d="M52 3480l5-1 5-5 4-11 9 1 5 9 4 1 4-8 5-2 5-4 4 1 4-3 5 1 5-12 8 2 5-2 5 6 4-8 4-3 5-10 9-4 4-4 5 0 5-6 4-9 4 2 10-19 4-6 4-13 5-6 5 3 4 1 4-1 5 4 5-3 4-7 9-2 5 2 13 19 5-1 13 14 5 9 4 5 4 2 5-3 5 2 4-4 14 15 8 13 5 2 5 5 4 10 4-4 5 3 9-5 9 13 5 3 4 7 4 2 5-1 5 11 4 0 9-6 5-11 4 0 4 3 10-1 4-7 4-12 14 15 4 8 5 1 5-4 4-1 9-19 9-1 9 11" stroke="#000" stroke-opacity="0.5"/>
<path d="M52 3497l14 5 4 5 5 1 5-3 4-9 4-5 10 1 4 10 4 4 5-3 5 4 13-11 5-8 13-6 9-1 9-6 5 1 8-16 5 1 5-5 4 7 4-2 5-6 5 0 4-4 9-4 5-5 4-3 4 5 5 1 9 6 4 0 5 3 9-2 4 6 10 9 4 7 4-4 5 5 9-3 4 7 5 0 9 15 14-5 4-7 4 1 14 8 4-2 5 2 5-1 4 2 4 4 5-4 9 3 4 0 5 5 5-3 4-1 4 5 5 0 5 5 8-11 10-3 8 5 5-5 9 3 4-3 10 4 4-1 4 6 5 3" stroke="#000" stroke-opacity="0.5"/>
<path d="M52 3503l10 8 4-4 9-1 5-1 8 4 5 0 13-10 5-7 5-4 4 6 4-3 14-25 4-5 5 5 5 2 8-5 10-14 4-1 4-13 5-10 5-5 4-13 4 3 10-3 4 2 4-7 5 2 5 1 4-4 4 0 10-10 4 1 4 6 5-3 5 9 4 4 4-1 5 10 5 4 4 9 9 11 5 2 4-2 9 9 5-2 8 14 5 3 5 8 13 13 5 8 4 2 9-4 5-10 4-4 4 4 14 21 4-3 5-8 5-1 8 1 5 4 5 8 4-3 9 7 5-6 4-1 4 2 5-4 13-5 5 0 9-5 9 4" stroke="#000" stroke-opacity="0.3"/>
<path d="M52 3479l10 0 4 2 9-1 5-3 8-12 5 3 5 0 4-2 4 2 5-5 9 9 4 10 10 2 4 5 4-9 5 2 5-4 4-9 4 0 10-12 4 3 4-4 5 6 13 10 10-12 8-1 14-5 4 2 5-2 5 11 4 0 9 8 5-2 4 4 4-6 10 3 4 0 4 5 5-3 5 3 8 1 5 4 9 4 4-5 5 1 9-6 4 9 5 4 5-2 4 6 9-9 5 8 4-8 4 0 5-2 5-8 4 7 4 3 10 17 4-6 14-30 4 3 9 11 5-2 4 1 4 5 5-1 5 3 8-11 10 9 4 9 4 0 5-2" stroke="#ff0000" stroke-opacity="0.5"/>
<path d="M52 3489l5 4 9-15 4-6 5-2 5 10 8 11 5-1 5-7 4-1 4 5 5-1 9-5 4-5 5-12 5 1 8-22 5 2 5-10 4-5 14-24 4-6 4 0 5-8 5-5 8-27 5-9 9 8 4 0 5 4 5-9 13-4 5 1 4-1 4 5 5 2 5-3 4 1 18 43 4-4 5 2 5 4 4 11 9 11 5 4 4-6 9 16 9 8 4 3 5-2 5-4 4 6 4-1 10 16 8 7 5-7 5 1 8-1 5 3 9-4 4 10 10-1 8-5 10 6 4 6 4-1 5-6 5 7 4-2 14-16 4 2 9 24" stroke="#000" stroke-opacity="0.3"/>
<path d="M52 3489l5 3 9-1 4 7 5-1 5 2 4-1 4-8 5 2 5 7 8 7 14-19 4 4 5 8 5-2 4 5 4-7 5-14 5 3 8-9 5 5 5-2 4 1 4-1 10-15 4-5 4-3 5 0 5 4 4-2 4 6 5-1 5-6 13-8 5 3 4 10 4-4 5 7 9-4 4 3 5-4 5 10 4 2 4-1 5 6 9-7 9 5 13 7 5-2 5 1 4 4 4 7 10 2 8-8 5 9 5-3 4 8 4 4 5-6 5 1 4-7 4 8 14 11 4-10 5-2 5 4 4-6 9-4 5-5 8 11 5 4 18-22 5 4 8-4 5 2" stroke="#ff0000" stroke-opacity="0.4"/>
<path d="M52 3493l10 5 8 12 5 0 5-2 4-6 4-1 5-7 5-2 4 6 4-3 5 8 9 4 4-2 10-8 13-6 5 2 4-13 9-11 5-13 4-6 4-10 18-18 5-12 13-15 10-1 4-4 18 15 9-3 5-5 8 7 5 6 5 13 8 12 5 9 9 5 4 14 10 9 4 11 4-3 10 5 4-2 4 2 5 5 5-3 4 1 4-7 5-2 5 3 8 25 5 1 5 7 4-4 4-11 5 2 9-8 4 4 5-4 5-7 13 6 5 9 8-5 5 4 9-9 4-1 5-8 13 9 5 6" stroke="#000" stroke-opacity="0.5"/>
<path d="M52 3477l5-1 5 0 4 7 4-4 5-1 9-14 4 0 5 4 5 9 4 2 4 5 5-5 5-9 4-4 4-8 5-3 5 5 4 1 4-2 5-7 5-13 4-6 4-10 5-4 9 0 9-11 5-10 4-17 4-4 5 0 5 4 4 10 9-5 5 0 4-7 4-4 5 1 5-5 8 12 5 11 5-2 8 4 5-8 5 11 4 1 4 3 10 18 4 2 4 4 5-4 5 3 4 9 4-2 5 12 5-1 4 0 4 14 5 0 5 8 4 5 14 8 13 0 5-1 4 7 9 0 5 8 4-10 4 2 5-7 5-13 4-4 4-12 14 38 4 7 5-4 9-16 4-3 5-9 5 1 4 9 4 0 5 8" stroke="#8a0000" stroke-opacity="0.8"/>
<path d="M52 3486l10 1 4 9 4-4 14-24 4-3 10 7 13 6 13-19 5-11 5-1 4-10 4-2 5 2 9-18 9-25 9-6 4 1 5-5 5-11 4-5 9-24 5 3 4-2 4 1 5 13 13-8 5-1 5 3 4-1 4 1 5-2 13 16 5 9 5 1 4 7 4 1 5 8 13 33 10-6 4 3 18 15 14 22 4 0 14-14 4 0 4 3 10 22 8 3 10-4 4 0 4 3 5-1 13-23 5 2 13 27 14-18 4-12 5-3 5 0 4 3 9 21" stroke="#ff0000" stroke-opacity="0.5"/>
<path d="M52 3485l14-3 9 3 5 4 8-9 5-7 5-2 13 13 5-2 4-6 4 4 5-1 5-10 4 10 9-16 5 7 4-14 9 3 9-3 4-14 5-3 9-18 4-1 5 2 9 15 4-1 10-11 4-1 4 5 5-2 9 0 4-2 5 9 9 4 4 1 5 3 5-1 13-10 5 4 4 9 9 10 5 2 8 0 10 5 4 5 9 3 5-1 4-2 4 2 5 6 9 4 4-3 5-5 5 4 4 2 4 10 10 2 4 4 9-3 9-12 4 0 10 12 4 10 4-2 10 2 4-9 4-1 5-5 5-2 4 4 9 6" stroke="#000" stroke-opacity="0.4"/>
<path d="M52 3475l5-1 5-2 4-9 9-8 9 7 9-6 5-7 4-1 4 2 5 8 9-2 4 1 5-5 5 3 8-12 5-2 5 1 4 6 9-8 5-17 4-6 4 2 5-7 5 2 8-26 5-2 9 3 9-1 5-6 8-2 5-4 9 7 4 0 5 6 5 0 4-2 4 4 5-2 5 1 8-1 10 26 8 14 10 1 8 16 10 3 4 5 9 5 5 1 4 7 9-2 5 3 4-10 4 3 14 26 4-2 14-23 4 6 5 0 5-3 4 2 4-4 5 2 9 15 4 0 5 0 13-14 5-2 5 4 4-2 9 7" stroke="#000" stroke-opacity="0.6"/>
<path d="M52 3471l5 1 5-2 4-8 4 7 10-6 4 5 4-5 10 1 8-9 5-3 5-1 8-13 5-12 9-15 9 2 5-5 4-1 4-9 10-12 8-16 5-1 5-16 13-34 9-6 9-14 9 6 9-4 9 4 4 12 5 6 9 8 4 2 5 8 13 16 5 10 5 4 8 19 5 3 5 7 8 6 5 2 23 28 4 2 4 9 5 4 5-2 8 13 5 4 13 4 5-5 5 10 4-6 9 6 5-7 4-3 4-8 5 4 13 20 5-7 5-1 4-4 4-8 5 1 5-5 4 6 4 10 5 4" stroke="#000" stroke-opacity="0.4"/>
<path d="M52 3514l5-1 13-19 5-1 5 1 4-2 4 2 5 3 5 10 4 2 4 0 10-7 8 3 5-1 13-14 5 4 5-3 4 4 4-6 10 1 4-7 4 6 5-6 9-3 4-4 10-12 8-4 5 1 9-1 4 4 5 10 9 13 4 1 5-7 9-3 4-5 5 0 5 5 8 3 5 4 5-5 4 0 18 22 4-4 5 8 13 9 5-10 9-7 4 2 5 7 5-9 4 4 9-10 5 2 4-2 4 3 5-1 5 5 13 5 5-3 8-10 10 7 4 8 4 3 5-1 9 4 14-11 4-2 9 5" stroke="#8a0000" stroke-opacity="0.8"/>
<path d="M52 3477l5 6 9 2 4 3 10-6 4 5 4-1 5-6 5 1 4-6 14 6 4-4 14-5 4-4 4 2 14-22 4-16 5 0 5-6 4 3 14-23 4-12 4 4 5-1 5-6 4-2 4-7 5-2 9 9 4-4 5 1 9 4 4 8 10 5 4-2 4 4 5 1 18 24 5 0 4 6 4 0 10 6 8-1 5 7 5 0 4 6 4 10 5 3 5 8 18-5 13 3 9 6 9-6 5-6 4-2 4 7 5-2 5 5 4-2 4-8 5 0 5-5 4 7 4 11 5 6 5 2 13-27 5 0 8 6 5 9" stroke="#ff0000" stroke-opacity="0.3"/>
<path d="M52 3484l5-1 5 5 4 2 4 7 5 2 5-5 4 3 4-7 5 4 5 8 13-4 5-8 4-5 4 0 5-2 5 3 13 3 9-15 4 0 5-9 5-3 4 2 4-4 5 1 5-3 13-23 9 1 4-5 5 0 5 1 4 4 4 8 14 6 4-4 10 1 4-6 4 9 10 9 4 15 4 2 10-3 4-6 9-3 5 1 4 4 4-1 5 6 13 6 5-1 5 4 4-1 4 7 14-6 4-7 5 10 13 12 10-10 8 3 10 10 4-2 4-8 5-5 9 4 4 9 5-1 5-3 8-16 18 9 5-1" stroke="#ff0000" stroke-opacity="0.3"/>
<path d="M52 3507l5 6 5 2 8 10 5-9 5 3 4-4 9-5 5-9 4-1 4-3 10 9 4-1 4-6 5 4 9-15 4 5 5-7 5-1 4 8 9-13 5-1 8-5 10 5 4-10 4 3 10-2 4 2 4-6 5 7 5 3 4-8 4 5 10-18 4 8 4-1 5 4 9-1 4 6 5 2 9 15 4-3 5 6 5 1 8 5 5-8 9-5 14 8 4 1 4-1 5 3 9 1 4-5 5 2 9-6 9-11 5-2 8 9 5 3 5 6 4-3 4 1 10-13 4-1 4 1 10 16 4-2 4 4 14 0 9-11 5 3 4 7 4 0 5 7" stroke="#000" stroke-opacity="0.7"/>
<path d="M52 3475l5-3 5 2 4-1 4 5 5-1 5 3 8-4 5 3 5-3 4 0 4-7 5 2 5-4 4 2 4 10 5-7 5-2 8-18 5 1 9-9 4 1 10-14 4-2 9-16 5-2 8-25 10-2 4 6 4 3 5-7 5 5 4-2 4-4 5 1 9-3 9 10 5 2 4-3 4 3 5 8 5-3 8 7 5-4 5 7 4 13 4 0 5 7 5-2 4 3 4 11 5-1 5 7 4 2 4-6 10 9 13 5 13-6 5 4 13 27 5 0 13-8 5-1 5-6 8-3 10 8 8 4 10-9 4 6 9-2 5 5 4-6 4 1 5 5" stroke="#ff0000" stroke-opacity="0.4"/>
<path d="M52 3471l5-1 5-5 4 8 14-3 4-7 4-4 10 8 4-6 4 3 10-4 4 8 4-4 5-1 18-29 5 2 4-2 14-24 4-6 9-6 5-7 4-18 9-24 13-4 5-2 5 1 4 7 4-2 5 3 5 0 13 9 9 1 9 8 9 17 4-3 5 7 9 5 4 18 5 9 9 11 4 0 5 6 5 1 8 7 5 0 9 10 4 1 5 9 5 5 4-2 4 7 10-10 4 3 4-7 5-2 5 5 8 0 5-3 5-7 4-12 4 0 10 3 4 9 4 1 5 10 5 4 4-7 4-2 5-12 5-3 4 7 9 8" stroke="#000" stroke-opacity="0.6"/>
<path d="M52 3464l5 3 5 0 4-3 4 3 10-5 4 2 9 0 5-4 4-1 4 2 5-4 5 8 8-3 10-13 4-4 4-12 5 0 9-15 4 3 5-4 5-9 4-4 4-13 10-14 4-12 4-2 5-5 9 6 9-11 5 1 4 4 4-3 5 1 9-3 9 6 9 0 14 21 4 11 4 5 5-1 5 4 18 25 4 2 4-2 5 10 5 3 4-1 4 8 10 4 4 6 4 1 5-2 18 25 5-9 8-6 5 3 5 6 8 1 5-13 5-8 8-6 18 29 5 2 5 1 4-5 4-15 5-7 5-1 13 21" stroke="#ff0000" stroke-opacity="0.5"/>
<path d="M52 3497l5-4 9 3 4-4 5 7 5-5 13 1 5 2 13-18 18 11 5-11 8-4 5-1 5 5 13 0 27-6 9-8 5 0 4-2 9-9 5-2 4-7 4 6 5 2 5-2 4 3 4-2 5 4 5-1 4 3 4 1 5-3 5 2 4 0 9-3 5 6 4 1 4 7 10-4 8-5 5 3 5 1 8 15 10 2 4-7 9 1 5 6 4 4 4-8 5 7 9-3 4 7 10-5 4 7 4-1 10 9 13-7 9 6 4 9 5 3 5-4 4-1 4 1 5-4 9 6 4-9 5 3" stroke="#8a0000" stroke-opacity="0.8"/>
<path d="M52 3496l10 1 8 12 5-3 5 4 8-5 5 7 5-5 4 5 4-3 5-8 5 0 4-4 4-1 10-6 8-11 5 1 5-4 8 7 5 1 9-8 4 1 5-9 5-1 4-3 4-7 5-1 9-12 4 0 5-5 5 5 4 0 4-5 5 12 5 0 4 10 4 1 10-9 4 0 4 8 5 1 9-3 9 5 5 11 4 4 4-1 5 5 5 1 4 2 4 0 5 4 5 1 4-3 4 6 10 3 4 0 9-9 5 0 4 6 9-5 9-1 9 10 5-1 4 2 9-8 5 4 4-8 4 5 5 1 5-3 4 5 4-1 5 2 9-3 4 4 10 3 13-2" stroke="#000" stroke-opacity="0.3"/>
<path d="M52 3480l5-3 9-1 4-4 10 3 18-4 4 5 9-5 9-15 4-3 5 6 9-8 4-2 5-14 5 0 4-5 4-8 5-3 5-11 8-12 10-22 8-33 5-7 5 4 4 8 4 1 5-2 9 0 9 5 9-1 4-3 14 23 14 5 4-1 14 24 4 11 9 14 5 5 4 2 4 8 5 1 5-6 4 12 4 2 5 5 5 15 4-8 4 3 5-2 5 0 4 3 4-4 10 3 8 13 5 1 9-8 4 0 5 6 9-8 4-11 5-6 5 6 8 21 10-6 4-8 4-14 5 1 5 3 13 18" stroke="#000" stroke-opacity="0.7"/>
</g></g>
<path d="M18.5,1194.7 L162.4,1194.7" stroke="#b3b3b3" stroke-width="1.2"/>
<clipPath id="t16"><rect x="17.5" y="1194.7" width="145.9" height="16"/></clipPath><g clip-path="url(#t16)">
<text class="k" x="46.1" y="1205.5">1.62</text>
<text class="k" x="74.8" y="1205.5">1.60</text>
<text class="k" x="104.1" y="1205.5">1.58</text>
<text class="k" x="132.8" y="1205.5">1.56</text>
<text class="k" x="161.5" y="1205.5">1.54</text>
</g>
<path d="M46.1,1194.7 L46.1,1197.7 M74.8,1194.7 L74.8,1197.7 M104.1,1194.7 L104.1,1197.7 M132.8,1194.7 L132.8,1197.7 M161.5,1194.7 L161.5,1197.7 M31.8,1194.7 L31.8,1196.7 M46.1,1194.7 L46.1,1196.7 M60.5,1194.7 L60.5,1196.7 M74.8,1194.7 L74.8,1196.7 M89.1,1194.7 L89.1,1196.7 M103.5,1194.7 L103.5,1196.7 M117.8,1194.7 L117.8,1196.7 M132.2,1194.7 L132.2,1196.7 M146.5,1194.7 L146.5,1196.7 M160.9,1194.7 L160.9,1196.7" stroke="#999" stroke-width="0.8"/>
<path class="a" d="M200.8,1091.6V1192H342.8"/>
<text class="y" x="198.6" y="1094">15</text>
<text class="y" x="198.6" y="1127.5">10</text>
<text class="y" x="198.6" y="1160.9">5</text>
<text class="y" x="198.6" y="1194.4">0</text>
<text class="u" x="175.8" y="1141.8" transform="rotate(-90 175.8 1141.8)" dy="2.8">A.U.</text>
<path class="w" d="M236.6,1116.1V1121.5M236.6,1149.9V1155.8M225.1,1116.1h23M225.1,1155.8h23"/>
<rect class="b" x="213.6" y="1121.5" width="46" height="28.4" fill="#888"/>
<path class="m" d="M213.6,1133.7H259.6"/>
<path class="w" d="M307.4,1129.1V1141.1M307.4,1156.5V1167M295.7,1129.1h23.2M295.7,1167h23.2"/>
<rect class="b" x="284.1" y="1141.1" width="46.5" height="15.4" fill="#ff0000"/>
<path class="m" d="M284.1,1150.4H330.6"/>
<path class="t" d="M198.3,1091.6h2.5M198.3,1125.1h2.5M198.3,1158.5h2.5M198.3,1192h2.5M236.6,1192v3M307.4,1192v3"/>
<text class="x" x="236.1" y="1199.5" transform="rotate(-45 236.1 1199.5)" dy="4">HC</text>
<text class="x" x="306.9" y="1199.5" transform="rotate(-45 306.9 1199.5)" dy="4">PR</text>
<path class="st" d="M273.8,1094.1l0,-3.3M273.8,1094.1l3.1,-1M273.8,1094.1l1.9,2.7M273.8,1094.1l-1.9,2.7M273.8,1094.1l-3.1,-1"/>
<text class="n" x="273.8" y="1112.8" textLength="15.4" lengthAdjust="spacingAndGlyphs">ns</text>
<rect x="96" y="1063.9" width="183.5" height="18.5" fill="#fff"/><text x="187.8" y="1077.4" font-size="17.5" font-weight="bold" text-anchor="middle">Lipid: CH<tspan dy="4.5" font-size="12">2</tspan><tspan dy="-4.5">CH</tspan><tspan dy="4.5" font-size="12">2</tspan><tspan dy="-4.5">O VLDL</tspan></text>
<clipPath id="c17"><rect x="371.9" y="1081" width="144.2" height="110"/></clipPath>
<rect x="371.9" y="1081" width="144.2" height="110" fill="none" stroke="#e6e6e6" stroke-width="1"/>
<g clip-path="url(#c17)" fill="none" stroke-linejoin="round"><g transform="scale(0.333333)" stroke-width="3">
<path d="M1113 3538l33-7 27-8 22-9 23-12 18-13 19-16 60-63 23-20 22-15 19-5 7 0 8 3 15 11 15 16 37 47 15 15 12 9 11 6 15 7 15 3 19 2" stroke="#000" stroke-opacity="0.8"/>
<path d="M1113 3539l30-4 26-6 22-8 23-10 19-12 18-14 60-54 23-19 22-12 19-5 8 0 7 2 15 9 15 15 41 48 15 14 12 8 11 7 15 5 15 4 19 2" stroke="#ff0000" stroke-opacity="0.5"/>
<path d="M1113 3540l30-4 26-5 22-8 19-8 19-11 19-13 60-52 22-18 23-11 18-5 15 2 8 3 11 8 15 14 41 44 15 13 12 7 11 6 15 5 15 3 19 1" stroke="#000" stroke-opacity="0.2"/>
<path d="M1113 3539l30-5 26-7 22-10 23-14 19-15 18-19 60-73 23-25 11-9 11-8 19-6 8 0 7 2 15 12 15 19 41 61 15 18 12 10 11 8 15 8 15 4 19 2" stroke="#ff0000" stroke-opacity="0.3"/>
<path d="M1113 3540l30-6 26-8 22-10 19-12 19-16 19-18 60-73 22-25 23-17 11-5 11-3 8 1 7 3 15 12 15 19 41 62 15 19 12 11 11 9 15 8 15 5 19 2" stroke="#ff0000" stroke-opacity="0.6"/>
<path d="M1113 3537l52-10 23-7 18-8 19-10 19-12 60-47 22-16 23-10 19-4 15 2 7 3 11 8 15 14 42 46 26 21 15 8 15 6 15 3 19 1" stroke="#000" stroke-opacity="0.5"/>
<path d="M1113 3537l56-8 22-6 23-7 37-18 79-50 23-9 22-4 15 2 15 7 49 37 26 15 15 5 15 4 38 3" stroke="#000" stroke-opacity="0.4"/>
<path d="M1113 3540l26-3 22-6 23-7 19-9 18-12 23-17 60-56 22-18 15-10 12-5 11-4 11-1 8 1 7 3 15 11 15 17 41 50 27 25 15 10 15 6 15 5 15 2" stroke="#ff0000" stroke-opacity="0.3"/>
<path d="M1113 3538l30-5 26-7 22-8 23-12 19-14 18-17 60-66 19-18 23-15 18-6 8 1 7 2 8 5 11 10 15 20 38 54 15 18 11 10 15 10 15 6 15 3 19 0" stroke="#8a0000" stroke-opacity="0.8"/>
<path d="M1113 3539l33-5 27-6 22-7 23-11 18-11 19-14 60-52 19-15 22-12 12-4 11-2 15 3 15 9 15 14 37 41 15 13 12 8 11 6 15 5 15 4 19 1" stroke="#000" stroke-opacity="0.6"/>
<path d="M1113 3539l30-4 22-4 23-7 18-9 19-11 19-14 60-55 22-19 15-9 12-5 11-4 11-2 15 3 15 9 15 14 41 44 27 20 26 13 34 8" stroke="#000" stroke-opacity="0.5"/>
<path d="M1113 3538l33-6 27-8 22-10 19-11 19-16 18-19 60-74 19-21 11-10 12-8 18-7 8 0 7 2 8 5 11 11 15 20 38 58 15 18 11 11 15 10 15 6 15 3 19 0" stroke="#ff0000" stroke-opacity="0.3"/>
<path d="M1113 3539l30-3 22-5 23-8 22-10 19-12 19-13 63-56 23-17 22-12 12-3 11-2 7 1 8 3 15 11 15 15 37 45 27 24 11 7 15 8 15 5 19 4" stroke="#ff0000" stroke-opacity="0.5"/>
<path d="M1113 3539l52-6 23-5 18-6 38-17 60-35 22-12 27-10 22-4 15 2 15 5 56 36 27 13 26 8 34 6" stroke="#000" stroke-opacity="0.6"/>
<path d="M1113 3540l48-4 42-9 41-16 82-41 27-9 22-3 15 1 19 6 52 32 27 12 26 8 34 6" stroke="#000" stroke-opacity="0.6"/>
<path d="M1113 3539l56-6 22-5 23-7 37-17 79-45 23-9 22-3 15 1 15 6 53 37 26 14 30 8 34 3" stroke="#000" stroke-opacity="0.6"/>
<path d="M1113 3537l33-6 27-8 22-10 23-14 18-16 19-19 60-75 19-20 11-10 11-8 19-6 8 0 7 2 15 12 15 19 41 61 15 17 12 10 11 7 15 6 15 3 19 0" stroke="#ff0000" stroke-opacity="0.7"/>
<path d="M1113 3539l52-7 23-6 22-8 19-9 22-13 79-54 23-10 22-5 15 3 15 7 15 11 41 37 27 17 26 10 34 4" stroke="#000" stroke-opacity="0.5"/>
<path d="M1113 3540l56-4 45-8 37-11 83-32 22-6 19-2 15 2 15 4 56 28 27 10 26 6 34 3" stroke="#000" stroke-opacity="0.6"/>
<path d="M1113 3540l48-2 45-6 42-10 90-29 22-5 23-3 15 2 15 4 82 35 26 8 27 5" stroke="#000" stroke-opacity="0.7"/>
<path d="M1113 3539l26-4 22-6 23-9 19-12 18-15 19-18 60-70 23-23 15-12 11-7 11-5 11-2 8 0 7 2 8 4 11 10 15 18 38 51 15 16 11 11 15 10 15 8 15 5 19 4" stroke="#ff0000" stroke-opacity="0.6"/>
<path d="M1113 3537l33-5 27-7 22-9 19-11 19-15 18-18 57-67 22-23 11-9 12-7 18-5 8 0 7 3 15 12 15 19 42 61 15 18 11 11 15 10 15 6 15 3 19 1" stroke="#ff0000" stroke-opacity="0.3"/>
<path d="M1113 3539l30-4 26-5 22-7 23-11 19-12 18-15 60-58 23-19 22-13 19-4 8 0 7 2 15 10 15 15 41 50 23 20 11 7 15 6 15 3 23 2" stroke="#ff0000" stroke-opacity="0.7"/>
<path d="M1113 3539l33-3 27-3 22-6 23-8 18-9 23-14 60-45 22-14 23-11 19-4 15 2 18 11 57 50 26 18 22 11 27 7" stroke="#000" stroke-opacity="0.3"/>
<path d="M1113 3540l30-4 26-5 22-7 23-10 19-11 18-13 60-52 19-15 23-12 11-4 11-2 15 3 15 10 15 15 38 41 15 14 11 8 15 7 15 5 15 2 19 0" stroke="#ff0000" stroke-opacity="0.3"/>
<path d="M1113 3539l63-8 23-6 22-7 19-9 19-10 71-48 23-10 18-4 15 2 15 6 15 10 42 35 26 15 26 8 38 2" stroke="#000" stroke-opacity="0.4"/>
<path d="M1113 3539l30-4 26-6 22-7 19-10 19-12 19-15 56-56 22-20 23-13 19-4 7 0 8 1 7 4 11 9 15 17 38 46 15 15 11 9 15 8 15 5 15 3 23 1" stroke="#ff0000" stroke-opacity="0.5"/>
<path d="M1113 3540l30-4 26-6 22-8 19-10 19-13 19-16 60-62 18-17 23-15 11-4 11-3 8 1 7 1 15 10 15 16 42 51 15 15 11 8 15 8 15 4 15 2 19-1" stroke="#000" stroke-opacity="0.6"/>
<path d="M1113 3538l33-6 27-8 22-8 23-11 18-13 19-15 60-59 23-19 22-14 19-5 7 0 8 3 15 9 15 16 41 49 23 19 11 6 15 6 15 2 19 0" stroke="#000" stroke-opacity="0.4"/>
<path d="M1113 3539l33-5 27-7 22-10 23-14 18-15 19-20 56-69 23-24 11-10 11-7 12-5 7-1 8 0 7 3 8 5 11 11 15 21 37 58 15 19 12 12 11 9 15 8 15 5 19 2" stroke="#ff0000" stroke-opacity="0.4"/>
</g></g>
<path d="M371.9,1192.5 L516.1,1192.5" stroke="#b3b3b3" stroke-width="1.2"/>
<clipPath id="t17"><rect x="370.9" y="1192.5" width="146.2" height="16"/></clipPath><g clip-path="url(#t17)">
<text class="k" x="380.2" y="1203.5">3.065</text>
<text class="k" x="420" y="1203.5">3.063</text>
<text class="k" x="460.2" y="1203.5">3.061</text>
<text class="k" x="500.5" y="1203.5">3.059</text>
</g>
<path d="M380.2,1192.5 L380.2,1195.5 M420,1192.5 L420,1195.5 M460.2,1192.5 L460.2,1195.5 M500.5,1192.5 L500.5,1195.5 M380.2,1192.5 L380.2,1194.5 M400.1,1192.5 L400.1,1194.5 M420,1192.5 L420,1194.5 M439.9,1192.5 L439.9,1194.5 M459.8,1192.5 L459.8,1194.5 M479.7,1192.5 L479.7,1194.5 M499.6,1192.5 L499.6,1194.5" stroke="#999" stroke-width="0.8"/>
<path class="a" d="M557.6,1091.5V1191H700.3"/>
<text class="y" x="555.4" y="1093.9">15</text>
<text class="y" x="555.4" y="1127.1">10</text>
<text class="y" x="555.4" y="1160.2">5</text>
<text class="y" x="555.4" y="1193.4">0</text>
<text class="u" x="532.6" y="1141.2" transform="rotate(-90 532.6 1141.2)" dy="2.8">A.U.</text>
<path class="w" d="M594.8,1143.9V1150.7M594.8,1159V1163.8M583.4,1143.9h22.8M583.4,1163.8h22.8"/>
<rect class="b" x="572" y="1150.7" width="45.5" height="8.3" fill="#888"/>
<path class="m" d="M572,1155.2H617.5"/>
<path class="w" d="M665,1117.2V1144.4M665,1151.4V1155.7M653.4,1117.2h23.1M653.4,1155.7h23.1"/>
<rect class="b" x="641.9" y="1144.4" width="46.1" height="7" fill="#ff0000"/>
<path class="m" d="M641.9,1147.7H688"/>
<path class="t" d="M555.1,1091.5h2.5M555.1,1124.7h2.5M555.1,1157.8h2.5M555.1,1191h2.5M594.8,1191v3M665,1191v3"/>
<text class="x" x="594.2" y="1198.5" transform="rotate(-45 594.2 1198.5)" dy="4">HC</text>
<text class="x" x="664.5" y="1198.5" transform="rotate(-45 664.5 1198.5)" dy="4">PR</text>
<path class="st" d="M624.5,1094.8l0,-3.3M624.5,1094.8l3.1,-1M624.5,1094.8l1.9,2.7M624.5,1094.8l-1.9,2.7M624.5,1094.8l-3.1,-1M633.1,1094.8l0,-3.3M633.1,1094.8l3.1,-1M633.1,1094.8l1.9,2.7M633.1,1094.8l-1.9,2.7M633.1,1094.8l-3.1,-1"/>
<path class="pl" d="M625.9,1110.9h7M629.4,1107.4v7"/>
<rect x="484.4" y="1063.7" width="88.6" height="18.5" fill="#fff"/><text x="528.7" y="1077.2" font-size="17.5" font-weight="bold" text-anchor="middle">Creatinine</text>
<path d="M372,1178 C410,1165 440,1130 460,1128 C475,1128 485,1150 495,1155 C503,1158 510,1150 516,1145" stroke="#ff8080" stroke-width="1" fill="none" clip-path="url(#c17)"/>
<clipPath id="c18"><rect x="18.5" y="1234.4" width="143.9" height="109.5"/></clipPath>
<rect x="18.5" y="1234.4" width="143.9" height="109.5" fill="none" stroke="#e6e6e6" stroke-width="1"/>
<g clip-path="url(#c18)" fill="none" stroke-linejoin="round"><g transform="scale(0.333333)" stroke-width="3">
<path d="M52 4001l46-5 18-3 19-8 19-13 15-14 19-25 48-80 15-21 15-18 8-6 7-3 11-1 16 6 14 10 46 37 18 12 19 10 23 9 22 7 19 4 19 1" stroke="#000" stroke-opacity="0.2"/>
<path d="M52 4021l27-3 22-7 19-10 19-14 15-15 15-18 49-70 18-24 19-18 15-8 11 0 15 6 15 12 41 37 16 10 14 7 19 5 19 2 68 0" stroke="#000" stroke-opacity="0.6"/>
<path d="M52 4023l23 0 23-4 22-12 19-15 15-18 18-26 49-85 19-28 19-21 7-6 8-3 11 0 15 8 15 14 41 45 15 12 19 12 19 6 22 4 27 1 30-3" stroke="#000" stroke-opacity="0.8"/>
<path d="M52 4020l23-6 23-11 18-14 19-20 15-22 19-34 49-106 18-37 12-16 7-9 7-7 8-3 4 0 7 2 8 6 7 8 12 17 30 55 14 24 16 19 14 14 19 10 19 5 26 3 42 1" stroke="#000" stroke-opacity="0.5"/>
<path d="M52 4011l27-6 22-9 19-12 19-17 15-18 18-27 49-87 15-24 19-23 7-7 8-4 11-1 8 3 7 5 12 10 44 50 16 12 14 8 19 7 19 3 68 1" stroke="#ff0000" stroke-opacity="0.3"/>
<path d="M52 4016l23-5 23-9 18-12 19-16 15-18 19-26 49-83 18-28 19-21 7-6 8-3 11 0 15 8 12 11 41 45 15 12 15 8 15 6 18 3 76 4" stroke="#000" stroke-opacity="0.6"/>
<path d="M52 4017l30-7 27-10 22-12 23-18 15-15 19-23 63-96 15-17 8-6 7-3 11-1 16 5 14 10 42 32 18 10 16 5 14 3 19 0 57-9" stroke="#ff0000" stroke-opacity="0.7"/>
<path d="M52 4006l27-7 19-10 18-15 15-17 15-22 15-27 53-114 15-29 19-27 11-10 7-3 4 0 8 3 7 6 7 9 12 18 41 76 15 20 15 15 19 10 18 4 23 1 53-1" stroke="#000" stroke-opacity="0.2"/>
<path d="M52 4029l19-4 19-8 19-13 15-13 15-17 19-25 52-82 19-27 19-20 11-7 7-4 12 0 7 3 7 5 16 15 44 54 16 13 18 12 23 8 22 3 27 0 30-3" stroke="#000" stroke-opacity="0.4"/>
<path d="M52 4013l30-4 23-5 23-8 18-10 15-10 19-16 68-71 14-11 16-8 11-1 15 1 52 20 26 7 27 2 79 3" stroke="#ff0000" stroke-opacity="0.4"/>
<path d="M52 4024l27-7 22-10 23-14 18-16 16-15 18-22 68-93 18-19 16-9 11-2 15 3 56 30 34 13 48 9 46 3" stroke="#ff0000" stroke-opacity="0.3"/>
<path d="M52 4009l38-5 22-6 19-10 19-15 15-16 15-21 49-82 19-28 14-18 8-6 8-3 11-1 15 5 11 8 45 36 15 9 15 6 19 3 19 1 60-7" stroke="#ff0000" stroke-opacity="0.6"/>
<path d="M52 4005l42-4 18-3 19-8 15-12 15-17 15-21 49-92 15-25 19-23 7-5 8-3 11 2 7 5 8 8 11 15 41 63 16 18 14 11 16 6 18 2 72-13" stroke="#000" stroke-opacity="0.6"/>
<path d="M52 4018l23-6 23-12 18-15 19-22 15-23 19-36 49-109 14-30 19-29 11-10 8-4 4 0 7 2 8 6 7 8 12 18 30 56 14 25 16 19 14 13 19 10 19 4 26 0 42-3" stroke="#000" stroke-opacity="0.3"/>
<path d="M52 4015l23-4 23-8 18-10 19-15 15-16 19-24 49-79 18-27 19-19 7-5 8-3 11 1 8 4 7 7 12 13 44 60 16 15 14 11 19 8 23 6 26 2 38 0" stroke="#000" stroke-opacity="0.6"/>
<path d="M52 4022l23-3 19-5 18-7 19-10 34-25 53-50 18-15 19-12 15-6 11 0 15 4 56 31 16 6 18 6 23 4 26 3 53 1" stroke="#000" stroke-opacity="0.7"/>
<path d="M52 4011l38-5 22-4 19-8 19-11 15-13 15-17 49-66 15-18 15-14 15-8 11-1 15 7 15 13 41 40 15 11 15 8 15 4 19 2 68-2" stroke="#000" stroke-opacity="0.3"/>
<path d="M52 4019l27-2 26-6 23-8 18-11 15-11 19-18 68-78 14-12 16-8 14-1 16 4 56 33 15 6 19 6 37 6 53 1" stroke="#000" stroke-opacity="0.5"/>
<path d="M52 4007l34-2 19-3 19-6 18-11 16-12 14-17 49-67 19-23 15-13 7-4 8-2 11 1 15 9 15 15 41 47 16 13 18 11 19 6 23 2 22-2 38-7" stroke="#000" stroke-opacity="0.4"/>
<path d="M52 4017l83-36 19-10 15-10 15-12 15-15 56-65 15-13 11-5 15-1 15 5 15 9 45 33 19 10 15 5 19 5 18 1 46-4" stroke="#ff0000" stroke-opacity="0.7"/>
<path d="M52 4013l30-6 23-8 19-10 18-17 16-18 18-30 45-87 19-32 15-19 7-7 8-4 11 0 8 3 7 6 15 17 38 51 15 15 15 10 15 6 15 3 79 2" stroke="#ff0000" stroke-opacity="0.5"/>
<path d="M52 4009l38-12 22-8 19-11 19-14 15-15 15-18 60-86 15-16 7-6 8-3 11-1 15 7 15 13 45 48 15 12 19 9 19 5 19 0 22-2 38-8" stroke="#ff0000" stroke-opacity="0.5"/>
<path d="M52 4018l27-5 22-9 19-11 19-16 15-17 18-26 49-81 19-28 19-21 7-6 8-3 11-1 15 6 11 9 41 37 16 9 14 7 16 3 14 2 76 0" stroke="#ff0000" stroke-opacity="0.4"/>
<path d="M52 4020l23-9 23-13 18-16 19-20 15-20 15-24 53-97 14-25 19-23 15-11 12-2 7 3 7 6 16 17 26 37 15 19 11 11 15 10 15 7 15 3 83 6" stroke="#000" stroke-opacity="0.4"/>
<path d="M52 4013l34-7 23-7 19-10 18-14 15-15 19-24 49-75 15-20 15-17 15-10 11-1 15 5 15 11 41 37 15 10 15 6 15 4 19 2 68-4" stroke="#ff0000" stroke-opacity="0.3"/>
<path d="M52 4015l27-1 22-3 19-5 19-9 15-9 18-15 53-50 19-16 15-10 15-7 11-2 15 2 52 18 27 5 22 1 57-4 30 0" stroke="#8a0000" stroke-opacity="0.8"/>
<path d="M52 4011l30 0 23-3 23-7 18-10 15-11 19-18 52-60 19-19 15-12 15-7 15-2 15 2 60 20 38 8 37 3 42 0" stroke="#ff0000" stroke-opacity="0.6"/>
<path d="M52 4007l64-11 19-6 15-7 15-10 15-11 64-60 15-11 15-5 11-1 15 4 56 34 15 7 19 6 19 4 22 2 27 0 30-2" stroke="#000" stroke-opacity="0.5"/>
<path d="M52 4016l27-4 22-6 19-8 19-11 15-12 18-18 49-55 19-20 19-14 15-5 11 0 15 6 56 39 15 7 15 6 19 5 19 2 64 3" stroke="#ff0000" stroke-opacity="0.4"/>
<path d="M52 4019l23-2 23-7 18-11 19-16 15-17 19-26 49-83 18-29 19-21 7-6 8-3 11 0 8 4 7 5 15 15 41 49 16 13 18 11 19 6 23 3 26-1 34-3" stroke="#8a0000" stroke-opacity="0.8"/>
</g></g>
<path d="M18.5,1345.4 L162.4,1345.4" stroke="#b3b3b3" stroke-width="1.2"/>
<clipPath id="t18"><rect x="17.5" y="1345.4" width="145.9" height="16"/></clipPath><g clip-path="url(#t18)">
<text class="k" x="25.1" y="1356.9">0.93</text>
<text class="k" x="48.3" y="1356.9">0.92</text>
<text class="k" x="71.6" y="1356.9">0.91</text>
<text class="k" x="94.8" y="1356.9">0.90</text>
<text class="k" x="118.1" y="1356.9">0.89</text>
<text class="k" x="141.4" y="1356.9">0.88</text>
</g>
<path d="M25.1,1345.4 L25.1,1348.4 M48.3,1345.4 L48.3,1348.4 M71.6,1345.4 L71.6,1348.4 M94.8,1345.4 L94.8,1348.4 M118.1,1345.4 L118.1,1348.4 M141.4,1345.4 L141.4,1348.4 M25.1,1345.4 L25.1,1347.4 M36.7,1345.4 L36.7,1347.4 M48.3,1345.4 L48.3,1347.4 M59.9,1345.4 L59.9,1347.4 M71.5,1345.4 L71.5,1347.4 M83.1,1345.4 L83.1,1347.4 M94.7,1345.4 L94.7,1347.4 M106.3,1345.4 L106.3,1347.4 M117.9,1345.4 L117.9,1347.4 M129.5,1345.4 L129.5,1347.4 M141.1,1345.4 L141.1,1347.4 M152.7,1345.4 L152.7,1347.4" stroke="#999" stroke-width="0.8"/>
<path class="a" d="M202.1,1242.8V1343.4H342.8"/>
<text class="y" x="199.9" y="1245.2">25</text>
<text class="y" x="199.9" y="1265.3">20</text>
<text class="y" x="199.9" y="1285.4">15</text>
<text class="y" x="199.9" y="1305.6">10</text>
<text class="y" x="199.9" y="1325.7">5</text>
<text class="y" x="199.9" y="1345.8">0</text>
<text class="u" x="177.1" y="1293.1" transform="rotate(-90 177.1 1293.1)" dy="2.8">A.U.</text>
<path class="w" d="M237.7,1256.2V1259.9M237.7,1273.6V1285.1M226.3,1256.2h22.7M226.3,1285.1h22.7"/>
<rect class="b" x="215" y="1259.9" width="45.3" height="13.7" fill="#888"/>
<path class="m" d="M215,1266H260.3"/>
<path class="w" d="M307.5,1259.4V1272.4M307.5,1287.6V1298.6M296.1,1259.4h22.7M296.1,1298.6h22.7"/>
<rect class="b" x="284.8" y="1272.4" width="45.3" height="15.2" fill="#ff0000"/>
<path class="m" d="M284.8,1277.3H330.1"/>
<path class="t" d="M199.6,1242.8h2.5M199.6,1262.9h2.5M199.6,1283h2.5M199.6,1303.2h2.5M199.6,1323.3h2.5M199.6,1343.4h2.5M237.7,1343.4v3M307.5,1343.4v3"/>
<text class="x" x="237.2" y="1350.9" transform="rotate(-45 237.2 1350.9)" dy="4">HC</text>
<text class="x" x="307" y="1350.9" transform="rotate(-45 307 1350.9)" dy="4">PR</text>
<path class="st" d="M265.6,1248.4l0,-3.3M265.6,1248.4l3.1,-1M265.6,1248.4l1.9,2.7M265.6,1248.4l-1.9,2.7M265.6,1248.4l-3.1,-1M274.2,1248.4l0,-3.3M274.2,1248.4l3.1,-1M274.2,1248.4l1.9,2.7M274.2,1248.4l-1.9,2.7M274.2,1248.4l-3.1,-1M282.8,1248.4l0,-3.3M282.8,1248.4l3.1,-1M282.8,1248.4l1.9,2.7M282.8,1248.4l-1.9,2.7M282.8,1248.4l-3.1,-1"/>
<path class="pl" d="M270.3,1266.3h7M273.8,1262.8v7"/>
<text x="126.2" y="1233.7" font-size="17.5" font-weight="bold" text-anchor="start">VDL1 (CH<tspan dy="4.5" font-size="12">3</tspan><tspan dy="-4.5">) 3-6</tspan></text><path d="M121.3,1225.1 L93,1228.7" stroke="#000" stroke-width="2.3"/><path d="M87,1229.5 L93.4,1224.4 L94.5,1232.8 Z" fill="#000"/><path d="M24.1,1247.2 L24.1,1238.6 L143.3,1238.6 L143.3,1247.2 M83.8,1238.6 L83.8,1229.5" stroke="#000" stroke-width="2.2" fill="none" stroke-linejoin="round"/>
<path d="M40,1340 C70,1332 100,1320 120,1300 C135,1290 150,1288 163,1290" stroke="#ff8888" stroke-width="1" fill="none" clip-path="url(#c18)"/>
<clipPath id="c19"><rect x="370.6" y="1235.2" width="144.7" height="110"/></clipPath>
<rect x="370.6" y="1235.2" width="144.7" height="110" fill="none" stroke="#e6e6e6" stroke-width="1"/>
<g clip-path="url(#c19)" fill="none" stroke-linejoin="round"><g transform="scale(0.333333)" stroke-width="3">
<path d="M1109 4000l18-2 15-4 12-5 12-10 18-23 30-52 9-12 6-5 9-2 9 4 24 26 6 4 6 1 6-5 6-11 6-18 21-99 6-22 6-13 3-1 3 3 3 6 6 20 24 131 6 24 9 21 6 6 6 0 21-15 9 0 6 4 6 7 24 38 6 7 9 7 9 4 12 3 45 3" stroke="#ff0000" stroke-opacity="0.4"/>
<path d="M1109 4001l33-3 12-3 12-6 18-15 33-38 9-7 6-3 6-1 9 2 30 21 6 1 6-2 9-11 6-13 24-79 6-11 3-3 3 0 6 6 6 16 18 70 9 29 6 14 6 8 3 2 6 2 6-2 18-8 9 1 12 8 24 26 15 9 21 5 42 3" stroke="#000" stroke-opacity="0.7"/>
<path d="M1109 4001l33-5 21-7 18-12 33-31 12-7 9-1 9 3 27 17 6 1 6-2 9-11 6-13 24-88 6-17 6-7 3 0 3 3 6 13 27 106 6 16 9 15 3 2 6 1 21-7 6 0 6 1 9 7 27 30 9 6 9 4 21 2 42-2" stroke="#ff0000" stroke-opacity="0.5"/>
<path d="M1109 3999l36-1 12-3 12-6 18-15 33-40 9-7 6-3 6 0 9 2 30 19 6 1 6-3 6-7 6-13 27-83 6-9 3-1 6 6 6 14 24 92 9 24 6 9 6 4 6 1 21-10 9-1 12 7 27 27 12 7 18 4 45 5" stroke="#000" stroke-opacity="0.4"/>
<path d="M1109 4001l33-4 12-4 12-7 18-15 33-39 9-8 6-2 9-1 9 4 21 17 9 6 6 0 6-3 6-8 6-13 24-81 6-13 3-3 3-1 3 2 6 11 6 19 21 83 6 16 9 15 3 2 6 2 6-2 18-10 9 0 12 9 24 28 15 11 21 5 42 2" stroke="#000" stroke-opacity="0.8"/>
<path d="M1109 4004l33-4 12-3 12-5 18-13 33-32 9-6 6-2 6-1 9 2 30 16 6 0 6-4 6-7 6-13 24-83 6-15 6-7 3 1 3 3 6 13 27 103 6 16 9 13 3 2 6 0 21-10 6-1 6 1 9 6 27 29 12 8 21 6 45 4" stroke="#ff0000" stroke-opacity="0.5"/>
<path d="M1109 4002l33-4 12-4 12-7 18-17 33-45 9-8 6-3 6-1 9 2 24 18 6 3 6 1 6-4 9-16 6-18 24-93 6-12 3-1 3 1 3 4 6 16 27 120 6 18 9 16 3 2 6 1 21-9 9 0 9 5 27 32 15 11 21 6 45 4" stroke="#000" stroke-opacity="0.7"/>
<path d="M1109 3997l36-3 21-6 18-11 30-27 15-8 9 0 9 2 27 15 6 1 6-1 6-6 6-9 9-22 18-54 6-11 6-4 6 4 6 13 24 78 9 19 6 7 9 3 6-2 18-9 9-1 9 5 27 29 15 11 21 6 45 5" stroke="#000" stroke-opacity="0.5"/>
<path d="M1109 4000l33-5 12-4 9-5 18-16 33-40 9-7 6-3 6-1 9 3 30 23 6 1 6-4 6-8 6-14 24-93 6-17 6-7 3 1 3 3 6 15 27 119 6 18 9 15 3 3 6 1 6-2 15-8 6-2 6 1 9 6 24 25 15 10 18 5 51 3" stroke="#ff0000" stroke-opacity="0.4"/>
<path d="M1109 4006l30-7 12-5 12-7 18-17 30-36 9-9 6-3 6-1 9 1 9 5 24 19 6 2 6-2 6-6 6-12 24-78 6-14 6-6 3 0 3 3 6 13 24 91 9 24 6 9 6 5 6 0 21-13 6-2 6 1 12 9 24 28 12 9 21 7 48 7" stroke="#000" stroke-opacity="0.6"/>
<path d="M1109 3998l33-1 12-3 9-4 18-14 33-36 9-6 6-3 6-1 9 3 27 17 6 1 6-2 6-5 6-10 9-25 18-59 6-13 3-3 3-2 3 2 3 3 6 14 24 89 9 23 6 8 6 5 6 0 21-8 9 0 12 9 27 31 9 6 9 4 21 3 42-1" stroke="#000" stroke-opacity="0.3"/>
<path d="M1109 4001l18-1 15-3 12-4 12-8 18-18 30-40 9-9 6-4 6-1 9 2 30 21 6 1 6-3 9-14 6-17 24-98 6-15 3-3 3 0 3 2 6 14 27 124 6 20 9 18 6 4 6 0 21-11 9 0 6 4 6 6 24 29 15 11 21 5 45 2" stroke="#000" stroke-opacity="0.4"/>
<path d="M1109 3999l18-1 15-3 12-5 9-5 18-17 30-37 9-8 6-3 6-1 9 2 30 21 6 2 6-2 9-12 6-15 24-84 6-12 3-2 3 0 6 8 6 17 18 75 9 31 6 14 6 8 3 2 6 1 6-2 15-9 6-2 6 1 12 10 24 29 15 10 21 6 48 4" stroke="#000" stroke-opacity="0.4"/>
<path d="M1109 4003l30-3 12-3 12-5 18-14 33-33 9-6 6-2 6-1 9 2 27 16 6 1 6-2 9-10 6-14 24-80 6-13 3-4 3-1 3 1 3 4 6 14 27 104 6 16 9 13 9 3 21-7 9 0 12 6 27 22 12 6 18 3 51 4" stroke="#ff0000" stroke-opacity="0.5"/>
<path d="M1109 4002l33-3 12-4 9-5 18-15 33-40 9-7 6-3 6-2 9 2 30 18 6 1 6-2 6-6 6-11 9-25 15-49 6-14 6-6 3 0 3 3 6 12 27 100 6 16 9 13 3 2 6 1 21-11 9-1 6 2 6 5 24 27 15 11 18 4 51 2" stroke="#000" stroke-opacity="0.7"/>
<path d="M1109 3998l21-1 15-2 12-4 9-5 18-17 33-47 9-9 6-3 6-2 9 3 30 23 6 1 6-2 9-15 6-18 24-100 6-15 3-3 3 0 6 9 6 20 18 89 9 38 6 17 6 11 3 3 6 2 6-1 18-7 9 1 9 7 27 33 9 7 9 4 18 3 42-1" stroke="#ff0000" stroke-opacity="0.7"/>
<path d="M1109 4004l18-3 15-4 12-6 9-7 18-20 33-52 9-10 6-4 6-1 9 2 9 7 21 21 6 2 6-3 9-15 6-19 21-97 6-22 6-11 3-1 3 3 6 15 6 26 21 111 6 22 9 20 3 3 6 2 6-2 18-13 9 0 6 4 6 8 24 36 15 14 9 4 15 3 42 3" stroke="#ff0000" stroke-opacity="0.3"/>
<path d="M1109 3999l18-2 15-3 12-5 12-9 18-22 30-49 9-11 6-4 9-2 9 4 24 25 6 4 6 1 6-5 6-11 6-18 21-98 6-22 6-12 3-1 3 2 3 6 6 20 24 126 6 23 9 21 6 5 6 0 21-14 9-1 6 5 6 6 24 37 15 14 9 4 12 3 45 5" stroke="#ff0000" stroke-opacity="0.4"/>
<path d="M1109 3995l33-5 12-5 12-9 18-22 30-49 9-11 6-4 6-1 9 2 9 8 21 21 6 2 6-2 9-16 6-20 21-105 6-24 6-12 3-1 3 3 6 16 6 28 21 121 6 24 9 22 6 5 6 0 21-14 9 0 6 4 6 7 24 37 15 14 9 4 12 3 45 6" stroke="#ff0000" stroke-opacity="0.3"/>
<path d="M1109 4000l18-2 15-4 12-5 9-6 18-19 33-48 9-9 6-4 6-1 9 3 30 27 6 2 6-3 9-13 6-17 24-96 6-14 3-2 3 0 6 9 6 20 18 86 9 36 6 16 6 9 3 3 6 2 6-2 18-10 9 1 12 10 24 30 15 12 21 6 45 6" stroke="#000" stroke-opacity="0.6"/>
<path d="M1109 4002l18-2 15-3 12-5 12-8 18-20 33-53 9-10 6-4 6-2 9 2 9 7 21 20 6 2 6-2 9-15 6-18 24-107 6-16 3-3 3-1 3 3 6 15 27 135 6 22 9 20 3 3 6 3 6-2 18-11 9 1 6 4 6 7 24 35 15 12 9 4 12 3 42 4" stroke="#ff0000" stroke-opacity="0.3"/>
<path d="M1109 3998l33-5 12-5 12-7 18-17 30-39 9-8 6-3 6-1 9 2 9 6 21 19 6 1 6-1 9-13 6-16 21-83 6-20 6-10 3-1 3 2 6 13 6 22 21 97 6 20 9 17 6 4 6-1 21-15 9-1 6 3 6 6 24 30 15 12 18 4 48 5" stroke="#ff0000" stroke-opacity="0.6"/>
<path d="M1109 4001l33-4 24-7 18-10 30-21 15-6 15 1 30 13 6 0 6-2 9-8 6-11 24-60 6-9 6-3 3 2 6 8 27 75 6 12 9 11 6 3 6-1 18-6 9-1 12 6 24 22 15 9 18 3 51-1" stroke="#000" stroke-opacity="0.8"/>
<path d="M1109 4000l18 0 15-2 12-4 12-7 18-18 30-41 9-9 6-3 6-1 9 2 30 24 6 1 6-2 9-13 6-16 21-85 6-19 6-10 3-1 3 3 6 13 6 22 21 97 6 20 9 17 6 4 6 1 21-11 9 0 12 8 24 28 15 10 21 4 45 2" stroke="#ff0000" stroke-opacity="0.3"/>
<path d="M1109 4000l33-2 21-6 18-12 33-31 15-8 6-1 9 2 30 16 6 1 6-2 6-5 6-9 24-60 6-11 6-4 6 3 6 10 27 79 6 12 9 9 9 2 21-10 9 0 12 6 24 24 15 9 21 4 48 3" stroke="#000" stroke-opacity="0.7"/>
<path d="M1109 3997l33-3 12-4 12-7 9-9 9-10 33-52 9-10 6-4 9-1 9 4 24 24 6 4 6 1 6-4 6-9 6-16 24-95 6-14 3-3 3 0 6 8 6 19 18 86 9 36 6 17 6 9 3 3 6 2 6-3 18-11 9 0 9 6 24 33 15 13 9 5 12 2 45 5" stroke="#000" stroke-opacity="0.3"/>
<path d="M1109 4002l18-1 15-2 12-4 9-5 18-16 33-42 9-8 6-4 6-1 9 2 30 20 6 1 6-3 6-8 6-14 24-90 6-17 6-7 3 0 3 3 6 14 27 114 6 18 9 16 3 2 6 2 6-2 15-8 9-1 6 3 6 5 27 33 15 10 21 6 45 3" stroke="#000" stroke-opacity="0.8"/>
<path d="M1109 4001l33-3 12-3 12-5 18-12 33-32 9-6 6-2 6 0 9 2 30 18 6 0 6-3 9-14 6-16 24-86 6-13 3-2 3 0 6 8 6 17 18 76 9 31 6 13 6 9 3 2 6 1 6-1 18-10 9 0 9 4 24 22 15 10 18 5 48 6" stroke="#ff0000" stroke-opacity="0.7"/>
<path d="M1109 3998l33-5 12-4 9-5 18-18 33-44 9-8 6-3 6-1 9 3 30 25 6 1 6-3 9-15 6-18 24-94 6-12 3-2 3 1 3 4 6 16 27 119 6 18 9 15 3 2 6 1 21-12 9 0 9 5 27 35 15 12 9 4 12 3 48 5" stroke="#8a0000" stroke-opacity="0.8"/>
<path d="M1109 4001l33-3 12-3 12-5 18-13 33-35 9-6 6-3 6-1 9 2 30 19 6 1 6-1 6-6 6-10 24-67 6-12 6-6 3 1 3 2 6 11 27 88 6 14 9 11 9 2 21-9 9-1 6 2 6 4 24 24 15 10 21 4 45 3" stroke="#000" stroke-opacity="0.2"/>
</g></g>
<path d="M370.6,1346.7 L515.3,1346.7" stroke="#b3b3b3" stroke-width="1.2"/>
<clipPath id="t19"><rect x="369.6" y="1346.7" width="146.7" height="16"/></clipPath><g clip-path="url(#t19)">
<text class="k" x="384.4" y="1356.7">3.270</text>
<text class="k" x="409.1" y="1356.7">3.268</text>
<text class="k" x="433" y="1356.7">3.266</text>
<text class="k" x="457" y="1356.7">3.264</text>
<text class="k" x="480.8" y="1356.7">3.262</text>
<text class="k" x="504.8" y="1356.7">3.260</text>
</g>
<path d="M384.4,1346.7 L384.4,1349.7 M409.1,1346.7 L409.1,1349.7 M433,1346.7 L433,1349.7 M457,1346.7 L457,1349.7 M480.8,1346.7 L480.8,1349.7 M504.8,1346.7 L504.8,1349.7 M372,1346.7 L372,1348.7 M384.4,1346.7 L384.4,1348.7 M396.8,1346.7 L396.8,1348.7 M409.1,1346.7 L409.1,1348.7 M421.5,1346.7 L421.5,1348.7 M433.8,1346.7 L433.8,1348.7 M446.2,1346.7 L446.2,1348.7 M458.5,1346.7 L458.5,1348.7 M470.9,1346.7 L470.9,1348.7 M483.2,1346.7 L483.2,1348.7 M495.6,1346.7 L495.6,1348.7 M507.9,1346.7 L507.9,1348.7" stroke="#999" stroke-width="0.8"/>
<path class="a" d="M557.6,1242.7V1344.7H702.3"/>
<text class="y" x="555.4" y="1245.1">5</text>
<text class="y" x="555.4" y="1265.5">4</text>
<text class="y" x="555.4" y="1285.9">3</text>
<text class="y" x="555.4" y="1306.3">2</text>
<text class="y" x="555.4" y="1326.7">1</text>
<text class="y" x="555.4" y="1347.1">0</text>
<text class="u" x="532.6" y="1293.7" transform="rotate(-90 532.6 1293.7)" dy="2.8">A.U.</text>
<path class="w" d="M594.8,1268.4V1282.8M594.8,1297.9V1303.6M583.1,1268.4h23.2M583.1,1303.6h23.2"/>
<rect class="b" x="571.5" y="1282.8" width="46.5" height="15.1" fill="#888"/>
<path class="m" d="M571.5,1293.6H618"/>
<path class="w" d="M666.5,1251.5V1269.2M666.5,1281.5V1292.8M654.9,1251.5h23.3M654.9,1292.8h23.3"/>
<rect class="b" x="643.2" y="1269.2" width="46.6" height="12.3" fill="#ff0000"/>
<path class="m" d="M643.2,1274H689.8"/>
<path class="t" d="M555.1,1242.7h2.5M555.1,1263.1h2.5M555.1,1283.5h2.5M555.1,1303.9h2.5M555.1,1324.3h2.5M555.1,1344.7h2.5M594.8,1344.7v3M666.5,1344.7v3"/>
<text class="x" x="594.2" y="1352.2" transform="rotate(-45 594.2 1352.2)" dy="4">HC</text>
<text class="x" x="666" y="1352.2" transform="rotate(-45 666 1352.2)" dy="4">PR</text>
<path class="st" d="M624.5,1248.8l0,-3.3M624.5,1248.8l3.1,-1M624.5,1248.8l1.9,2.7M624.5,1248.8l-1.9,2.7M624.5,1248.8l-3.1,-1M633.1,1248.8l0,-3.3M633.1,1248.8l3.1,-1M633.1,1248.8l1.9,2.7M633.1,1248.8l-1.9,2.7M633.1,1248.8l-3.1,-1"/>
<path class="pl" d="M625.9,1266.4h7M629.4,1262.9v7"/>
<rect x="476.3" y="1219.7" width="106" height="18.5" fill="#fff"/><text x="529.3" y="1233.2" font-size="17.5" font-weight="bold" text-anchor="middle">Myo-inositol</text>
<path d="M371,1332 C385,1320 395,1270 405,1268 C415,1266 420,1290 430,1295 C440,1298 442,1245 446,1243 C452,1245 456,1300 470,1318 C490,1330 505,1334 515,1336" stroke="#ff7070" stroke-width="1" fill="none" clip-path="url(#c19)"/>
<clipPath id="c20"><rect x="18.5" y="1392.9" width="143.9" height="110.4"/></clipPath>
<rect x="18.5" y="1392.9" width="143.9" height="110.4" fill="none" stroke="#e6e6e6" stroke-width="1"/>
<g clip-path="url(#c20)" fill="none" stroke-linejoin="round"><g transform="scale(0.333333)" stroke-width="3">
<path d="M52 4442l23 7 19 2 15 0 15-4 11-5 15-9 56-48 15-8 15-1 12 2 14 9 57 51 15 11 15 8 15 5 15 3 60 7 49 9" stroke="#ff0000" stroke-opacity="0.5"/>
<path d="M52 4453l83-4 26-3 53-10 26-1 15 2 19 5 75 29 41 12 38 4 60-2" stroke="#ff0000" stroke-opacity="0.7"/>
<path d="M52 4467l42 2 34-2 26-5 52-15 26-2 16 2 14 4 64 31 34 10 38 4 63-2 27 1" stroke="#000" stroke-opacity="0.5"/>
<path d="M52 4439l49 0 30-5 27-11 52-33 15-5 11-1 12 2 14 7 16 10 48 41 19 11 19 9 22 6 26 5 27 1 49 1" stroke="#ff0000" stroke-opacity="0.5"/>
<path d="M52 4451l49 3 15-1 15-3 11-4 16-8 41-31 15-9 15-6 11-1 11 3 15 7 56 46 16 10 18 9 19 6 23 5 90 11" stroke="#000" stroke-opacity="0.6"/>
<path d="M52 4446l57 3 30-3 26-9 49-26 15-4 11-1 11 2 15 7 53 35 15 8 15 6 26 6 67 9 46 10" stroke="#000" stroke-opacity="0.2"/>
<path d="M52 4460l49 11 15 2 15-1 27-5 52-20 15-2 11 0 12 2 14 5 57 32 15 6 15 4 30 3 71-4 38 3" stroke="#000" stroke-opacity="0.2"/>
<path d="M52 4433l23 3 19 1 18-4 16-8 11-8 15-15 41-53 11-13 15-12 8-2 7-1 12 4 14 13 16 19 30 45 14 20 16 16 18 14 19 7 19 4 94 4" stroke="#000" stroke-opacity="0.6"/>
<path d="M52 4446l27 3 19 0 18-2 15-4 27-13 52-37 15-6 15-1 11 2 15 8 56 45 16 10 18 9 19 6 26 6 87 10" stroke="#ff0000" stroke-opacity="0.5"/>
<path d="M52 4435l30 5 19 2 19-1 15-4 11-5 15-10 41-35 16-11 14-7 12 0 11 2 15 8 15 13 45 42 19 14 19 10 26 10 26 5 34 4 34 0" stroke="#8a0000" stroke-opacity="0.8"/>
<path d="M52 4432l49 4 15-2 15-3 11-5 16-9 41-35 15-11 15-7 11-1 11 3 15 9 15 13 45 45 19 14 19 11 22 7 26 5 30 2 46 0" stroke="#000" stroke-opacity="0.2"/>
<path d="M52 4439l19 3 15-1 19-3 15-6 26-17 45-42 15-12 15-7 15-1 12 3 14 10 53 49 15 11 15 9 26 11 68 24 26 7 23 2" stroke="#000" stroke-opacity="0.5"/>
<path d="M52 4435l53 5 15-1 15-3 11-5 15-9 38-29 15-10 15-5 11-1 11 3 15 8 64 53 19 13 22 11 27 9 30 6 30 2 30-1" stroke="#ff0000" stroke-opacity="0.5"/>
<path d="M52 4450l46 5 30-1 26-7 56-24 15-3 11-1 12 2 14 5 60 36 19 9 15 5 34 5 98 3" stroke="#ff0000" stroke-opacity="0.5"/>
<path d="M52 4447l42 0 18-3 16-5 26-15 37-32 15-11 15-6 11-2 12 3 15 8 15 13 45 44 15 11 18 10 19 6 19 4 98 12" stroke="#000" stroke-opacity="0.6"/>
<path d="M52 4446l46 0 14-3 16-4 11-5 15-9 41-34 15-11 15-6 11-1 12 2 14 8 16 11 44 41 19 13 19 9 26 10 30 7 38 7 34 3" stroke="#000" stroke-opacity="0.8"/>
<path d="M52 4449l42 3 18-1 16-4 26-11 56-34 15-5 15-1 11 3 15 7 56 42 16 9 14 7 19 6 23 4 94 13" stroke="#000" stroke-opacity="0.4"/>
<path d="M52 4432l27 1 19-1 14-3 16-6 11-8 15-12 41-47 15-15 15-8 11-2 12 4 14 11 16 16 41 51 15 14 18 13 19 8 23 6 94 12" stroke="#000" stroke-opacity="0.3"/>
<path d="M52 4448l83-7 23-4 48-12 26-1 27 6 56 24 34 11 90 17 49 5" stroke="#ff0000" stroke-opacity="0.3"/>
<path d="M52 4457l27-1 30-3 30-5 56-14 15-2 15 0 26 6 57 24 26 8 22 3 72 4 60 10" stroke="#ff0000" stroke-opacity="0.6"/>
<path d="M52 4457l46 2 30-3 26-7 52-23 15-3 11 0 12 1 15 6 60 37 15 7 18 7 34 6 102 8" stroke="#000" stroke-opacity="0.7"/>
<path d="M52 4442l42 0 18-2 16-4 26-12 56-34 15-5 11-1 12 2 14 6 60 44 16 9 14 6 30 7 64 7 42 6" stroke="#ff0000" stroke-opacity="0.5"/>
<path d="M52 4438l64 2 26-2 27-10 49-25 14-4 12 0 11 2 15 7 15 9 53 40 18 10 19 8 23 5 22 3 68-3" stroke="#ff0000" stroke-opacity="0.7"/>
<path d="M52 4462l53 10 30 1 26-4 53-16 15-2 11 0 11 2 15 4 53 25 30 9 26 3 67 3 46 6" stroke="#000" stroke-opacity="0.3"/>
<path d="M52 4428l27 3 19 0 14-2 16-5 14-10 16-13 37-44 15-15 15-9 7-2 8 0 11 4 15 12 56 66 16 14 18 13 23 11 26 7 41 8 42 5" stroke="#000" stroke-opacity="0.4"/>
<path d="M52 4448l46-1 30-5 26-10 52-27 15-4 15 0 12 2 14 7 60 42 16 8 18 8 23 7 30 5 79 7" stroke="#ff0000" stroke-opacity="0.7"/>
<path d="M52 4453l76 2 26-2 56-8 26 0 26 4 53 16 30 7 143 15" stroke="#ff0000" stroke-opacity="0.6"/>
<path d="M52 4463l46-1 30-6 26-12 52-33 15-5 15-2 12 2 14 7 16 10 48 37 15 8 19 9 22 7 27 5 79 12" stroke="#000" stroke-opacity="0.3"/>
<path d="M52 4458l38-3 30-7 26-12 56-34 16-4 11-1 11 2 15 8 15 11 45 39 15 10 19 9 19 5 18 2 102 4" stroke="#000" stroke-opacity="0.3"/>
<path d="M52 4437l38-1 30-7 26-12 42-28 14-9 16-5 11 0 11 3 15 8 56 51 15 10 15 7 23 6 64 5 60 11" stroke="#ff0000" stroke-opacity="0.6"/>
</g></g>
<path d="M18.5,1504.8 L162.4,1504.8" stroke="#b3b3b3" stroke-width="1.2"/>
<clipPath id="t20"><rect x="17.5" y="1504.8" width="145.9" height="16"/></clipPath><g clip-path="url(#t20)">
<text class="k" x="40" y="1515">3.058</text>
<text class="k" x="79.7" y="1515">3.056</text>
<text class="k" x="120" y="1515">3.054</text>
<text class="k" x="160" y="1515">3.052</text>
</g>
<path d="M40,1504.8 L40,1507.8 M79.7,1504.8 L79.7,1507.8 M120,1504.8 L120,1507.8 M160,1504.8 L160,1507.8 M20.1,1504.8 L20.1,1506.8 M40,1504.8 L40,1506.8 M59.9,1504.8 L59.9,1506.8 M79.7,1504.8 L79.7,1506.8 M99.6,1504.8 L99.6,1506.8 M119.4,1504.8 L119.4,1506.8 M139.2,1504.8 L139.2,1506.8 M159.1,1504.8 L159.1,1506.8" stroke="#999" stroke-width="0.8"/>
<path class="a" d="M199.6,1401.7V1502H342.3"/>
<text class="y" x="197.4" y="1404.1">15</text>
<text class="y" x="197.4" y="1437.5">10</text>
<text class="y" x="197.4" y="1471">5</text>
<text class="y" x="197.4" y="1504.4">0</text>
<text class="u" x="174.6" y="1451.8" transform="rotate(-90 174.6 1451.8)" dy="2.8">A.U.</text>
<path class="w" d="M235.5,1454.8V1460.9M235.5,1470V1474.9M224.1,1454.8h22.9M224.1,1474.9h22.9"/>
<rect class="b" x="212.6" y="1460.9" width="45.8" height="9.1" fill="#888"/>
<path class="m" d="M212.6,1465.8H258.4"/>
<path class="w" d="M306.4,1427.9V1454.8M306.4,1462.1V1466.3M294.8,1427.9h23M294.8,1466.3h23"/>
<rect class="b" x="283.3" y="1454.8" width="46.1" height="7.3" fill="#ff0000"/>
<path class="m" d="M283.3,1458.5H329.4"/>
<path class="t" d="M197.1,1401.7h2.5M197.1,1435.1h2.5M197.1,1468.6h2.5M197.1,1502h2.5M235.5,1502v3M306.4,1502v3"/>
<text class="x" x="235" y="1509.5" transform="rotate(-45 235 1509.5)" dy="4">HC</text>
<text class="x" x="305.9" y="1509.5" transform="rotate(-45 305.9 1509.5)" dy="4">PR</text>
<path class="st" d="M270,1406.6l0,-3.3M270,1406.6l3.1,-1M270,1406.6l1.9,2.7M270,1406.6l-1.9,2.7M270,1406.6l-3.1,-1M278.6,1406.6l0,-3.3M278.6,1406.6l3.1,-1M278.6,1406.6l1.9,2.7M278.6,1406.6l-1.9,2.7M278.6,1406.6l-3.1,-1"/>
<path class="pl" d="M270.8,1419.8h7M274.3,1416.3v7"/>
<rect x="151" y="1375.9" width="73" height="18.5" fill="#fff"/><text x="187.5" y="1389.4" font-size="17.5" font-weight="bold" text-anchor="middle">Creatine</text>
<g fill="none" stroke-linejoin="round" clip-path="url(#c20)"><path d="M18,1456 C40,1448 55,1405 83,1403 C110,1403 125,1470 163,1486" stroke="#ff8080" stroke-width="1"/><path d="M18,1475 C45,1470 58,1467 68,1450 C75,1435 80,1428 84,1428 C90,1428 95,1450 105,1475 C115,1490 140,1494 163,1495" stroke="#e00000" stroke-width="2"/><path d="M60,1480 C75,1470 80,1452 90,1452 C98,1452 105,1470 118,1478" stroke="#ff9090" stroke-width="1"/></g>
<clipPath id="c21"><rect x="370.6" y="1393.2" width="144.7" height="109.5"/></clipPath>
<rect x="370.6" y="1393.2" width="144.7" height="109.5" fill="none" stroke="#e6e6e6" stroke-width="1"/>
<g clip-path="url(#c21)" fill="none" stroke-linejoin="round"><g transform="scale(0.333333)" stroke-width="3">
<path d="M1109 4477l11-2 3-3 4-5 12-45 4-7 2 1 3 7 8 28 5 15 5 6 6 1 5-4 4-5 12-34 2-2 4 2 9 19 3 1 4-7 7-24 4-7 2-2 7 2 2-1 7-14 3-4 2 1 4 10 11 44 3 6 2 0 4-17 1-23 6-122 2-28 1-3 8 145 1 24 4 18 2 1 3-6 11-44 4-10 2-1 3 5 7 26 4 8 2 1 2-2 9-21 3-2 4 5 7 20 4 6 3-2 9-18 4-2 3 6 9 24 4 3 2-2 3-8 9-36 4-5 4 7 12 54 4 8 3 4 6 2 5-2 6-8 9-18 3-2 4 4 12 27 6 4 5-1 6-8 10-35 4-6 2 0 3 7 8 27 5 14 7 7 11 2" stroke="#ff0000" stroke-opacity="0.5"/>
<path d="M1109 4479l12-4 8-9 5-17 9-39 4-5 3 4 13 46 5 7 6 1 5-3 4-6 10-32 4-7 2-1 2 1 9 21 3 3 4-4 11-33 3-3 7 3 11-19 2 1 4 8 12 55 4 5 2-2 3-27 7-163 2-17 2 11 7 161 2 20 2 9 2 3 1-2 4-8 11-49 3-8 2 0 2 2 9 32 4 6 3-4 7-20 4-6 4 3 9 25 3 4 4-4 7-18 4-4 3 4 9 26 4 5 2 0 3-7 9-38 4-8 2 1 3 11 11 53 4 10 5 8 5 2 6-2 3-5 9-18 4-3 2 1 3 6 13 30 4 3 5 1 4-4 3-7 9-33 4-8 2-1 3 5 9 34 6 13 5 5 9 0" stroke="#ff0000" stroke-opacity="0.3"/>
<path d="M1109 4479l11-2 3-2 4-5 5-17 9-40 4-6 3 5 9 38 6 15 5 5 4 0 3-2 8-13 12-41 2-1 2 0 9 19 3 3 4-5 11-40 3-4 6 1 3-3 9-20 2 0 4 8 12 57 4 5 2-2 3-27 9-197 2 10 7 174 2 23 4 15 2-1 3-8 11-50 4-9 1 0 2 3 9 37 4 8 2 0 1-2 9-23 2-1 2 1 11 32 3 5 4-3 9-20 2-1 2 1 10 32 4 6 2 0 3-8 9-41 4-9 2 0 3 10 11 56 4 10 5 7 6 1 5-4 4-5 9-23 3-4 2 0 4 5 12 31 4 3 5 0 4-4 3-8 11-42 4-5 3 6 9 37 6 15 5 7 11 3" stroke="#ff0000" stroke-opacity="0.6"/>
<path d="M1109 4483l12-3 6-5 5-11 9-28 4-4 2 0 3 7 11 28 5 6 6 1 5-2 4-4 14-28 4 0 9 14 3 3 2-1 13-25 3-2 6 1 3 0 9-12 2 0 4 5 12 39 4 4 2-1 3-16 2-20 7-110 2 5 2 23 5 91 2 15 4 10 2 0 3-6 11-34 4-6 1-1 2 2 9 22 4 4 3-1 9-17 4-2 4 4 7 15 3 3 4-3 9-15 4 0 3 5 7 15 4 4 2-1 3-4 9-27 4-7 2 1 3 6 11 38 4 7 5 5 6 2 5-1 5-6 8-11 3-2 2 0 4 4 12 22 4 2 5 1 4-2 3-5 11-27 4-4 3 4 9 23 6 10 5 4 11 1" stroke="#000" stroke-opacity="0.4"/>
<path d="M1109 4477l14 0 7-5 6-13 9-33 3-7 2 0 4 8 7 28 5 14 6 6 7 0 4-3 3-5 13-34 2-2 3 2 9 18 4 1 3-7 8-23 3-8 2-1 7 1 2-1 7-14 4-3 2 1 3 10 11 43 4 6 1 0 4-17 2-23 5-121 2-27 2-2 7 144 2 23 3 18 2 0 4-6 11-43 3-9 2-2 4 6 7 25 3 8 2 0 2-1 9-21 4-3 3 5 7 20 4 5 4-1 9-19 3-1 4 5 9 24 3 3 6-11 9-35 3-4 4 7 13 53 3 8 4 4 5 1 6-2 5-7 9-18 4-1 3 3 13 28 5 4 6-1 5-8 11-35 3-6 2 1 4 7 7 26 5 14 6 5 7 2" stroke="#000" stroke-opacity="0.3"/>
<path d="M1109 4478l12-4 6-5 5-13 9-32 4-5 2 1 3 7 11 35 5 7 8 2 5-4 4-5 12-28 4 0 9 17 3 4 2-1 4-6 9-24 3-3 6 3 3-2 9-14 2 0 4 6 12 45 4 5 2-2 3-19 2-24 7-129 2 5 2 27 5 106 2 18 4 12 2-1 3-7 11-40 4-8 1 0 2 1 9 27 4 5 3-2 9-19 4-1 4 5 7 18 3 4 4-3 9-16 4-1 3 6 7 19 4 5 2 0 3-5 9-32 4-7 2 1 3 7 13 49 4 7 3 3 6 1 5-2 5-7 8-14 3-3 2 0 4 4 12 23 4 3 5 0 4-4 3-6 11-33 4-4 3 3 9 27 6 12 5 4 11 2" stroke="#000" stroke-opacity="0.8"/>
<path d="M1109 4487l12-3 6-3 5-8 9-18 4-3 2 0 3 4 11 18 5 3 6 1 9-4 14-19 4-1 11 11 3 0 13-17 3-1 9 1 9-7 2 0 4 4 12 27 4 4 2-1 3-9 2-13 7-72 2 2 2 15 5 62 2 11 4 8 2 0 3-3 11-20 4-4 1 0 15 22 3 0 9-10 4-1 13 15 5 0 9-10 4-1 10 13 4 2 5-3 9-20 4-5 2 0 3 4 13 25 4 2 5 2 9-3 13-14 5-3 4 1 12 12 6 1 5-2 5-5 11-19 4-3 3 1 9 15 6 6 5 3 11 0" stroke="#000" stroke-opacity="0.4"/>
<path d="M1109 4474l12-6 8-9 5-19 9-48 4-10 1 0 4 9 7 37 6 19 5 7 5 0 6-5 3-8 13-46 2-2 2 1 1 2 9 26 2 2 2-1 4-8 7-31 3-10 2-1 6 3 3-1 7-18 4-4 2 3 3 14 11 60 4 9 2-1 3-23 2-31 5-164 2-36 2-2 7 197 2 31 4 24 1 0 4-8 11-59 3-13 2-2 4 7 7 34 4 10 1 1 2-3 9-29 4-4 3 6 8 26 3 7 4-3 9-27 2-2 1 0 4 7 9 32 4 3 1-2 4-13 9-48 2-5 2-1 3 10 13 73 3 10 4 6 5 2 6-2 5-9 9-23 4-2 3 5 13 39 5 6 6 0 5-10 11-47 4-7 1 1 4 10 7 36 6 19 5 8 9 4" stroke="#ff0000" stroke-opacity="0.6"/>
<path d="M1109 4480l14-2 7-6 6-12 9-35 3-8 2-1 4 6 12 43 6 6 5 0 6-3 3-6 11-31 4-6 3 1 9 18 4 2 3-6 11-32 4-2 5 2 2-1 11-17 2 1 3 9 11 45 4 8 1 0 4-13 2-20 7-151 2-9 9 168 3 22 2 1 4-5 12-48 4-6 4 5 9 31 3 5 4-4 7-18 4-3 3 4 7 20 4 6 4-1 10-21 4 1 11 27 3 3 2-1 4-8 9-36 3-6 2 1 4 11 11 47 3 8 4 4 7 2 5-4 13-23 4-3 3 3 13 28 5 5 6 0 3-4 4-8 11-34 1-3 2 0 4 7 12 41 6 7 7 2" stroke="#ff0000" stroke-opacity="0.4"/>
<path d="M1109 4486l14-2 4-2 3-5 6-15 9-40 3-8 2 1 4 8 7 31 5 16 6 5 3 0 4-1 7-12 13-41 2-2 1 0 11 22 2 1 2-2 3-8 9-33 4-5 5 1 4-2 7-17 4-4 3 6 13 56 4 6 1-1 4-22 2-28 7-169 2 2 2 31 5 137 2 25 3 18 2 0 4-8 11-50 3-10 2-1 4 7 7 29 3 8 2 1 2-2 9-25 2-2 2 0 3 6 7 23 4 5 4-2 9-22 1-1 2 0 4 7 7 23 4 7 1 0 6-13 9-41 2-3 1-1 4 9 11 56 3 11 6 8 5 2 6-3 5-8 7-17 4-4 2 0 3 5 13 32 3 4 6 2 3-3 4-7 11-39 3-6 2 1 4 9 7 31 5 16 6 7 7 3" stroke="#ff0000" stroke-opacity="0.4"/>
<path d="M1109 4484l11 0 7-1 14-15 4-1 3 2 13 16 7 3 7 0 8-3 12-10 4 0 9 7 3 1 4-1 11-10 11 0 10-6 4 2 13 17 5 3 4-4 1-5 8-51 1-5 2 4 7 50 2 6 4 4 5-3 11-15 4-3 3 1 9 10 4 1 3-1 11-8 4 1 11 7 3 0 13-9 3 1 9 6 4 1 5-3 9-14 4-3 5 3 11 14 7 4 13-2 16-11 6 2 12 8 9 1 6-3 10-11 6-3 3 2 15 16 16 3" stroke="#000" stroke-opacity="0.4"/>
<path d="M1109 4483l14 1 7-1 6-6 9-16 3-2 6 5 12 22 6 4 7 1 7-4 11-14 4-3 3 2 9 9 4 1 3-4 9-14 4-2 9 0 7-7 4-2 3 3 13 23 4 3 1-1 4-9 7-73 2-13 2 0 7 71 2 11 3 8 2 0 4-4 11-23 5-6 4 3 7 12 3 3 4-1 9-12 4-1 3 2 7 10 4 2 4-1 9-10 3 0 4 2 9 12 3 2 6-5 9-18 3-1 4 4 11 25 3 5 6 4 5 1 6 0 14-12 4 0 3 2 13 15 9 2 7-4 11-18 3-3 6 4 7 13 5 6 6 3 7 0" stroke="#000" stroke-opacity="0.5"/>
<path d="M1109 4496l12 3 8-1 5-3 9-8 4-1 3 1 15 13 5 2 7-1 7-3 11-9 4-1 12 3 4 0 13-12 10-2 13-8 4 2 10 10 6 1 3-3 2-4 9-47 2 2 2 8 5 31 2 5 4 3 5-3 13-14 3-1 15 10 3 0 11-6 4 1 12 9 13-5 3 1 11 9 6 2 5-3 9-8 4 0 16 20 11 4 9 1 14-5 5 1 13 8 9 1 7-2 11-10 4-1 3 1 15 10 14-1" stroke="#000" stroke-opacity="0.3"/>
<path d="M1109 4476l12-3 4-2 4-6 16-64 2-2 3 7 13 51 5 8 6 0 5-4 4-6 10-38 4-8 2-1 2 1 9 22 3 2 4-6 11-39 3-3 6 3 1-1 11-21 2 0 4 10 10 55 4 9 2 1 2-3 1-11 2-22 7-182 2-15 2 18 7 180 2 20 2 10 2 2 1-1 4-10 11-52 3-9 2 1 2 4 9 37 4 6 3-3 7-22 4-5 4 4 9 28 3 4 4-5 7-20 4-3 1 1 11 32 4 4 2-1 3-9 9-45 4-8 2 1 3 12 11 57 4 10 3 5 4 2 3 0 6-4 12-29 4-3 2 0 3 7 8 21 5 11 5 5 4-1 5-8 11-41 4-9 2 0 3 7 13 51 5 9 11 5" stroke="#ff0000" stroke-opacity="0.4"/>
<path d="M1109 4482l11-2 3-3 4-6 12-48 4-8 2-1 3 8 9 35 4 9 5 6 6 0 5-4 4-6 11-34 3-6 4 1 9 19 2 2 1 0 4-7 11-34 3-2 6 2 2-1 7-15 3-4 2 2 4 10 11 48 3 7 2 0 4-16 1-23 6-129 2-32 1-5 8 154 1 27 4 21 2 1 3-6 13-52 4-5 3 5 7 28 4 8 2 1 2-1 9-22 3-3 4 5 7 21 4 6 3-2 9-20 4-2 3 5 9 25 4 3 4-5 10-45 4-5 4 6 12 57 4 9 3 4 6 1 5-2 6-8 9-19 3-3 4 4 12 30 6 5 5-1 4-4 3-8 11-37 2-2 2 0 3 8 13 44 4 5 3 3 11 2" stroke="#ff0000" stroke-opacity="0.7"/>
<path d="M1109 4483l11-2 3-2 4-5 5-16 9-39 4-6 3 5 13 48 5 8 6 1 5-4 4-6 14-43 2-1 2 0 9 19 3 4 2-2 13-41 3-4 6 2 3-2 9-19 2-1 4 8 12 55 4 6 2-2 3-25 2-30 7-160 2 7 2 35 5 132 2 23 4 14 2 0 3-8 11-49 4-9 1-1 2 3 9 34 4 7 2 0 1-2 9-24 2-1 2 0 4 7 7 22 3 5 4-3 9-21 2-1 2 1 3 7 7 23 4 6 2 0 3-7 9-40 4-9 2 0 3 10 11 55 4 10 5 8 6 2 5-3 5-8 8-16 3-4 2 0 4 6 12 31 4 4 5 1 4-3 3-7 11-39 4-5 3 5 9 36 6 14 5 6 11 2" stroke="#ff0000" stroke-opacity="0.6"/>
<path d="M1109 4487l12-1 8-3 16-23 2-1 3 3 13 19 5 3 6 1 9-4 14-16 4 1 9 8 3 2 4-3 11-13 3-1 7 1 11-7 6 4 10 21 6 4 3-4 2-8 7-68 2-6 2 6 7 68 2 8 4 5 5-4 11-20 3-3 4 2 9 14 4 2 3-2 7-8 4-2 4 2 9 10 3 1 4-2 7-7 5-2 11 12 4 1 5-4 9-17 4-3 2 0 3 4 11 21 7 5 7 1 6-2 12-11 4-2 5 3 13 12 9 1 5-3 11-16 6-4 3 3 13 19 5 3 11 2" stroke="#000" stroke-opacity="0.3"/>
<path d="M1109 4486l11-2 3-2 4-6 16-54 2-2 3 5 13 41 5 6 6-1 5-4 4-6 11-33 3-7 2-1 2 1 9 17 3 2 4-5 11-33 3-3 8 2 10-17 2 1 4 8 12 52 4 5 2-2 3-26 8-152 1-13 2 14 7 152 2 18 2 8 2 2 2-1 3-7 11-43 4-7 1 1 2 3 9 31 4 6 3-3 8-19 3-4 4 3 9 23 3 3 4-5 7-17 4-4 3 4 9 23 4 3 2-1 3-8 9-38 4-7 2 1 3 9 11 48 4 8 3 5 8 2 5-3 13-22 3-3 6 7 12 29 4 4 5 1 6-6 10-33 4-7 2 0 3 6 9 33 6 13 5 5 11 3" stroke="#ff0000" stroke-opacity="0.4"/>
<path d="M1109 4480l12-2 8-7 5-14 9-35 4-6 1 1 4 8 11 37 5 8 6 1 5-3 4-5 14-37 4-1 10 21 2 1 2-1 4-7 9-28 3-3 6 2 3-1 9-16 2-1 4 7 12 51 4 5 2-1 3-20 2-25 7-144 2 4 2 29 5 119 2 21 4 14 1 0 4-7 11-43 3-8 2-1 2 2 9 30 4 6 1 1 2-2 9-22 4-2 3 6 8 19 3 4 4-2 9-20 3-1 4 6 7 20 4 5 2-1 3-6 9-36 4-8 2-1 3 8 11 48 4 9 5 7 5 1 6-2 5-7 7-15 4-4 2 0 3 5 13 28 4 4 5 1 4-3 3-6 11-34 4-4 3 4 9 32 6 14 5 6 9 2" stroke="#8a0000" stroke-opacity="0.7"/>
<path d="M1109 4490l14-3 7-6 6-10 9-28 3-7 2 0 4 4 9 24 3 5 4 3 5 0 6-2 3-4 13-28 4-5 3 1 9 13 4 0 3-4 11-24 4-1 7 1 7-10 4-2 2 1 3 7 11 35 4 6 1 0 4-11 2-16 5-90 2-21 2-3 7 109 2 19 3 15 2 1 4-3 12-35 4-3 4 4 7 20 3 7 4 0 9-15 4-2 3 3 7 15 4 4 4-1 9-15 3-2 4 4 9 17 3 1 4-4 11-33 3-4 4 4 13 38 3 5 4 3 5 0 6-2 5-6 9-15 4-2 3 3 13 20 5 3 6 0 5-6 11-25 3-5 2 1 4 5 12 33 6 5 7 3" stroke="#000" stroke-opacity="0.5"/>
<path d="M1109 4476l12-3 4-3 4-6 5-20 9-49 4-8 3 6 13 59 5 9 6 1 5-4 4-7 14-54 2-2 2 1 9 24 3 3 4-6 11-46 3-4 6 2 3-3 9-23 2 0 4 9 12 69 4 6 2-2 3-31 9-234 2 11 7 207 2 27 2 13 2 4 1-1 4-10 11-60 3-11 2 0 2 3 9 43 4 9 1 0 2-3 9-29 2-2 2 0 3 9 8 28 3 5 4-4 9-25 2-2 1 1 11 37 4 7 2 0 3-9 9-50 4-11 2 1 3 12 11 67 4 13 5 8 5 2 6-3 3-6 9-25 4-5 2 1 3 6 13 39 4 4 5 1 4-4 3-9 11-48 4-5 3 7 9 45 6 18 5 8 9 4" stroke="#ff0000" stroke-opacity="0.6"/>
<path d="M1109 4488l12-1 8-5 5-9 9-23 4-4 3 3 13 29 5 5 6 0 5-2 4-3 14-25 4 0 9 12 3 2 2-1 13-23 3-2 6 2 3-1 9-11 2 0 4 5 12 34 4 4 2-1 3-15 2-18 7-94 2 5 7 100 2 13 4 9 1 0 4-5 11-28 3-6 4 2 9 21 4 4 3-1 9-14 4-1 12 19 2 1 4-2 7-11 4-3 3 2 9 15 4 3 2 0 3-4 9-25 4-6 2 0 3 6 11 31 4 6 5 3 5 1 6-3 12-16 4-3 5 3 13 17 4 2 5 0 7-7 11-25 4-3 3 3 9 21 6 8 5 4 9 0" stroke="#000" stroke-opacity="0.5"/>
<path d="M1109 4480l11-5 5-8 5-18 9-44 4-7 2 1 3 9 11 45 6 8 5 1 5-4 4-6 14-47 2-1 2 0 9 22 4 4 1-1 13-43 4-4 5 3 4-2 9-20 1 0 4 9 13 61 3 7 2-2 4-26 1-32 8-175 1 8 2 37 6 144 1 25 4 17 2-1 3-9 11-53 4-10 2 0 1 2 9 37 4 8 2 0 2-3 9-26 1-2 2 0 4 7 7 24 4 5 3-3 9-23 2-1 2 0 3 8 8 25 3 6 2 0 4-8 9-44 3-9 2 0 4 10 10 60 4 11 5 8 6 2 5-3 6-9 7-18 3-4 2 0 4 6 12 34 4 4 5 1 4-4 4-8 10-43 4-5 4 5 9 39 5 16 4 5 3 3 11 1" stroke="#000" stroke-opacity="0.2"/>
<path d="M1109 4479l12-3 6-5 5-15 9-39 4-7 2 0 3 8 7 31 6 16 5 6 6 0 5-5 4-6 12-38 2-2 4 2 9 20 1 2 2-1 4-8 7-26 4-8 1-1 6 2 3-2 8-15 3-4 2 2 4 12 10 49 4 6 2-1 3-20 2-26 7-164 2 0 2 29 5 133 2 25 4 19 2 0 3-7 11-48 4-11 1-1 4 6 7 29 4 8 2 0 1-2 9-24 4-2 4 5 7 22 3 5 4-2 9-21 2-2 2 0 3 6 9 26 4 3 5-12 9-40 2-4 2 0 3 8 11 54 4 11 5 7 6 2 5-2 5-8 9-19 4-1 4 5 12 31 6 5 5-1 5-9 11-38 4-6 2 1 3 8 7 30 6 15 5 6 11 3" stroke="#ff0000" stroke-opacity="0.5"/>
<path d="M1109 4478l12-2 8-7 5-15 9-42 4-9 1 0 4 8 9 39 4 10 5 7 5 0 6-4 3-7 11-37 4-7 2 0 1 2 9 21 2 2 2-1 4-7 10-38 4-2 5 2 2-1 7-16 4-5 2 2 3 11 11 53 4 8 2 0 3-18 2-26 5-143 2-36 2-6 7 170 2 30 4 24 1 1 4-7 13-57 3-7 4 6 7 31 4 10 1 1 2-2 9-24 4-4 3 6 8 24 3 6 2 1 2-2 9-22 3-3 4 6 9 29 4 4 3-6 11-49 4-6 3 7 13 65 3 9 4 5 4 2 3 0 6-4 12-28 4-3 3 4 13 33 5 6 6-1 3-4 4-10 11-41 2-2 1 0 4 8 13 49 5 8 9 3" stroke="#ff0000" stroke-opacity="0.7"/>
<path d="M1109 4485l11-2 7-7 12-39 4-7 2 0 3 6 8 23 5 11 4 4 5 0 5-3 4-4 13-32 3-5 4 1 9 14 3 0 4-6 7-21 4-7 2-1 7 1 2-1 7-12 3-3 2 2 4 8 11 39 3 6 2 0 4-14 1-20 6-104 2-23 1-2 8 126 1 21 4 16 2 1 3-5 11-36 4-8 2 0 3 5 7 22 4 7 4 0 9-18 3-2 4 4 7 17 4 4 3-2 9-17 4-2 3 4 9 19 4 2 5-10 9-32 4-5 4 6 12 45 4 6 3 3 6 1 5-2 6-6 9-15 3-2 4 4 12 25 6 5 5 0 6-6 10-28 4-4 2 1 3 7 13 37 7 8 11 3" stroke="#000" stroke-opacity="0.5"/>
<path d="M1109 4486l11-3 7-5 14-34 4-3 3 3 13 26 4 3 5 2 5-2 6-4 11-19 3-4 4 0 9 13 3 2 4-3 11-18 3-1 8 2 10-9 2 1 4 6 11 31 5 7 2-2 2-5 1-12 8-97 1-8 2 9 7 98 2 11 2 5 2 1 5-6 11-28 4-5 3 2 9 19 4 3 3-3 8-12 3-3 4 1 9 14 3 2 4-3 7-11 4-3 3 3 9 15 4 2 5-6 9-23 4-5 2 1 3 6 11 32 4 5 5 4 6 1 5-1 13-15 3-1 6 4 10 16 6 3 5 0 6-5 10-23 4-5 2 0 3 3 9 19 6 8 5 2 11-1" stroke="#000" stroke-opacity="0.3"/>
<path d="M1109 4485l12-2 8-4 5-11 9-30 4-6 1-1 4 6 13 35 5 5 5 1 6-3 3-5 11-26 4-5 3 1 9 16 4 1 4-5 10-27 4-1 7 1 11-15 2 1 3 7 11 38 4 5 2 0 3-11 2-18 5-101 2-26 2-6 7 119 2 22 4 17 1 1 4-4 13-42 3-5 4 4 11 29 3 0 9-18 4-3 3 4 8 16 3 5 4-1 9-16 3-2 4 4 9 20 4 3 1-1 4-7 9-31 4-4 3 5 13 45 3 6 4 3 7 2 6-3 12-21 4-2 3 3 13 22 5 4 6-1 3-3 4-7 11-30 3-2 4 6 13 34 5 5 9 2" stroke="#000" stroke-opacity="0.6"/>
<path d="M1109 4484l12-3 4-3 4-5 5-18 9-41 4-6 3 5 13 47 5 7 6 0 5-4 4-7 14-46 2-2 2 1 9 19 3 3 4-6 11-39 3-3 7 1 11-21 2 0 4 9 12 57 4 5 2-2 3-28 7-174 2-19 2 12 7 174 2 21 2 11 2 3 1-1 4-9 11-50 3-8 2 0 2 3 9 36 4 7 1 0 2-3 7-20 4-5 4 3 9 28 3 4 4-4 9-21 2-1 1 1 11 30 4 6 2-1 3-8 9-42 4-9 2 1 3 11 11 56 4 10 3 5 7 4 6-3 3-5 9-21 4-3 2 1 3 6 13 33 4 4 5 1 4-3 3-8 9-34 4-8 2-1 3 6 9 38 6 16 5 6 9 3" stroke="#000" stroke-opacity="0.4"/>
<path d="M1109 4486l12-2 8-6 5-13 9-35 4-8 1-1 4 5 9 31 4 8 5 5 5 0 6-5 3-5 11-32 4-6 3 1 9 17 4 1 4-6 10-30 4-2 5 2 2-1 11-16 2 1 3 9 11 45 4 7 2 0 3-12 2-19 7-145 2-8 9 162 2 15 2 7 1 1 6-9 11-41 3-6 4 5 9 30 3 4 4-3 7-18 4-3 3 4 8 18 3 6 4-2 9-19 3-3 4 4 9 21 4 3 1-1 4-9 9-37 4-6 1 1 4 10 11 44 3 7 4 4 7 1 6-4 12-23 4-3 5 7 11 24 5 5 6 0 3-3 4-7 11-32 2-1 1 0 4 7 13 42 5 8 9 4" stroke="#000" stroke-opacity="0.2"/>
</g></g>
<path d="M370.6,1504.2 L515.3,1504.2" stroke="#b3b3b3" stroke-width="1.2"/>
<clipPath id="t21"><rect x="369.6" y="1504.2" width="146.7" height="16"/></clipPath><g clip-path="url(#t21)">
<text class="k" x="390.2" y="1514.7">2.155</text>
<text class="k" x="419.7" y="1514.7">2.145</text>
<text class="k" x="448.6" y="1514.7">2.135</text>
<text class="k" x="477.6" y="1514.7">2.125</text>
<text class="k" x="506.8" y="1514.7">2.115</text>
</g>
<path d="M390.2,1504.2 L390.2,1507.2 M419.7,1504.2 L419.7,1507.2 M448.6,1504.2 L448.6,1507.2 M477.6,1504.2 L477.6,1507.2 M506.8,1504.2 L506.8,1507.2 M375.4,1504.2 L375.4,1506.2 M390.2,1504.2 L390.2,1506.2 M404.9,1504.2 L404.9,1506.2 M419.7,1504.2 L419.7,1506.2 M434.4,1504.2 L434.4,1506.2 M449.2,1504.2 L449.2,1506.2 M463.9,1504.2 L463.9,1506.2 M478.7,1504.2 L478.7,1506.2 M493.4,1504.2 L493.4,1506.2 M508.2,1504.2 L508.2,1506.2" stroke="#999" stroke-width="0.8"/>
<path class="a" d="M561.4,1402V1503.2H703.1"/>
<text class="y" x="559.2" y="1404.4">20</text>
<text class="y" x="559.2" y="1429.7">15</text>
<text class="y" x="559.2" y="1455">10</text>
<text class="y" x="559.2" y="1480.3">5</text>
<text class="y" x="559.2" y="1505.6">0</text>
<text class="u" x="536.4" y="1452.6" transform="rotate(-90 536.4 1452.6)" dy="2.8">A.U.</text>
<path class="w" d="M597.6,1407V1427.2M597.6,1446.8V1464.4M586.2,1407h22.9M586.2,1464.4h22.9"/>
<rect class="b" x="574.7" y="1427.2" width="45.8" height="19.6" fill="#888"/>
<path class="m" d="M574.7,1440.3H620.5"/>
<path class="w" d="M667.8,1416.6V1418.9M667.8,1426.7V1436.5M656.1,1416.6h23.2M656.1,1436.5h23.2"/>
<rect class="b" x="644.5" y="1418.9" width="46.5" height="7.8" fill="#ff0000"/>
<path class="m" d="M644.5,1422.1H691"/>
<path class="t" d="M558.9,1402h2.5M558.9,1427.3h2.5M558.9,1452.6h2.5M558.9,1477.9h2.5M558.9,1503.2h2.5M597.6,1503.2v3M667.8,1503.2v3"/>
<text class="x" x="597.1" y="1510.7" transform="rotate(-45 597.1 1510.7)" dy="4">HC</text>
<text class="x" x="667.2" y="1510.7" transform="rotate(-45 667.2 1510.7)" dy="4">PR</text>
<path class="st" d="M624.5,1407l0,-3.3M624.5,1407l3.1,-1M624.5,1407l1.9,2.7M624.5,1407l-1.9,2.7M624.5,1407l-3.1,-1M633.1,1407l0,-3.3M633.1,1407l3.1,-1M633.1,1407l1.9,2.7M633.1,1407l-1.9,2.7M633.1,1407l-3.1,-1"/>
<text class="n" x="631.2" y="1424.9" textLength="15.4" lengthAdjust="spacingAndGlyphs">ns</text>
<rect x="417.6" y="1375.9" width="222.7" height="18.5" fill="#fff"/><text x="529" y="1389.4" font-size="17.5" font-weight="bold" text-anchor="middle">Glutamine and methionine</text>
<path d="M373.1,1465.7 Q441.8,1404.7 512.3,1465.7" stroke="#222" stroke-width="1.1" fill="none"/><text x="456.2" y="1405.3" font-size="13" fill="#111">Methionine</text><text x="453.2" y="1424.7" font-size="13" fill="#111">Glutamine</text><path d="M450.1,1402.5 L438.6,1408.5" stroke="#000" stroke-width="1.3"/><path d="M435.5,1410.1 L438.3,1405.7 L440.7,1410.3 Z" fill="#000"/><path d="M486.4,1429 L479.5,1436.4" stroke="#000" stroke-width="1.3"/><path d="M477.1,1439 L478.3,1433.9 L482.1,1437.5 Z" fill="#000"/>
<clipPath id="c22"><rect x="18.5" y="1544.4" width="143.9" height="109"/></clipPath>
<rect x="18.5" y="1544.4" width="143.9" height="109" fill="none" stroke="#e6e6e6" stroke-width="1"/>
<g clip-path="url(#c22)" fill="none" stroke-linejoin="round"><g transform="scale(0.333333)" stroke-width="3">
<path d="M52 4823l18-8 10-8 24-28 6-4 6 0 6 2 6 6 20 31 10 10 8 4 6-1 6-4 6-9 10-19 14-39 6-10 6-5 6 3 10 17 20 69 10 23 8 15 10 7 6 0 8-4 22-20 8-7 10-1 18 5 8-4 6-7 6-11 18-43 6-8 6-3 4 1 6 6 20 43 12 18 12 8 28 7" stroke="#000" stroke-opacity="0.6"/>
<path d="M52 4792l12-3 10-6 8-9 18-24 6-6 6-2 6 0 6 4 22 26 8 9 10 3 6-2 8-9 6-11 28-70 6-9 6-2 6 4 6 10 18 47 8 19 10 11 6 3 2 0 10-7 6-9 20-55 6-12 6-5 4 0 2 2 6 9 18 47 6 12 6 7 4 2 6 0 18-9 8 1 10 8 20 29 12 11 16 7 24 5" stroke="#000" stroke-opacity="0.3"/>
<path d="M52 4871l12-6 10-10 8-16 22-44 8-12 6-2 6 1 6 6 16 19 8 9 10 4 6 0 6-3 6-5 26-43 10-7 6 2 8 13 24 63 12 25 10 12 8 7 6 1 10 0 20-9 10-3 24 4 8-1 12-8 22-21 6-4 6-1 8 1 28 13 42 14" stroke="#ff0000" stroke-opacity="0.5"/>
<path d="M52 4805l10-5 8-9 10-12 20-37 6-6 6-2 6 3 6 7 28 57 8 12 6 5 10 0 8-7 10-14 18-35 6-7 6-2 6 2 6 7 24 37 8 7 6 0 10-6 8-14 24-63 6-12 6-5 4 0 6 7 20 49 6 8 4 2 2 0 6-5 18-28 6-4 4 1 2 3 6 11 22 63 12 25 6 7 8 6 12 1 16-2" stroke="#000" stroke-opacity="0.7"/>
<path d="M52 4808l12-3 10-5 8-11 24-38 6-6 6-2 6 1 6 5 24 27 10 6 6 1 6-1 8-5 28-25 6-2 6 0 6 3 6 7 24 38 8 11 12 9 6 2 10-1 8-3 24-15 10 0 18 3 8-2 6-6 6-8 22-38 6-6 2 0 6 2 6 7 18 32 12 16 12 10 28 13" stroke="#000" stroke-opacity="0.7"/>
<path d="M52 4814l12-3 10-8 8-13 22-40 6-7 2-1 6 1 6 8 24 57 10 16 6 7 8 4 6-2 10-9 24-40 6-7 6-4 6 0 6 3 24 30 8 7 10 3 8-3 6-5 6-8 22-38 6-7 2-1 6 3 6 9 24 60 6 10 6 6 10 3 14 0 10 1 24 13 12 3 14-2 28-12" stroke="#000" stroke-opacity="0.5"/>
<path d="M52 4842l12-5 12-11 10-12 20-36 6-7 6-2 6 2 6 5 18 28 10 11 8 6 10-1 6-4 6-6 24-44 6-8 6-4 6 1 6 6 24 50 8 15 10 9 8 1 6-4 10-13 18-42 6-11 6-5 2 0 4 2 6 9 20 52 6 10 6 6 10 3 14-4 10 1 8 5 22 20 12 8 14 6 22 3" stroke="#000" stroke-opacity="0.3"/>
<path d="M52 4834l12-1 10-5 8-10 22-33 6-6 6-2 6 2 6 7 18 30 8 13 10 6 8-2 6-5 10-15 26-64 6-7 4-1 6 3 6 8 26 61 10 13 6 5 8 1 10-5 6-7 18-29 6-6 6-2 2 1 6 7 22 37 8 8 4 1 6-1 18-13 8-2 10 6 20 24 12 9 16 5 24 1" stroke="#ff0000" stroke-opacity="0.5"/>
<path d="M52 4827l12 0 12-5 10-9 18-21 6-5 6-3 6 1 6 4 26 30 10 3 8-2 6-6 10-15 26-66 6-8 6-1 6 5 6 11 18 46 10 20 6 9 8 8 6 2 10-2 8-7 18-19 10-3 8 6 22 25 6 3 2 0 10-7 18-24 6-4 2 0 4 1 6 5 20 35 12 13 6 4 10 2 24-3" stroke="#000" stroke-opacity="0.3"/>
<path d="M52 4859l12-3 12-7 30-33 12-8 12-1 28 9 14 0 10-4 6-4 24-23 8-3 6 2 6 6 24 44 12 17 6 5 6 3 6 1 6-1 12-7 28-24 20-12 10-7 12-18 20-46 6-8 6-3 6 4 6 9 22 48 12 21 14 18 22 19" stroke="#ff0000" stroke-opacity="0.6"/>
<path d="M52 4827l12-2 10-3 8-7 22-23 6-4 6-1 6 3 6 6 24 38 8 9 6 4 10 1 8-4 10-10 20-28 6-5 6-1 6 2 6 5 18 23 10 9 8 5 10 1 6-1 8-4 22-17 8-4 6-1 6 2 18 11 10 0 8-7 18-25 6-5 4-1 6 2 6 7 24 49 12 16 6 5 8 5 22 4" stroke="#ff0000" stroke-opacity="0.6"/>
<path d="M52 4866l10-9 8-12 10-18 24-56 6-8 6-4 6 3 6 7 26 56 10 11 6 4 6 0 8-6 10-12 14-26 6-7 6-2 6 2 10 14 24 55 8 13 10 5 8-4 10-11 24-53 8-14 4-2 6 1 6 5 14 17 6 3 4 0 8-8 18-30 6-5 4 0 6 4 6 10 20 55 12 26 16 21 24 25" stroke="#ff0000" stroke-opacity="0.4"/>
<path d="M52 4836l12-3 10-5 8-8 22-25 6-5 6-3 6 1 6 5 20 25 10 9 8 5 10-1 6-4 8-11 24-40 6-5 4-1 6 2 6 7 30 56 8 10 10 5 6 1 8-1 30-12 10 0 18 6 8-1 6-4 6-8 22-36 6-4 2-1 4 1 6 6 20 42 12 18 6 5 10 4 24 4" stroke="#ff0000" stroke-opacity="0.3"/>
<path d="M52 4828l12-3 10-5 8-9 22-25 8-6 6 0 6 4 6 6 24 33 10 8 8 3 6-1 10-6 20-25 6-5 6-2 4 0 6 5 6 8 20 39 10 14 8 8 10 2 6-2 8-7 22-31 8-10 10-2 6 1 14 9 10 0 8-7 22-29 6-4 6-1 8 5 22 24 8 8 40 21" stroke="#ff0000" stroke-opacity="0.5"/>
<path d="M52 4839l12 1 6-3 6-5 10-14 18-35 6-8 6-5 2 0 6 2 6 6 22 29 8 7 6 1 6-2 10-7 26-38 6-6 6-3 6 2 6 6 34 64 8 11 10 6 6 1 8-4 24-27 10-4 8 4 16 17 6 5 6 1 2 0 10-8 18-23 8-5 6 1 6 5 18 23 12 11 12 6 28 10" stroke="#8a0000" stroke-opacity="0.8"/>
<path d="M52 4854l12-3 10-7 8-13 18-32 6-7 6-4 6 2 6 7 28 53 6 8 8 7 10 1 8-2 28-19 12-5 12 1 30 13 12 0 8-6 6-8 10-17 18-44 6-7 2-2 4 1 6 7 20 52 6 9 4 3 2 1 6-3 22-29 6-2 2 1 10 11 18 39 12 18 6 5 8 4 28-1" stroke="#000" stroke-opacity="0.4"/>
<path d="M52 4809l12-5 10-8 8-13 24-43 6-6 6-3 6 2 6 5 18 22 10 9 6 3 6 2 6-1 8-5 28-27 6-3 6 2 6 6 6 11 26 59 10 12 8 6 6 0 4-2 6-6 8-16 18-41 6-8 6-2 4 1 6 7 14 25 10 10 2 1 6-1 22-20 6-4 6 0 8 6 18 20 12 10 16 7 24 5" stroke="#000" stroke-opacity="0.4"/>
<path d="M52 4856l12-7 10-8 32-43 6-4 6-1 6 3 6 5 28 30 12 7 6 0 8-2 28-22 6-2 6 1 6 5 6 8 26 47 10 9 6 3 8 0 10-8 8-14 16-30 8-11 4-2 6 1 6 6 14 18 6 4 4 1 2-1 6-5 22-30 8-5 6 1 6 6 18 24 12 12 12 7 28 10" stroke="#ff0000" stroke-opacity="0.4"/>
<path d="M52 4857l12-14 12-19 30-67 6-7 6-3 6 4 6 9 28 62 8 15 6 7 6 3 10 0 6-4 20-22 6-1 6 3 10 13 20 54 10 18 8 12 10 6 8-1 10-5 24-25 8-7 10-3 18-2 8-4 10-8 18-20 8-6 6-1 6 1 22 13 12 6 12 2 24 2" stroke="#ff0000" stroke-opacity="0.3"/>
<path d="M52 4851l6-2 6-4 10-10 8-18 22-56 6-10 6-5 6 3 6 10 26 64 10 12 8 3 6-2 6-4 28-34 6-5 6-3 6 0 6 3 24 22 8 6 10 2 6-2 8-9 6-10 24-56 6-6 4 0 2 1 6 9 16 39 8 16 6 3 6-5 22-38 6-5 2 1 4 2 6 11 20 57 12 22 6 6 10 4 24 1" stroke="#000" stroke-opacity="0.5"/>
<path d="M52 4874l12-2 12-5 30-22 12-6 12-2 30 4 16-1 12-6 20-16 10-3 6 3 8 11 34 69 8 12 10 5 6 0 8-5 10-10 14-23 10-8 8-1 22 11 8-1 10-7 18-20 6-5 6-2 8 2 30 22 40 20" stroke="#000" stroke-opacity="0.8"/>
<path d="M52 4854l12-9 10-13 8-20 22-55 6-10 6-3 6 4 6 10 18 45 8 18 10 11 6 3 6-1 8-8 24-42 6-8 6-3 6 3 10 14 26 61 10 12 6 4 8 0 10-8 24-43 8-9 4 0 6 3 20 29 6 4 4 1 2-2 6-5 22-34 6-4 2 0 4 1 6 5 20 33 12 12 12 4 28 1" stroke="#000" stroke-opacity="0.3"/>
<path d="M52 4850l12-3 12-10 10-14 20-40 10-9 6 0 6 4 30 45 8 6 6 1 6-3 10-9 24-45 6-7 6-3 6 2 6 8 30 66 6 8 8 7 6 1 10-4 8-9 18-25 6-6 6-2 10 4 18 18 8 5 10-2 20-14 10 0 8 7 22 29 12 12 14 8 22 7" stroke="#ff0000" stroke-opacity="0.3"/>
<path d="M52 4855l12-1 12-7 10-9 20-27 10-6 6 0 6 4 30 42 8 7 6 2 6-1 10-6 30-37 6-4 6 0 8 7 22 31 8 10 10 7 12 3 12-1 20-10 10-2 8 1 18 9 10 0 6-4 6-8 18-29 6-6 2 0 6 2 6 7 22 43 12 17 6 5 8 4 22 3" stroke="#000" stroke-opacity="0.7"/>
<path d="M52 4808l12 5 12 0 10-4 18-14 6-2 6 0 8 5 24 26 10 3 6-1 6-4 8-12 10-18 24-60 6-9 6-2 6 3 6 9 24 60 8 19 10 13 8 8 6 1 6-1 6-4 16-15 8-4 10 3 20 23 10 3 8-6 24-32 6-4 6-1 10 4 24 18 42 25" stroke="#000" stroke-opacity="0.3"/>
<path d="M52 4810l12-5 10-9 8-16 22-51 6-9 6-3 6 4 6 11 26 76 10 16 6 5 6 1 8-5 10-12 18-32 6-7 6-4 6 2 6 6 20 37 10 13 6 6 8 4 6-1 10-5 8-10 16-21 8-8 10-2 6 4 14 12 10 2 8-6 22-28 6-4 2 1 6 4 6 9 22 43 12 18 14 12 22 12" stroke="#000" stroke-opacity="0.6"/>
<path d="M52 4828l12 6 12 0 12-7 22-18 8-4 10 2 26 16 10 1 6-1 8-6 6-7 28-45 6-5 6-1 6 5 6 10 24 61 8 18 12 14 6 3 6 1 6-2 6-4 18-19 10-6 8-2 16 1 8-5 6-7 6-11 22-48 6-7 2-1 6 3 6 8 22 46 12 20 14 14 22 11" stroke="#ff0000" stroke-opacity="0.7"/>
<path d="M52 4844l12-2 10-5 8-8 22-24 6-5 6-1 6 2 6 5 26 31 10 5 8 0 6-2 10-8 24-31 6-4 6 0 6 3 6 6 26 42 6 6 10 6 8 0 10-3 24-23 8-5 10 1 20 16 10 2 8-3 18-14 10-3 6 2 6 4 20 24 12 10 16 6 24 6" stroke="#000" stroke-opacity="0.2"/>
<path d="M52 4811l12-3 10-6 26-28 6-4 6-2 6 1 6 3 22 22 8 8 10 3 6-1 6-4 8-10 28-50 6-6 6-2 6 3 6 8 18 33 8 14 6 6 6 4 10 1 8-4 10-8 18-21 6-4 6 0 8 6 18 23 10 7 8 2 22-6 8 1 10 6 18 16 12 8 14 6 28 4" stroke="#ff0000" stroke-opacity="0.3"/>
<path d="M52 4817l18-3 10-4 20-12 6-2 6 0 12 7 28 25 8 4 10-1 6-4 8-12 28-50 6-5 2-1 6 3 6 7 22 42 8 15 10 8 6 2 6 0 6-2 6-5 20-23 10-6 8 1 22 15 6 1 2-1 10-9 20-34 6-4 4 0 2 2 6 7 22 41 12 17 6 5 8 4 28 6" stroke="#ff0000" stroke-opacity="0.3"/>
</g></g>
<path d="M18.5,1654.9 L162.4,1654.9" stroke="#b3b3b3" stroke-width="1.2"/>
<clipPath id="t22"><rect x="17.5" y="1654.9" width="145.9" height="16"/></clipPath><g clip-path="url(#t22)">
<text class="k" x="22" y="1665.6">3.790</text>
<text class="k" x="64.5" y="1665.6">3.786</text>
<text class="k" x="106.1" y="1665.6">3.782</text>
<text class="k" x="147.7" y="1665.6">3.778</text>
</g>
<path d="M22,1654.9 L22,1657.9 M64.5,1654.9 L64.5,1657.9 M106.1,1654.9 L106.1,1657.9 M147.7,1654.9 L147.7,1657.9 M22,1654.9 L22,1656.9 M43.2,1654.9 L43.2,1656.9 M64.5,1654.9 L64.5,1656.9 M85.8,1654.9 L85.8,1656.9 M107,1654.9 L107,1656.9 M128.2,1654.9 L128.2,1656.9 M149.5,1654.9 L149.5,1656.9" stroke="#999" stroke-width="0.8"/>
<path class="a" d="M206.2,1551.8V1650.9H344.5"/>
<text class="y" x="204" y="1554.2">150</text>
<text class="y" x="204" y="1587.2">100</text>
<text class="y" x="204" y="1620.3">50</text>
<text class="y" x="204" y="1653.3">0</text>
<text class="u" x="181.2" y="1601.3" transform="rotate(-90 181.2 1601.3)" dy="2.8">A.U.</text>
<path class="w" d="M241.2,1585.8V1600.7M241.2,1614.7V1617.1M230,1585.8h22.6M230,1617.1h22.6"/>
<rect class="b" x="218.7" y="1600.7" width="45.1" height="14" fill="#888"/>
<path class="m" d="M218.7,1607.4H263.8"/>
<path class="w" d="M310.4,1601.7V1610.5M310.4,1625.2V1631.8M299,1601.7h22.7M299,1631.8h22.7"/>
<rect class="b" x="287.7" y="1610.5" width="45.3" height="14.7" fill="#ff0000"/>
<path class="m" d="M287.7,1618.4H333"/>
<path class="t" d="M203.7,1551.8h2.5M203.7,1584.8h2.5M203.7,1617.9h2.5M203.7,1650.9h2.5M241.2,1650.9v3M310.4,1650.9v3"/>
<text class="x" x="240.8" y="1658.4" transform="rotate(-45 240.8 1658.4)" dy="4">HC</text>
<text class="x" x="309.9" y="1658.4" transform="rotate(-45 309.9 1658.4)" dy="4">PR</text>
<path class="st" d="M270,1560.4l0,-3.3M270,1560.4l3.1,-1M270,1560.4l1.9,2.7M270,1560.4l-1.9,2.7M270,1560.4l-3.1,-1M278.6,1560.4l0,-3.3M278.6,1560.4l3.1,-1M278.6,1560.4l1.9,2.7M278.6,1560.4l-1.9,2.7M278.6,1560.4l-3.1,-1"/>
<text class="n" x="274.3" y="1578.3" textLength="15.4" lengthAdjust="spacingAndGlyphs">ns</text>
<rect x="152.2" y="1529.7" width="66.2" height="18.5" fill="#fff"/><text x="185.3" y="1543.2" font-size="17.5" font-weight="bold" text-anchor="middle">Alanine</text>
<clipPath id="c23"><rect x="370.6" y="1543.9" width="143.7" height="110.8"/></clipPath>
<rect x="370.6" y="1543.9" width="143.7" height="110.8" fill="none" stroke="#e6e6e6" stroke-width="1"/>
<g clip-path="url(#c23)" fill="none" stroke-linejoin="round"><g transform="scale(0.333333)" stroke-width="3">
<path d="M1109 4939l9-2 16-8 6-2 21 5 9 0 6-4 7-10 5-15 4-26 14-132 4-33 2-7 3 1 4 23 14 134 6 37 3 5 2 2 2-1 9-15 2-1 3 1 4 8 11 31 7 8 9 3 18 0 23-2 9-2 4-5 5-9 11-31 2-3 2 0 5 5 9 19 2 2 2 0 3-2 4-12 5-23 15-143 5-20 2 0 5 21 15 143 5 23 7 19 9 9 13 5 16 2 18-5 7-1 22 11 11 2" stroke="#ff0000" stroke-opacity="0.5"/>
<path d="M1109 4940l13-2 23-10 7 0 13 4 9 0 7-3 7-8 4-11 5-20 15-131 5-23 2-3 2 4 3 10 13 116 7 37 2 6 2 3 3 0 11-14 2 0 2 2 14 31 7 8 6 3 12 1 29 1 11-2 5-3 4-6 11-27 5-5 4 4 12 19 2 1 2 0 2-3 5-13 4-22 14-110 4-23 3-3 2 3 4 23 16 123 5 18 4 11 5 5 4 3 14 4 15 0 25-7 29 9" stroke="#000" stroke-opacity="0.8"/>
<path d="M1109 4942l9-2 22-11 7 0 14 4 9-1 6-4 7-10 5-14 4-25 16-154 4-25 3-2 4 18 14 135 6 41 3 6 2 3 2 0 9-15 2-2 3 0 4 7 11 32 7 9 7 3 13 1 30 0 9-2 6-7 14-35 4-5 5 5 9 20 4 3 3-1 4-10 5-21 15-144 5-24 2-2 2 6 5 29 13 129 5 26 7 21 4 6 5 4 13 5 16 2 18-6 7-1 6 2 16 8 11 2" stroke="#000" stroke-opacity="0.4"/>
<path d="M1109 4943l11-2 23-11 6 0 14 4 9 0 7-4 6-10 5-14 4-24 16-161 5-29 2-3 2 4 2 12 14 141 7 45 2 7 2 3 2 1 12-18 2 0 2 2 14 38 6 10 7 3 14 1 27-1 11-2 4-4 5-8 11-33 5-6 2 0 2 3 11 24 3 1 2-1 2-3 5-16 4-27 14-134 4-28 2-4 3 4 4 29 16 150 4 22 5 13 4 7 5 4 13 6 16 2 25-7 7 2 15 8 9 3" stroke="#000" stroke-opacity="0.7"/>
<path d="M1109 4943l9-3 22-9 21 3 9-1 6-4 7-9 7-24 4-28 14-123 4-20 3-1 4 19 14 121 6 35 3 5 2 2 2 0 9-13 2-2 3 1 4 7 11 28 7 8 7 3 18 1 25 0 9-2 6-6 14-32 4-4 5 5 9 18 4 2 3-1 4-10 5-20 15-129 5-20 2-1 2 6 5 28 13 114 5 22 7 17 9 9 13 4 16 0 18-6 7-1 22 8 11 1" stroke="#ff0000" stroke-opacity="0.6"/>
<path d="M1109 4940l11-2 16-9 7-2 6 1 14 4 9 0 7-4 6-11 5-16 4-28 16-173 5-28 2-2 4 22 14 153 7 46 2 7 2 3 2-1 9-16 3-2 2 0 4 8 12 36 6 10 7 3 18 1 25-2 9-3 7-8 13-42 5-5 4 5 9 21 5 4 2-2 4-12 5-25 16-162 4-27 2-2 3 6 4 33 14 144 4 29 7 24 4 7 5 4 13 6 16 3 18-6 7 0 7 2 15 10 9 3" stroke="#000" stroke-opacity="0.8"/>
<path d="M1109 4941l13-3 21-10 6 0 16 5 7-1 7-3 6-10 7-25 5-31 13-153 5-34 2-5 2 3 5 30 11 130 7 51 2 8 2 5 2 1 3-2 9-17 2-1 2 2 14 40 6 12 7 3 9 1 32 1 11-2 4-4 5-8 11-34 5-8 2 1 2 2 11 26 3 2 2 0 2-4 5-14 4-29 14-142 4-32 2-5 3 2 4 28 16 161 4 25 7 20 9 9 14 5 15 0 23-8 7 2 15 8 9 2" stroke="#000" stroke-opacity="0.8"/>
<path d="M1109 4941l11-2 23-9 6 1 14 3 9 0 7-3 6-9 5-13 4-22 16-145 5-26 2-3 2 4 2 11 14 127 7 41 2 6 2 3 2 0 12-16 2 0 2 2 14 34 6 9 7 3 11 1 30 1 11-2 4-3 5-7 11-29 5-6 4 4 11 22 3 1 2-1 2-3 5-14 4-26 14-121 4-25 2-3 3 4 4 25 16 136 4 20 5 11 4 7 5 3 13 5 16 0 25-7 7 2 15 7 9 2" stroke="#ff0000" stroke-opacity="0.3"/>
<path d="M1109 4943l11-2 23-9 6 0 14 3 9 0 7-3 6-8 5-12 4-20 16-134 5-25 2-3 2 3 5 25 11 102 7 39 2 6 2 3 2 1 12-15 2 0 2 1 14 32 6 9 7 2 11 1 30 0 11-2 4-3 5-7 11-27 5-6 4 3 11 20 3 1 2 0 2-3 5-13 4-23 14-112 4-24 2-3 3 3 4 23 16 126 4 19 5 11 4 7 5 3 13 5 16 1 25-6 7 1 15 7 9 2" stroke="#ff0000" stroke-opacity="0.3"/>
<path d="M1109 4941l9-2 20-10 7 0 16 4 9-1 6-5 7-12 5-17 4-29 14-140 4-32 2-5 3 2 4 27 14 140 6 36 3 4 2 1 2-1 9-15 2-1 3 1 4 10 9 27 5 9 4 4 9 3 23 0 18 0 9-3 6-9 12-32 4-7 2 0 3 2 11 24 2 2 2-1 3-2 4-14 5-26 13-131 5-30 2-6 2 2 5 25 15 149 5 23 7 19 9 8 13 5 16 0 18-6 7-1 20 9 13 3" stroke="#000" stroke-opacity="0.5"/>
<path d="M1109 4940l11-2 20-10 7 1 14 4 9 0 6-3 7-10 5-13 4-24 16-160 4-30 3-4 2 3 4 30 12 122 6 46 3 7 2 4 2 1 11-18 3-1 2 2 13 38 7 10 7 3 9 1 31 1 12-2 4-3 5-7 11-33 4-6 3 0 2 3 11 25 2 1 3-1 2-3 4-15 5-27 13-134 5-29 2-4 2 3 5 28 16 150 4 22 5 14 6 9 14 6 18 1 25-8 6 2 16 8 11 3" stroke="#000" stroke-opacity="0.7"/>
<path d="M1109 4942l11-2 16-8 7-2 20 5 9-1 7-4 6-10 7-25 5-30 13-131 5-21 2-1 4 21 14 129 7 37 2 5 2 2 2-1 9-14 3-1 2 0 4 8 12 30 6 8 9 3 18 0 23 0 9-2 7-8 13-34 5-4 4 5 9 19 5 2 2-1 4-11 5-22 16-138 4-20 2-1 3 6 4 30 14 122 4 23 7 18 9 9 13 5 16 0 18-6 7 0 22 8 9 2" stroke="#ff0000" stroke-opacity="0.5"/>
<path d="M1109 4940l13-3 21-10 6 0 16 5 7 0 7-3 6-9 7-22 5-29 13-142 5-33 2-5 2 2 5 28 13 142 7 37 2 4 2 1 3-2 9-15 2-1 2 1 5 10 9 27 6 11 7 4 9 0 32-1 11-2 4-3 5-8 11-32 5-8 2 0 2 3 11 24 3 2 2-1 2-2 5-14 4-26 14-133 4-31 2-5 3 2 4 25 16 153 4 24 7 18 9 10 16 6 13 0 18-6 7-1 20 9 9 2" stroke="#000" stroke-opacity="0.4"/>
<path d="M1109 4940l11-3 20-8 21 2 9 0 6-3 7-8 5-11 4-19 16-124 4-22 3-2 2 4 2 10 14 108 6 35 3 5 2 3 2 0 11-13 5 2 13 30 7 8 7 3 16 2 24 1 12-1 4-3 5-6 11-25 4-4 5 3 11 18 5 0 2-3 4-12 5-21 13-103 5-21 2-3 2 4 5 22 13 104 5 21 7 18 9 8 13 5 16 1 25-5 22 7 11 2" stroke="#000" stroke-opacity="0.7"/>
<path d="M1109 4941l11-3 16-8 7-2 20 4 9-1 7-4 6-11 5-15 4-26 14-132 4-32 3-7 2 1 4 23 14 134 7 36 2 5 2 1 5-4 6-11 3-1 2 1 4 8 12 31 6 9 9 2 21 1 20 0 9-3 7-8 11-30 4-8 3 0 2 2 11 23 2 2 3 0 2-3 4-12 5-23 16-142 4-19 2 0 5 21 16 142 4 23 7 18 9 9 13 4 16 1 18-6 7-1 20 8 11 3" stroke="#ff0000" stroke-opacity="0.6"/>
<path d="M1109 4941l9-3 16-10 6-3 7 0 14 3 9-1 6-4 7-10 7-25 4-30 14-132 4-22 3 0 4 21 14 133 6 39 3 6 2 2 2 0 9-13 2-1 3 0 4 8 11 32 7 9 9 4 18 0 23-1 9-3 6-8 14-37 4-4 5 5 9 18 4 2 3-2 4-11 5-22 15-140 5-22 2-1 2 6 5 30 13 124 5 25 7 19 9 10 15 6 14 1 18-6 7-1 22 8 11 2" stroke="#ff0000" stroke-opacity="0.5"/>
<path d="M1109 4941l11-2 23-11 6 0 14 4 9 0 7-4 6-9 5-13 4-23 16-151 5-28 2-3 2 4 2 12 14 133 7 43 2 7 2 4 2 0 12-16 2 0 2 2 14 36 6 10 7 3 14 1 27-1 11-2 4-3 5-8 11-31 5-6 4 4 11 22 3 1 2-1 2-3 5-14 4-27 14-127 4-26 2-4 3 4 4 27 16 142 4 22 5 12 4 7 5 4 13 5 16 1 25-7 7 1 15 8 9 2" stroke="#000" stroke-opacity="0.3"/>
<path d="M1109 4942l11-2 20-7 7 0 16 4 7 0 6-3 7-7 7-19 4-24 14-117 4-27 3-5 2 1 4 22 14 116 7 30 2 4 2 1 2-2 9-12 3-1 2 1 4 8 9 22 5 8 4 3 9 3 27 2 16 0 7-2 7-7 11-27 4-6 3 0 2 2 11 20 5 1 2-3 4-11 5-21 13-110 5-26 2-5 2 1 5 20 16 123 4 20 7 15 7 6 13 4 18 1 23-5 6 2 18 8 9 2" stroke="#ff0000" stroke-opacity="0.4"/>
<path d="M1109 4944l13-4 21-11 6 0 16 3 7-1 7-3 6-11 7-25 5-31 13-153 5-34 2-6 2 3 5 30 11 130 7 51 2 8 2 5 2 0 3-1 9-17 2-1 2 2 14 40 4 9 5 5 9 3 27 2 15 0 7-3 7-9 11-35 5-7 2 0 2 3 11 26 3 2 2-1 2-3 5-15 4-28 14-142 4-32 2-6 3 3 4 28 16 161 4 25 7 19 9 9 14 5 15 1 23-8 7 2 15 9 9 2" stroke="#000" stroke-opacity="0.4"/>
<path d="M1109 4942l11-2 20-9 7 0 16 4 7-1 6-3 7-8 7-20 4-25 14-122 4-27 3-4 2 2 4 25 12 104 6 40 3 7 2 4 2 0 11-14 3-1 2 1 13 33 7 9 7 3 11 1 29 1 12-2 4-3 5-6 11-28 4-6 3 0 2 3 11 20 2 2 3-1 2-3 4-12 5-22 13-115 5-25 2-4 2 2 5 22 16 129 4 20 7 15 9 8 13 3 16 1 23-7 6 2 16 7 11 2" stroke="#000" stroke-opacity="0.7"/>
<path d="M1109 4941l11-2 20-8 7 0 16 4 9-1 7-3 6-10 5-13 4-23 14-113 4-27 3-5 2 2 4 20 14 114 7 30 4 5 2-1 9-12 3-1 2 1 4 7 12 26 6 7 9 2 23 1 18-1 9-2 7-7 11-26 4-6 3 0 2 1 11 20 5 1 2-2 4-11 5-20 13-106 5-25 2-5 2 0 5 19 16 121 4 20 7 15 9 7 13 4 16 0 18-5 7-1 20 8 11 2" stroke="#000" stroke-opacity="0.7"/>
<path d="M1109 4942l9-2 22-8 21 3 9 0 6-3 7-8 5-11 4-18 16-119 4-20 3-1 4 15 14 104 6 31 3 5 2 2 2 0 9-11 5-1 4 5 11 25 7 7 7 2 16 1 27 0 9-2 6-5 14-28 4-4 5 4 9 15 4 3 3-1 4-8 5-17 15-111 5-18 2-2 2 4 5 23 13 98 5 20 7 16 9 8 13 4 16 1 25-6 22 7 11 2" stroke="#000" stroke-opacity="0.5"/>
<path d="M1109 4942l9-1 20-8 7 0 16 3 9-1 6-3 7-9 5-13 4-22 14-111 4-27 2-5 3 1 4 20 14 111 6 29 5 5 4-3 7-10 2-1 3 1 4 7 11 26 7 6 9 3 23 1 18-1 9-2 6-7 12-25 4-6 2 0 3 1 11 19 4 2 3-2 4-11 5-19 13-104 5-26 2-5 2 1 5 18 15 118 5 19 7 15 9 7 13 4 16 0 18-5 7 0 22 8 11 2" stroke="#8a0000" stroke-opacity="0.8"/>
<path d="M1109 4941l13-3 21-8 6 0 16 4 7 0 7-3 6-7 7-18 5-23 13-111 5-24 2-4 2 3 5 22 11 96 7 37 2 6 2 3 2 1 12-13 2 0 2 1 14 29 4 7 5 3 6 2 18 1 23-1 9-1 4-3 5-6 11-26 5-5 4 2 11 19 5 0 2-2 5-12 4-20 14-105 4-24 2-4 3 2 4 21 16 117 4 18 5 11 7 7 13 5 18 2 25-6 31 10" stroke="#ff0000" stroke-opacity="0.4"/>
<path d="M1109 4944l11-2 23-10 20 2 9-1 7-3 6-9 5-12 4-20 16-126 5-20 2-1 4 16 14 112 7 33 2 5 2 3 2 0 9-11 5-1 4 6 12 27 6 7 9 3 16 1 23-1 11-3 7-7 13-30 5-5 4 4 9 15 5 3 2-2 4-8 5-18 16-118 4-19 2-2 3 5 4 24 14 105 4 22 7 17 9 9 18 6 13 1 23-5 20 7 11 1" stroke="#ff0000" stroke-opacity="0.5"/>
<path d="M1109 4943l11-2 23-8 20 3 9-1 7-4 6-9 5-13 4-22 16-138 5-22 2-1 4 17 14 119 7 36 2 5 2 2 2 0 9-13 3-2 2 0 4 6 12 29 6 8 7 2 14 2 29 2 9-1 7-6 13-31 5-4 4 5 9 18 5 3 2-2 4-9 5-19 16-128 4-21 2-1 3 5 4 26 14 113 4 22 7 18 7 7 13 4 18-1 18-6 7-2 31 10" stroke="#ff0000" stroke-opacity="0.3"/>
<path d="M1109 4942l13-2 16-8 7-2 18 4 9 0 7-3 6-9 7-22 5-29 13-142 5-34 2-7 2 2 5 25 13 141 7 38 2 5 2 1 3-1 9-16 2-1 2 1 5 9 11 33 7 8 9 3 24 3 18 0 7-2 7-8 11-32 5-8 2 0 2 2 11 25 3 2 2 0 2-3 5-13 4-25 14-133 4-32 2-7 3 2 4 23 16 150 4 24 7 19 7 7 13 5 16 1 20-8 7-1 20 10 9 2" stroke="#000" stroke-opacity="0.7"/>
<path d="M1109 4939l13-3 21-9 6 1 16 4 7 0 7-3 6-9 7-23 5-29 13-140 5-30 2-5 2 3 5 28 11 120 7 46 2 8 2 4 2 1 12-17 2-1 2 2 14 36 6 11 7 3 9 1 32 0 11-2 4-3 5-8 11-32 5-6 2 0 2 3 11 24 3 1 2 0 2-3 5-14 4-26 14-131 4-29 2-4 3 2 4 26 16 149 4 23 7 18 9 8 16 6 13 0 23-8 7 1 15 8 9 2" stroke="#ff0000" stroke-opacity="0.3"/>
<path d="M1109 4943l11-3 23-11 20 4 9-1 7-5 6-11 7-27 5-33 13-142 5-23 2 0 2 7 5 35 11 120 7 40 2 6 2 2 2 0 9-15 3-2 2 1 4 8 12 34 6 9 9 3 18 2 23 0 9-3 7-8 13-38 5-4 4 5 9 20 5 2 2-2 4-12 5-23 16-150 4-23 2-1 3 7 4 32 14 131 4 26 7 20 9 10 13 5 16 2 18-6 7 0 20 10 11 3" stroke="#000" stroke-opacity="0.5"/>
<path d="M1109 4943l29-9 20 3 9 0 7-3 7-8 4-12 5-19 13-99 5-24 2-5 2 0 5 17 13 100 7 28 2 3 3 1 2 0 9-11 4-1 5 7 11 23 7 6 9 2 20 0 20-1 9-2 7-6 11-23 5-5 4 1 12 17 4 1 2-2 5-9 4-17 16-106 5-15 2 0 4 16 16 106 5 18 6 13 9 7 14 3 16 0 24-5 23 7 13 1" stroke="#ff0000" stroke-opacity="0.7"/>
</g></g>
<path d="M370.6,1656.2 L514.3,1656.2" stroke="#b3b3b3" stroke-width="1.2"/>
<clipPath id="t23"><rect x="369.6" y="1656.2" width="145.7" height="16"/></clipPath><g clip-path="url(#t23)">
<text class="k" x="384" y="1665.9">6.915</text>
<text class="k" x="407.9" y="1665.9">6.910</text>
<text class="k" x="431.8" y="1665.9">6.905</text>
<text class="k" x="455.7" y="1665.9">6.900</text>
<text class="k" x="479.6" y="1665.9">6.895</text>
<text class="k" x="503.5" y="1665.9">6.890</text>
</g>
<path d="M384,1656.2 L384,1659.2 M407.9,1656.2 L407.9,1659.2 M431.8,1656.2 L431.8,1659.2 M455.7,1656.2 L455.7,1659.2 M479.6,1656.2 L479.6,1659.2 M503.5,1656.2 L503.5,1659.2 M372.1,1656.2 L372.1,1658.2 M384,1656.2 L384,1658.2 M395.9,1656.2 L395.9,1658.2 M407.9,1656.2 L407.9,1658.2 M419.8,1656.2 L419.8,1658.2 M431.8,1656.2 L431.8,1658.2 M443.7,1656.2 L443.7,1658.2 M455.7,1656.2 L455.7,1658.2 M467.6,1656.2 L467.6,1658.2 M479.6,1656.2 L479.6,1658.2 M491.5,1656.2 L491.5,1658.2 M503.5,1656.2 L503.5,1658.2" stroke="#999" stroke-width="0.8"/>
<path class="a" d="M557.6,1549.5V1652.2H702.3"/>
<text class="y" x="555.4" y="1551.9">8</text>
<text class="y" x="555.4" y="1577.6">6</text>
<text class="y" x="555.4" y="1603.2">4</text>
<text class="y" x="555.4" y="1628.9">2</text>
<text class="y" x="555.4" y="1654.6">0</text>
<text class="u" x="532.6" y="1600.8" transform="rotate(-90 532.6 1600.8)" dy="2.8">A.U.</text>
<path class="w" d="M594.1,1577.9V1598M594.1,1610.4V1621.2M582.2,1577.9h23.9M582.2,1621.2h23.9"/>
<rect class="b" x="570.2" y="1598" width="47.8" height="12.4" fill="#888"/>
<path class="m" d="M570.2,1603.6H618"/>
<path class="w" d="M666.2,1606.1V1607.9M666.2,1616.2V1621.2M654.5,1606.1h23.5M654.5,1621.2h23.5"/>
<rect class="b" x="642.7" y="1607.9" width="47.1" height="8.3" fill="#ff0000"/>
<path class="m" d="M642.7,1611.9H689.8"/>
<path class="t" d="M555.1,1549.5h2.5M555.1,1575.2h2.5M555.1,1600.8h2.5M555.1,1626.5h2.5M555.1,1652.2h2.5M594.1,1652.2v3M666.2,1652.2v3"/>
<text class="x" x="593.6" y="1659.7" transform="rotate(-45 593.6 1659.7)" dy="4">HC</text>
<text class="x" x="665.8" y="1659.7" transform="rotate(-45 665.8 1659.7)" dy="4">PR</text>
<path class="st" d="M628.8,1559.5l0,-3.3M628.8,1559.5l3.1,-1M628.8,1559.5l1.9,2.7M628.8,1559.5l-1.9,2.7M628.8,1559.5l-3.1,-1"/>
<text class="n" x="628.8" y="1577.9" textLength="15.4" lengthAdjust="spacingAndGlyphs">ns</text>
<rect x="491.7" y="1529.7" width="74.6" height="18.5" fill="#fff"/><text x="529" y="1543.2" font-size="17.5" font-weight="bold" text-anchor="middle">Tyrosine</text>
<clipPath id="c24"><rect x="18.5" y="1701.9" width="144.3" height="110.7"/></clipPath>
<rect x="18.5" y="1701.9" width="144.3" height="110.7" fill="none" stroke="#e6e6e6" stroke-width="1"/>
<g clip-path="url(#c24)" fill="none" stroke-linejoin="round"><g transform="scale(0.333333)" stroke-width="3">
<path d="M52 5397l64-9 12-5 8-9 10-15 6-14 26-89 6-12 4-3 2 0 6 4 6 12 22 64 6 15 8 15 10 8 8 3 18 0 16-5 12-10 8-15 10-23 18-56 6-13 6-6 2 0 4 3 6 10 26 87 10 21 8 13 10 7 14 6 28 4 32 1" stroke="#ff0000" stroke-opacity="0.7"/>
<path d="M52 5395l36-4 24-4 16-7 8-8 10-14 6-15 26-97 6-16 6-7 4-1 2 2 6 10 24 75 6 15 10 15 8 8 12 3 18-2 12-4 6-4 6-7 10-18 8-25 18-61 6-13 6-6 4 1 2 3 6 12 28 97 8 22 10 14 8 8 16 7 26 5 30 3" stroke="#ff0000" stroke-opacity="0.7"/>
<path d="M52 5383l36-8 24-8 16-9 8-12 10-20 8-32 24-116 6-19 6-9 4 1 2 3 6 15 22 89 8 30 10 20 8 9 12 5 18-1 12-6 10-10 8-19 6-19 24-101 6-16 4-4 2-1 4 1 2 5 6 18 28 123 6 20 8 20 10 11 14 9 24 5 36 5" stroke="#ff0000" stroke-opacity="0.5"/>
<path d="M52 5397l64-8 12-4 8-7 10-12 6-12 26-77 6-12 6-6 6 2 6 9 24 61 6 12 10 12 8 5 12 3 18-1 12-4 10-7 8-12 10-19 20-57 6-11 6-3 6 4 6 10 28 79 6 13 8 13 10 7 14 5 24 1 36 0" stroke="#000" stroke-opacity="0.3"/>
<path d="M52 5398l36-4 22-3 14-6 10-7 8-13 10-21 26-88 6-11 6-4 6 4 6 12 18 52 10 21 8 15 12 9 16 4 18 0 8-2 10-7 8-13 6-13 24-67 6-8 4-2 2 0 4 3 6 10 26 81 10 18 8 11 10 5 12 3 62 0" stroke="#000" stroke-opacity="0.6"/>
<path d="M52 5401l64-6 12-4 8-5 10-11 6-10 26-68 6-11 6-4 6 1 6 8 24 54 6 11 10 10 8 6 12 1 18-1 12-4 10-6 8-11 10-17 20-51 6-10 6-4 6 3 6 9 28 65 6 11 8 10 10 6 12 3 62 3" stroke="#000" stroke-opacity="0.2"/>
<path d="M52 5393l64-9 12-5 8-7 10-14 8-22 22-73 6-17 6-10 2-2 4 1 2 2 6 11 24 72 6 13 10 14 8 7 12 3 18-2 12-4 10-7 8-15 10-22 20-66 6-12 6-4 6 4 6 13 28 90 6 14 8 15 10 8 14 5 24 3 36 1" stroke="#000" stroke-opacity="0.5"/>
<path d="M52 5408l64-8 12-3 8-4 10-8 6-8 26-47 6-7 6-3 6 2 6 6 24 40 6 7 10 8 8 4 12 2 18-1 12-2 10-5 8-9 10-13 20-39 6-7 6-2 6 2 6 7 28 49 6 8 8 7 10 4 14 3 60 2" stroke="#000" stroke-opacity="0.7"/>
<path d="M52 5397l64-14 12-6 8-10 10-17 6-16 26-98 6-12 4-3 2-1 4 2 6 10 24 78 6 16 8 16 10 8 8 2 18-1 16-5 6-5 6-7 8-18 10-26 18-62 6-14 6-6 2 0 4 3 6 13 26 99 10 23 8 15 10 8 14 6 24 3 36 0" stroke="#8a0000" stroke-opacity="0.8"/>
<path d="M52 5402l60-7 16-4 8-6 10-11 6-10 26-66 6-9 6-4 6 2 6 7 24 51 6 10 10 9 8 5 12 2 18-1 12-3 10-6 8-10 10-17 20-49 6-8 6-2 6 3 6 10 28 66 6 11 8 10 10 6 14 4 28 2 32 1" stroke="#000" stroke-opacity="0.8"/>
<path d="M52 5392l66-7 12-4 10-8 8-14 6-13 28-85 6-12 6-4 6 5 6 11 24 69 12 22 8 7 12 4 18-2 12-5 12-11 10-16 8-25 22-69 6-11 2-3 4 0 2 1 6 10 6 17 22 73 8 21 10 14 8 8 12 4 24 5 36 5" stroke="#000" stroke-opacity="0.8"/>
<path d="M52 5400l30-1 28-5 14-5 12-9 10-13 8-22 28-94 6-13 6-5 6 4 6 12 20 64 10 22 8 13 10 6 12 4 18-1 12-3 8-8 10-15 6-14 24-73 6-10 2-3 4 0 6 6 6 14 26 87 6 13 10 12 8 7 12 3 60 3" stroke="#ff0000" stroke-opacity="0.4"/>
<path d="M52 5400l30-6 28-7 14-7 10-8 8-14 6-13 28-90 6-14 6-6 2 0 4 2 6 10 20 64 10 23 8 15 6 6 6 3 12 3 18 0 12-5 10-9 8-16 6-15 22-66 6-13 6-5 2 1 4 2 6 11 26 87 10 20 8 12 10 7 14 4 28 4 32 2" stroke="#ff0000" stroke-opacity="0.6"/>
<path d="M52 5392l60-14 12-6 10-8 8-15 10-24 26-96 6-11 4-2 2 0 4 3 6 11 24 80 6 16 8 16 10 8 12 4 18-2 12-4 8-9 10-16 8-26 22-76 6-14 6-6 2 1 4 3 6 14 26 101 10 23 8 15 10 8 14 5 28 5 32 1" stroke="#000" stroke-opacity="0.8"/>
<path d="M52 5402l58-5 14-4 10-6 8-10 10-15 26-65 6-8 6-3 4 1 6 6 24 51 6 10 8 10 10 5 12 3 18-1 12-3 12-8 8-11 10-17 18-42 6-9 6-4 6 1 6 8 26 63 10 14 8 9 10 5 12 3 62 4" stroke="#000" stroke-opacity="0.8"/>
<path d="M52 5383l42-9 22-6 12-7 8-11 10-20 6-19 26-116 6-15 4-4 2-1 4 2 2 5 6 16 22 86 6 20 8 20 10 11 12 6 18 0 8-2 6-4 10-11 8-21 10-31 18-77 6-18 6-9 2 0 4 3 6 14 26 118 10 29 8 17 10 10 14 7 24 3 36 2" stroke="#000" stroke-opacity="0.6"/>
<path d="M52 5390l36-8 24-7 16-8 8-10 10-18 6-16 26-105 6-15 4-4 2-1 4 1 2 3 6 14 24 85 6 15 10 16 8 8 12 3 18-1 12-6 10-9 8-18 10-27 20-77 6-13 4-3 2 0 6 7 6 15 24 96 10 27 8 16 10 10 14 7 28 6 32 2" stroke="#ff0000" stroke-opacity="0.6"/>
<path d="M52 5387l34-7 24-8 14-8 10-11 8-18 6-17 28-115 6-18 6-8 2 0 4 3 6 12 24 92 6 18 8 19 10 9 12 5 18 0 12-5 8-9 10-17 8-28 22-85 6-15 2-5 4-1 2 1 4 3 6 15 26 114 10 26 8 16 10 9 14 7 28 4 32 3" stroke="#ff0000" stroke-opacity="0.4"/>
<path d="M52 5381l34-6 26-8 16-8 8-11 10-18 8-30 28-129 6-17 2-4 4-2 2 2 4 5 6 16 20 91 10 30 8 18 10 9 12 4 18-1 12-6 8-11 10-21 6-20 24-103 6-14 2-3 4 1 6 9 6 20 26 127 6 19 10 19 8 10 16 9 24 5 32 4" stroke="#ff0000" stroke-opacity="0.3"/>
<path d="M52 5389l36-8 24-7 12-7 10-10 8-18 6-17 28-111 6-18 6-8 2 0 4 3 6 13 24 92 6 18 8 19 10 9 12 6 18-1 12-4 8-9 10-18 8-28 22-84 6-16 6-7 2 1 4 3 6 15 26 110 10 26 8 15 10 8 12 6 26 6 36 5" stroke="#000" stroke-opacity="0.5"/>
<path d="M52 5382l36-3 24-5 16-8 8-10 10-20 8-31 22-103 6-24 6-14 2-3 4 0 2 4 6 14 24 102 6 19 10 20 8 10 12 4 18-1 12-5 10-11 8-19 10-31 20-93 6-16 4-5 2-1 4 1 2 5 6 17 28 125 6 20 8 20 10 11 6 4 8 3 22 3 38 2" stroke="#000" stroke-opacity="0.4"/>
<path d="M52 5387l60-11 16-7 8-8 10-16 8-25 28-109 6-15 2-4 4-1 2 1 4 4 6 15 24 86 6 15 6 11 8 10 12 5 18-1 10-2 6-4 8-9 10-18 8-28 18-69 6-16 6-7 4 0 2 2 6 13 28 108 8 26 10 16 8 9 16 6 24 4 32 3" stroke="#ff0000" stroke-opacity="0.3"/>
<path d="M52 5389l64-14 12-7 8-9 10-17 6-16 26-98 6-12 4-3 2-1 4 2 6 11 24 81 6 17 8 17 10 9 12 3 18-1 12-6 6-5 6-8 8-19 10-29 18-70 6-16 6-7 2 0 4 3 6 13 26 106 10 26 8 16 12 11 16 6 26 4 30 1" stroke="#000" stroke-opacity="0.2"/>
<path d="M52 5406l60-6 16-4 8-5 10-9 6-9 26-58 6-9 6-5 6 1 6 6 24 45 6 9 10 8 8 5 12 2 18-1 12-3 10-5 8-9 10-15 20-44 6-8 6-3 6 2 6 8 28 58 6 10 8 9 10 6 12 3 62 4" stroke="#000" stroke-opacity="0.7"/>
<path d="M52 5388l40-5 20-5 16-8 8-10 10-18 6-17 26-108 6-16 4-4 2-1 4 1 2 3 6 14 22 76 8 25 10 16 8 8 12 4 18 0 12-4 10-8 8-17 6-16 24-83 6-12 4-3 2 0 6 7 6 15 28 101 6 15 8 15 10 8 12 5 18 3 44 3" stroke="#ff0000" stroke-opacity="0.4"/>
<path d="M52 5389l42-7 18-5 12-6 10-10 8-17 6-16 28-102 6-14 2-3 4-1 2 1 4 3 6 14 24 81 12 25 8 9 12 5 18 0 10-2 6-3 8-10 10-17 8-27 22-76 6-12 2-3 4 0 6 7 6 16 26 102 6 15 10 15 8 9 16 6 26 5 36 4" stroke="#ff0000" stroke-opacity="0.6"/>
<path d="M52 5396l36 0 22-2 14-6 10-7 8-12 10-21 26-94 6-13 6-5 4 1 2 3 6 11 22 63 8 21 10 13 8 7 12 3 18 0 12-4 10-7 8-14 6-14 24-72 6-11 4-2 2-1 4 2 6 9 6 16 20 69 10 20 8 13 10 7 12 4 62 10" stroke="#ff0000" stroke-opacity="0.4"/>
<path d="M52 5382l36-5 22-4 14-8 10-11 8-19 6-18 28-118 6-17 2-5 4-2 2 1 4 3 6 15 24 92 6 18 8 17 10 8 12 4 18-2 12-6 8-10 10-19 8-30 22-85 6-14 2-4 4 0 6 7 6 17 24 106 8 29 10 19 8 11 16 8 26 5 36 4" stroke="#ff0000" stroke-opacity="0.5"/>
<path d="M52 5386l60-6 12-5 10-8 8-15 10-24 26-108 6-14 4-4 2-1 4 2 6 10 26 92 6 15 6 10 10 9 12 5 20-1 12-5 10-9 8-18 10-27 18-67 6-15 6-7 2 1 4 3 6 13 26 105 10 24 8 14 10 8 12 3 62 4" stroke="#000" stroke-opacity="0.7"/>
<path d="M52 5391l34-6 24-7 14-8 10-9 8-17 10-26 26-112 6-14 4-4 2-1 4 2 2 4 6 15 22 79 6 19 8 19 10 10 12 5 18 1 8-3 6-3 10-11 8-20 10-30 18-75 6-18 6-8 2 0 4 3 6 14 26 116 10 27 8 17 10 9 14 6 22 3 38 3" stroke="#000" stroke-opacity="0.8"/>
</g></g>
<path d="M18.5,1814.1 L162.8,1814.1" stroke="#b3b3b3" stroke-width="1.2"/>
<clipPath id="t24"><rect x="17.5" y="1814.1" width="146.3" height="16"/></clipPath><g clip-path="url(#t24)">
<text class="k" x="35" y="1824.6">3.638</text>
<text class="k" x="64.8" y="1824.6">3.634</text>
<text class="k" x="94.6" y="1824.6">3.630</text>
<text class="k" x="124.7" y="1824.6">3.626</text>
<text class="k" x="155" y="1824.6">3.622</text>
</g>
<path d="M35,1814.1 L35,1817.1 M64.8,1814.1 L64.8,1817.1 M94.6,1814.1 L94.6,1817.1 M124.7,1814.1 L124.7,1817.1 M155,1814.1 L155,1817.1 M20.1,1814.1 L20.1,1816.1 M35,1814.1 L35,1816.1 M49.9,1814.1 L49.9,1816.1 M64.8,1814.1 L64.8,1816.1 M79.7,1814.1 L79.7,1816.1 M94.6,1814.1 L94.6,1816.1 M109.5,1814.1 L109.5,1816.1 M124.4,1814.1 L124.4,1816.1 M139.3,1814.1 L139.3,1816.1 M154.2,1814.1 L154.2,1816.1" stroke="#999" stroke-width="0.8"/>
<path class="a" d="M198.6,1710.5V1811.7H343.4"/>
<text class="y" x="196.4" y="1712.9">7</text>
<text class="y" x="196.4" y="1738.2">6</text>
<text class="y" x="196.4" y="1763.5">5</text>
<text class="y" x="196.4" y="1788.8">4</text>
<text class="y" x="196.4" y="1814.1">3</text>
<text class="u" x="173.6" y="1761.1" transform="rotate(-90 173.6 1761.1)" dy="2.8">A.U.</text>
<path class="w" d="M236.2,1724.3V1747.4M236.2,1776.4V1789.1M224.6,1724.3h23.2M224.6,1789.1h23.2"/>
<rect class="b" x="213" y="1747.4" width="46.3" height="29" fill="#888"/>
<path class="m" d="M213,1758.5H259.3"/>
<path class="w" d="M307.9,1724V1727.6M307.9,1760.1V1775.9M296.3,1724h23.2M296.3,1775.9h23.2"/>
<rect class="b" x="284.7" y="1727.6" width="46.3" height="32.5" fill="#ff0000"/>
<path class="m" d="M284.7,1733.1H331"/>
<path class="t" d="M196.1,1710.5h2.5M196.1,1735.8h2.5M196.1,1761.1h2.5M196.1,1786.4h2.5M196.1,1811.7h2.5M236.2,1811.7v3M307.9,1811.7v3"/>
<text class="x" x="235.7" y="1819.2" transform="rotate(-45 235.7 1819.2)" dy="4">HC</text>
<text class="x" x="307.4" y="1819.2" transform="rotate(-45 307.4 1819.2)" dy="4">PR</text>
<path class="st" d="M274,1711.9l0,-3.3M274,1711.9l3.1,-1M274,1711.9l1.9,2.7M274,1711.9l-1.9,2.7M274,1711.9l-3.1,-1"/>
<text class="n" x="273.5" y="1731.5" textLength="15.4" lengthAdjust="spacingAndGlyphs">ns</text>
<rect x="160.8" y="1683.2" width="53.6" height="18.5" fill="#fff"/><text x="187.6" y="1696.7" font-size="17.5" font-weight="bold" text-anchor="middle">Valine</text>
<clipPath id="c25"><rect x="370.6" y="1701.5" width="144.7" height="112"/></clipPath>
<rect x="370.6" y="1701.5" width="144.7" height="112" fill="none" stroke="#e6e6e6" stroke-width="1"/>
<g clip-path="url(#c25)" fill="none" stroke-linejoin="round"><g transform="scale(0.333333)" stroke-width="3">
<path d="M1109 5390l18-2 13-5 9-8 7-12 7-23 4-25 16-114 2-8 3-2 4 14 18 125 5 19 6 17 5 6 7 5 15 3 25-2 11-4 7-4 9-14 7-23 7-41 13-112 2-12 3-6 2-1 9 12 7 0 2 2 2 7 18 142 7 30 4 10 5 7 7 5 9 4 13 3 16 3 25-1 6-3 7-5 7-15 4-20 14-97 2-9 2-2 5 19 11 85 7 30 4 10 5 5 7 5 9 2" stroke="#ff0000" stroke-opacity="0.4"/>
<path d="M1109 5388l18-3 13-5 7-6 7-11 9-33 16-114 4-23 2-4 3 3 4 22 16 115 4 20 7 19 5 6 6 6 7 3 11 2 14 1 13-2 9-3 7-5 5-7 4-10 7-27 7-46 11-97 2-13 2-7 3-3 9 11 2 2 4-1 3 1 2 5 4 27 9 82 7 46 7 24 7 12 6 5 9 3 27 4 27-1 7-3 7-5 7-14 4-18 14-98 2-11 2-4 2 4 3 12 11 86 7 31 4 11 5 5 6 5 12 3" stroke="#ff0000" stroke-opacity="0.4"/>
<path d="M1109 5395l18-1 13-4 7-4 7-10 9-29 16-97 4-18 2-2 3 3 4 20 16 94 4 17 7 14 5 5 6 4 18 4 27-1 9-2 7-4 5-5 4-9 7-23 18-121 2-10 2-5 3-1 9 11 6 1 3 2 2 5 18 121 7 24 4 9 5 4 6 4 9 2 25 0 29-4 9-4 5-4 7-13 4-17 14-86 2-9 2-1 5 16 11 77 7 27 4 9 5 6 6 4 12 3" stroke="#ff0000" stroke-opacity="0.5"/>
<path d="M1109 5394l20-3 14-5 6-5 7-11 7-21 4-21 14-87 4-16 3-1 4 14 18 110 5 16 6 15 5 5 7 5 18 4 24-2 9-3 7-4 9-12 7-22 7-37 13-100 2-9 3-5 2 0 9 11 7 0 4 9 18 128 7 25 4 9 5 5 7 4 9 4 24 3 27-2 7-2 7-4 7-11 4-14 16-99 2-7 2-1 5 19 11 75 5 19 4 11 5 6 6 5 12 3" stroke="#ff0000" stroke-opacity="0.4"/>
<path d="M1109 5384l18-3 11-6 7-6 7-14 6-26 5-27 16-125 2-8 2-1 5 16 18 138 4 20 7 18 4 6 7 5 9 3 11 2 14-1 11-2 9-4 7-6 7-12 6-25 7-44 14-120 2-12 2-6 2-1 9 13 7 0 2 3 3 7 18 153 6 31 5 11 4 7 7 5 11 4 27 4 25-3 7-3 7-6 4-10 5-16 4-26 11-89 3-10 2-1 4 22 12 89 6 31 5 10 4 5 9 6 12 3" stroke="#ff0000" stroke-opacity="0.3"/>
<path d="M1109 5384l18-4 13-6 9-10 7-14 9-41 16-123 4-18 3 1 4 20 11 91 7 43 5 18 6 17 5 6 7 5 9 4 11 2 22 0 9-3 7-4 5-6 4-9 7-27 7-46 11-101 4-24 3-4 2 0 7 11 2 2 7 0 2 4 4 24 9 86 7 51 7 28 7 12 6 6 7 3 11 3 16 2 16 0 13-2 7-2 7-5 7-14 4-18 14-100 4-20 2 2 3 10 11 90 7 34 4 13 5 6 6 5 12 4" stroke="#ff0000" stroke-opacity="0.3"/>
<path d="M1109 5387l18-1 11-4 7-6 7-12 9-36 15-121 5-23 2-3 2 4 5 24 16 118 4 19 7 18 4 6 7 4 7 2 11 1 14-2 13-3 9-4 7-5 4-7 5-11 7-29 18-148 2-13 2-6 2-1 9 14 7 1 2 3 3 6 18 150 6 31 5 12 4 6 7 6 9 4 14 3 13 1 16-1 11-2 7-3 7-7 6-15 5-21 13-102 3-10 2-2 4 19 12 87 6 31 5 10 4 6 9 5 12 3" stroke="#ff0000" stroke-opacity="0.3"/>
<path d="M1109 5399l18-3 13-4 9-6 7-11 7-20 4-21 16-97 2-7 3-1 4 11 18 108 5 16 6 15 5 5 7 4 20 5 25-2 9-3 6-4 5-6 4-9 7-25 18-123 2-10 3-5 2-1 9 11 7 0 2 2 2 6 18 123 7 25 4 8 5 6 7 4 9 3 29 2 25-2 9-4 4-4 7-13 4-18 14-86 2-9 2-1 5 17 11 75 7 27 4 9 5 5 7 4 9 2" stroke="#ff0000" stroke-opacity="0.5"/>
<path d="M1109 5384l18-3 13-6 9-8 7-14 7-26 4-27 16-124 2-8 3-2 4 16 18 138 5 21 6 18 5 7 7 6 9 3 11 3 13 0 12-1 9-4 6-5 7-12 7-25 7-44 13-119 2-12 3-7 2-1 9 13 7-1 2 3 2 7 18 151 7 31 4 10 5 6 7 5 9 3 13 2 16 0 25-3 9-5 4-5 5-9 4-16 5-26 11-88 2-10 2-1 5 21 11 90 7 31 4 10 5 6 7 5 9 4" stroke="#ff0000" stroke-opacity="0.6"/>
<path d="M1109 5385l20-3 11-4 9-9 7-15 9-40 14-105 4-25 2-4 3 3 4 22 16 118 4 20 7 19 5 7 6 6 7 2 11 2 14 0 13-2 9-4 7-5 5-6 4-10 7-27 7-46 11-98 4-21 3-3 2 1 7 10 9 2 2 5 4 26 9 84 7 48 7 26 7 12 6 5 9 4 25 3 16 0 13-3 9-4 5-4 7-14 4-19 14-100 2-11 2-5 2 4 3 12 11 88 7 32 4 12 5 6 6 5 12 4" stroke="#ff0000" stroke-opacity="0.6"/>
<path d="M1109 5396l18-4 13-5 7-6 7-12 9-33 16-110 4-22 2-3 3 4 4 21 16 109 4 18 7 17 5 6 6 5 18 3 14 0 13-2 9-4 7-5 5-6 4-10 7-27 18-136 2-11 2-7 3-2 9 11 6 0 3 2 2 6 4 26 14 110 7 30 4 10 5 6 6 5 9 4 27 4 27-1 7-3 7-5 7-14 4-18 14-94 2-10 2-3 5 17 11 82 7 29 4 10 5 5 6 5 12 3" stroke="#ff0000" stroke-opacity="0.5"/>
<path d="M1109 5378l22-8 12-6 6-8 7-15 9-41 16-129 4-18 3 1 4 21 11 99 7 46 5 21 6 19 5 7 7 6 9 4 11 3 11 0 11-2 9-5 7-5 5-7 4-11 7-28 7-49 13-124 2-10 3-5 2 0 7 10 2 2 7-1 4 13 18 157 7 29 4 10 5 7 7 5 11 6 29 8 14 1 9-1 6-2 5-4 7-13 4-18 14-104 4-21 2 1 3 10 11 90 7 36 4 12 5 6 6 5 12 1" stroke="#ff0000" stroke-opacity="0.3"/>
<path d="M1109 5381l20-5 14-6 6-7 7-14 9-40 16-122 4-17 3 1 4 20 11 93 7 43 5 19 6 17 5 6 7 6 9 4 11 2 11 1 11-1 9-4 7-4 5-6 4-10 7-27 7-45 11-102 4-24 3-4 2 0 7 10 2 1 7-1 2 4 4 24 12 103 4 30 7 27 7 13 6 5 7 3 27 4 16 0 13-2 7-2 7-5 7-13 4-18 14-101 4-20 2 2 3 10 11 89 7 35 4 13 5 6 6 5 12 4" stroke="#ff0000" stroke-opacity="0.5"/>
<path d="M1109 5381l20-4 14-5 6-6 7-12 9-35 16-121 4-22 3-3 2 4 4 25 16 122 5 21 6 19 5 7 7 6 9 4 9 1 13 0 11-2 9-3 7-5 9-14 7-24 7-42 13-117 2-13 3-7 2-2 9 11 7 0 2 1 2 7 5 28 13 118 7 30 4 11 5 7 7 5 9 4 29 5 25 0 6-2 7-6 7-15 4-19 14-100 2-11 2-2 5 18 11 89 7 32 4 11 5 6 7 4 9 3" stroke="#8a0000" stroke-opacity="0.8"/>
<path d="M1109 5394l18-3 13-5 9-6 7-12 9-31 16-96 4-14 3 0 4 15 11 70 7 33 5 15 6 13 5 4 7 4 18 3 24-1 9-2 7-4 9-12 7-20 7-36 11-80 4-20 3-3 2 0 7 8 2 1 7 0 2 3 4 19 16 109 7 23 4 8 5 5 7 4 9 2 24 3 27-3 7-2 7-4 7-10 4-13 14-74 4-16 2 1 3 7 11 65 7 26 4 9 5 5 6 4 12 3" stroke="#000" stroke-opacity="0.5"/>
<path d="M1109 5389l18-2 13-3 9-7 7-12 9-34 14-91 4-21 2-4 3 2 4 18 16 102 4 18 7 17 5 6 6 4 7 2 11 1 14-1 13-3 9-4 7-5 9-15 7-25 7-41 11-89 4-20 3-2 2 1 7 10 9 3 2 5 4 22 9 74 7 42 7 23 7 11 6 6 9 4 27 6 27 0 7-2 7-4 7-12 4-15 14-85 4-15 2 3 3 9 11 75 7 29 4 9 5 6 6 4 12 2" stroke="#000" stroke-opacity="0.2"/>
<path d="M1109 5393l18-2 11-4 7-4 7-9 9-26 15-85 5-17 2-2 2 3 5 17 16 85 4 14 7 13 4 5 7 4 18 3 27-1 9-3 7-4 9-12 7-20 18-102 2-8 2-5 2-2 9 7 7-1 2 1 3 4 4 21 14 85 6 23 5 8 4 5 7 4 9 3 27 3 27-1 7-2 7-4 6-10 5-13 13-67 3-7 2-2 4 13 12 58 6 21 5 7 4 4 9 4 12 2" stroke="#000" stroke-opacity="0.4"/>
<path d="M1109 5397l31-7 7-3 7-7 7-13 4-13 16-62 2-4 2-1 5 8 18 71 4 10 7 10 11 6 18 3 25-1 16-5 9-8 7-15 6-25 14-69 2-7 2-3 3-1 9 10 9 5 2 4 18 84 7 17 9 10 18 7 27 5 24 1 7-1 7-3 7-8 4-10 14-52 2-5 2-1 5 10 11 44 7 15 4 5 5 2 18 2" stroke="#000" stroke-opacity="0.8"/>
<path d="M1109 5401l31-5 7-3 7-6 9-16 16-52 4-8 2 1 5 8 11 39 7 18 4 8 7 8 11 5 21 2 22-1 16-4 9-8 7-14 6-24 12-52 4-13 2-3 3 1 9 8 6 1 5 7 18 75 7 14 6 6 14 5 25 2 29 0 16-4 6-5 5-7 13-43 5-9 2 1 2 4 12 37 4 11 5 7 9 6 18 3" stroke="#000" stroke-opacity="0.3"/>
<path d="M1109 5396l18-2 11-3 7-5 7-10 9-28 15-94 5-18 2-2 2 2 5 19 16 90 4 15 7 14 4 5 7 4 18 2 27-2 9-3 7-5 4-5 5-8 7-23 18-118 2-10 2-6 2-2 9 9 7 0 2 1 3 5 4 23 14 97 6 25 5 9 4 5 7 4 9 3 25 3 29-1 9-2 5-3 6-11 5-14 13-72 3-8 2-2 4 14 12 66 6 23 5 8 4 5 9 4 12 2" stroke="#000" stroke-opacity="0.4"/>
<path d="M1109 5396l18-3 13-4 7-6 7-11 9-30 16-92 4-13 2 0 5 15 11 68 7 31 4 14 7 12 5 4 6 4 18 2 25-2 9-3 7-4 9-12 7-20 6-35 12-77 4-18 2-3 3 0 6 9 3 2 6 1 3 3 4 19 16 101 7 21 4 7 5 5 15 6 27 3 25-1 7-2 7-4 6-10 5-14 13-76 5-15 2 1 2 7 12 67 6 26 5 9 4 5 7 4 14 3" stroke="#000" stroke-opacity="0.3"/>
<path d="M1109 5390l20-3 14-5 9-7 6-12 9-35 16-106 5-16 2 0 4 17 12 78 6 37 5 17 7 14 4 5 7 4 18 4 25-2 9-3 6-5 5-5 4-9 7-24 7-41 11-92 5-22 2-4 2 0 9 13 7 2 2 4 5 21 15 121 7 25 5 9 4 5 7 4 9 3 25 4 27-2 6-2 7-5 7-11 4-15 14-87 4-18 3 1 2 8 11 76 7 31 4 10 5 6 7 5 9 3" stroke="#000" stroke-opacity="0.6"/>
<path d="M1109 5393l20-3 11-4 7-5 7-10 7-18 4-19 14-77 4-14 2-1 5 12 18 96 4 15 7 12 5 5 6 4 18 4 25 0 9-2 7-4 9-10 7-17 6-31 14-82 2-8 2-5 3 0 9 7 6 0 3 1 2 5 18 106 7 21 4 7 5 4 15 6 30 2 24-2 9-2 5-4 4-6 5-11 16-79 2-6 2 0 5 15 11 62 7 21 4 7 5 4 6 3 12 3" stroke="#000" stroke-opacity="0.7"/>
<path d="M1109 5408l31-5 7-3 7-5 9-13 16-44 4-9 2-1 3 2 4 8 16 43 4 8 7 7 11 4 23 2 25 0 13-4 9-7 7-13 18-63 2-5 2-3 3 0 9 8 9 4 2 3 18 57 7 12 6 5 14 4 22 1 34-1 16-2 7-5 4-6 14-33 2-3 2-1 5 6 11 29 7 11 9 6 18 3" stroke="#000" stroke-opacity="0.6"/>
<path d="M1109 5396l18-3 13-4 7-5 7-9 9-26 16-86 4-16 2-2 3 3 4 17 16 84 4 14 7 13 5 4 6 4 21 3 24-2 9-3 7-5 9-13 7-21 18-109 2-9 2-5 3-1 9 11 9 5 2 4 18 106 7 22 4 8 5 5 15 7 30 5 24 1 7-2 7-3 7-10 4-14 14-69 2-7 2-1 5 12 11 61 7 21 4 8 5 3 6 3 12 2" stroke="#000" stroke-opacity="0.4"/>
<path d="M1109 5396l18-2 13-4 9-5 7-9 9-24 16-82 4-16 3-2 2 3 4 16 16 80 5 14 6 12 5 5 7 3 20 3 25-2 9-3 6-4 9-13 7-20 18-104 2-9 3-5 2-1 9 8 7-1 2 1 2 4 5 21 13 86 7 22 4 8 5 5 7 4 9 3 27 3 27-1 6-2 7-4 7-10 4-13 14-68 2-7 2-1 5 12 11 59 7 21 4 7 5 4 16 5" stroke="#000" stroke-opacity="0.6"/>
<path d="M1109 5403l29-1 7-2 7-5 6-9 5-9 13-40 5-7 2 0 5 6 18 50 4 8 7 6 11 4 20 0 23-2 16-6 9-7 6-12 7-21 14-54 2-5 2-3 2 0 9 5 7 0 5 4 18 67 6 13 9 8 16 4 32 4 24 1 12-2 4-3 5-6 15-41 3-3 2 0 4 8 12 33 6 11 9 6 21 3" stroke="#000" stroke-opacity="0.2"/>
<path d="M1109 5403l31-2 7-2 7-4 9-13 16-44 4-8 2-1 3 1 4 10 16 44 4 8 7 7 11 4 16 0 25-2 18-5 9-6 7-11 6-18 14-52 2-5 2-3 3 0 9 8 9 3 2 4 4 12 12 44 4 12 7 10 9 6 18 5 22 1 25-1 16-4 7-5 4-7 14-35 2-4 2-1 5 6 11 29 7 10 9 5 18 3" stroke="#000" stroke-opacity="0.3"/>
<path d="M1109 5395l18-2 13-3 9-5 7-8 9-24 16-82 4-16 3-2 2 2 4 16 16 82 5 14 6 13 5 5 7 3 18 3 27-2 9-3 6-4 9-12 7-21 18-106 2-9 3-6 2-1 9 10 9 3 2 4 5 20 13 83 7 22 4 8 5 4 7 4 9 3 27 3 27 0 6-2 7-3 7-9 4-12 14-63 2-7 2-2 5 10 11 56 7 20 4 7 5 4 16 5" stroke="#000" stroke-opacity="0.2"/>
<path d="M1109 5405l31-3 9-3 7-5 7-10 4-10 14-42 4-7 3-1 4 7 18 51 5 8 6 6 12 5 18 1 24-1 16-4 9-7 7-11 7-19 13-51 2-5 3-2 2 0 9 6 7 1 4 5 18 63 7 13 9 6 13 4 25 2 27 0 16-3 7-5 4-6 16-42 2-3 2 0 5 9 9 27 7 13 9 8 18 4" stroke="#000" stroke-opacity="0.4"/>
</g></g>
<path d="M370.6,1815 L515.3,1815" stroke="#b3b3b3" stroke-width="1.2"/>
<clipPath id="t25"><rect x="369.6" y="1815" width="146.7" height="16"/></clipPath><g clip-path="url(#t25)">
<text class="k" x="399" y="1825">3.280</text>
<text class="k" x="434.3" y="1825">3.270</text>
<text class="k" x="470.3" y="1825">3.260</text>
<text class="k" x="505.3" y="1825">3.250</text>
</g>
<path d="M399,1815 L399,1818 M434.3,1815 L434.3,1818 M470.3,1815 L470.3,1818 M505.3,1815 L505.3,1818 M381.3,1815 L381.3,1817 M399,1815 L399,1817 M416.6,1815 L416.6,1817 M434.3,1815 L434.3,1817 M451.9,1815 L451.9,1817 M469.6,1815 L469.6,1817 M487.2,1815 L487.2,1817 M504.9,1815 L504.9,1817" stroke="#999" stroke-width="0.8"/>
<path class="a" d="M560.9,1709.5V1811.7H701.1"/>
<text class="y" x="558.7" y="1711.9">80</text>
<text class="y" x="558.7" y="1737.5">70</text>
<text class="y" x="558.7" y="1763">60</text>
<text class="y" x="558.7" y="1788.6">50</text>
<text class="y" x="558.7" y="1814.1">40</text>
<text class="u" x="535.9" y="1760.6" transform="rotate(-90 535.9 1760.6)" dy="2.8">A.U.</text>
<path class="w" d="M596.1,1728.6V1748.5M596.1,1779.5V1788.3M584.8,1728.6h22.6M584.8,1788.3h22.6"/>
<rect class="b" x="573.5" y="1748.5" width="45.3" height="31" fill="#888"/>
<path class="m" d="M573.5,1772.4H618.8"/>
<path class="w" d="M666.1,1721.6V1731.2M666.1,1758.6V1782.8M654.7,1721.6h22.9M654.7,1782.8h22.9"/>
<rect class="b" x="643.2" y="1731.2" width="45.8" height="27.4" fill="#ff0000"/>
<path class="m" d="M643.2,1744.3H689"/>
<path class="t" d="M558.4,1709.5h2.5M558.4,1735h2.5M558.4,1760.6h2.5M558.4,1786.2h2.5M558.4,1811.7h2.5M596.1,1811.7v3M666.1,1811.7v3"/>
<text class="x" x="595.6" y="1819.2" transform="rotate(-45 595.6 1819.2)" dy="4">HC</text>
<text class="x" x="665.6" y="1819.2" transform="rotate(-45 665.6 1819.2)" dy="4">PR</text>
<path class="st" d="M628.8,1711.5l0,-3.3M628.8,1711.5l3.1,-1M628.8,1711.5l1.9,2.7M628.8,1711.5l-1.9,2.7M628.8,1711.5l-3.1,-1"/>
<text class="n" x="627.5" y="1732.9" textLength="15.4" lengthAdjust="spacingAndGlyphs">ns</text>
<rect x="483.4" y="1682.9" width="90.5" height="18.5" fill="#fff"/><text x="528.7" y="1696.4" font-size="17.5" font-weight="bold" text-anchor="middle">D-Glucose</text>
<clipPath id="c26"><rect x="742.6" y="926.5" width="144.2" height="111.5"/></clipPath>
<rect x="742.6" y="926.5" width="144.2" height="111.5" fill="none" stroke="#e6e6e6" stroke-width="1"/>
<g clip-path="url(#c26)" fill="none" stroke-linejoin="round"><g transform="scale(0.333333)" stroke-width="3">
<path d="M2225 3021l97-12 27 0 26 2 26 6 26 10 23 10 60 32 34 13 22 5 23 3 71 3" stroke="#000" stroke-opacity="0.2"/>
<path d="M2225 2957l30 2 79 4 26 4 22 6 23 9 22 12 23 17 52 43 19 12 15 8 23 8 26 6 30 3 45 2" stroke="#0000ff" stroke-opacity="0.6"/>
<path d="M2225 3007l22-3 19-1 23 1 26 4 41 10 41 12 30 12 64 28 38 12 26 5 26 3 79 3" stroke="#000" stroke-opacity="0.7"/>
<path d="M2225 3024l75-5 37 2 42 10 135 45 30 8 45 7 71 2" stroke="#000" stroke-opacity="0.4"/>
<path d="M2225 2946l26 3 120 21 30 7 19 8 19 11 18 15 49 44 15 10 19 10 22 8 23 5 30 3 45 2" stroke="#0000ff" stroke-opacity="0.3"/>
<path d="M2225 2976l37-1 72-5 22 1 19 4 22 8 23 11 22 16 53 43 19 12 18 10 23 7 30 6 34 3 41 2" stroke="#000" stroke-opacity="0.8"/>
<path d="M2225 2950l26-2 26 3 64 18 56 12 19 7 15 7 15 11 41 40 19 15 15 10 19 8 19 5 26 4 75 5" stroke="#0000ff" stroke-opacity="0.3"/>
<path d="M2225 2948l64-8 26-2 26 2 23 6 30 13 26 17 22 19 57 53 18 14 15 9 23 9 26 7 34 4 45 2" stroke="#000" stroke-opacity="0.4"/>
<path d="M2225 2949l97-6 23 1 22 5 27 12 22 14 23 19 52 51 19 15 19 11 22 9 30 7 34 4 45 2" stroke="#000" stroke-opacity="0.3"/>
<path d="M2225 2946l41-6 38-1 37 5 41 11 27 11 26 16 19 17 52 52 15 12 19 11 22 8 23 5 30 4 45 2" stroke="#0000ff" stroke-opacity="0.3"/>
<path d="M2225 2974l26-7 19-2 19 0 22 5 128 46 26 15 52 36 30 14 19 5 23 4 71 3" stroke="#0000ff" stroke-opacity="0.6"/>
<path d="M2225 3017l22-3 23-1 22 1 23 3 34 7 78 22 90 30 30 8 45 7 68 2" stroke="#000" stroke-opacity="0.5"/>
<path d="M2225 2919l26-3 45-11 19-3 22 1 19 5 23 13 22 18 23 22 63 70 23 19 19 13 26 13 26 8 34 6 45 3" stroke="#0000ff" stroke-opacity="0.6"/>
<path d="M2225 2957l90-6 22 2 23 5 26 11 26 15 27 20 56 47 19 12 18 10 27 9 26 6 34 3 41 2" stroke="#000" stroke-opacity="0.6"/>
<path d="M2225 2895l52-7 30-2 27 3 22 8 26 15 27 22 26 28 56 68 19 18 19 15 26 14 26 8 34 5 45 3" stroke="#0000ff" stroke-opacity="0.7"/>
<path d="M2225 3006l15 2 15-1 19-4 48-15 15-2 15 2 15 4 19 9 53 34 22 13 26 12 38 14 30 9 30 6 34 3 41 1" stroke="#000" stroke-opacity="0.4"/>
<path d="M2225 2924l97-16 27 1 22 7 26 14 23 19 22 24 53 62 19 18 18 14 23 11 26 7 34 5 45 3" stroke="#0000ff" stroke-opacity="0.7"/>
<path d="M2225 3000l101-3 23 1 22 4 26 7 23 10 22 12 53 32 19 9 18 7 23 6 26 4 34 3 45 1" stroke="#000" stroke-opacity="0.2"/>
<path d="M2225 2938l64-9 26-2 26 1 23 6 26 12 26 18 23 20 56 58 19 16 18 11 23 10 26 7 34 5 45 2" stroke="#0000ff" stroke-opacity="0.3"/>
<path d="M2225 2962l71 14 23 1 52-1 26 4 15 6 15 10 15 12 49 46 15 11 19 10 22 7 30 6 38 3 45 2" stroke="#000" stroke-opacity="0.3"/>
<path d="M2225 2993l67-4 19 1 19 4 34 12 60 30 26 12 86 30 26 7 27 4 30 3 41 1" stroke="#000" stroke-opacity="0.6"/>
<path d="M2225 2907l105 3 22 4 23 7 26 15 23 17 22 23 53 62 18 18 19 13 23 10 26 7 30 4 45 3" stroke="#0000ff" stroke-opacity="0.3"/>
<path d="M2225 2951l86-7 23 1 18 5 27 11 26 16 26 21 60 52 19 13 19 10 26 9 26 6 34 3 45 2" stroke="#000" stroke-opacity="0.4"/>
<path d="M2225 2994l82-5 27 2 22 4 26 8 30 12 83 48 37 16 27 6 26 4 75 4" stroke="#000" stroke-opacity="0.5"/>
<path d="M2225 2955l37-2 34 1 26 4 27 6 26 10 26 14 26 18 60 46 19 12 19 9 26 8 30 7 34 3 45 2" stroke="#0000ff" stroke-opacity="0.3"/>
</g></g>
<path d="M742.6,1039.5 L886.8,1039.5" stroke="#b3b3b3" stroke-width="1.2"/>
<clipPath id="t26"><rect x="741.6" y="1039.5" width="146.2" height="16"/></clipPath><g clip-path="url(#t26)">
<text class="k" x="762.3" y="1049.8">0.87</text>
<text class="k" x="786.7" y="1049.8">0.86</text>
<text class="k" x="811.3" y="1049.8">0.85</text>
<text class="k" x="835.7" y="1049.8">0.84</text>
<text class="k" x="860.4" y="1049.8">0.83</text>
<text class="k" x="884.8" y="1049.8">0.82</text>
</g>
<path d="M762.3,1039.5 L762.3,1042.5 M786.7,1039.5 L786.7,1042.5 M811.3,1039.5 L811.3,1042.5 M835.7,1039.5 L835.7,1042.5 M860.4,1039.5 L860.4,1042.5 M884.8,1039.5 L884.8,1042.5 M750.1,1039.5 L750.1,1041.5 M762.3,1039.5 L762.3,1041.5 M774.5,1039.5 L774.5,1041.5 M786.7,1039.5 L786.7,1041.5 M798.9,1039.5 L798.9,1041.5 M811.1,1039.5 L811.1,1041.5 M823.3,1039.5 L823.3,1041.5 M835.5,1039.5 L835.5,1041.5 M847.7,1039.5 L847.7,1041.5 M859.9,1039.5 L859.9,1041.5 M872.1,1039.5 L872.1,1041.5 M884.3,1039.5 L884.3,1041.5" stroke="#999" stroke-width="0.8"/>
<path class="a" d="M930.1,935.8V1036H1072.3"/>
<text class="y" x="927.9" y="938.2">60</text>
<text class="y" x="927.9" y="971.6">40</text>
<text class="y" x="927.9" y="1005">20</text>
<text class="y" x="927.9" y="1038.4">0</text>
<text class="u" x="905.1" y="985.9" transform="rotate(-90 905.1 985.9)" dy="2.8">A.U.</text>
<path class="w" d="M966,960V973.1M966,986.4V997.7M954.4,960h23.3M954.4,997.7h23.3"/>
<rect class="b" x="942.7" y="973.1" width="46.6" height="13.3" fill="#888"/>
<path class="m" d="M942.7,978.6H989.3"/>
<path class="w" d="M1036.8,943.6V956M1036.8,966.8V976.8M1025.2,943.6h23M1025.2,976.8h23"/>
<rect class="b" x="1013.7" y="956" width="46.1" height="10.8" fill="#0000ff"/>
<path class="m" d="M1013.7,961.7H1059.8"/>
<path class="t" d="M927.6,935.8h2.5M927.6,969.2h2.5M927.6,1002.6h2.5M927.6,1036h2.5M966,1036v3M1036.8,1036v3"/>
<text class="x" x="965.5" y="1043.5" transform="rotate(-45 965.5 1043.5)" dy="4">HC</text>
<text class="x" x="1036.2" y="1043.5" transform="rotate(-45 1036.2 1043.5)" dy="4">CT</text>
<path class="st" d="M993.8,935.8l0,-3.3M993.8,935.8l3.1,-1M993.8,935.8l1.9,2.7M993.8,935.8l-1.9,2.7M993.8,935.8l-3.1,-1M1002.4,935.8l0,-3.3M1002.4,935.8l3.1,-1M1002.4,935.8l1.9,2.7M1002.4,935.8l-1.9,2.7M1002.4,935.8l-3.1,-1"/>
<path class="pl" d="M994.6,949.9h7M998.1,946.4v7"/>
<rect x="865.1" y="906.7" width="95.2" height="18.5" fill="#fff"/><text x="912.7" y="920.2" font-size="17.5" font-weight="bold" text-anchor="middle">LDL1 (CH<tspan dy="4.5" font-size="12">3</tspan><tspan dy="-4.5">)</tspan></text>
<path d="M742,1011 C780,1016 820,1022 850,1028 C865,1031 875,1032 887,1032" stroke="#999" stroke-width="1" fill="none" clip-path="url(#c26)"/>
<clipPath id="c27"><rect x="1106.1" y="924.8" width="144.2" height="110.6"/></clipPath>
<rect x="1106.1" y="924.8" width="144.2" height="110.6" fill="none" stroke="#e6e6e6" stroke-width="1"/>
<g clip-path="url(#c27)" fill="none" stroke-linejoin="round"><g transform="scale(0.333333)" stroke-width="3">
<path d="M3315 2958l12 2 9 0 6-3 6-8 9-25 15-66 6-13 3 0 6 12 18 68 3 6 6 8 6 0 6-2 36-33 15-10 12-4 12 1 12 6 12 11 15 19 45 64 15 16 18 14 15 8 9 0 6-4 12-16 3-2 3 1 6 7 12 21 6 5 9 3 12 0 6-3 9-9 3-2 6 4 9 11 9 6" stroke="#0000ff" stroke-opacity="0.3"/>
<path d="M3315 2968l21 2 6-1 6-4 9-12 15-35 6-7 3 0 6 7 18 42 6 9 6 3 12 0 48-14 12 0 12 2 12 4 12 7 51 40 15 10 15 7 18 6 15 2 9-2 12-7 6-1 24 16 21 4 18-3 6 3 9 8 9 5" stroke="#0000ff" stroke-opacity="0.5"/>
<path d="M3315 2960l12 2 9-1 6-4 6-8 9-29 15-74 6-16 3-1 3 3 6 18 12 48 6 14 6 6 6-1 6-6 33-43 12-13 15-10 12-2 12 6 15 16 15 23 33 61 15 24 15 20 18 17 12 8 9 1 6-4 12-15 3-2 3 0 6 6 12 19 6 4 9 2 12-2 18-15 6 3 12 11 6 2" stroke="#0000ff" stroke-opacity="0.7"/>
<path d="M3315 3032l18 5 6 0 6-3 9-13 15-36 6-9 3-1 6 6 18 38 6 6 6 1 12-5 33-26 15-10 15-4 12 0 12 5 15 11 60 65 18 16 18 12 9 4 9 0 6-4 9-9 6-1 6 6 12 17 9 6 18 2 15-6 6-1 15 9 9 2" stroke="#000" stroke-opacity="0.3"/>
<path d="M3315 3002l21 0 12-4 9-8 18-28 6-4 6 1 18 18 9 3 12-4 30-17 15-7 15-3 12 1 12 4 15 10 51 49 27 20 21 10 18 5 6-1 12-6 6-1 6 4 12 16 9 8 18 8 21 3 21 13" stroke="#000" stroke-opacity="0.3"/>
<path d="M3315 3021l21 8 9 1 9-7 18-25 6-1 6 5 18 30 6 5 9 1 15-7 30-21 15-9 15-5 15 0 12 4 15 10 63 63 18 14 15 9 6 2 6-1 6-5 9-12 3-2 3-1 6 7 12 20 9 7 9 1 9-1 6-3 9-6 6-2 15 9 9 1" stroke="#000" stroke-opacity="0.4"/>
<path d="M3315 2996l21-2 6-4 6-7 9-22 18-77 6-12 3 0 6 10 12 41 6 14 3 4 6 4 6-3 6-5 27-31 15-14 15-8 12-1 12 6 15 15 15 22 42 70 15 19 18 16 15 9 6 2 6 0 6-4 12-21 6-6 3 1 3 4 12 26 9 10 9 4 9 1 6 0 12-6 3 0 15 14 6 4" stroke="#000" stroke-opacity="0.6"/>
<path d="M3315 2986l12 7 9 2 6-1 6-6 9-21 15-52 3-6 3-2 3 1 3 4 18 52 6 8 6 3 6-3 6-5 27-29 15-14 15-8 12-1 12 5 15 12 12 14 45 62 15 15 15 12 15 7 15 4 6 0 12-5 6 0 6 2 18 13 18 5 9-1 9-5 6 0 15 13 9 5" stroke="#0000ff" stroke-opacity="0.7"/>
<path d="M3315 3025l18-2 12-6 9-12 15-30 6-7 3 0 6 4 18 31 6 6 6 3 9 2 45 0 30 5 27 11 69 34 39 15 9-1 15-16 3-2 3 0 6 6 12 20 9 6 18 3 15-6 6-1 15 7 9 2" stroke="#000" stroke-opacity="0.4"/>
<path d="M3315 2961l21 1 6-2 6-5 9-17 15-43 6-9 3 0 3 3 18 44 6 10 6 4 6 0 9-5 33-29 15-10 12-4 12 0 12 5 12 9 54 62 15 14 15 10 18 7 12 2 9-5 12-15 3-2 3 1 6 6 12 17 6 5 12 4 9 1 6-3 9-6 3 0 6 4 12 16 6 4" stroke="#000" stroke-opacity="0.3"/>
<path d="M3315 2997l12 5 9 1 6-1 6-5 9-16 15-43 6-9 3-1 3 2 18 31 3 3 6 3 6-2 6-4 24-23 15-12 12-6 12-1 6 2 9 4 15 14 15 20 30 48 15 21 15 16 15 11 12 5 15 2 12-4 15-12 6-2 18 6 6 1 21-1 15-3 6 1 21 16" stroke="#000" stroke-opacity="0.8"/>
<path d="M3315 2957l21-5 6-5 6-9 9-26 15-60 6-11 3 0 6 11 12 40 6 14 3 4 6 4 6-1 6-5 30-30 12-10 12-6 12-1 12 5 15 15 15 22 45 76 15 19 18 15 15 8 12 1 6-4 12-17 6-6 3 1 3 3 12 18 9 7 12 2 9-1 12-10 6-2 6 5 9 11 9 5" stroke="#0000ff" stroke-opacity="0.3"/>
<path d="M3315 2957l21-2 6-4 6-8 9-25 15-63 6-12 3 0 6 11 18 62 3 5 6 6 6 1 6-3 30-26 15-10 15-5 12 2 12 7 12 11 15 20 42 63 18 20 15 12 15 7 12 2 9-5 12-12 6-2 6 5 12 13 6 3 12 2 6-1 6-2 12-12 3-1 6 4 9 11 9 6" stroke="#0000ff" stroke-opacity="0.5"/>
<path d="M3315 2968l12 1 9-2 6-5 6-11 9-32 15-73 3-8 3-4 3 2 6 16 15 62 6 14 6 5 6-2 6-5 33-45 15-16 9-7 6-3 12 0 12 6 15 17 12 18 42 72 15 21 18 18 15 10 9 4 6-1 12-8 6-2 6 5 15 20 6 5 12 4 9 1 12-8 3-2 3 1 15 19 9 6" stroke="#0000ff" stroke-opacity="0.4"/>
<path d="M3315 2984l21 8 6 1 6-2 9-9 15-27 3-2 3-1 3 2 6 9 15 35 6 8 6 4 9 1 9-3 36-19 15-6 12-2 12 1 12 4 12 7 63 54 18 13 15 7 9 3 6 1 6-3 12-9 3 0 6 3 12 13 9 5 12 2 9-1 15-10 3-1 3 1 12 9 9 3" stroke="#000" stroke-opacity="0.5"/>
<path d="M3315 2976l12 1 9 0 6-4 6-7 9-21 15-51 6-9 3 1 6 10 15 41 6 8 6 2 6-2 6-4 30-32 15-14 15-7 12 1 12 6 15 15 12 17 33 53 15 22 15 18 18 16 15 8 6 0 3-1 6-7 9-18 3-5 3-1 3 1 3 5 12 29 9 11 9 3 9 1 6-2 12-8 3 0 15 12 9 4" stroke="#000" stroke-opacity="0.4"/>
<path d="M3315 3001l12 4 6 1 6-3 6-6 9-24 15-57 3-7 3-3 3 1 3 5 18 59 3 6 6 8 6 1 9-6 33-34 15-12 15-6 12 0 12 5 12 10 15 18 45 59 18 18 15 10 12 5 9 2 9-2 12-6 6-1 15 9 12 2 18-1 18-6 15 7 12 4" stroke="#0000ff" stroke-opacity="0.5"/>
<path d="M3315 2956l21 10 6 0 6-3 9-14 15-37 6-6 3 0 6 9 12 29 6 11 3 3 6 3 6-1 6-3 30-23 15-9 15-6 12 0 12 4 15 10 15 14 48 55 18 15 15 8 12 4 9-1 6-4 12-14 6-2 15 16 9 5 12 0 9-2 12-9 6-2 6 3 9 8 9 5" stroke="#000" stroke-opacity="0.6"/>
<path d="M3315 3013l18 1 6-1 6-2 9-10 18-35 6-4 6 4 18 32 9 9 6 1 6 0 33-6 15-2 15 1 12 3 12 5 15 9 45 36 18 12 18 10 15 5 12 3 9-3 6-6 9-16 6-5 3 1 3 3 12 21 9 7 9 1 9-1 6-3 12-10 3-1 15 10 9 2" stroke="#000" stroke-opacity="0.3"/>
<path d="M3315 2977l15 2 9-2 6-4 6-8 9-28 15-74 6-17 3-2 3 3 3 7 18 72 3 7 6 8 6 1 6-3 33-32 15-12 15-6 12 1 12 7 12 11 12 15 48 70 15 16 18 14 15 8 9 2 6-2 12-7 6 0 21 16 15 4 12 0 15-8 6 2 9 10 6 4" stroke="#00006e" stroke-opacity="0.8"/>
<path d="M3315 3005l18 1 6-2 6-7 9-20 15-56 6-13 3-2 3 2 3 5 18 50 3 6 6 5 6 0 6-3 27-19 15-8 15-4 15 3 12 6 12 11 57 65 15 13 18 12 18 9 12 2 6-2 12-10 6 0 6 5 12 17 9 7 18 5 6 0 9-3 6 0 15 9 9 2" stroke="#000" stroke-opacity="0.5"/>
<path d="M3315 2980l12 0 9-2 6-4 6-9 9-28 15-71 6-16 3-1 3 4 3 7 18 72 3 7 6 9 6 2 6-2 33-24 15-8 15-3 12 2 12 6 12 10 57 67 15 14 18 14 18 9 9 1 6-5 12-20 3-3 3 1 6 9 12 29 9 10 9 4 9 2 6-2 9-8 3-1 6 4 12 14 6 3" stroke="#000" stroke-opacity="0.3"/>
<path d="M3315 3018l21 1 6-2 6-4 9-13 15-34 6-6 3 0 6 5 12 23 6 8 3 2 6 2 12-5 33-27 15-10 15-6 12 0 12 5 15 11 60 68 15 13 18 13 12 6 9 1 6-3 9-9 6-4 6 4 12 20 9 9 9 3 12 2 18-3 15 10 9 4" stroke="#000" stroke-opacity="0.6"/>
<path d="M3315 2992l24 12 6 0 6-3 9-15 15-43 6-9 3 0 6 8 18 48 6 8 6 1 6-2 6-5 33-34 15-13 15-7 9-1 6 1 12 6 12 10 15 16 42 52 15 15 18 13 12 7 9 2 6-1 12-9 6 0 6 6 12 16 9 6 18 5 18-1 21 11" stroke="#0000ff" stroke-opacity="0.6"/>
<path d="M3315 2945l12 3 9 0 6-3 6-8 9-26 15-69 3-8 3-5 3 1 3 5 18 76 6 17 6 9 6 1 9-4 36-33 15-10 12-4 12 0 9 4 12 9 12 12 42 50 15 14 15 9 18 8 12 2 9-4 12-13 6 0 6 5 12 16 6 4 9 3 12 1 6-3 9-9 3-1 6 6 9 14 9 7" stroke="#00006e" stroke-opacity="0.8"/>
<path d="M3315 2961l18-4 6-3 6-7 9-18 18-60 6-9 3-1 6 9 15 37 9 12 6 1 6-1 30-14 15-4 15-1 15 4 21 13 48 46 27 21 33 19 12 4 6-1 12-10 3-2 3 0 6 8 15 31 9 10 9 7 9 4 18-2 15 13 9 4" stroke="#000" stroke-opacity="0.3"/>
<path d="M3315 2941l18 0 6-4 6-7 9-24 15-59 6-12 3-1 6 10 12 41 6 15 3 5 6 4 6-1 6-4 33-39 15-15 15-8 12 1 12 6 15 16 60 96 15 19 18 18 12 8 9 2 6-3 12-14 3-1 3 1 6 9 12 24 9 9 9 4 9 1 6-2 9-7 3 0 6 5 12 15 9 4" stroke="#0000ff" stroke-opacity="0.7"/>
<path d="M3315 2973l12 4 9 1 6-2 6-6 9-22 15-54 6-10 3 0 6 10 15 49 6 11 6 5 6 0 6-3 30-23 15-9 15-3 12 1 12 6 12 9 57 67 15 13 15 10 15 6 15 2 9-2 12-6 6-1 21 12 21 4 6-2 12-7 3 0 6 5 9 11 9 7" stroke="#0000ff" stroke-opacity="0.7"/>
<path d="M3315 2991l21 1 6-1 6-3 9-11 18-37 6-4 3 1 6 9 18 37 6 6 6 3 9 2 39 0 24 5 24 10 57 31 21 7 21 5 18 2 9 0 6-3 12-14 6-3 6 5 12 18 9 7 18 5 21-2 21 11" stroke="#000" stroke-opacity="0.5"/>
<path d="M3315 2996l21 1 6-1 6-4 9-14 15-37 6-8 3 0 3 2 18 37 6 8 6 4 6-1 6-2 36-23 15-7 15-3 12 1 12 4 15 10 57 54 18 14 18 11 12 5 6 1 6-1 12-8 6 1 18 21 9 6 18 5 18-1 24 12" stroke="#0000ff" stroke-opacity="0.3"/>
</g></g>
<path d="M1106.1,1036.9 L1250.3,1036.9" stroke="#b3b3b3" stroke-width="1.2"/>
<clipPath id="t27"><rect x="1105.1" y="1036.9" width="146.2" height="16"/></clipPath><g clip-path="url(#t27)">
<text class="k" x="1139.1" y="1047.5">3.240</text>
<text class="k" x="1173.9" y="1047.5">3.230</text>
<text class="k" x="1209.7" y="1047.5">3.220</text>
<text class="k" x="1244.5" y="1047.5">3.210</text>
</g>
<path d="M1139.1,1036.9 L1139.1,1039.9 M1173.9,1036.9 L1173.9,1039.9 M1209.7,1036.9 L1209.7,1039.9 M1244.5,1036.9 L1244.5,1039.9 M1121.7,1036.9 L1121.7,1038.9 M1139.1,1036.9 L1139.1,1038.9 M1156.5,1036.9 L1156.5,1038.9 M1173.9,1036.9 L1173.9,1038.9 M1191.3,1036.9 L1191.3,1038.9 M1208.7,1036.9 L1208.7,1038.9 M1226.1,1036.9 L1226.1,1038.9 M1243.5,1036.9 L1243.5,1038.9" stroke="#999" stroke-width="0.8"/>
<path class="a" d="M1286.3,936.4V1035.2H1428.4"/>
<text class="y" x="1284.1" y="938.8">40</text>
<text class="y" x="1284.1" y="963.5">30</text>
<text class="y" x="1284.1" y="988.2">20</text>
<text class="y" x="1284.1" y="1012.9">10</text>
<text class="y" x="1284.1" y="1037.6">0</text>
<text class="u" x="1261.3" y="985.8" transform="rotate(-90 1261.3 985.8)" dy="2.8">A.U.</text>
<path class="w" d="M1323.2,974.5V987.7M1323.2,997.9V1009.8M1311.7,974.5h22.9M1311.7,1009.8h22.9"/>
<rect class="b" x="1300.3" y="987.7" width="45.7" height="10.2" fill="#888"/>
<path class="m" d="M1300.3,992.3H1346"/>
<path class="w" d="M1393.7,963.6V975.5M1393.7,985.2V995.3M1382.2,963.6h22.9M1382.2,995.3h22.9"/>
<rect class="b" x="1370.8" y="975.5" width="45.7" height="9.7" fill="#0000ff"/>
<path class="m" d="M1370.8,977.1H1416.5"/>
<path class="t" d="M1283.8,936.4h2.5M1283.8,961.1h2.5M1283.8,985.8h2.5M1283.8,1010.5h2.5M1283.8,1035.2h2.5M1323.2,1035.2v3M1393.7,1035.2v3"/>
<text class="x" x="1322.7" y="1042.7" transform="rotate(-45 1322.7 1042.7)" dy="4">HC</text>
<text class="x" x="1393.2" y="1042.7" transform="rotate(-45 1393.2 1042.7)" dy="4">CT</text>
<path class="st" d="M1348.8,935.7l0,-3.3M1348.8,935.7l3.1,-1M1348.8,935.7l1.9,2.7M1348.8,935.7l-1.9,2.7M1348.8,935.7l-3.1,-1M1357.4,935.7l0,-3.3M1357.4,935.7l3.1,-1M1357.4,935.7l1.9,2.7M1357.4,935.7l-1.9,2.7M1357.4,935.7l-3.1,-1"/>
<path class="pl" d="M1350.6,950.2h7M1354.1,946.7v7"/>
<text xml:space="preserve" x="1184.8" y="920.5" font-size="17.5" font-weight="bold" text-anchor="start">Lipids:  (-n(CH<tspan dy="4.5" font-size="12">3</tspan><tspan dy="-4.5">)</tspan><tspan dy="4.5" font-size="12">3</tspan><tspan dy="-4.5"> 3</tspan></text><path d="M1179.2,912.8 L1171.5,919.5" stroke="#000" stroke-width="2.3"/><path d="M1167,923.5 L1169.5,915.7 L1175,922 Z" fill="#000"/><path d="M1135.3,944.6 L1135.3,935.7 L1198.8,935.7 L1198.8,944.6 M1167.5,935.7 L1167.5,927.6" stroke="#000" stroke-width="2.2" fill="none" stroke-linejoin="round"/>
<path d="M1106,1012 C1115,1008 1120,1000 1125,998 C1135,1010 1160,1012 1200,1010 C1220,1012 1235,1025 1250,1030" stroke="#999" stroke-width="1" fill="none" clip-path="url(#c27)"/>
<clipPath id="c28"><rect x="742.6" y="1082.2" width="143.5" height="112"/></clipPath>
<rect x="742.6" y="1082.2" width="143.5" height="112" fill="none" stroke="#e6e6e6" stroke-width="1"/>
<g clip-path="url(#c28)" fill="none" stroke-linejoin="round"><g transform="scale(0.333333)" stroke-width="3">
<path d="M2225 3542l36-1 30-3 21-6 18-11 12-11 12-17 12-23 30-66 9-12 6-2 6 2 9 12 30 68 12 23 12 16 15 14 18 8 21 4 126 7" stroke="#000" stroke-opacity="0.4"/>
<path d="M2225 3556l72-3 21-3 15-4 15-7 12-9 39-38 9-4 6-1 6 2 9 6 27 27 15 12 12 8 15 5 21 5 33 3 108 2" stroke="#000" stroke-opacity="0.8"/>
<path d="M2225 3554l57 1 24-2 21-3 27-8 42-22 15-4 9 1 9 3 30 17 15 7 15 5 18 4 48 3 105-4" stroke="#0000ff" stroke-opacity="0.7"/>
<path d="M2225 3565l108-7 24-4 36-8 15-1 18 2 51 12 39 5 63 1 81-4" stroke="#0000ff" stroke-opacity="0.6"/>
<path d="M2225 3538l72-3 21-3 15-5 12-7 12-10 12-13 27-34 9-7 6-2 6 0 9 6 30 37 15 15 12 9 15 7 24 6 33 4 45 1 60 0" stroke="#0000ff" stroke-opacity="0.6"/>
<path d="M2225 3557l75-3 21-3 15-5 15-7 12-10 39-42 9-6 6-1 6 2 9 6 27 31 15 14 12 8 15 7 18 4 27 3 114 3" stroke="#000" stroke-opacity="0.6"/>
<path d="M2225 3545l39-1 30-3 21-6 18-10 12-11 12-17 12-22 30-67 9-12 6-3 6 2 9 12 30 66 15 28 12 15 15 12 21 9 27 5 39 2 72 1" stroke="#000" stroke-opacity="0.3"/>
<path d="M2225 3554l69-3 21-3 18-5 15-9 12-9 39-44 9-6 6-1 6 1 9 6 30 35 12 12 12 9 15 7 18 4 21 2 123 5" stroke="#000" stroke-opacity="0.4"/>
<path d="M2225 3547l39-3 27-4 21-6 15-9 15-15 12-18 39-81 9-11 6-1 6 3 9 12 27 57 15 26 12 16 15 12 21 9 30 6 57 6 60 3" stroke="#000" stroke-opacity="0.4"/>
<path d="M2225 3549l81-2 15-2 15-5 12-7 12-12 12-15 27-41 9-8 6-2 6 1 9 6 30 41 15 18 15 12 15 8 27 7 33 4 36 2 60-2" stroke="#000" stroke-opacity="0.6"/>
<path d="M2225 3524l45-5 27-5 12-5 9-6 15-14 15-26 12-31 39-140 9-18 3-2 3 0 6 6 9 22 27 103 15 47 12 27 15 21 9 8 12 7 27 9 45 5 69 1" stroke="#000" stroke-opacity="0.5"/>
<path d="M2225 3536l78-4 18-2 15-5 12-6 12-9 12-13 27-32 9-7 6-2 6 1 9 6 30 36 15 15 12 8 12 5 18 4 21 2 123 4" stroke="#0000ff" stroke-opacity="0.5"/>
<path d="M2225 3527l42-3 30-6 21-9 15-14 12-18 12-26 12-35 27-89 9-19 6-5 6 2 9 17 30 98 15 41 12 23 15 19 18 11 27 8 39 4 78 2" stroke="#000" stroke-opacity="0.6"/>
<path d="M2225 3556l75-2 36-5 24-10 39-26 9-4 6-1 6 0 9 4 30 20 15 8 24 7 39 4 123 2" stroke="#0000ff" stroke-opacity="0.7"/>
<path d="M2225 3558l45 0 48-7 30-8 48-24 15-3 15 4 42 25 24 7 24 2 75-2 69 5" stroke="#0000ff" stroke-opacity="0.7"/>
<path d="M2225 3545l69-3 21-3 18-6 12-6 12-8 39-40 9-6 6-2 6 1 9 5 30 32 15 13 12 8 15 6 18 4 24 2 120 3" stroke="#00006e" stroke-opacity="0.8"/>
<path d="M2225 3547l69-4 21-3 18-6 15-7 12-9 36-34 9-5 6-1 6 1 9 6 30 30 15 12 12 7 15 5 18 4 24 1 120 0" stroke="#0000ff" stroke-opacity="0.7"/>
<path d="M2225 3538l78-10 18-4 15-6 12-7 12-11 39-47 6-4 6-2 6 2 9 7 30 41 12 13 12 10 15 8 15 4 18 2 132 4" stroke="#0000ff" stroke-opacity="0.4"/>
<path d="M2225 3564l114-1 24-2 39-7 15-1 69 8 174 6" stroke="#0000ff" stroke-opacity="0.5"/>
<path d="M2225 3528l54-6 24-5 18-7 15-13 15-24 12-27 36-113 9-17 6-3 6 3 9 18 30 95 12 32 12 23 15 19 9 7 12 6 27 7 51 6 63 3" stroke="#000" stroke-opacity="0.5"/>
<path d="M2225 3528l60-4 18-3 18-7 15-12 15-23 12-27 36-112 9-17 6-3 6 3 9 17 30 92 15 37 12 21 15 17 12 9 12 5 15 5 18 4 39 3 63-1" stroke="#000" stroke-opacity="0.8"/>
<path d="M2225 3557l90-8 24-5 12-5 12-9 39-37 6-3 6-1 6 1 9 5 30 29 15 11 15 8 15 5 30 6 36 3 30 0 60-3" stroke="#000" stroke-opacity="0.4"/>
<path d="M2225 3566l51 1 42-2 90-11 18 2 48 8 30 2 156-1" stroke="#0000ff" stroke-opacity="0.3"/>
<path d="M2225 3534l57-6 21-3 18-6 15-10 12-15 12-21 12-28 27-74 9-16 6-4 6 2 9 14 30 79 15 33 12 18 15 15 9 5 12 5 33 8 48 5 57 2" stroke="#000" stroke-opacity="0.4"/>
<path d="M2225 3525l48-4 27-5 18-8 15-14 12-18 9-19 12-33 30-100 9-19 6-4 6 3 9 17 30 100 15 40 12 23 15 17 18 12 27 7 51 6 66 3" stroke="#000" stroke-opacity="0.3"/>
<path d="M2225 3531l54-5 24-4 18-7 15-12 15-22 12-25 36-105 9-15 6-3 6 4 9 16 27 79 15 38 12 21 15 16 18 11 27 7 63 9 54 4" stroke="#000" stroke-opacity="0.7"/>
<path d="M2225 3550l78-1 33-4 15-5 12-6 39-27 9-4 6 0 15 5 42 26 15 6 15 3 30 5 39 3 87 0" stroke="#0000ff" stroke-opacity="0.3"/>
<path d="M2225 3549l63-4 27-3 18-5 15-5 12-7 39-30 9-3 6-1 6 1 9 5 30 26 15 10 12 7 15 4 18 3 24 1 117-4" stroke="#0000ff" stroke-opacity="0.6"/>
<path d="M2225 3535l39-3 30-5 21-9 15-12 12-15 12-23 12-29 27-78 9-17 6-5 6 2 9 13 33 93 12 28 12 20 15 16 9 6 12 6 30 7 48 4 66 2" stroke="#000" stroke-opacity="0.6"/>
<path d="M2225 3531l81-2 15-2 15-5 12-7 12-10 12-15 27-37 9-8 6-2 6 1 9 7 30 38 15 16 12 9 15 7 27 7 48 6 42 3 42-1" stroke="#00006e" stroke-opacity="0.8"/>
</g></g>
<path d="M742.6,1195.7 L886.1,1195.7" stroke="#b3b3b3" stroke-width="1.2"/>
<clipPath id="t28"><rect x="741.6" y="1195.7" width="145.5" height="16"/></clipPath><g clip-path="url(#t28)">
<text class="k" x="761.5" y="1206">1.941</text>
<text class="k" x="790.4" y="1206">1.939</text>
<text class="k" x="818.6" y="1206">1.937</text>
<text class="k" x="847.6" y="1206">1.935</text>
<text class="k" x="876" y="1206">1.933</text>
</g>
<path d="M761.5,1195.7 L761.5,1198.7 M790.4,1195.7 L790.4,1198.7 M818.6,1195.7 L818.6,1198.7 M847.6,1195.7 L847.6,1198.7 M876,1195.7 L876,1198.7 M747.1,1195.7 L747.1,1197.7 M761.5,1195.7 L761.5,1197.7 M776,1195.7 L776,1197.7 M790.4,1195.7 L790.4,1197.7 M804.9,1195.7 L804.9,1197.7 M819.3,1195.7 L819.3,1197.7 M833.8,1195.7 L833.8,1197.7 M848.2,1195.7 L848.2,1197.7 M862.7,1195.7 L862.7,1197.7 M877.1,1195.7 L877.1,1197.7" stroke="#999" stroke-width="0.8"/>
<path class="a" d="M930.9,1092.3V1191.7H1071.8"/>
<text class="y" x="928.7" y="1094.7">10</text>
<text class="y" x="928.7" y="1114.6">8</text>
<text class="y" x="928.7" y="1134.5">6</text>
<text class="y" x="928.7" y="1154.3">4</text>
<text class="y" x="928.7" y="1174.2">2</text>
<text class="y" x="928.7" y="1194.1">0</text>
<text class="u" x="905.9" y="1142" transform="rotate(-90 905.9 1142)" dy="2.8">A.U.</text>
<path class="w" d="M967.1,1103.4V1121.7M967.1,1144.9V1149.4M955.8,1103.4h22.6M955.8,1149.4h22.6"/>
<rect class="b" x="944.5" y="1121.7" width="45.3" height="23.2" fill="#888"/>
<path class="m" d="M944.5,1125.5H989.8"/>
<path class="w" d="M1036.5,1121.2V1144.4M1036.5,1152.7V1160.2M1025.1,1121.2h22.8M1025.1,1160.2h22.8"/>
<rect class="b" x="1013.7" y="1144.4" width="45.6" height="8.3" fill="#0000ff"/>
<path class="m" d="M1013.7,1148.2H1059.3"/>
<path class="t" d="M928.4,1092.3h2.5M928.4,1112.2h2.5M928.4,1132.1h2.5M928.4,1151.9h2.5M928.4,1171.8h2.5M928.4,1191.7h2.5M967.1,1191.7v3M1036.5,1191.7v3"/>
<text class="x" x="966.6" y="1199.2" transform="rotate(-45 966.6 1199.2)" dy="4">HC</text>
<text class="x" x="1036" y="1199.2" transform="rotate(-45 1036 1199.2)" dy="4">CT</text>
<path class="st" d="M993.8,1094.8l0,-3.3M993.8,1094.8l3.1,-1M993.8,1094.8l1.9,2.7M993.8,1094.8l-1.9,2.7M993.8,1094.8l-3.1,-1M1002.4,1094.8l0,-3.3M1002.4,1094.8l3.1,-1M1002.4,1094.8l1.9,2.7M1002.4,1094.8l-1.9,2.7M1002.4,1094.8l-3.1,-1"/>
<path class="pl" d="M995.3,1111.2h7M998.8,1107.7v7"/>
<rect x="879.2" y="1063.7" width="66.2" height="18.5" fill="#fff"/><text x="912.3" y="1077.2" font-size="17.5" font-weight="bold" text-anchor="middle">Acetate</text>
<path d="M742,1180 C770,1175 790,1160 800,1100 C803,1085 808,1085 811,1100 C820,1160 845,1172 886,1178" stroke="#8888ff" stroke-width="1" fill="none" clip-path="url(#c28)"/>
<clipPath id="c29"><rect x="1106.1" y="1080.5" width="143.4" height="112.4"/></clipPath>
<rect x="1106.1" y="1080.5" width="143.4" height="112.4" fill="none" stroke="#e6e6e6" stroke-width="1"/>
<g clip-path="url(#c29)" fill="none" stroke-linejoin="round"><g transform="scale(0.333333)" stroke-width="3">
<path d="M3315 3492l9-2 18-9 9-3 9 2 24 11 9 1 6-1 12-8 18-21 6-3 3 0 6 2 18 16 6 1 12-1 9 4 27 35 6 5 9 4 9 1 9-2 9-6 12-11 9-4 6 0 18 7 24-3 9 4 18 14 12 7 18 6 33 5 33 15" stroke="#0000ff" stroke-opacity="0.4"/>
<path d="M3315 3478l12-2 15-5 9-1 9 4 24 18 9 3 6 1 6-1 6-3 18-16 9-3 6 2 18 14 6 1 15-3 6 2 6 5 18 20 6 4 9 4 12 1 9-3 24-17 9-2 24 9 18-3 6 1 9 5 18 13 12 5 15 2 33 1 33 13" stroke="#0000ff" stroke-opacity="0.3"/>
<path d="M3315 3471l6-5 6-7 18-28 6-4 3 0 3 1 6 7 15 26 6 8 9 5 6-2 6-6 6-12 18-59 6-13 3-2 3 0 3 3 12 26 6 9 3 2 3-1 12-11 3-1 3 0 3 3 6 13 21 65 6 11 9 8 9 1 9-8 6-10 18-41 6-7 3 0 6 5 12 19 6 5 6 0 12-7 6 2 6 7 21 42 6 7 6 5 9 2 9-1 21-13 9-2 9 3 24 20" stroke="#000" stroke-opacity="0.4"/>
<path d="M3315 3497l12 1 27-4 9 3 21 10 12 2 9-2 6-4 21-22 9-5 6 0 18 8 21-4 6 1 6 5 24 24 9 6 12 4 12 1 18-6 9-1 24 12 6 1 21-1 30 11 18-1 30-6 9-1 12 2 18 7" stroke="#0000ff" stroke-opacity="0.3"/>
<path d="M3315 3431l9-15 18-55 6-11 3-1 3 1 6 11 15 51 9 23 6 7 3 1 6-5 6-16 6-28 18-123 6-23 3-4 3 3 3 7 12 50 6 14 3 0 3-3 12-25 3-2 3 2 3 7 6 27 18 113 6 24 3 8 6 10 3 2 6 0 6-6 3-6 9-31 18-85 3-7 3-4 3 0 6 12 9 29 6 13 3 3 3 0 12-14 3-1 3 1 3 4 6 17 21 85 6 15 6 8 9 5 9-2 6-5 15-18 6-4 3 0 3 1 6 6 15 25 9 11" stroke="#000" stroke-opacity="0.4"/>
<path d="M3315 3445l9-14 18-43 6-6 3 0 3 3 6 11 15 41 6 11 6 7 3 1 6-2 6-11 6-20 21-108 3-8 3-5 3 0 6 13 9 31 6 13 3 2 3-1 12-19 3-2 3 1 3 4 6 19 21 102 6 16 3 6 6 7 6 1 3-1 6-6 3-6 6-16 18-67 6-11 3 0 6 7 12 29 6 8 3 0 3-1 12-11 3 0 3 2 3 5 6 15 18 58 6 11 6 7 9 4 9-1 6-4 18-17 6-2 3 0 6 4 18 23 9 8" stroke="#000" stroke-opacity="0.4"/>
<path d="M3315 3488l9-2 21-11 9-2 9 3 24 14 9 2 6-1 6-3 6-5 18-23 6-3 3-1 6 3 12 11 6 3 6 0 12-3 6 1 9 9 21 28 6 5 9 4 9 1 9-1 21-15 9-2 6 2 18 12 6 1 15-1 6 1 24 19 12 6 18 1 24-5 9 0 9 2 21 7" stroke="#0000ff" stroke-opacity="0.6"/>
<path d="M3315 3467l6-4 6-7 18-30 6-5 3 0 3 2 6 8 15 30 6 9 9 7 6 0 6-7 6-13 21-76 6-10 3 0 6 8 12 29 6 7 3-1 3-2 12-13 3 0 3 3 6 13 21 73 6 12 9 10 9 0 9-8 9-18 15-41 6-9 3-1 6 4 12 21 6 6 6 0 12-8 6 1 3 3 6 10 18 42 6 8 6 6 9 3 9-1 24-15 9-1 9 5 21 19" stroke="#000" stroke-opacity="0.5"/>
<path d="M3315 3484l12-4 18-10 9-1 9 4 21 17 9 3 6 0 6-3 6-5 21-29 6-4 3 0 6 4 15 14 6 1 15-5 6 1 6 6 21 30 6 6 9 4 9 1 9-2 9-7 15-15 9-2 6 2 12 9 6 3 6 1 12-2 9 2 24 23 12 7 18 3 24-3 9 1 30 14" stroke="#00006e" stroke-opacity="0.8"/>
<path d="M3315 3486l12-2 18-7 9-2 9 3 21 12 9 1 6-1 12-6 21-24 6-3 3 1 6 3 12 10 6 3 18 0 6 2 6 6 21 29 9 8 9 5 9 2 9-2 21-13 9-3 24 11 18-3 9 1 24 15 12 5 15 2 24-1 12 2 30 14" stroke="#0000ff" stroke-opacity="0.3"/>
<path d="M3315 3438l6-7 6-11 18-50 6-10 3-1 3 2 6 11 15 47 9 20 6 6 3 1 6-6 6-15 6-27 18-113 6-20 3-3 3 3 3 7 12 47 6 12 3 0 3-3 12-23 3-1 3 3 3 8 6 26 18 105 6 22 9 17 3 3 6 0 6-6 3-5 9-28 15-67 6-16 3-3 3 1 3 5 12 34 6 11 3 2 3 0 12-13 3-2 3 2 3 3 6 16 18 68 6 15 6 9 9 6 9-2 9-7 15-18 6-4 3 0 9 7 21 29" stroke="#000" stroke-opacity="0.3"/>
<path d="M3315 3451l6-6 6-8 18-34 6-4 3 1 6 8 18 44 6 10 6 7 3 1 6-2 6-8 6-17 18-79 6-16 3-3 3 1 3 4 12 33 6 11 3 1 3-2 12-18 3-2 3 1 3 4 6 16 18 73 6 16 9 13 3 1 6 0 9-8 9-19 18-57 6-8 3 0 6 7 12 26 6 7 6 0 12-7 6 3 6 12 21 60 6 10 6 7 9 5 9-1 6-3 15-12 9-3 9 4 15 15 9 7" stroke="#000" stroke-opacity="0.6"/>
<path d="M3315 3430l9-16 18-51 6-9 3-1 3 2 6 12 15 48 9 21 6 6 3 1 6-6 6-15 6-26 18-112 6-19 3-1 3 3 3 9 12 47 6 11 3 0 3-3 12-23 3 0 3 3 3 8 6 27 18 103 6 22 3 7 6 9 3 1 6 0 6-7 3-6 9-29 15-68 6-16 3-2 3 1 3 5 12 34 6 11 3 2 3-1 12-12 3-1 3 1 3 4 6 17 18 68 6 15 6 9 9 5 9-2 9-8 15-18 6-4 3 0 3 1 6 5 15 22 9 9" stroke="#000" stroke-opacity="0.2"/>
<path d="M3315 3436l9-12 18-45 6-8 3-1 3 2 6 12 15 46 9 20 6 5 3 0 6-5 6-16 6-26 18-110 6-20 3-3 3 3 3 6 12 43 6 11 3-1 3-3 12-23 3-2 3 3 3 7 6 25 18 98 6 21 3 7 6 9 3 2 6-1 6-6 3-5 9-28 15-65 6-15 3-3 3 1 3 5 12 32 6 11 3 2 3-1 12-12 3-1 3 2 3 4 6 15 18 67 6 16 9 13 6 3 9 1 9-6 15-13 6-3 3 1 9 8 15 24 9 11" stroke="#000" stroke-opacity="0.6"/>
<path d="M3315 3472l6-4 6-6 18-25 6-3 3 0 6 5 18 29 6 7 9 4 6-2 9-12 6-15 15-49 6-11 3-2 3 1 3 3 12 24 6 8 3 1 3-1 9-8 6-3 6 5 6 12 15 48 6 15 6 10 9 8 9 0 9-7 6-9 18-38 6-5 3 0 6 5 12 18 6 4 6 0 12-6 6 2 6 7 21 39 6 7 6 4 9 2 9-1 21-11 9-2 9 3 24 18" stroke="#000" stroke-opacity="0.3"/>
<path d="M3315 3458l9-6 18-25 6-4 3 0 3 1 6 7 15 28 9 12 6 4 3 0 6-2 6-9 6-14 18-62 6-11 3-2 3 2 3 4 12 25 6 6 6-2 12-13 3-1 3 2 3 4 6 14 18 57 6 12 9 9 9 2 9-6 9-15 15-35 6-8 3-1 6 4 12 21 6 7 6 2 15-5 6 4 6 10 18 42 6 9 9 9 6 2 9 1 9-2 15-8 9-1 9 5 15 13 9 5" stroke="#000" stroke-opacity="0.3"/>
<path d="M3315 3442l9-17 15-39 6-10 3-2 3 1 6 8 15 39 9 18 6 5 3 1 6-5 6-12 6-22 18-97 6-19 3-3 3 2 3 6 12 42 6 12 3 1 3-1 12-19 3-1 3 2 3 6 6 22 18 92 6 20 9 15 3 2 6 0 6-5 3-4 9-25 18-69 6-10 3 0 6 8 9 23 6 11 3 2 3-1 12-10 3-2 3 1 3 3 6 14 21 69 6 13 6 7 9 5 9 0 6-4 15-12 9-2 9 6 18 25 9 8" stroke="#000" stroke-opacity="0.6"/>
<path d="M3315 3478l9-1 18-9 9-2 9 4 24 19 9 2 6 0 6-3 6-6 18-25 6-5 3-1 6 2 12 12 6 4 6 0 15-4 6 2 6 7 21 30 6 5 9 4 9 1 9-2 24-21 9-2 6 3 12 9 6 3 18-3 6 1 6 4 18 17 12 7 18 3 24-4 9 0 9 2 24 11" stroke="#0000ff" stroke-opacity="0.5"/>
<path d="M3315 3486l24-12 9-2 9 3 24 15 9 2 6 0 6-2 6-3 18-18 6-3 3 1 6 3 12 11 6 4 6 1 12-2 9 3 24 27 12 7 12 2 9-3 9-5 18-16 9-3 21 10 21-2 6 2 6 4 21 18 15 8 15 4 30 3 36 13" stroke="#0000ff" stroke-opacity="0.3"/>
<path d="M3315 3423l9-16 18-50 6-6 3 0 6 10 18 59 6 14 6 8 3 1 3-1 3-3 6-13 6-25 21-132 3-10 3-5 3 0 6 16 9 37 6 15 3 2 3-2 12-25 3-2 3 1 3 5 6 24 15 92 6 29 6 20 3 7 6 7 6 1 3-1 6-9 3-7 6-20 18-81 6-13 3-1 6 10 12 35 6 9 3 0 3-1 12-13 3 0 3 3 6 14 21 80 6 14 6 9 9 4 9-2 6-5 15-17 6-4 3-1 3 1 6 5 18 28 9 11" stroke="#000" stroke-opacity="0.2"/>
<path d="M3315 3475l12-6 18-16 9-2 9 4 21 19 9 4 6-1 6-3 6-6 21-36 6-4 3 0 6 6 12 16 6 4 6 0 12-5 6 3 6 7 21 39 6 7 9 6 9 1 9-4 9-9 15-19 6-4 3 0 6 3 12 11 6 4 6 0 12-2 9 3 24 29 12 8 9 3 9 0 24-7 9 0 9 2 21 10" stroke="#0000ff" stroke-opacity="0.3"/>
<path d="M3315 3484l9-3 18-10 9-1 9 3 24 14 9 2 6-1 12-6 18-18 6-2 3 0 6 3 12 11 6 3 6 1 12-3 6 2 6 4 21 25 12 7 12 1 9-2 9-5 15-12 9-2 6 1 18 11 18 0 9 3 24 20 15 7 15 2 33-2 33 10" stroke="#0000ff" stroke-opacity="0.4"/>
<path d="M3315 3475l12-2 18-9 9 0 9 6 21 22 9 4 6 0 6-3 6-7 21-39 6-6 3 0 6 3 12 13 6 3 6-1 12-7 6 1 9 11 18 32 6 7 9 5 9 1 9-3 9-8 15-18 6-4 3-1 6 3 12 11 6 3 6 1 15-3 6 2 6 6 18 22 12 8 9 3 9 1 24-3 9 0 9 4 21 11" stroke="#00006e" stroke-opacity="0.7"/>
<path d="M3315 3441l6-6 6-9 15-33 6-7 3-1 3 1 6 9 15 40 9 18 6 6 3 1 6-3 6-11 3-9 6-25 15-78 6-18 3-3 3 2 3 5 12 37 6 10 3 1 3-2 12-20 3-1 3 1 3 5 6 20 18 83 6 18 9 14 3 2 6 0 6-5 3-4 9-23 18-63 6-9 3 0 6 9 9 21 6 11 3 2 3 0 15-11 3 1 3 3 6 13 21 65 6 11 6 7 6 3 9 1 9-4 15-11 9-2 9 6 15 20 9 10" stroke="#000" stroke-opacity="0.7"/>
<path d="M3315 3454l6-4 6-8 18-35 6-6 3 0 3 2 6 10 15 37 6 11 6 6 3 2 6-2 6-8 6-17 21-94 6-13 3-1 6 9 12 34 3 5 3 2 3-1 3-3 12-17 3 0 3 3 6 16 21 88 6 15 9 11 6 2 3-1 6-4 3-5 9-22 15-48 6-10 3-1 6 6 12 27 6 8 6 1 12-9 3 0 3 2 3 3 6 14 18 51 6 11 6 7 9 4 9-1 9-6 15-12 9-2 9 6 21 23" stroke="#000" stroke-opacity="0.2"/>
<path d="M3315 3478l9-3 6-5 15-18 6-4 3 0 3 2 6 6 21 33 9 6 6-1 6-6 6-11 21-67 6-11 3-2 3 1 3 3 12 21 6 5 6-3 12-13 3-1 3 1 3 3 6 13 18 52 6 11 9 8 9 2 9-5 9-13 15-32 6-8 3-1 6 4 12 18 6 6 6 1 15-6 6 3 6 8 18 35 6 8 6 5 9 4 9 0 24-9 9 0 9 6 21 21" stroke="#000" stroke-opacity="0.6"/>
<path d="M3315 3477l12-4 18-12 9-3 9 4 15 13 9 6 9 2 6-2 6-4 6-6 18-30 6-5 3 0 6 3 12 13 6 3 6 0 12-5 6 1 9 11 12 21 9 13 6 5 9 5 9 1 9-3 21-19 6-2 3 0 6 2 18 17 6 1 15-1 6 3 24 27 12 8 9 3 9 1 24-4 9 0 30 12" stroke="#0000ff" stroke-opacity="0.4"/>
<path d="M3315 3456l6-6 6-9 18-43 6-8 3 0 3 1 6 10 15 40 6 12 6 6 3 1 6-2 6-11 6-19 21-115 6-17 3-1 3 3 3 7 12 39 6 10 3 0 3-4 12-19 3 0 3 4 3 7 6 24 18 92 6 19 9 14 3 2 6 0 6-6 3-5 9-26 15-59 6-14 3-2 3 1 3 4 12 28 6 9 3 1 3-1 9-10 6-3 3 1 3 4 6 14 18 60 6 13 6 9 9 6 9 0 9-5 15-12 6-1 3 1 9 8 21 29" stroke="#000" stroke-opacity="0.3"/>
<path d="M3315 3477l9-2 18-12 9-3 9 3 15 15 9 6 9 3 6-1 6-4 6-8 21-37 6-4 3 1 6 5 9 11 6 6 6 1 15-5 6 3 6 9 21 39 6 7 9 5 9 2 9-4 9-9 15-19 6-3 3-1 6 3 12 10 6 2 6-1 12-3 6 1 9 7 18 22 6 5 9 4 15 3 30-1 9 3 24 13" stroke="#0000ff" stroke-opacity="0.3"/>
<path d="M3315 3475l9-4 18-15 9-3 9 5 21 21 9 4 6-1 6-3 6-7 21-41 6-6 3 0 6 4 12 15 6 4 6-1 12-7 6 1 9 12 18 35 6 8 9 6 9 1 9-3 9-8 15-19 6-4 3 0 6 3 12 13 6 4 6 2 15-2 6 3 6 6 18 25 12 10 9 3 9 1 24-5 9 0 9 4 24 13" stroke="#0000ff" stroke-opacity="0.3"/>
</g></g>
<path d="M1106.1,1194.4 L1249.5,1194.4" stroke="#b3b3b3" stroke-width="1.2"/>
<clipPath id="t29"><rect x="1105.1" y="1194.4" width="145.4" height="16"/></clipPath><g clip-path="url(#t29)">
<text class="k" x="1130.2" y="1204.7">2.380</text>
<text class="k" x="1167.5" y="1204.7">2.370</text>
<text class="k" x="1204.6" y="1204.7">2.360</text>
<text class="k" x="1240.6" y="1204.7">2.350</text>
</g>
<path d="M1130.2,1194.4 L1130.2,1197.4 M1167.5,1194.4 L1167.5,1197.4 M1204.6,1194.4 L1204.6,1197.4 M1240.6,1194.4 L1240.6,1197.4 M1111.6,1194.4 L1111.6,1196.4 M1130.2,1194.4 L1130.2,1196.4 M1148.9,1194.4 L1148.9,1196.4 M1167.5,1194.4 L1167.5,1196.4 M1186.2,1194.4 L1186.2,1196.4 M1204.8,1194.4 L1204.8,1196.4 M1223.5,1194.4 L1223.5,1196.4 M1242.1,1194.4 L1242.1,1196.4" stroke="#999" stroke-width="0.8"/>
<path class="a" d="M1285,1091.9V1189.6H1427.2"/>
<text class="y" x="1282.8" y="1094.3">20</text>
<text class="y" x="1282.8" y="1118.7">15</text>
<text class="y" x="1282.8" y="1143.2">10</text>
<text class="y" x="1282.8" y="1167.6">5</text>
<text class="y" x="1282.8" y="1192">0</text>
<text class="u" x="1260" y="1140.8" transform="rotate(-90 1260 1140.8)" dy="2.8">A.U.</text>
<path class="w" d="M1321.3,1108.9V1124.1M1321.3,1152.3V1166.2M1309.9,1108.9h22.9M1309.9,1166.2h22.9"/>
<rect class="b" x="1298.5" y="1124.1" width="45.7" height="28.2" fill="#888"/>
<path class="m" d="M1298.5,1131.2H1344.2"/>
<path class="w" d="M1391.4,1140.1V1158.4M1391.4,1163.5V1171.1M1379.9,1140.1h23.1M1379.9,1171.1h23.1"/>
<rect class="b" x="1368.3" y="1158.4" width="46.2" height="5.1" fill="#000080"/>
<path class="m" d="M1368.3,1160.9H1414.5"/>
<path class="t" d="M1282.5,1091.9h2.5M1282.5,1116.3h2.5M1282.5,1140.8h2.5M1282.5,1165.2h2.5M1282.5,1189.6h2.5M1321.3,1189.6v3M1391.4,1189.6v3"/>
<text class="x" x="1320.8" y="1197.1" transform="rotate(-45 1320.8 1197.1)" dy="4">HC</text>
<text class="x" x="1390.9" y="1197.1" transform="rotate(-45 1390.9 1197.1)" dy="4">CT</text>
<path class="st" d="M1344.4,1094.9l0,-3.3M1344.4,1094.9l3.1,-1M1344.4,1094.9l1.9,2.7M1344.4,1094.9l-1.9,2.7M1344.4,1094.9l-3.1,-1M1353.1,1094.9l0,-3.3M1353.1,1094.9l3.1,-1M1353.1,1094.9l1.9,2.7M1353.1,1094.9l-1.9,2.7M1353.1,1094.9l-3.1,-1M1361.8,1094.9l0,-3.3M1361.8,1094.9l3.1,-1M1361.8,1094.9l1.9,2.7M1361.8,1094.9l-1.9,2.7M1361.8,1094.9l-3.1,-1"/>
<path class="pl" d="M1350.6,1111.4h7M1354.1,1107.9v7"/>
<rect x="1216" y="1063.9" width="88.6" height="18.5" fill="#fff"/><text x="1260.3" y="1077.4" font-size="17.5" font-weight="bold" text-anchor="middle">Glutamate</text>
<clipPath id="c30"><rect x="742.6" y="1238.7" width="144.2" height="111.5"/></clipPath>
<rect x="742.6" y="1238.7" width="144.2" height="111.5" fill="none" stroke="#e6e6e6" stroke-width="1"/>
<g clip-path="url(#c30)" fill="none" stroke-linejoin="round"><g transform="scale(0.333333)" stroke-width="3">
<path d="M2225 4027l64-4 26-4 22-7 19-12 19-20 15-23 15-27 34-70 15-25 15-18 7-6 11-6 15-1 19 5 19 12 49 42 22 16 23 11 11 2 15 1" stroke="#000" stroke-opacity="0.2"/>
<path d="M2225 4027l49-2 30-4 22-7 23-13 18-17 15-19 15-22 38-64 15-21 15-15 7-4 12-4 18-1 23 7 22 12 45 29 23 13 22 9 23 7" stroke="#000" stroke-opacity="0.4"/>
<path d="M2225 4027l56-2 30-4 23-9 11-7 11-9 19-23 15-26 15-31 34-78 18-36 15-19 8-7 11-5 8-2 11-1 11 3 11 5 23 13 60 44 22 13 23 9" stroke="#0000ff" stroke-opacity="0.4"/>
<path d="M2225 4027l64-3 26-2 22-5 19-8 19-12 15-14 49-62 15-16 18-14 19-7 23 0 15 2 15 5 116 55" stroke="#000" stroke-opacity="0.2"/>
<path d="M2225 4027l49-2 33-3 23-5 22-10 19-14 15-14 49-63 15-17 15-11 7-4 12-3 18-1 19 5 19 7 45 23 22 10 27 8 26 5" stroke="#00006e" stroke-opacity="0.8"/>
<path d="M2225 4027l45-1 30-3 26-8 23-11 18-16 15-17 15-20 38-58 15-19 15-14 7-4 12-4 18 0 23 6 22 12 45 30 23 13 22 10 23 6" stroke="#0000ff" stroke-opacity="0.3"/>
<path d="M2225 4027l56-1 30-3 26-5 19-7 19-11 15-13 49-54 18-18 15-10 19-6 23-1 26 6 22 9 60 28 38 13" stroke="#000" stroke-opacity="0.6"/>
<path d="M2225 4027l45-1 34-5 26-8 22-13 19-18 15-20 15-24 34-61 19-28 15-15 7-5 11-5 12-1 11 0 11 3 15 6 23 13 63 43 38 20" stroke="#0000ff" stroke-opacity="0.3"/>
<path d="M2225 4027l52-1 27-3 22-8 11-6 12-8 18-20 15-22 15-27 38-77 15-25 15-18 7-5 12-4 11-1 11 2 11 4 12 7 22 18 68 61 22 16 19 10" stroke="#000" stroke-opacity="0.5"/>
<path d="M2225 4027l49-1 30-3 22-6 23-12 18-16 19-24 49-81 15-21 15-16 7-5 12-4 18-1 12 3 11 5 22 13 68 50 22 12 23 8" stroke="#0000ff" stroke-opacity="0.6"/>
<path d="M2225 4027l45 0 30-4 26-8 23-15 18-19 19-26 49-91 15-23 15-17 15-9 19-3 22 3 75 31 64 23" stroke="#0000ff" stroke-opacity="0.3"/>
<path d="M2225 4027l49-1 33-4 23-7 11-7 11-8 19-21 19-29 49-102 15-27 11-15 7-8 8-5 11-6 11-2 12 1 22 7 23 13 63 43 38 20" stroke="#0000ff" stroke-opacity="0.7"/>
<path d="M2225 4027l60-2 30-3 22-6 19-9 19-16 15-17 15-22 34-54 15-20 15-14 15-7 15-3 18 4 15 6 45 23 23 9 26 7 34 6" stroke="#0000ff" stroke-opacity="0.4"/>
<path d="M2225 4027l64-1 22-2 23-6 18-10 19-16 15-17 45-68 15-20 15-14 15-7 15-1 19 5 19 10 45 27 26 11 26 5 34 0" stroke="#000" stroke-opacity="0.4"/>
<path d="M2225 4027l45-1 34-4 26-8 22-12 19-17 15-18 15-23 34-56 19-26 15-14 7-4 11-4 12-1 11 0 22 8 23 12 64 41 22 10 19 6" stroke="#0000ff" stroke-opacity="0.4"/>
<path d="M2225 4027l60-1 22-2 23-7 19-13 18-19 15-22 15-26 30-58 15-25 15-18 8-6 7-4 12-2 15 1 15 5 33 15 19 6 19 4 49 4 26 8" stroke="#0000ff" stroke-opacity="0.5"/>
<path d="M2225 4027l45-2 34-6 26-9 22-15 19-21 15-22 15-27 34-67 15-26 15-18 7-5 12-6 7-1 11 0 19 5 19 10 45 31 22 13 27 12 26 7" stroke="#000" stroke-opacity="0.6"/>
<path d="M2225 4027l49-1 30-3 22-6 23-12 18-15 15-17 49-72 15-19 15-14 15-7 11-2 12 1 22 7 19 10 71 40 49 22" stroke="#000" stroke-opacity="0.7"/>
<path d="M2225 4027l49-2 33-4 23-6 22-10 19-14 15-15 15-18 34-47 15-18 15-13 7-5 12-3 18-2 23 4 19 7 67 30 49 15" stroke="#0000ff" stroke-opacity="0.4"/>
<path d="M2225 4027l41-1 34-6 30-10 22-13 19-17 19-22 15-23 34-56 15-22 15-15 7-5 11-5 8-1 11 0 11 3 12 5 22 15 45 41 19 15 22 13 12 3 11 1" stroke="#000" stroke-opacity="0.6"/>
<path d="M2225 4027l45-1 30-3 26-9 23-15 18-20 19-27 45-86 15-25 11-15 8-7 7-5 8-3 7-1 12 0 18 6 19 10 45 30 23 13 26 13 30 11" stroke="#000" stroke-opacity="0.3"/>
<path d="M2225 4027l56-2 30-3 26-7 19-9 19-15 15-16 45-65 19-23 18-15 19-8 23-2 26 5 120 47" stroke="#000" stroke-opacity="0.2"/>
<path d="M2225 4027l41-1 38-5 30-8 22-11 19-15 15-16 15-21 34-51 15-19 15-14 7-5 11-4 19-2 11 2 12 4 18 10 45 30 23 13 22 9 23 3" stroke="#000" stroke-opacity="0.3"/>
<path d="M2225 4027l45-2 34-5 26-8 22-15 19-19 15-21 15-26 34-64 15-24 15-17 7-5 12-5 7-2 11 0 19 6 19 10 45 32 22 14 27 12 26 7" stroke="#0000ff" stroke-opacity="0.4"/>
<path d="M2225 4027l52-3 30-4 15-5 12-6 18-15 19-23 15-26 15-33 34-81 15-31 15-22 7-7 12-6 7-2 11 1 19 8 19 14 45 40 26 17 23 8 26 4" stroke="#0000ff" stroke-opacity="0.3"/>
<path d="M2225 4027l45-1 34-3 26-7 22-10 19-13 15-15 15-18 34-46 19-21 15-12 18-7 23-1 22 4 27 8 67 26 34 9" stroke="#000" stroke-opacity="0.5"/>
<path d="M2225 4027l41-1 34-4 26-9 23-13 18-17 19-24 49-82 15-22 15-15 15-8 19-2 18 4 19 8 45 25 23 11 26 9 30 8" stroke="#000" stroke-opacity="0.4"/>
<path d="M2225 4027l49-2 33-4 27-8 18-12 19-18 15-20 15-25 38-71 15-23 15-16 7-5 11-4 8-1 11 0 11 2 12 5 22 14 64 46 22 12 23 8" stroke="#0000ff" stroke-opacity="0.5"/>
<path d="M2225 4027l45-2 34-4 26-9 22-15 19-19 15-22 15-26 34-68 15-25 15-19 7-7 12-5 7-2 11-1 12 2 11 4 22 12 64 40 23 11 26 11" stroke="#000" stroke-opacity="0.5"/>
<path d="M2225 4027l60-5 30-4 22-8 19-12 19-20 15-22 45-88 15-26 15-19 7-6 12-5 7-2 11 0 19 7 19 12 41 35 23 16 26 12 30 8" stroke="#000" stroke-opacity="0.3"/>
</g></g>
<path d="M742.6,1351.7 L886.8,1351.7" stroke="#b3b3b3" stroke-width="1.2"/>
<clipPath id="t30"><rect x="741.6" y="1351.7" width="146.2" height="16"/></clipPath><g clip-path="url(#t30)">
<text class="k" x="760.2" y="1362.2">0.93</text>
<text class="k" x="783.4" y="1362.2">0.92</text>
<text class="k" x="806.8" y="1362.2">0.91</text>
<text class="k" x="830.2" y="1362.2">0.90</text>
<text class="k" x="853.4" y="1362.2">0.89</text>
<text class="k" x="876.8" y="1362.2">0.88</text>
</g>
<path d="M760.2,1351.7 L760.2,1354.7 M783.4,1351.7 L783.4,1354.7 M806.8,1351.7 L806.8,1354.7 M830.2,1351.7 L830.2,1354.7 M853.4,1351.7 L853.4,1354.7 M876.8,1351.7 L876.8,1354.7 M748.6,1351.7 L748.6,1353.7 M760.2,1351.7 L760.2,1353.7 M771.8,1351.7 L771.8,1353.7 M783.4,1351.7 L783.4,1353.7 M795,1351.7 L795,1353.7 M806.6,1351.7 L806.6,1353.7 M818.2,1351.7 L818.2,1353.7 M829.8,1351.7 L829.8,1353.7 M841.4,1351.7 L841.4,1353.7 M853,1351.7 L853,1353.7 M864.6,1351.7 L864.6,1353.7 M876.2,1351.7 L876.2,1353.7" stroke="#999" stroke-width="0.8"/>
<path class="a" d="M928.9,1245.3V1345.2H1071.8"/>
<text class="y" x="926.7" y="1247.7">15</text>
<text class="y" x="926.7" y="1281">10</text>
<text class="y" x="926.7" y="1314.3">5</text>
<text class="y" x="926.7" y="1347.6">0</text>
<text class="u" x="903.9" y="1295.2" transform="rotate(-90 903.9 1295.2)" dy="2.8">A.U.</text>
<path class="w" d="M965,1271.7V1286M965,1296.8V1302.9M953.5,1271.7h23M953.5,1302.9h23"/>
<rect class="b" x="942" y="1286" width="46" height="10.8" fill="#888"/>
<path class="m" d="M942,1291.1H988"/>
<path class="w" d="M1035.8,1293.1V1296.8M1035.8,1308.7V1312M1024.3,1293.1h23.1M1024.3,1312h23.1"/>
<rect class="b" x="1012.7" y="1296.8" width="46.3" height="11.9" fill="#0000ff"/>
<path class="m" d="M1012.7,1302.4H1059"/>
<path class="t" d="M926.4,1245.3h2.5M926.4,1278.6h2.5M926.4,1311.9h2.5M926.4,1345.2h2.5M965,1345.2v3M1035.8,1345.2v3"/>
<text class="x" x="964.5" y="1352.7" transform="rotate(-45 964.5 1352.7)" dy="4">HC</text>
<text class="x" x="1035.3" y="1352.7" transform="rotate(-45 1035.3 1352.7)" dy="4">CT</text>
<path class="st" d="M993.8,1248.3l0,-3.3M993.8,1248.3l3.1,-1M993.8,1248.3l1.9,2.7M993.8,1248.3l-1.9,2.7M993.8,1248.3l-3.1,-1M1002.4,1248.3l0,-3.3M1002.4,1248.3l3.1,-1M1002.4,1248.3l1.9,2.7M1002.4,1248.3l-1.9,2.7M1002.4,1248.3l-3.1,-1"/>
<path class="pl" d="M994.6,1266.4h7M998.1,1262.9v7"/>
<text x="858.4" y="1233.9" font-size="17.5" font-weight="bold" text-anchor="start">VDL1 (CH<tspan dy="4.5" font-size="12">3</tspan><tspan dy="-4.5">) 6</tspan></text><path d="M853.9,1227.4 L778.6,1245.6" stroke="#000" stroke-width="2.3"/><path d="M772.8,1247 L778.6,1241.3 L780.6,1249.4 Z" fill="#000"/><path d="M748.2,1261.4 L748.2,1253.3 L793,1253.3 L793,1261.4 M770.3,1253.3 L770.3,1245.8" stroke="#000" stroke-width="2.2" fill="none" stroke-linejoin="round"/>
<g fill="none" stroke-width="1" clip-path="url(#c30)"><path d="M742,1337 C765,1335 780,1325 795,1305 C810,1290 820,1282 830,1280 C850,1285 865,1300 887,1310" stroke="#888"/><path d="M790,1310 C805,1280 815,1260 825,1258 C835,1260 845,1275 887,1285" stroke="#999"/></g>
<clipPath id="c31"><rect x="1106.1" y="1237.2" width="142.7" height="107.9"/></clipPath>
<rect x="1106.1" y="1237.2" width="142.7" height="107.9" fill="none" stroke="#e6e6e6" stroke-width="1"/>
<g clip-path="url(#c31)" fill="none" stroke-linejoin="round"><g transform="scale(0.333333)" stroke-width="3">
<path d="M3315 4001l45-6 54-5 12-5 12-9 12-19 9-21 9-28 21-76 9-27 9-16 6-3 3 1 6 7 9 20 30 110 12 35 9 19 12 16 9 7 9 4 24 4 42 1 48-5 21 2" stroke="#0000ff" stroke-opacity="0.3"/>
<path d="M3315 4004l93-15 12-5 12-10 12-18 12-31 36-127 9-18 6-4 6 3 9 17 9 28 21 84 12 41 12 28 12 17 6 5 9 5 18 4 48 0 51-6 27 4" stroke="#0000ff" stroke-opacity="0.6"/>
<path d="M3315 4004l93-10 15-5 12-9 12-18 9-20 12-37 24-85 9-22 6-7 3-2 6 2 9 14 9 27 21 79 12 39 12 28 6 10 9 10 15 8 24 3 42-1 48-8 24 2" stroke="#0000ff" stroke-opacity="0.5"/>
<path d="M3315 4007l93-15 15-7 12-11 12-21 9-22 30-109 9-28 9-16 6-3 3 2 6 7 9 23 27 104 12 40 12 28 12 16 6 5 9 5 9 3 15 2 42 0 48-5 27 3" stroke="#0000ff" stroke-opacity="0.6"/>
<path d="M3315 4006l39-2 60 0 21-4 12-5 9-6 39-39 9-6 6-1 9 1 9 6 33 36 12 10 12 7 15 5 36 3 33-3 15-5 27-16 12-4 12 2 12 5" stroke="#000" stroke-opacity="0.6"/>
<path d="M3315 4004l78 2 21-1 15-5 12-7 9-8 12-16 27-41 9-9 9-4 9 3 9 8 30 46 15 19 12 10 12 6 12 2 18 2 21-1 18-3 15-5 30-20 12-4 12 2 15 9" stroke="#000" stroke-opacity="0.8"/>
<path d="M3315 4003l39-3 57 1 12-1 12-5 12-9 12-15 36-65 9-9 6-3 9 3 9 10 30 56 12 19 12 12 15 9 12 3 18 3 24 0 15-2 15-5 30-23 12-4 6 0 6 2 12 8" stroke="#000" stroke-opacity="0.5"/>
<path d="M3315 4006l93-10 15-5 12-9 12-16 9-19 39-113 9-15 6-3 3 1 6 6 9 18 30 96 12 31 9 16 12 14 15 8 21 3 42-1 51-5 27 2" stroke="#0000ff" stroke-opacity="0.3"/>
<path d="M3315 4011l39-2 45-4 18-4 15-7 12-10 12-16 36-67 9-9 6-2 9 3 9 11 30 59 12 20 12 14 12 8 18 6 27 1 36-1 51-5 24 0" stroke="#0000ff" stroke-opacity="0.3"/>
<path d="M3315 4004l90-11 15-6 12-10 12-20 12-31 27-102 9-29 9-18 6-4 3 0 6 7 9 21 30 117 12 39 12 26 12 15 15 9 24 4 42-1 48-7 27 2" stroke="#0000ff" stroke-opacity="0.4"/>
<path d="M3315 4006l51-3 54-1 21-4 9-5 9-6 12-12 27-33 9-6 6-2 9 1 9 7 33 40 12 12 12 7 12 4 24 3 42-1 21-5 27-14 9-3 12 0 12 5" stroke="#000" stroke-opacity="0.8"/>
<path d="M3315 4008l99-2 21-2 24-7 36-18 15-3 9 1 9 3 42 23 12 4 15 2 33 0 36-1 15-3 30-10 12-2 12 1 12 4" stroke="#000" stroke-opacity="0.6"/>
<path d="M3315 4005l96-3 12-2 12-4 12-10 12-15 30-59 9-15 9-8 6-2 9 5 9 11 30 61 12 20 12 13 15 8 12 4 18 1 21-1 15-3 18-8 27-22 12-6 6 0 6 1 12 9" stroke="#000" stroke-opacity="0.6"/>
<path d="M3315 4005l30 0 60 1 15-1 12-4 12-8 12-13 30-47 9-12 9-7 6-2 9 4 9 9 30 48 12 15 12 11 12 7 18 4 21 1 27-1 54-5 33 1" stroke="#0000ff" stroke-opacity="0.3"/>
<path d="M3315 4008l93-6 15-2 12-5 12-8 12-14 30-50 9-13 9-7 6-1 9 4 9 10 30 53 12 17 12 11 12 7 12 3 15 2 39-1 12-2 9-4 27-19 9-5 12 0 15 8" stroke="#000" stroke-opacity="0.8"/>
<path d="M3315 4008l93-2 15-2 12-4 12-8 12-13 30-48 9-11 9-7 6-1 9 4 9 10 27 44 12 16 9 8 12 8 12 3 18 2 126 1" stroke="#0000ff" stroke-opacity="0.4"/>
<path d="M3315 4010l54-7 51-3 18-5 12-8 9-9 36-50 9-8 6-2 9 2 9 8 30 43 12 15 12 9 12 6 27 3 33 1 15-1 15-4 27-15 12-4 12 1 12 7" stroke="#000" stroke-opacity="0.7"/>
<path d="M3315 4010l96-3 15-2 12-4 12-8 12-12 36-50 9-7 6-2 9 3 9 8 30 43 12 14 12 10 12 5 18 4 24 2 108-4" stroke="#0000ff" stroke-opacity="0.5"/>
<path d="M3315 4008l90 3 30-2 21-4 39-18 18-4 18 4 45 19 15 4 18 1 36 0 27-3 15-4 24-9 12-4 12 0 12 3" stroke="#000" stroke-opacity="0.7"/>
<path d="M3315 4009l45-3 54 0 12-1 12-4 12-8 9-9 30-43 9-10 9-7 6-1 9 4 9 8 30 42 12 13 12 9 12 5 24 5 39 3 87-5" stroke="#0000ff" stroke-opacity="0.3"/>
<path d="M3315 4000l96-11 12-4 12-11 12-21 12-34 27-109 9-31 9-19 6-5 6 4 9 19 9 31 21 92 12 44 12 31 12 19 6 5 9 6 9 2 12 2 45-2 48-7 12 0 15 2" stroke="#00006e" stroke-opacity="0.8"/>
<path d="M3315 4007l96-2 24-4 12-6 9-6 36-35 9-5 6-2 9 1 9 5 33 33 15 12 12 6 15 4 36 3 30-2 15-5 27-15 12-4 12 1 15 6" stroke="#000" stroke-opacity="0.6"/>
<path d="M3315 4009l96-4 27-3 21-8 36-25 15-5 9 1 9 3 33 25 12 7 12 5 15 3 33 1 36-1 15-3 27-11 12-3 12 1 12 4" stroke="#000" stroke-opacity="0.3"/>
<path d="M3315 4006l90-5 18-3 12-6 12-11 12-17 36-74 9-10 6-3 6 1 9 9 9 16 21 48 12 23 12 17 12 9 12 5 15 2 99-1 30 2" stroke="#0000ff" stroke-opacity="0.4"/>
<path d="M3315 4008l93-2 15-2 12-3 12-6 12-9 36-41 9-6 6-1 6 1 9 4 9 9 33 38 12 9 12 5 15 3 18 2 123 1" stroke="#0000ff" stroke-opacity="0.7"/>
<path d="M3315 4010l96-7 24-3 21-9 39-29 9-4 6-1 9 2 9 5 30 26 15 11 12 5 15 4 27 2 33 0 21-4 30-14 9-2 12 0 15 4" stroke="#000" stroke-opacity="0.3"/>
<path d="M3315 4010l60-6 45-3 18-4 12-6 9-6 36-36 9-6 6-1 9 2 9 7 30 34 12 10 9 6 12 4 24 2 54-3 15-4 27-13 9-2 12 1 15 8" stroke="#000" stroke-opacity="0.3"/>
<path d="M3315 4006l102-5 21-5 12-6 12-10 36-43 9-6 6-1 9 2 9 8 30 39 12 13 12 9 15 6 27 3 36 0 21-5 30-17 9-3 12 0 12 5" stroke="#000" stroke-opacity="0.8"/>
<path d="M3315 4007l99-9 12-3 12-5 12-10 9-11 39-67 9-9 6-1 9 4 9 12 30 58 12 19 12 12 12 7 12 3 18 2 24-1 18-3 15-6 27-20 12-6 6-1 6 2 12 8" stroke="#000" stroke-opacity="0.8"/>
<path d="M3315 4010l57 0 54-4 27-7 39-18 15-3 9 1 9 3 45 23 15 4 15 2 36 1 30-3 15-4 27-10 12-3 12 0 15 5" stroke="#000" stroke-opacity="0.2"/>
</g></g>
<path d="M1106.1,1346.6 L1248.8,1346.6" stroke="#b3b3b3" stroke-width="1.2"/>
<clipPath id="t31"><rect x="1105.1" y="1346.6" width="144.7" height="16"/></clipPath><g clip-path="url(#t31)">
<text class="k" x="1135.3" y="1357.2">2.379</text>
<text class="k" x="1171.3" y="1357.2">2.377</text>
<text class="k" x="1207.6" y="1357.2">2.375</text>
<text class="k" x="1244" y="1357.2">2.373</text>
</g>
<path d="M1135.3,1346.6 L1135.3,1349.6 M1171.3,1346.6 L1171.3,1349.6 M1207.6,1346.6 L1207.6,1349.6 M1244,1346.6 L1244,1349.6 M1117.3,1346.6 L1117.3,1348.6 M1135.3,1346.6 L1135.3,1348.6 M1153.3,1346.6 L1153.3,1348.6 M1171.3,1346.6 L1171.3,1348.6 M1189.3,1346.6 L1189.3,1348.6 M1207.3,1346.6 L1207.3,1348.6 M1225.3,1346.6 L1225.3,1348.6 M1243.3,1346.6 L1243.3,1348.6" stroke="#999" stroke-width="0.8"/>
<path class="a" d="M1286.3,1244.3V1345.1H1427.2"/>
<text class="y" x="1284.1" y="1246.7">20</text>
<text class="y" x="1284.1" y="1271.9">15</text>
<text class="y" x="1284.1" y="1297.1">10</text>
<text class="y" x="1284.1" y="1322.3">5</text>
<text class="y" x="1284.1" y="1347.5">0</text>
<text class="u" x="1261.3" y="1294.7" transform="rotate(-90 1261.3 1294.7)" dy="2.8">A.U.</text>
<path class="w" d="M1323.2,1284.9V1314.6M1323.2,1326.5V1328.6M1311.7,1284.9h22.9M1311.7,1328.6h22.9"/>
<rect class="b" x="1300.3" y="1314.6" width="45.7" height="11.9" fill="#888"/>
<path class="m" d="M1300.3,1322.2H1346"/>
<path class="w" d="M1392.7,1272.2V1294.8M1392.7,1311.6V1321M1381.4,1272.2h22.6M1381.4,1321h22.6"/>
<rect class="b" x="1370.1" y="1294.8" width="45.1" height="16.8" fill="#0000ff"/>
<path class="m" d="M1370.1,1300.1H1415.2"/>
<path class="t" d="M1283.8,1244.3h2.5M1283.8,1269.5h2.5M1283.8,1294.7h2.5M1283.8,1319.9h2.5M1283.8,1345.1h2.5M1323.2,1345.1v3M1392.7,1345.1v3"/>
<text class="x" x="1322.7" y="1352.6" transform="rotate(-45 1322.7 1352.6)" dy="4">HC</text>
<text class="x" x="1392.2" y="1352.6" transform="rotate(-45 1392.2 1352.6)" dy="4">CT</text>
<path class="st" d="M1348.8,1248.6l0,-3.3M1348.8,1248.6l3.1,-1M1348.8,1248.6l1.9,2.7M1348.8,1248.6l-1.9,2.7M1348.8,1248.6l-3.1,-1M1357.4,1248.6l0,-3.3M1357.4,1248.6l3.1,-1M1357.4,1248.6l1.9,2.7M1357.4,1248.6l-1.9,2.7M1357.4,1248.6l-3.1,-1"/>
<path class="pl" d="M1350.6,1266.4h7M1354.1,1262.9v7"/>
<rect x="1221.9" y="1219.9" width="76.9" height="18.5" fill="#fff"/><text x="1260.4" y="1233.4" font-size="17.5" font-weight="bold" text-anchor="middle">Pyruvate</text>
<clipPath id="c32"><rect x="742.6" y="1395.2" width="144.7" height="112.5"/></clipPath>
<rect x="742.6" y="1395.2" width="144.7" height="112.5" fill="none" stroke="#e6e6e6" stroke-width="1"/>
<g clip-path="url(#c32)" fill="none" stroke-linejoin="round"><g transform="scale(0.333333)" stroke-width="3">
<path d="M2225 4455l4-1 5 2 9 6 4-1 9 5 5-2 9-10 4 4 5-3 4 2 5 0 9 9 9 5 4-3 5 3 4-4 23 7 9 1 4-6 5-10 18-20 4 1 5 6 4 1 14 15 9 4 4 4 5 0 4-2 9-8 18-26 5-2 4-3 9 4 5 6 9 7 4 7 5 2 4 6 9-1 5-5 4-1 5-5 13-23 5-4 9-14 9-3 13 15 5 11 13 17 9 5 9 0 5 2 4-4 9-4 18-27 5-14 4-24 9-74" stroke="#000" stroke-opacity="0.5"/>
<path d="M2225 4422l13 1 27-12 14 5 9-1 13-10 14 0 9 4 13-3 5 3 4-4 9-3 14-23 4-5 9-5 9 4 9 16 9 10 9 14 5-5 13-2 14-12 4-6 14-11 4 1 9 7 14 20 9 8 9 4 4 1 5-3 4 0 5-6 4-1 9-21 9-16 9-3 9 11 9 20 14 16 9 1 9-2 4-2 23-28 9-22 4-16 5-28 4-41" stroke="#0000ff" stroke-opacity="0.4"/>
<path d="M2225 4460l9 2 9 5 4-1 18-7 9-6 9-2 9-1 9 4 5-1 4 2 5-1 4-8 5-3 9 2 4-2 5-1 4 5 5-2 4-6 18-17 5-1 9 2 4 6 9 6 9 9 9-4 9 1 5-1 4-4 5 1 18-14 4-2 5 4 4 0 14 6 4 4 5-2 9 7 9 3 13-8 14-14 4-9 5-4 4-3 9-3 5 0 4 7 9 9 5 1 9 10 22-1 14-4 4 2 5-2 4-8 9-26 5-21 4-35" stroke="#0000ff" stroke-opacity="0.4"/>
<path d="M2225 4453l4 2 9-1 5 3 4-1 5 4 4-2 9 0 5-3 4-1 5-4 9-1 9-5 18 2 4 3 5 1 9-4 4-7 5-2 9-10 4-8 9-9 5-11 4-5 18 6 9 11 23 17 4-2 14-7 4-6 18-32 5-3 4-1 18 38 9 16 9-2 14-6 13-14 9-12 5-10 4-5 9 0 9 11 9 19 9 13 18 12 9-1 5-1 9-10 9-20 9-32 9-59 4-44" stroke="#0000ff" stroke-opacity="0.4"/>
<path d="M2225 4434l18 1 4-2 9 8 5 1 13 11 5 2 4-3 18-4 5-4 9 2 13-5 9-1 23-7 18-1 9 2 4-4 5-1 9 2 4-1 5-4 4 2 5-1 9-7 4 2 5 1 13-6 5-1 4-3 5-1 4-3 5 4 4 1 9-1 5 2 4 3 9 3 5-1 9 7 4-1 5-4 9 0 9-6 13 0 9 8 5 7 13 9 5-1 4 1 5-7 4 2 5-2 4-6 5 0 4-4 5 0 4-6 9-5 5-6 13-37" stroke="#0000ff" stroke-opacity="0.7"/>
<path d="M2225 4442l9 13 4 2 9 15 5 4 4 1 9 11 9 4 5-3 4 5 9-4 5 0 4-2 5-1 4-4 9-1 9-4 5 0 4-6 5-1 13-29 18-55 5-8 9-4 4-1 9 16 5 5 4 2 5 7 4 1 5-4 9 1 4 2 5-6 9-9 13-20 5 0 9 16 18 48 13 29 9 11 9 2 5-6 9-17 13-37 9-13 9 6 9 9 9 13 5-2 4 1 5-4 4 0 5-4 9-11 13-23 14-48 9-64 4-50" stroke="#000" stroke-opacity="0.7"/>
<path d="M2225 4434l4 2 9 1 5 4 4-4 14-3 4 1 5-4 4 0 5 0 4-1 5 4 4-2 14 1 4-1 5-6 13 3 9-3 5 3 18-12 18-25 9-6 4 5 5 1 4 6 14 12 4-2 5 2 13-3 5-5 4 1 9-14 9-5 9 2 23 21 4 0 5 6 9 5 13-6 14-18 18-29 4 0 5-4 4 5 14 23 9 7 9-1 18 4 9 0 9-12 9-30 9-52 4-38" stroke="#0000ff" stroke-opacity="0.5"/>
<path d="M2225 4365l4-2 5 6 4-1 5-3 9 3 4 7 5 0 4 2 9 9 18-1 9 1 5 2 4 1 5-3 4 2 9-2 9-10 5-1 27-35 9-9 9-6 9 1 18 12 4-1 18-11 14-18 13-9 18 20 9 14 9 3 5 6 4-1 9 4 5 0 13-10 9-16 14-8 4-1 9 5 5 0 4 6 14 4 9 5 22-6 14-16 9-21 9-40 4-34" stroke="#000" stroke-opacity="0.6"/>
<path d="M2225 4428l4 0 5-3 4 2 9-5 5-1 9 7 9 0 9 3 4-2 5-1 13 4 5-3 13 4 5 0 9 6 4 0 5 3 4 0 5 3 4-4 5 0 4 3 9-8 5-1 9 2 13-1 18-10 5 1 9 6 4-3 5 1 9-3 4-6 5-1 9-5 9-8 4 1 5-2 4 2 5-1 4 7 5 3 13-4 5 1 4-4 14-2 9-5 9 0 9 1 22 16 18 0 5-4 13 6 9-3 5 2 9-14 9-20 4-15" stroke="#0000ff" stroke-opacity="0.5"/>
<path d="M2225 4364l9-6 4 0 5-4 13-3 9-6 5 0 4-3 5-4 4 0 5 2 18-8 9 2 9-4 9 0 9-6 4 3 14-5 13-15 9-3 5 2 4 6 5 8 18 26 18 3 4-1 5-5 4 1 14-17 13-2 14 17 18 16 13 4 9-7 23-31 9-7 4-1 9 0 27 23 5-3 9 1 9-6 9-4 18-31 9-44 4-33" stroke="#000" stroke-opacity="0.4"/>
<path d="M2225 4437l9-1 9-4 9 0 13-11 5 3 13-4 5 3 9 0 4 4 18-1 9-6 18 0 5-3 4-9 9-10 9-15 5 1 4 4 9 1 9 17 18 28 5 1 9-6 4-8 9-11 14-24 4-2 5-5 4 0 5 3 18 28 18 5 9-5 4-1 5-6 13-29 9-12 5-4 9 4 13 17 5 10 13 16 9 4 5-4 4 1 5-4 9-11 9-8 9-26 9-47 4-42" stroke="#000" stroke-opacity="0.5"/>
<path d="M2225 4350l9 0 4 5 14 1 4 4 5 0 4-7 9 3 5 0 4-4 5 2 4 6 5-4 18 0 4-2 9 4 9 2 14-3 4-6 18-14 5-2 9 0 9 11 4 3 9-2 9 4 14-7 4 0 5-4 4-9 5-4 9-2 9-4 4 6 5-1 9 4 9 6 4-1 5 4 4 1 5 3 4-1 9-4 9-11 9-16 9-9 9 1 5 2 13 22 9 7 5 2 4-1 14-10 4 1 5-5 4 2 14-12 9-19 13-68" stroke="#000" stroke-opacity="0.5"/>
<path d="M2225 4408l9-2 9 1 31-11 5 4 9-4 4-1 9 5 5-5 4 1 5 3 4-1 5 3 9 0 4 2 5-3 4 1 9-7 5-2 4-8 5-3 9-3 4 6 5 1 4 8 9 9 5 7 4-2 5 4 4 0 5 3 4-2 5-6 4-3 9-3 9-12 5-2 4 0 9-8 9 8 5 3 4 0 5 5 4 2 9 1 14-5 4 1 18-25 9-18 5-4 4-2 5 1 9 8 4 10 9 10 14 8 4-1 5 2 4-3 5-1 13-10 14-21 4-13 5-21 4-32" stroke="#0000ff" stroke-opacity="0.7"/>
<path d="M2225 4352l4 0 9-3 9 1 14-5 9 2 9 4 4 0 5 4 9 2 9-4 13-1 9-7 14-6 13-10 9-11 9-18 9-7 5 1 18 25 4 9 5 3 4-1 5 3 9-3 9-6 9-16 4-4 9-16 5-3 9 8 9 14 13 27 5 4 13 1 5-3 4-6 5-2 4-12 14-26 9-14 13 19 14 35 4 8 9 8 18 1 5-2 4-5 5-1 4-4 5-9 9-36 4-26 9-93" stroke="#000" stroke-opacity="0.7"/>
<path d="M2225 4437l4-4 5-1 9-6 9-1 9-6 13-2 14-4 4 2 5 0 4 6 5 0 4 8 14 13 4 2 9 12 23 8 4-2 5 3 9 0 9-7 9 1 9-5 13 0 18-22 9-17 5-5 9-19 4-2 9 4 5 0 9 14 4 3 14 5 9 1 13 6 5-1 9 8 13-6 5 3 9-3 4 3 9 2 14-5 4-3 5 1 4-4 5 1 4-2 9-9 9-12 14-30 4-14 9-41" stroke="#000" stroke-opacity="0.5"/>
<path d="M2225 4427l4-2 14-1 9-5 9-3 4 1 9-7 9-3 9-8 5-1 4 3 5-2 4 1 5-2 13-11 5-1 4-3 9 0 9-10 5-11 9-9 4-2 9 8 9 13 5 3 9 11 9 8 4 1 5 8 4-2 5 0 9-9 4-5 5-13 4-7 5-5 4-2 5-5 13 20 14 15 4-1 5 3 9-2 4-4 5-1 4-5 14-27 13-17 5-1 4 1 5 9 4 5 9 21 9 16 9 0 5-5 4 0 9-7 5-1 9 1 4-6 5-2 4-7 5-15 4-22 5-33 4-48" stroke="#000" stroke-opacity="0.6"/>
<path d="M2225 4469l13 6 5 3 13 2 14-11 4-1 9-12 5 0 4-4 5 4 4-4 9-2 5-4 4-2 5-5 4-2 9-13 5-3 4-5 9-15 9-9 5-9 4-6 5-3 9 3 4 3 9 11 5 11 18 22 4 1 5-5 4-2 14-19 4-2 5-1 4-4 9 5 5 6 9 19 4 6 5 11 9 13 4 1 5-2 4 2 9-4 9-14 18-40 9-7 5 5 4 1 14 20 4 2 9-4 9-8 9-12 5-3 4 2 5-10 9-11 4-9 5-14 4-24 5-28 4-45" stroke="#0000ff" stroke-opacity="0.3"/>
<path d="M2225 4429l4-1 5 3 9 0 4 2 5-3 4 1 5-3 4 0 5-3 9-2 13-7 9 3 5-4 18-6 4-3 5 3 4-1 14-17 18-17 4-6 14-1 9 12 4 12 5 2 13-2 5-2 4-5 14-9 4-10 9-13 14-8 13 15 5 10 9 14 9 7 4 1 9-2 9-5 5-5 9-15 13-13 5-1 18 13 13 25 9 7 5 1 4-1 9-8 5-1 13-15 5-6 4-11 9-43 9-87" stroke="#0000ff" stroke-opacity="0.7"/>
<path d="M2225 4430l4 0 9 3 5 4 4 0 9-3 5-4 13 1 14 7 13 2 18 17 9 1 14-2 13-6 18-26 5 2 4-2 18 27 5-3 9 2 13-11 9-11 14-23 4-11 9-11 9-1 5 1 13 26 5 1 9 9 4 1 5 0 4-4 5 0 9-9 9-23 9-17 4-6 5-1 9 15 13 30 9 12 5 3 4 6 5-1 4 2 9-2 14-13 9-20 4-17 5-23 4-36 9-115" stroke="#000" stroke-opacity="0.4"/>
<path d="M2225 4405l13-2 27 7 14-5 9-1 4 2 5-1 4-4 5 1 4-1 5 0 9-4 4 3 5-1 4 3 9-5 5 4 4 2 5-2 9-8 4-2 9 0 9 6 5 9 4 4 5 1 4 0 5 3 4 0 5-4 9-1 4-5 5-10 13-13 5-8 4-3 9 5 9 3 9 12 18-2 14-5 4 0 5-3 4-4 9-15 14-13 4 0 14 21 4 3 5 9 4 3 18 0 9 1 9-4 9-6 5-10 4-5 9-26 9-44" stroke="#0000ff" stroke-opacity="0.4"/>
<path d="M2225 4456l4 2 5-1 9 5 9 1 9 6 4-2 5 0 9 4 4-5 5-3 4 4 5 2 4-4 5 1 4 8 5 2 9-5 4 2 9-4 5 1 9-5 9-15 9-22 4-8 5-4 4 1 5-2 4 3 5 1 9 11 9 3 4-1 5 4 9-7 9-11 4-4 14-26 9-8 4 0 5 6 9 16 9 20 4 6 14 10 4-4 5-2 4 0 9-15 18-44 5 2 4 4 18 40 5 4 9 3 9 1 9-5 13-12 5-7 4-8 9-30 9-54 9-103" stroke="#000" stroke-opacity="0.4"/>
<path d="M2225 4361l4 2 14-7 4 2 5-1 9 2 4 4 9 1 9-7 14-1 4-2 9 4 5 4 9-4 4 4 5-1 4 3 14-8 4-6 5-1 4-7 5-4 9-2 4 2 9 1 14 16 9 5 9 3 13-5 5-7 4-2 14-17 9-4 4-5 5-1 4 2 9 8 14 16 4 3 5-1 4-3 5 1 4-3 27-44 5 0 4 5 5 0 9 9 4 9 9 6 5 7 4 3 9-1 5 3 9-6 9-4 18-27 9-31 4-24" stroke="#000" stroke-opacity="0.7"/>
<path d="M2225 4423l4-1 5 0 9-3 4 2 14-4 9 2 4-1 9 4 9 1 5 4 4 0 5 2 18-3 4 2 9-3 5 1 4 4 9-6 14 8 9-1 4 5 14-5 9 3 13-6 9-1 5-4 4-7 5-3 4 1 14-13 9 3 4-5 5-1 4 1 5 4 4 2 5-3 13 7 5-6 4 3 5 0 4-1 9-8 5 0 13-4 14 6 4-2 14 8 9 0 9 4 9-8 4 0 5 2 9-5 4-1 5 2 13-25 9-30" stroke="#0000ff" stroke-opacity="0.5"/>
<path d="M2225 4465l4 0 9-2 14 4 4 0 5-4 9-2 9-7 4-5 9 1 5-1 13 5 9-2 9 3 14 0 9-3 13-17 5-1 9-6 4-1 9 11 5 2 4 7 9 9 5 0 9 4 4-1 5-3 4 1 5-1 9-7 4-2 5 0 4-2 5 1 4 2 27 26 9 1 5 3 4 0 5-3 9-7 9-13 4-13 14-18 4-3 5 4 4 11 5 1 4 5 5 9 4 3 5 1 4-1 5 2 4-3 9-2 14-18 4-9 14-36 9-50 4-39" stroke="#000" stroke-opacity="0.2"/>
<path d="M2225 4460l4 1 9-3 14-7 4-4 9-4 5 1 9-3 4 0 5-3 4 0 9-6 5 3 4-4 14-3 4 1 5-7 18-16 9-8 9-5 9 4 4-1 14 22 13 14 14 2 9-2 9 1 4-7 14-8 9 3 4 11 18 25 9 2 5 5 4 0 9-8 5 1 4-6 5-13 22-39 9 13 9 19 14 17 4 0 9-8 5 3 9-6 9-3 4-4 9-15 5-14 9-42 4-31 5-50 4-68" stroke="#000" stroke-opacity="0.6"/>
<path d="M2225 4412l9 0 9-5 4 1 5-4 9 4 4 0 5-3 4-1 5 5 4-6 9 0 9 6 5-4 4-1 5-4 4 0 9-2 5 0 9 5 9 2 4-2 5 4 13 0 9 6 5-1 4 3 9 0 5-2 4 3 14-1 4-1 5-4 13-21 18-21 9 0 5 3 4-2 9 3 5-5 4 2 5-4 4 1 5-2 9 1 4-2 5 2 4-5 5-1 9-6 9-3 4 4 9 3 9 11 5-2 18 2 4-7 5 2 9-4 4-4 5-7 4-2 9-19 9-12 9-26" stroke="#00006e" stroke-opacity="0.8"/>
<path d="M2225 4479l4 0 5-3 4 3 5-3 9 0 4-3 5 4 4-4 9-2 5-5 4 1 5-3 9 1 4-3 5 4 4 0 5-2 9-1 13-6 5 2 4-2 27-26 5 0 9 5 4 6 9 5 9 3 9 4 5-2 4 1 5-5 4 1 5-4 9-17 4-5 9-2 5 1 18 22 9 6 9 10 4 1 5-2 4-5 5-2 13-17 9-4 9-10 5-3 4 0 5 5 9 12 9 16 18 7 9-1 4 2 9-11 5-3 4-7 5-8 9-27 4-17 9-68" stroke="#000" stroke-opacity="0.5"/>
<path d="M2225 4372l13 8 9 0 5 4 4-3 9 3 9 8 5-2 9 3 4-2 5 1 9 6 9 0 9 3 4-2 9 5 9 0 9-6 14-15 9-3 4 2 9 10 14 26 4 1 5 4 4 0 5-2 4 0 5-6 4-2 9-11 9-17 14-12 4 0 5 4 4 7 14 13 9 6 4-4 5-1 4-3 9-17 18-47 5-4 4-7 5 1 4 3 18 25 14 8 4 1 23-13 9-9 4-7 9-25 9-51 9-92" stroke="#0000ff" stroke-opacity="0.4"/>
<path d="M2225 4400l4 1 14-5 4 2 5-3 4 0 9-5 9-2 5 0 4-5 5 0 4 2 5 0 9-6 9 7 9-5 9-1 4-5 9-4 9-8 5-1 4-3 5-5 4-8 18 2 5 4 4 10 5 1 18 15 4-4 5-1 13-12 5-10 4-4 5-7 4-4 5-1 9 3 4 4 9 15 9 6 5 5 4 1 5-1 4-6 5 0 4-2 18-21 9-17 9 2 5 4 4 7 9 22 14 19 13 4 5-4 9-7 4-1 5-5 9-14 4-11 5-16 4-24 9-75" stroke="#0000ff" stroke-opacity="0.3"/>
<path d="M2225 4446l9-6 9-2 9-6 9 5 4 0 5 1 4-2 5 1 9-2 4 4 5-4 4 7 9 3 5-1 9-4 4-5 5-1 4-3 14-1 4 2 5-6 22-12 5 5 13-1 9 1 14-2 9-4 9-12 4-1 5-3 9-4 4 1 5 3 9-3 4 2 5 5 9-4 9 7 4 0 5-2 9 2 13-10 14-5 4 3 5 0 4 3 5 1 4 4 5 1 9-1 4-3 5 3 4-2 9 1 5-2 13 4 5-2 9 0 4-4 14-20 4-11" stroke="#000" stroke-opacity="0.2"/>
</g></g>
<path d="M742.6,1509.2 L887.3,1509.2" stroke="#b3b3b3" stroke-width="1.2"/>
<clipPath id="t32"><rect x="741.6" y="1509.2" width="146.7" height="16"/></clipPath><g clip-path="url(#t32)">
<text class="k" x="754.7" y="1519">2.414</text>
<text class="k" x="780.9" y="1519">2.410</text>
<text class="k" x="808.1" y="1519">2.406</text>
<text class="k" x="834" y="1519">2.402</text>
<text class="k" x="860.2" y="1519">2.398</text>
<text class="k" x="886" y="1519">2.394</text>
</g>
<path d="M754.7,1509.2 L754.7,1512.2 M780.9,1509.2 L780.9,1512.2 M808.1,1509.2 L808.1,1512.2 M834,1509.2 L834,1512.2 M860.2,1509.2 L860.2,1512.2 M886,1509.2 L886,1512.2 M754.7,1509.2 L754.7,1511.2 M767.8,1509.2 L767.8,1511.2 M780.9,1509.2 L780.9,1511.2 M794,1509.2 L794,1511.2 M807.1,1509.2 L807.1,1511.2 M820.2,1509.2 L820.2,1511.2 M833.3,1509.2 L833.3,1511.2 M846.4,1509.2 L846.4,1511.2 M859.5,1509.2 L859.5,1511.2 M872.6,1509.2 L872.6,1511.2 M885.7,1509.2 L885.7,1511.2" stroke="#999" stroke-width="0.8"/>
<path class="a" d="M931.4,1400.8V1503.4H1071.8"/>
<text class="y" x="929.2" y="1403.2">2.0</text>
<text class="y" x="929.2" y="1428.9">1.5</text>
<text class="y" x="929.2" y="1454.5">1.0</text>
<text class="y" x="929.2" y="1480.2">0.5</text>
<text class="y" x="929.2" y="1505.8">0.0</text>
<text class="u" x="906.4" y="1452.1" transform="rotate(-90 906.4 1452.1)" dy="2.8">A.U.</text>
<path class="w" d="M967.1,1425.2V1431.5M967.1,1446.8V1462.9M955.8,1425.2h22.6M955.8,1462.9h22.6"/>
<rect class="b" x="944.5" y="1431.5" width="45.3" height="15.3" fill="#888"/>
<path class="m" d="M944.5,1438.5H989.8"/>
<path class="w" d="M1036.7,1435.2V1446.8M1036.7,1454.1V1469.5M1025.3,1435.2h22.6M1025.3,1469.5h22.6"/>
<rect class="b" x="1014" y="1446.8" width="45.3" height="7.3" fill="#0000a8"/>
<path class="m" d="M1014,1449.8H1059.3"/>
<path class="t" d="M928.9,1400.8h2.5M928.9,1426.5h2.5M928.9,1452.1h2.5M928.9,1477.8h2.5M928.9,1503.4h2.5M967.1,1503.4v3M1036.7,1503.4v3"/>
<text class="x" x="966.6" y="1510.9" transform="rotate(-45 966.6 1510.9)" dy="4">HC</text>
<text class="x" x="1036.2" y="1510.9" transform="rotate(-45 1036.2 1510.9)" dy="4">CT</text>
<path class="st" d="M993.8,1407l0,-3.3M993.8,1407l3.1,-1M993.8,1407l1.9,2.7M993.8,1407l-1.9,2.7M993.8,1407l-3.1,-1M1002.4,1407l0,-3.3M1002.4,1407l3.1,-1M1002.4,1407l1.9,2.7M1002.4,1407l-1.9,2.7M1002.4,1407l-3.1,-1"/>
<path class="pl" d="M995.3,1420.1h7M998.8,1416.6v7"/>
<rect x="834.5" y="1375.4" width="155.7" height="18.5" fill="#fff"/><text x="912.3" y="1388.9" font-size="17.5" font-weight="bold" text-anchor="middle">3-hydroxybutyrate</text>
<path d="M742,1465 C752,1455 758,1440 766,1425 C770,1418 775,1420 780,1440 C785,1455 800,1452 810,1448" stroke="#6a6aff" stroke-width="1" fill="none" clip-path="url(#c32)"/>
<clipPath id="c33"><rect x="1106.6" y="1396.8" width="142.9" height="107.8"/></clipPath>
<rect x="1106.6" y="1396.8" width="142.9" height="107.8" fill="none" stroke="#e6e6e6" stroke-width="1"/>
<g clip-path="url(#c33)" fill="none" stroke-linejoin="round"><g transform="scale(0.333333)" stroke-width="3">
<path d="M3317 4481l20-1 5-2 4-5 5-13 11-59 4-14 3 1 2 5 11 56 7 17 4 2 18-4 7 0 14 2 4 0 2-2 5-10 4-20 14-116 4-21 3-2 4 8 11 40 16 110 5 16 4 6 5 2 4-1 14-10 4-1 14 9 6 1 5-3 4-7 5-13 4-22 14-101 4-22 3-4 2 1 4 17 16 114 5 19 4 11 5 3 9-4 4 0 11 9 7 3 5-1 4-4 7-21 11-72 2-9 3-4 2 2 2 9 11 72 7 23 5 5 4 2 27 1" stroke="#0000ff" stroke-opacity="0.6"/>
<path d="M3317 4474l20-1 5-1 4-4 5-9 11-46 4-11 3 0 2 4 11 43 7 13 4 2 18-3 21 2 6-2 5-7 4-16 14-89 4-16 3-2 4 6 11 31 16 86 5 12 4 5 9 1 14-7 4-1 14 7 6 1 5-2 4-5 5-10 4-16 14-78 4-18 3-3 2 0 4 13 16 87 5 15 4 8 5 2 13-3 11 6 7 2 5-1 4-3 7-16 11-56 5-11 2 2 2 6 11 56 7 18 5 4 4 1 27 1" stroke="#000" stroke-opacity="0.8"/>
<path d="M3317 4473l18 0 4-2 5-5 7-19 9-39 4-9 2 2 3 5 11 44 7 12 4 1 20-4 18 2 7-2 5-9 4-18 14-92 2-9 2-5 2 0 7 13 9 27 16 87 4 11 5 5 9 0 16-8 4 1 11 7 7 0 5-2 4-6 5-11 4-18 14-80 4-15 2-2 3 2 4 16 16 90 4 14 5 7 4 2 9-2 5 0 11 7 7 1 4 0 5-4 7-18 11-58 2-6 2-2 5 11 11 57 7 16 4 3 5 1 29 0" stroke="#000" stroke-opacity="0.5"/>
<path d="M3317 4473l20-1 5-3 4-9 7-31 9-67 4-15 3 3 2 9 11 74 2 9 5 11 4 2 21-6 18 4 4-1 2-3 5-14 4-30 14-153 2-16 2-8 3-1 4 13 11 56 16 147 5 19 4 7 5 2 4-1 16-14 4 2 12 10 4 1 7-4 4-10 5-19 4-31 14-135 4-27 3-3 2 3 4 25 16 152 5 24 4 12 5 3 9-4 4 0 11 12 7 3 5-1 4-7 7-29 11-97 2-10 3-3 4 18 11 97 7 27 5 6 4 1 27 1" stroke="#00006e" stroke-opacity="0.8"/>
<path d="M3317 4485l22 0 9-3 5-6 11-25 5-5 4 3 11 23 7 6 7 1 20-2 18 1 5-1 4-4 5-9 13-47 2-6 5-3 4 3 12 17 15 46 5 6 4 3 9 1 18-4 14 4 7 0 9-4 4-5 5-9 13-42 5-9 2-2 2 1 5 7 15 47 5 8 4 4 5 1 13-2 18 4 9-2 7-9 11-30 5-6 4 5 12 30 6 8 9 3 25 0" stroke="#000" stroke-opacity="0.3"/>
<path d="M3317 4478l20-1 5-1 4-4 5-9 11-45 4-10 3 0 2 4 11 42 7 12 4 1 18-3 21 1 6-2 5-7 4-16 14-86 4-16 3-2 4 6 11 30 16 82 5 11 4 5 9 1 14-7 4-1 14 7 6 1 5-2 4-5 5-10 4-16 14-75 4-16 3-3 2 0 4 13 16 85 5 15 4 8 5 2 13-3 11 6 7 2 5 0 4-4 7-15 11-54 5-11 2 2 2 6 11 53 7 17 5 3 4 1 27-1" stroke="#000" stroke-opacity="0.3"/>
<path d="M3317 4475l20-1 5-4 4-9 5-20 11-79 2-9 2-3 5 14 11 73 2 8 5 9 4 1 14-5 7-1 18 4 4-2 2-3 5-15 4-32 12-130 4-34 2-6 3 1 2 6 11 52 16 145 4 25 3 7 4 6 5 2 4-2 11-11 5-2 4 2 9 9 7 1 5-2 4-8 5-15 4-26 16-152 4-24 3-2 2 5 4 28 16 147 5 22 4 11 5 2 6-4 5-1 4 3 9 10 5 2 4 1 5-4 4-12 3-10 13-108 2-8 3-1 4 22 9 80 7 35 4 8 5 3 29 1" stroke="#0000ff" stroke-opacity="0.3"/>
<path d="M3317 4483l20 0 7-2 7-7 9-18 4-5 5 2 11 21 7 6 6 2 16-1 20 2 7-1 5-3 4-7 14-42 4-8 2-1 5 3 11 15 14 35 6 10 9 3 23-5 16 3 6-1 7-3 7-9 16-41 4-9 2-2 3 0 4 6 16 41 4 7 5 4 4 1 14-2 18 4 9-2 7-7 11-26 4-5 5 4 11 27 7 8 9 3 29 2" stroke="#000" stroke-opacity="0.4"/>
<path d="M3317 4474l20-1 5-4 2-4 7-27 11-83 2-8 2-2 5 17 9 65 7 26 2 3 4 1 18-7 7 1 14 3 4-3 5-11 4-26 14-158 4-35 2-5 3 1 2 7 11 53 16 151 4 25 5 10 4 3 5-1 4-3 9-10 5-2 4 2 9 10 7 2 5-3 4-8 5-16 4-28 16-158 4-23 3-1 2 7 4 32 16 156 5 23 4 10 5 2 6-3 5-1 13 14 5 3 4 0 5-5 7-24 11-99 4-23 3 0 2 9 11 101 7 34 4 9 5 3 29 1" stroke="#00006e" stroke-opacity="0.8"/>
<path d="M3317 4482l20-1 9-3 7-11 9-23 4-6 3 1 2 3 11 26 7 7 7 1 20-1 16 2 6-1 5-5 4-9 14-54 2-6 2-3 3-1 4 4 11 18 16 50 5 7 4 3 9 0 18-5 14 4 6 0 9-4 5-6 4-10 14-46 4-10 3-2 2 1 4 9 16 53 5 9 4 5 5 2 13-1 18 5 9-2 7-10 11-34 5-6 4 5 11 33 7 9 9 3 27-2" stroke="#000" stroke-opacity="0.7"/>
<path d="M3317 4472l22-2 5-2 4-7 7-29 9-65 5-16 2 1 2 7 11 72 7 21 2 2 5 1 13-5 7 0 18 4 5-3 4-13 5-27 13-148 2-17 3-9 2-2 4 11 12 52 15 142 5 21 4 8 5 2 4-1 14-12 4-1 14 11 7 2 4-4 5-8 4-17 5-29 13-129 5-28 2-5 2 2 5 23 15 147 5 25 4 12 5 4 9-4 4 0 12 11 6 3 5-1 4-5 7-27 11-93 3-12 2-5 2 4 2 11 12 94 6 28 5 6 4 2 25 0" stroke="#0000ff" stroke-opacity="0.6"/>
<path d="M3317 4483l20-1 9-3 7-9 9-20 4-4 5 3 11 21 7 6 25-1 20 2 4-1 5-3 4-8 14-43 2-5 5-3 4 4 11 16 16 42 5 6 4 2 9 1 16-4 20 3 7-2 4-3 9-14 16-44 5-4 2 1 4 6 16 43 5 6 4 4 5 1 13-2 18 4 9-2 7-8 11-27 5-4 4 5 11 28 7 8 9 3 27 1" stroke="#000" stroke-opacity="0.3"/>
<path d="M3317 4477l20-1 7-5 7-14 11-43 2-5 2-2 5 8 11 39 5 8 4 2 23-4 18 3 6-3 7-16 14-81 4-18 2-3 3 1 2 3 11 28 16 80 4 13 7 8 9 0 16-7 13 7 7 1 5-2 4-4 5-8 4-14 16-83 4-12 3-2 2 3 4 16 16 79 5 12 4 5 5 1 11-3 18 7 4 0 5-2 4-7 5-13 11-52 2-4 3-1 4 13 9 43 7 19 4 5 5 1 29 3" stroke="#000" stroke-opacity="0.4"/>
<path d="M3317 4472l20 0 5-2 4-6 7-25 11-79 2-9 3-2 4 15 11 75 5 14 2 3 5 2 18-6 6 1 14 4 4-2 5-10 4-24 14-151 4-34 3-6 2 1 2 6 11 51 16 145 5 24 2 7 4 6 5 1 4-2 12-11 4-3 5 2 9 9 4 2 7-2 4-8 5-15 4-26 16-152 5-23 2-1 2 5 5 29 15 150 5 22 4 11 5 2 7-3 4-1 5 3 9 9 4 3 5 0 4-4 5-13 4-25 11-95 3-9 2 0 4 22 9 81 7 34 5 8 4 2 27 1" stroke="#0000ff" stroke-opacity="0.7"/>
<path d="M3317 4485l20 0 9-3 5-5 11-20 4-2 5 3 11 19 7 5 25-1 18 1 6-2 5-4 4-8 12-33 4-9 2-2 5 1 11 13 16 36 4 6 7 3 9 0 16-3 18 3 11-2 5-4 4-6 16-38 4-6 3 0 2 1 4 8 16 38 5 6 4 3 16 0 18 3 9-1 7-5 13-28 5-3 4 5 11 24 5 5 9 2 29-1" stroke="#000" stroke-opacity="0.7"/>
<path d="M3317 4475l20 0 5-3 4-7 7-29 9-59 2-9 2-3 3 3 2 8 11 68 2 8 5 9 4 3 21-5 18 4 4-1 2-3 5-13 4-28 14-139 2-14 2-7 3 0 6 20 9 42 16 131 5 16 4 6 5 2 4-2 16-13 4 1 12 9 6 0 5-4 4-9 5-17 4-28 14-122 4-24 3-2 2 3 4 24 16 137 5 21 4 11 5 2 9-4 4 1 11 10 7 3 5-1 4-7 7-27 11-87 2-9 3-2 4 17 9 73 7 33 4 8 5 3 29 1" stroke="#0000ff" stroke-opacity="0.3"/>
<path d="M3317 4474l20-2 5-3 4-8 7-31 9-66 4-15 3 3 2 8 11 74 2 9 5 10 2 2 5 0 11-4 7-2 18 5 4-2 2-3 5-14 4-29 14-152 2-16 2-8 3-2 4 13 11 54 16 144 5 19 4 7 5 2 4-1 16-13 4 1 12 12 6 1 5-4 4-9 5-18 4-29 14-132 4-26 3-3 2 3 4 25 16 151 5 23 4 13 5 3 9-5 4 1 11 10 7 3 5-1 4-7 7-30 11-96 2-11 3-3 2 5 2 12 11 94 7 27 5 5 4 2 27 0" stroke="#0000ff" stroke-opacity="0.7"/>
<path d="M3317 4468l18-1 4-4 3-5 6-29 9-67 5-19 2 1 2 7 12 77 6 23 5 4 18-5 7 1 13 5 5-1 2-3 4-12 5-27 13-157 5-29 2-4 5 11 11 55 16 150 4 22 5 9 4 2 5-1 13-13 5-2 4 3 9 9 7 1 4-4 5-9 4-17 5-30 13-137 5-31 2-6 2 1 5 22 16 156 4 26 5 14 4 5 9-5 5 0 11 11 7 4 4-1 5-6 6-27 12-99 4-19 2 3 3 11 11 98 7 31 4 7 5 2 31 1" stroke="#0000ff" stroke-opacity="0.3"/>
<path d="M3317 4470l20-1 5-2 4-7 7-29 11-84 2-8 3 0 4 18 9 66 7 26 2 3 5 1 18-6 6 1 12 4 4-1 2-2 5-11 4-27 14-162 4-33 3-4 2 2 2 7 11 56 16 155 5 24 4 10 5 3 4-1 14-13 4-2 5 2 9 10 6 2 5-3 4-9 5-17 4-29 16-161 5-22 2 0 2 7 5 34 13 141 5 29 2 9 4 10 5 2 7-4 4-1 14 14 4 2 5-1 4-5 7-26 11-101 5-23 2 2 2 10 11 102 7 33 5 8 4 3 27 1" stroke="#0000ff" stroke-opacity="0.3"/>
<path d="M3317 4486l18 0 9-3 7-9 9-19 4-5 5 3 11 22 7 6 6 1 21-2 15 1 7-1 5-4 4-8 14-46 2-5 4-3 5 3 9 12 4 9 14 37 4 6 5 2 9 0 18-4 13 3 7 0 9-4 5-6 4-8 14-40 4-9 2-1 3 0 4 7 16 44 4 8 5 4 4 1 14-2 18 4 9-2 7-8 11-28 4-5 5 5 11 28 7 9 9 2 29 1" stroke="#000" stroke-opacity="0.3"/>
<path d="M3317 4473l22-1 5-3 4-8 7-31 9-66 2-10 3-5 2 3 2 9 11 74 3 9 4 10 5 2 20-6 18 5 4-2 3-3 4-14 5-30 13-152 2-16 3-8 2-1 4 13 12 56 15 146 5 19 4 7 5 2 4-1 16-13 5 1 11 11 4 1 7-4 5-10 4-18 5-31 13-134 5-26 2-4 2 4 5 25 15 150 5 24 4 12 5 3 9-5 4 0 12 11 6 3 5-2 4-6 7-30 11-96 3-10 2-3 4 18 9 80 7 37 5 9 4 4 27 2" stroke="#0000ff" stroke-opacity="0.4"/>
<path d="M3317 4480l20-1 5-1 4-6 7-22 9-51 4-14 3 1 2 5 11 57 7 17 4 3 18-5 7 0 14 3 4-1 2-2 5-9 4-21 14-118 4-22 3-2 4 8 11 40 16 112 5 17 4 6 5 2 4-1 14-10 4-1 14 9 6 1 5-2 4-7 5-13 4-22 14-103 4-23 3-4 2 1 4 17 16 116 5 20 4 11 5 3 9-3 4 0 11 8 7 3 5-1 4-4 7-21 11-74 5-14 2 2 2 8 11 74 7 23 5 5 4 2 27 0" stroke="#0000ff" stroke-opacity="0.4"/>
<path d="M3317 4479l20 0 7-3 7-10 11-30 2-4 2 0 5 6 11 28 5 6 6 1 18-1 21 2 4-1 5-4 4-9 14-58 4-13 2-2 5 3 11 20 16 57 4 9 7 5 9 0 16-5 18 5 7-1 4-3 5-6 4-10 16-58 4-9 3 0 2 2 4 11 16 58 5 8 4 4 5 0 11-2 18 6 9-2 4-5 5-10 11-37 2-3 3 0 4 9 9 30 7 13 4 3 5 1 29-1" stroke="#000" stroke-opacity="0.6"/>
<path d="M3317 4481l20 0 9-3 7-10 11-29 2-2 3-1 4 7 9 23 7 8 7 2 18-2 18 2 6-1 5-4 4-10 14-55 4-11 3-2 4 4 11 19 16 53 5 8 4 3 9 1 18-6 14 4 6 1 9-5 5-6 4-10 14-48 4-12 3-2 2 0 4 7 18 61 5 7 4 4 16-1 18 5 9-2 7-9 11-35 5-7 2 0 2 4 11 35 7 11 9 4 27-1" stroke="#000" stroke-opacity="0.5"/>
<path d="M3317 4468l20-1 5-2 4-8 7-33 9-68 2-10 2-5 3 3 2 9 11 77 2 10 5 11 2 3 5 0 11-4 7-1 18 6 4-2 2-3 5-14 4-30 14-159 2-16 2-9 3-1 4 13 11 57 16 150 5 20 4 8 5 1 4-1 16-15 4 1 12 11 6 0 5-4 4-10 5-20 4-31 14-140 4-28 3-4 2 3 4 27 16 156 5 25 4 12 5 4 9-5 4 0 11 12 7 3 5-1 4-6 7-31 11-99 2-11 3-3 2 5 2 13 11 100 7 29 5 6 4 2 27 2" stroke="#0000ff" stroke-opacity="0.6"/>
<path d="M3317 4488l20 0 9-2 7-7 9-14 4-2 5 2 11 15 7 4 49-2 5-3 4-7 14-31 2-3 5-2 6 4 9 10 16 30 5 4 4 1 9 0 16-3 20 3 11-3 9-10 14-28 4-5 3-1 2 1 4 5 16 31 5 5 4 2 18 0 18 3 9-2 7-6 11-19 5-3 4 4 11 20 7 5 9 2 27 1" stroke="#000" stroke-opacity="0.3"/>
<path d="M3317 4472l22-1 5-3 4-7 5-16 11-79 5-18 2 1 2 7 11 74 7 22 5 3 18-5 6 1 14 4 4 0 3-3 4-12 5-27 13-152 5-28 2-3 4 11 12 53 15 146 5 21 4 9 5 2 4-1 14-14 4-1 14 11 7 1 4-4 5-9 4-17 5-29 13-134 5-29 2-6 2 1 5 23 15 151 5 26 4 13 5 5 9-5 4 1 12 11 6 4 5-1 4-5 7-27 11-95 3-13 2-5 2 3 2 11 12 96 6 30 5 7 4 2 25 0" stroke="#0000ff" stroke-opacity="0.6"/>
<path d="M3317 4480l20 0 7-3 7-9 11-29 4-3 5 5 11 27 7 6 25-1 18 2 6-2 7-11 14-54 4-12 2-3 5 3 11 18 16 52 4 9 5 3 9 1 18-7 18 4 7-1 4-3 5-5 4-10 16-55 4-8 3 0 2 2 4 10 16 55 5 9 4 4 5 1 11-1 18 7 9-1 4-4 5-9 11-35 2-3 3 0 4 8 9 29 7 13 4 2 5 1 29-1" stroke="#000" stroke-opacity="0.3"/>
<path d="M3317 4472l20-1 5-3 4-7 7-31 9-71 4-20 3-1 2 7 11 79 7 24 4 4 21-7 6 1 12 3 4 0 2-3 5-12 4-28 14-163 4-32 3-4 2 3 2 8 11 57 16 157 5 24 4 10 5 3 4-1 14-12 4-2 5 3 9 10 6 2 5-3 4-9 5-18 4-30 14-143 4-33 3-7 2 1 4 22 16 162 5 28 4 15 5 4 9-5 4 0 14 13 4 2 5-1 4-6 7-27 11-103 5-21 2 3 2 10 11 103 7 33 5 8 4 3 27 1" stroke="#00006e" stroke-opacity="0.8"/>
<path d="M3317 4484l20-1 5-1 4-4 7-18 11-55 2-7 3-1 4 10 11 50 3 6 4 6 5 1 20-5 18 3 4-2 3-2 6-21 14-103 4-23 3-5 2 1 2 4 11 36 16 101 5 17 2 5 4 4 5 1 4-1 12-7 4-1 5 1 9 7 6 1 5-1 4-5 5-11 4-18 16-105 5-16 2-1 2 3 5 20 15 102 5 15 4 7 5 2 11-4 18 9 5 0 4-3 5-9 4-17 11-66 3-6 2 0 4 15 9 56 7 23 5 6 4 3 27 2" stroke="#0000ff" stroke-opacity="0.5"/>
<path d="M3317 4474l20 0 7-4 7-14 11-42 2-4 2-1 5 8 11 40 5 7 6 3 18-3 21 3 4-2 5-5 4-13 14-79 4-18 2-3 3 1 2 3 11 27 16 78 4 12 7 7 9 0 16-7 18 6 7-1 4-4 5-8 4-14 16-81 4-12 3-1 2 3 4 16 16 79 5 11 4 6 5 1 11-3 18 7 4 0 5-2 4-7 5-14 11-50 2-5 3 0 4 13 9 42 7 18 4 4 5 1 29 1" stroke="#000" stroke-opacity="0.4"/>
<path d="M3317 4478l20-1 7-4 7-11 9-25 4-6 5 4 11 29 7 8 6 1 18-1 18 2 7-1 5-5 4-11 14-59 2-6 2-4 2 0 5 4 9 16 4 12 14 49 4 7 5 3 9 0 16-6 15 4 7 0 5-1 4-4 5-7 4-12 16-57 4-6 3 1 4 9 16 59 4 10 5 5 4 1 14-1 18 6 4 0 5-2 7-11 11-36 2-5 2-1 5 6 11 37 7 11 9 3 29-1" stroke="#000" stroke-opacity="0.6"/>
</g></g>
<path d="M1106.6,1506.1 L1249.5,1506.1" stroke="#b3b3b3" stroke-width="1.2"/>
<clipPath id="t33"><rect x="1105.6" y="1506.1" width="144.9" height="16"/></clipPath><g clip-path="url(#t33)">
<text class="k" x="1125.7" y="1517.2">2.475</text>
<text class="k" x="1155.1" y="1517.2">2.465</text>
<text class="k" x="1184.8" y="1517.2">2.455</text>
<text class="k" x="1214" y="1517.2">2.445</text>
<text class="k" x="1243.5" y="1517.2">2.435</text>
</g>
<path d="M1125.7,1506.1 L1125.7,1509.1 M1155.1,1506.1 L1155.1,1509.1 M1184.8,1506.1 L1184.8,1509.1 M1214,1506.1 L1214,1509.1 M1243.5,1506.1 L1243.5,1509.1 M1111,1506.1 L1111,1508.1 M1125.7,1506.1 L1125.7,1508.1 M1140.4,1506.1 L1140.4,1508.1 M1155.1,1506.1 L1155.1,1508.1 M1169.8,1506.1 L1169.8,1508.1 M1184.5,1506.1 L1184.5,1508.1 M1199.2,1506.1 L1199.2,1508.1 M1213.9,1506.1 L1213.9,1508.1 M1228.6,1506.1 L1228.6,1508.1 M1243.3,1506.1 L1243.3,1508.1" stroke="#999" stroke-width="0.8"/>
<path class="a" d="M1282.5,1400.3V1502.6H1427.7"/>
<text class="y" x="1280.3" y="1402.7">6</text>
<text class="y" x="1280.3" y="1436.8">4</text>
<text class="y" x="1280.3" y="1470.9">2</text>
<text class="y" x="1280.3" y="1505">0</text>
<text class="u" x="1257.5" y="1451.4" transform="rotate(-90 1257.5 1451.4)" dy="2.8">A.U.</text>
<path class="w" d="M1319.2,1423.4V1445.5M1319.2,1472.9V1477.7M1307.5,1423.4h23.5M1307.5,1477.7h23.5"/>
<rect class="b" x="1295.7" y="1445.5" width="47" height="27.4" fill="#888"/>
<path class="m" d="M1295.7,1458.7H1342.7"/>
<path class="w" d="M1391.6,1417.1V1428.2M1391.6,1444.7V1460.7M1379.8,1417.1h23.6M1379.8,1460.7h23.6"/>
<rect class="b" x="1368" y="1428.2" width="47.2" height="16.5" fill="#0000ff"/>
<path class="m" d="M1368,1434.8H1415.2"/>
<path class="t" d="M1280,1400.3h2.5M1280,1434.4h2.5M1280,1468.5h2.5M1280,1502.6h2.5M1319.2,1502.6v3M1391.6,1502.6v3"/>
<text class="x" x="1318.7" y="1510.1" transform="rotate(-45 1318.7 1510.1)" dy="4">HC</text>
<text class="x" x="1391.1" y="1510.1" transform="rotate(-45 1391.1 1510.1)" dy="4">CT</text>
<path class="st" d="M1344.4,1406.7l0,-3.3M1344.4,1406.7l3.1,-1M1344.4,1406.7l1.9,2.7M1344.4,1406.7l-1.9,2.7M1344.4,1406.7l-3.1,-1M1353.1,1406.7l0,-3.3M1353.1,1406.7l3.1,-1M1353.1,1406.7l1.9,2.7M1353.1,1406.7l-1.9,2.7M1353.1,1406.7l-3.1,-1M1361.8,1406.7l0,-3.3M1361.8,1406.7l3.1,-1M1361.8,1406.7l1.9,2.7M1361.8,1406.7l-1.9,2.7M1361.8,1406.7l-3.1,-1"/>
<path class="pl" d="M1350.6,1421.4h7M1354.1,1417.9v7"/>
<rect x="1216" y="1375.6" width="88.6" height="18.5" fill="#fff"/><text x="1260.3" y="1389.1" font-size="17.5" font-weight="bold" text-anchor="middle">Glutamine</text>
<clipPath id="c34"><rect x="742.6" y="1547.7" width="143.5" height="108.2"/></clipPath>
<rect x="742.6" y="1547.7" width="143.5" height="108.2" fill="none" stroke="#e6e6e6" stroke-width="1"/>
<g clip-path="url(#c34)" fill="none" stroke-linejoin="round"><g transform="scale(0.333333)" stroke-width="3">
<path d="M2225 4937l18-2 18-16 5 2 11 11 5 3 6 0 9-2 14-11 4 0 9 6 5 0 13-10 12 0 9-5 6 3 11 14 5 3 4-4 1-5 8-45 1-3 2 5 7 44 2 5 4 3 5-3 11-12 4-2 3 2 11 10 4 0 9-6 3-1 15 9 3 0 9-6 4 0 14 9 6-2 9-10 5-3 4 2 10 15 9 4 11-1 16-8 6 1 12 8 9 1 6-2 11-11 5-2 4 2 12 12 6 2 10 0" stroke="#000" stroke-opacity="0.7"/>
<path d="M2225 4930l12 0 6-2 5-5 9-15 4-3 3 3 9 17 6 8 5 3 7 1 8-4 12-15 4 0 11 9 3-1 13-18 3-1 8-1 10-10 2 0 4 4 11 19 3 3 2 0 4-7 1-11 6-58 2-15 1-3 8 68 1 12 4 9 2 0 3-3 11-21 6-5 3 3 7 12 4 4 4 0 9-10 3 0 13 14 5 0 7-7 4-1 4 1 9 12 3 3 6-4 9-17 3-4 2 1 4 4 10 22 8 6 7 1 5-2 13-12 3-1 6 2 11 12 5 2 5 0 6-3 11-16 3-2 6 4 12 21 6 4 10 3" stroke="#000" stroke-opacity="0.3"/>
<path d="M2225 4929l12-4 6-7 5-17 9-43 4-8 2 0 3 9 11 45 5 8 6 1 5-4 4-6 14-47 2-2 2 1 9 21 3 3 4-6 11-40 3-3 6 2 2-1 10-22 2 1 4 10 11 54 3 9 2 1 4-16 1-25 6-144 2-38 1-9 8 171 1 31 4 25 2 1 3-7 13-58 4-7 3 7 7 31 4 10 2 0 2-1 9-26 1-2 2-1 4 7 7 24 4 6 3-3 9-23 2-2 2 1 3 7 8 24 3 6 2 0 4-8 9-44 3-9 2 0 4 11 10 58 4 11 4 5 3 2 4 1 5-4 13-27 3-4 2 1 4 7 11 30 5 7 5 0 4-4 4-10 10-40 2-3 2 1 4 9 12 51 6 8 10 4" stroke="#0000ff" stroke-opacity="0.3"/>
<path d="M2225 4924l14-3 7-5 6-9 9-25 3-6 2 0 4 6 7 19 5 11 4 3 5 1 6-1 3-3 15-25 3 0 9 14 4 3 2-1 12-23 4-2 5 2 4 0 9-11 2 1 3 6 11 33 6 6 1-1 2-6 2-13 7-107 2-8 2 10 7 106 4 17 1 1 4-4 13-35 3-5 4 3 7 18 4 5 3 0 11-18 4 0 9 15 3 3 4-1 9-15 3-1 4 3 9 16 4 1 5-8 9-26 4-2 3 6 11 34 7 11 7 2 6-1 12-14 4-2 5 5 13 22 4 3 5 1 5-3 11-22 4-5 2 1 3 5 13 32 5 5 7 3" stroke="#0000ff" stroke-opacity="0.3"/>
<path d="M2225 4934l12-1 4-2 4-4 5-14 7-25 4-6 2 0 3 6 7 24 6 13 5 4 7-1 8-10 12-33 4-2 11 15 3-1 13-34 3-4 6 1 3-3 9-16 2 0 4 6 12 43 4 4 2-2 3-22 8-133 1-13 2 12 7 133 2 15 2 7 2 2 2 0 3-7 11-36 4-5 3 4 9 30 4 4 3-2 8-15 3-2 4 4 7 19 4 5 3-1 9-16 4-2 3 5 8 18 3 5 4-2 2-3 10-38 4-4 4 6 10 41 4 8 4 4 7 1 5-2 13-22 3-3 2 1 4 4 12 24 4 4 5 0 6-5 11-28 3-6 2 0 4 6 12 39 6 7 10 4" stroke="#0000ff" stroke-opacity="0.4"/>
<path d="M2225 4936l12-1 8-3 5-8 7-13 4-4 2-1 3 4 13 21 5 3 6 0 9-4 10-14 4-3 4 1 9 9 3 0 15-19 10-1 8-7 3-2 4 3 11 21 3 4 4-1 3-10 2-14 7-69 2 3 7 72 2 10 4 5 5-4 11-22 4-3 3 1 9 16 4 2 3-1 8-8 3-2 4 2 9 13 3 2 4-2 7-7 4 0 3 3 9 13 4 2 4-2 10-19 4-2 4 4 12 27 4 3 5 3 6 0 5-2 11-11 5-2 4 2 12 12 9 1 8-6 10-18 4-2 4 2 9 15 5 6 5 2 9 0" stroke="#000" stroke-opacity="0.7"/>
<path d="M2225 4936l12-2 8-6 5-13 9-35 4-7 1 1 4 7 11 36 5 7 6 1 5-3 4-5 14-39 4-1 9 17 3 3 4-5 11-33 3-3 7 1 11-18 2 0 4 8 10 44 4 7 2 0 3-12 2-19 7-148 2-9 9 162 4 21 2 1 3-5 13-48 3-5 4 4 7 26 4 7 2 1 1-1 9-21 4-3 4 5 7 20 3 4 4-2 9-19 4-1 3 6 7 19 4 5 2 0 3-6 9-36 4-8 2 0 3 9 11 46 4 9 3 5 8 2 5-3 13-23 3-2 4 2 14 30 6 4 3-1 4-3 3-7 11-34 2-2 2 0 3 7 13 41 5 7 9 3" stroke="#0000ff" stroke-opacity="0.4"/>
<path d="M2225 4932l14-3 4-3 3-5 17-61 1-2 4 6 13 47 5 6 5 0 6-5 3-6 11-37 4-8 2-1 1 2 9 19 2 2 2-1 4-8 10-37 2-2 7 1 2-1 7-17 4-4 2 2 3 11 11 49 4 7 2-1 3-22 2-28 7-167 2 4 2 32 5 136 2 24 4 17 1-1 4-8 11-49 3-9 2-1 2 3 9 35 4 7 1 0 2-2 7-21 4-5 4 4 9 27 3 4 4-4 7-18 4-3 1 2 11 31 4 4 2-1 3-9 9-40 4-7 3 7 13 63 4 9 3 5 6 2 5-2 5-7 9-20 4-1 4 5 12 33 4 4 5 2 4-3 3-7 11-38 4-5 3 5 9 37 6 16 5 7 7 3" stroke="#0000ff" stroke-opacity="0.3"/>
<path d="M2225 4936l12-2 8-5 5-11 9-27 4-5 1 0 4 6 11 28 5 5 6 1 5-3 4-4 14-29 4 0 9 13 3 2 4-4 11-25 3-2 7 1 11-14 2 0 4 7 10 34 4 5 2 0 3-11 2-16 6-92 1-22 2-4 7 108 2 19 4 15 2 0 3-4 11-33 4-7 1-1 4 5 7 19 4 6 3-1 9-16 4-1 4 4 7 16 3 3 4-2 9-13 4-1 10 21 4 4 2 0 3-5 9-28 4-5 2 0 3 8 11 36 4 7 3 3 8 2 5-2 13-18 3-2 4 2 12 21 6 4 5-1 6-5 10-27 4-4 2 0 3 6 13 31 5 5 9 2" stroke="#0000ff" stroke-opacity="0.1"/>
<path d="M2225 4937l16-2 5-4 9-11 4-2 5 3 13 15 5 2 8 0 7-3 12-11 4 0 9 6 4 1 3-1 11-11 11-1 11-7 5 3 11 15 5 2 4-4 2-7 7-51 2-3 9 55 3 8 6-2 12-16 4-2 3 2 11 11 4 0 9-7 3 0 15 10 3 0 9-6 4 0 14 11 6-2 9-12 5-2 4 2 11 17 9 4 10-1 17-9 5 1 11 8 5 1 6-1 7-4 11-12 3-1 4 2 12 13 6 2 12 0" stroke="#000" stroke-opacity="0.5"/>
<path d="M2225 4933l12 0 8-3 5-8 11-27 3-2 4 4 13 30 5 4 7 0 7-6 11-22 4-5 3 1 9 12 4 0 4-5 7-17 3-5 11-2 7-11 4-2 4 4 12 34 4 4 2-1 3-15 2-19 7-100 2 5 2 22 5 82 2 14 4 8 1 0 4-5 11-31 3-5 4 3 9 21 4 4 3-2 7-12 4-3 4 3 9 17 3 2 4-3 7-11 4-2 1 1 11 19 4 2 3-3 11-29 4-3 3 4 13 37 7 8 6 2 5-2 5-5 8-10 5-3 4 4 12 20 4 2 5 1 4-1 3-5 11-23 4-2 3 4 13 30 5 6 9 3" stroke="#000" stroke-opacity="0.5"/>
<path d="M2225 4942l11-1 7-3 5-6 9-14 4-3 3 2 13 17 5 2 6 0 9-4 14-16 4 0 9 7 3 0 4-2 11-14 11-1 10-8 6 4 11 18 5 2 4-7 1-9 6-49 2-11 1-1 8 58 1 10 4 7 5-3 11-17 4-4 3 1 9 12 4 3 4-1 9-8 3-1 11 11 4 1 3-1 9-7 4 0 11 11 3 2 6-3 9-14 3-3 6 5 10 19 8 6 7 1 5-1 13-9 3-1 4 2 13 12 5 2 5 0 6-3 11-14 3-2 6 4 12 17 6 3 10 1" stroke="#000" stroke-opacity="0.8"/>
<path d="M2225 4933l12-2 6-6 5-12 9-32 4-5 3 4 13 37 5 6 6 0 5-3 4-5 11-27 3-6 4 0 9 15 3 2 4-5 11-29 3-2 6 1 2-1 10-16 2 1 4 9 11 39 3 5 2 0 4-14 1-20 6-108 2-24 1-2 8 129 1 20 4 15 2 1 3-6 11-38 4-8 2-1 1 2 9 27 4 6 4-2 9-18 3-2 4 6 7 17 4 4 3-3 9-16 4 0 11 24 3 3 2 0 4-6 9-32 3-6 2 1 4 9 10 42 4 8 4 4 7 2 5-3 13-20 3-2 4 4 13 25 5 5 5-1 6-6 11-30 3-5 2 1 4 7 7 24 5 12 6 6 10 2" stroke="#0000ff" stroke-opacity="0.3"/>
<path d="M2225 4931l11-2 5-5 5-11 9-27 4-5 4 3 12 34 6 6 7 0 7-6 14-29 4 0 9 14 4 1 3-4 11-26 4-2 7 0 11-15 1 1 4 7 11 34 3 5 2 0 4-12 2-17 5-96 2-23 2-3 7 113 2 19 3 14 2 1 4-5 10-34 4-7 2-1 3 5 8 21 3 5 4 0 9-16 3-1 4 5 7 16 4 4 3-2 9-14 4 0 11 22 3 4 2-1 4-5 9-28 3-6 2 1 4 8 11 37 3 7 4 3 7 1 5-3 13-19 4-2 3 2 13 21 5 3 6-1 5-6 11-27 3-5 2 0 4 6 7 21 5 12 6 5 12 3" stroke="#0000ff" stroke-opacity="0.5"/>
<path d="M2225 4933l11-2 7-6 12-33 4-5 2 0 3 5 8 20 5 11 5 3 6 0 5-3 4-4 12-25 4 0 9 13 4 2 1-1 13-25 4-2 7 1 11-13 1 0 4 6 11 33 3 5 2 1 4-9 2-14 7-111 2-7 9 120 3 16 2 1 4-4 12-37 4-4 3 3 8 19 3 5 4 0 9-16 3-2 4 4 7 15 4 3 3-1 9-13 4-1 4 5 7 15 3 5 2 0 4-4 9-26 3-5 2 0 4 7 11 36 3 7 6 5 5 1 5-2 13-17 4-2 5 4 11 17 5 3 6-1 7-9 11-27 3-2 4 4 12 28 8 5 10 0" stroke="#000" stroke-opacity="0.3"/>
<path d="M2225 4949l12-3 8-6 5-10 9-25 4-6 1 0 4 3 11 22 3 3 6 0 5-2 6-6 14-27 2-1 3 1 8 9 3 2 4-3 11-20 3-2 7 2 11-10 2 0 4 6 12 36 4 3 2-1 3-17 7-98 2-6 9 110 2 10 2 5 2 1 5-6 11-27 3-4 4 3 7 17 4 5 3-1 9-15 4-2 4 2 7 12 3 2 2-1 11-16 4-2 3 3 7 11 4 2 2 0 5-9 9-26 4-2 3 5 11 30 7 9 8 2 5-1 13-13 3-1 6 5 12 22 6 4 3 1 4-1 3-3 11-19 4 0 3 6 13 31 5 5 9 4" stroke="#000" stroke-opacity="0.6"/>
<path d="M2225 4933l14-1 7-6 6-13 9-32 3-5 4 5 9 31 5 12 6 4 7-2 7-10 9-26 4-6 3 0 9 17 4 1 4-6 10-30 4-2 5 1 2-1 7-14 4-4 2 1 3 9 11 40 4 6 2-1 3-17 2-22 7-139 2 0 2 25 5 112 2 21 4 14 1 0 4-6 11-42 3-8 2-1 2 2 9 28 4 6 3-2 9-20 4-2 3 6 8 18 3 4 4-3 9-18 3 0 11 26 4 4 2-1 3-7 9-34 4-5 2 1 3 10 11 46 4 7 3 5 7 2 6-3 12-20 4-1 4 4 12 27 6 5 5 0 5-7 11-31 4-4 3 4 9 30 6 14 5 6 7 2" stroke="#0000ff" stroke-opacity="0.2"/>
<path d="M2225 4935l12-4 8-8 12-41 4-7 2 0 3 5 9 26 4 7 3 4 6 0 5-2 4-4 14-32 4-1 11 18 3 0 4-5 9-23 3-2 6 2 3-1 9-12 2 0 4 7 12 43 4 4 2-2 3-20 8-127 1-12 2 10 7 126 2 14 2 7 2 1 5-8 11-38 4-5 3 2 11 27 4 0 9-19 3-3 4 3 7 15 4 5 3-2 9-17 4-2 3 4 9 20 4 2 5-9 9-30 2-3 2 0 4 7 10 42 4 9 5 6 6 2 5 0 4-3 9-13 3-2 6 5 12 26 4 4 5 1 6-4 11-27 3-6 2 0 4 5 12 35 6 6 10 1" stroke="#000" stroke-opacity="0.6"/>
<path d="M2225 4932l12-2 8-4 5-8 9-21 4-4 3 2 9 21 6 8 5 4 5 0 6-3 3-3 13-21 4 0 9 12 3 1 4-3 11-19 3-2 7 1 11-11 2 0 4 5 10 27 4 4 2 1 3-9 2-12 6-73 1-19 2-5 7 86 2 16 4 13 2 0 3-3 13-30 3-3 4 3 7 16 4 5 3 0 9-13 4-1 4 3 7 13 3 2 4-1 9-11 4-1 10 16 4 3 2 0 3-4 9-22 4-5 2 0 3 6 11 29 7 8 8 1 5-1 13-14 3-2 6 4 10 16 6 3 5 1 4-2 3-5 11-20 4 0 3 4 13 27 5 4 9 2" stroke="#000" stroke-opacity="0.5"/>
<path d="M2225 4935l12-3 4-3 4-5 5-17 7-30 4-8 2 0 3 6 9 33 4 8 5 5 6 0 5-5 4-6 12-37 4-2 11 19 1 1 2-1 4-8 9-29 3-4 6 1 3-2 9-17 2 0 4 7 12 50 4 4 2-2 3-25 8-153 1-16 2 12 7 152 2 17 2 8 2 2 2-1 3-8 11-45 4-7 3 4 9 31 4 5 3-4 8-18 3-4 4 5 7 20 4 6 3-2 9-19 4-2 3 6 9 24 4 3 5-11 9-36 2-4 2 0 4 8 10 49 4 10 5 7 6 2 5-2 6-7 7-15 3-3 2 0 4 6 12 29 4 3 5 1 6-5 11-34 3-7 2 0 4 6 12 44 6 8 10 4" stroke="#0000ff" stroke-opacity="0.1"/>
<path d="M2225 4923l14-3 6-3 5-9 9-19 4-3 3 4 13 28 3 4 6 3 5 0 6-2 10-14 4-3 4 2 9 13 3 2 2-1 13-17 10 1 11-9 6 7 10 25 4 4 2-1 3-10 2-14 6-73 1-15 2-1 7 85 2 13 4 8 2 0 3-5 11-29 4-6 1 0 4 2 7 14 4 2 3-2 8-12 3-4 4 1 9 13 3 1 4-2 7-10 4-3 3 2 9 15 4 2 5-5 9-20 4-4 2 1 3 7 11 29 4 6 5 4 6 1 5-1 13-12 3-1 4 3 12 18 4 2 5 1 4-1 4-3 10-20 4-3 4 2 9 19 5 8 5 3 9 1" stroke="#000" stroke-opacity="0.5"/>
<path d="M2225 4942l20 1 5-2 9-9 4-1 5 2 13 12 5 1 7 0 7-3 13-9 4-1 10 5 4-1 13-10 12-2 11-5 4 2 10 11 4 2 4 0 3-6 7-39 2-4 2 3 7 39 2 5 4 3 5-2 11-11 3-1 4 1 9 9 4 2 14-5 14 9 4 0 9-4 4-1 14 9 5-2 11-11 4-1 3 2 11 11 7 3 13-1 13-8 5-1 14 5 9 1 8-3 10-10 6-2 3 1 13 10 14 2" stroke="#000" stroke-opacity="0.2"/>
<path d="M2225 4927l12-4 8-8 5-16 9-47 4-11 1-1 4 7 9 42 4 11 5 6 5 0 6-6 3-8 13-47 2-2 2 0 1 2 9 22 2 2 2-2 4-9 9-37 3-5 6 2 3-2 9-22 2 0 4 9 12 65 4 6 2-2 3-30 9-216 2 13 7 194 2 24 2 11 2 3 1-1 4-10 11-55 3-9 2 1 2 4 9 41 4 7 3-4 7-23 4-5 4 6 7 26 3 8 2 1 2-2 9-24 2-2 2 0 3 6 9 32 4 4 2-2 3-11 9-47 2-4 2-1 3 9 11 63 4 13 5 9 6 2 5-3 5-9 8-19 3-5 2 0 4 7 12 36 4 4 5 1 4-4 3-8 9-38 4-10 2-1 3 8 13 54 5 10 9 4" stroke="#0000ff" stroke-opacity="0.3"/>
<path d="M2225 4939l14 1 7-2 6-4 9-12 3-2 6 2 12 16 6 2 7 0 7-3 13-12 3 0 11 7 4 0 12-13 13-2 7-6 4-1 3 3 11 15 6 3 3-4 2-6 7-55 2-5 2 4 7 53 2 6 3 4 6-4 11-16 3-2 4 1 11 12 3 0 9-7 4-1 14 12 4 0 9-6 3 0 13 11 4 2 5-4 9-12 4-1 3 3 13 20 9 4 11-1 14-10 5 2 13 8 9 0 5-3 11-14 6-3 3 1 13 14 5 2 7 0" stroke="#000" stroke-opacity="0.5"/>
<path d="M2225 4936l16 0 14-10 4-1 4 2 12 12 7 3 13 0 14-7 17 6 14-9 11 0 11-5 5 2 11 9 5 1 4-5 2-6 5-30 2-6 2 0 7 33 2 5 3 4 6-3 10-11 6-3 14 8 15-7 3 1 13 7 14-4 16 10 6-2 9-7 3-1 4 2 14 16 11 3 9 0 15-5 16 7 9 0 7-3 11-10 5-2 16 9 18-1" stroke="#000" stroke-opacity="0.7"/>
<path d="M2225 4925l11-6 5-10 5-22 8-40 3-12 2-1 4 7 9 44 3 11 6 7 5 0 5-5 4-8 11-42 3-8 2 0 2 2 9 25 2 1 2 0 3-9 9-38 4-5 5 3 4-1 9-22 2 0 1 3 2 6 13 69 3 8 2-2 4-29 2-36 7-189 2 10 7 202 2 26 1 12 2 4 2 0 4-10 10-58 4-10 2 1 2 4 9 41 3 7 4-4 7-24 4-6 3 5 7 26 4 8 2 1 2-2 9-26 3-4 4 6 9 31 3 4 4-7 11-57 3-7 4 9 13 71 3 10 4 5 5 2 6-3 5-11 7-20 4-5 2 0 3 6 13 38 3 4 6 2 3-4 4-9 11-45 3-5 4 7 9 45 5 18 6 8 12 5" stroke="#0000ff" stroke-opacity="0.2"/>
</g></g>
<path d="M742.6,1657.4 L886.1,1657.4" stroke="#b3b3b3" stroke-width="1.2"/>
<clipPath id="t34"><rect x="741.6" y="1657.4" width="145.5" height="16"/></clipPath><g clip-path="url(#t34)">
<text class="k" x="749.4" y="1667.2">2.16</text>
<text class="k" x="776.6" y="1667.2">2.15</text>
<text class="k" x="805" y="1667.2">2.14</text>
<text class="k" x="833.7" y="1667.2">2.13</text>
<text class="k" x="862.2" y="1667.2">2.12</text>
</g>
<path d="M749.4,1657.4 L749.4,1660.4 M776.6,1657.4 L776.6,1660.4 M805,1657.4 L805,1660.4 M833.7,1657.4 L833.7,1660.4 M862.2,1657.4 L862.2,1660.4 M749.4,1657.4 L749.4,1659.4 M763,1657.4 L763,1659.4 M776.6,1657.4 L776.6,1659.4 M790.2,1657.4 L790.2,1659.4 M803.8,1657.4 L803.8,1659.4 M817.4,1657.4 L817.4,1659.4 M831,1657.4 L831,1659.4 M844.6,1657.4 L844.6,1659.4 M858.2,1657.4 L858.2,1659.4 M871.8,1657.4 L871.8,1659.4 M885.4,1657.4 L885.4,1659.4" stroke="#999" stroke-width="0.8"/>
<path class="a" d="M931.4,1547.4V1650.9H1072.3"/>
<text class="y" x="929.2" y="1549.8">20</text>
<text class="y" x="929.2" y="1575.7">15</text>
<text class="y" x="929.2" y="1601.6">10</text>
<text class="y" x="929.2" y="1627.4">5</text>
<text class="y" x="929.2" y="1653.3">0</text>
<text class="u" x="906.4" y="1599.2" transform="rotate(-90 906.4 1599.2)" dy="2.8">A.U.</text>
<path class="w" d="M967.4,1574.6V1589.2M967.4,1601.1V1613.6M956,1574.6h22.6M956,1613.6h22.6"/>
<rect class="b" x="944.7" y="1589.2" width="45.3" height="11.9" fill="#888"/>
<path class="m" d="M944.7,1594.8H990"/>
<path class="w" d="M1037.2,1555.8V1567.8M1037.2,1586.5V1604.8M1025.8,1555.8h22.6M1025.8,1604.8h22.6"/>
<rect class="b" x="1014.5" y="1567.8" width="45.3" height="18.7" fill="#0000ff"/>
<path class="m" d="M1014.5,1573.4H1059.8"/>
<path class="t" d="M928.9,1547.4h2.5M928.9,1573.3h2.5M928.9,1599.2h2.5M928.9,1625h2.5M928.9,1650.9h2.5M967.4,1650.9v3M1037.2,1650.9v3"/>
<text class="x" x="966.9" y="1658.4" transform="rotate(-45 966.9 1658.4)" dy="4">HC</text>
<text class="x" x="1036.7" y="1658.4" transform="rotate(-45 1036.7 1658.4)" dy="4">CT</text>
<path class="st" d="M993.8,1559.5l0,-3.3M993.8,1559.5l3.1,-1M993.8,1559.5l1.9,2.7M993.8,1559.5l-1.9,2.7M993.8,1559.5l-3.1,-1M1002.4,1559.5l0,-3.3M1002.4,1559.5l3.1,-1M1002.4,1559.5l1.9,2.7M1002.4,1559.5l-1.9,2.7M1002.4,1559.5l-3.1,-1"/>
<path class="pl" d="M995.3,1575.1h7M998.8,1571.6v7"/>
<rect x="801.3" y="1528.4" width="222.7" height="18.5" fill="#fff"/><text x="912.7" y="1541.9" font-size="17.5" font-weight="bold" text-anchor="middle">Glutamine and methionine</text>
<path d="M745.6,1616.5 Q814.4,1554.5 883.6,1616.5" stroke="#222" stroke-width="1.1" fill="none"/><text x="826.9" y="1555.8" font-size="13" fill="#111">Methionine</text><text x="823.9" y="1574.6" font-size="13" fill="#111">Glutamine</text><path d="M820.6,1553.2 L809.2,1558.1" stroke="#000" stroke-width="1.3"/><path d="M806,1559.5 L809.1,1555.3 L811.2,1560.1 Z" fill="#000"/><path d="M857.1,1579.2 L849.9,1587.1" stroke="#000" stroke-width="1.3"/><path d="M847.6,1589.7 L848.7,1584.6 L852.5,1588.1 Z" fill="#000"/>
<clipPath id="c35"><rect x="1106.1" y="1540.8" width="143.4" height="111.7"/></clipPath>
<rect x="1106.1" y="1540.8" width="143.4" height="111.7" fill="none" stroke="#e6e6e6" stroke-width="1"/>
<g clip-path="url(#c35)" fill="none" stroke-linejoin="round"><g transform="scale(0.333333)" stroke-width="3">
<path d="M3315 4779l3-2 3 0 3 4 12 27 6 9 6 4 9-2 9-6 9-12 18-50 3-5 3-3 3 2 3 5 12 34 6 10 3 1 3-1 12-15 3-2 3 1 6 8 12 32 6 11 9 10 9 2 9-1 9-7 6-11 15-40 3-5 3-1 3 1 3 3 12 22 6 5 3 1 6-4 15-22 6-5 3 0 6 4 18 19 9 5 18 6 9-1 6-4 12-12 6-1 6 6 15 24 9 6 9 1 9-2 27-11" stroke="#000" stroke-opacity="0.2"/>
<path d="M3315 4737l3 2 3 6 18 58 6 10 9 6 9 1 6-4 3-3 6-13 15-44 3-3 3 0 6 10 9 25 6 10 3 0 3-2 15-29 3-2 3 1 6 9 15 32 9 9 9 3 12 0 6-4 6-7 15-33 3-3 3 0 6 10 12 36 9 17 3 2 6 0 15-12 6 1 6 6 15 23 6 4 6 3 15 0 9-3 9-10 12-21 6-5 6 2 15 20 9 7 30 2 18 4" stroke="#0000ff" stroke-opacity="0.2"/>
<path d="M3315 4711l3-3 3 1 3 6 18 66 6 11 3 3 6 3 9-1 6-5 3-5 6-16 15-57 3-5 3 0 6 12 9 33 6 14 3 2 3-2 15-34 3-2 3 0 6 12 15 43 6 9 6 4 6 2 9 0 6-3 3-3 9-19 12-37 3-5 3-2 3 3 3 6 15 50 3 6 6 7 6-2 15-18 3-2 3 1 6 6 12 22 9 12 12 5 12 1 6-1 6-6 15-26 6-6 3 1 3 3 15 30 9 10 12 4 33 1" stroke="#0000ff" stroke-opacity="0.2"/>
<path d="M3315 4850l6-9 3 0 3 3 21 53 6 7 9 5 9 0 6-4 3-3 6-11 12-30 3-4 3-1 3 2 3 4 12 30 6 7 3 0 3-2 12-19 3-2 3-1 6 7 12 24 6 9 6 5 9 3 12-1 9-5 6-8 15-30 3-2 3 0 6 8 12 27 6 9 3 1 6 0 15-12 6-2 6 3 15 19 6 5 12 5 15 2 9-2 18-18 6 0 6 5 12 19 9 10 12 6 30 8" stroke="#0000ff" stroke-opacity="0.5"/>
<path d="M3315 4785l3-2 3 3 3 5 12 34 6 13 6 6 9 3 9-2 9-10 6-13 12-36 3-5 3-3 3 1 3 4 12 30 6 7 3 0 3-3 12-23 3-4 3-1 3 1 3 4 12 24 6 8 6 5 6 1 15-4 9-8 6-11 15-39 3-4 3-1 6 7 12 24 6 7 3 1 6-2 15-20 6-5 6 0 15 14 6 3 12 1 15-4 9-6 18-25 6-3 6 4 15 21 9 6 9 3 36 4" stroke="#000" stroke-opacity="0.5"/>
<path d="M3315 4767l3-1 6 7 12 31 6 12 6 6 6 3 12-1 9-7 6-11 12-29 3-4 3-2 3 1 3 4 12 27 6 7 3 0 3-2 12-18 3-3 3-1 6 5 12 23 6 9 6 4 6 2 15 1 9-5 6-8 15-29 3-2 3 0 6 7 12 26 6 8 3 2 6 0 15-13 6-2 6 3 15 16 6 4 12 3 15 1 9-4 18-19 6-2 6 4 15 20 9 6 9 3 36 5" stroke="#0000ff" stroke-opacity="0.3"/>
<path d="M3315 4700l3-9 3-4 3 2 6 17 15 63 6 13 3 3 6 4 9 0 6-6 3-5 6-17 12-51 6-15 3 1 3 5 12 47 6 16 3 2 3-2 15-37 3-3 3 1 6 13 15 47 6 9 6 4 6 1 9-1 6-4 3-4 6-14 15-54 3-6 3-2 3 2 3 6 12 42 6 15 3 4 3 1 6-4 15-25 3-3 3 0 6 6 12 22 9 10 9 3 15 0 6-3 6-7 15-30 6-6 3 1 3 3 15 34 9 12 12 5 30 3" stroke="#000" stroke-opacity="0.2"/>
<path d="M3315 4733l3-1 6 10 12 37 6 14 6 7 6 3 9 0 9-6 6-11 15-43 3-5 3-1 3 2 3 5 15 40 3 2 3 0 6-7 9-16 3-2 3 0 6 7 12 30 6 11 6 7 6 3 15 2 9-5 6-10 12-29 6-7 3 0 3 4 15 37 6 9 3 2 6 0 15-16 6-3 6 3 15 19 6 5 12 4 15 1 9-4 18-22 6-2 6 5 15 25 9 8 12 4 33 6" stroke="#0000ff" stroke-opacity="0.2"/>
<path d="M3315 4731l3-3 3 1 3 5 18 57 6 11 9 5 9 1 6-4 3-4 6-12 15-46 3-5 3 0 6 11 9 28 6 12 3 2 3-1 15-28 3-2 3 1 6 9 15 37 6 8 6 4 15 2 9-5 9-15 12-31 3-4 3-1 3 2 3 5 15 42 3 6 6 6 6-1 15-15 6-1 6 6 12 20 9 10 9 5 15 3 6-1 6-4 15-20 6-4 6 4 15 27 9 10 12 5 33 4" stroke="#0000ff" stroke-opacity="0.1"/>
<path d="M3315 4743l3-1 3 4 3 9 12 54 6 20 6 12 9 6 9-1 6-7 3-6 6-19 12-52 3-8 3-4 3 2 3 6 12 43 3 7 3 3 3-1 3-4 12-35 3-6 3-2 3 2 3 5 12 35 6 14 6 6 6 3 9 0 6-2 6-4 3-5 6-13 12-41 6-11 3 0 6 13 15 54 3 6 6 6 6-3 12-17 6-4 6 5 15 27 6 7 9 5 15-2 6-3 6-7 18-40 6-6 3 1 3 3 12 22 9 10 9 3 24-2 15 0" stroke="#000" stroke-opacity="0.2"/>
<path d="M3315 4790l3-1 6 9 12 35 6 14 6 7 6 4 6 1 6 0 6-4 3-3 6-12 12-32 3-4 3-2 3 2 3 5 12 33 6 9 3 1 3-2 12-18 3-3 3 0 6 7 12 28 6 11 6 6 6 4 15 2 9-4 6-8 15-31 3-3 3 1 6 9 12 30 6 10 3 2 6 0 15-13 6-2 6 3 15 20 6 5 12 5 15 1 9-3 18-21 6-2 6 5 15 22 9 8 12 4 33 5" stroke="#0000ff" stroke-opacity="0.2"/>
<path d="M3315 4740l3-1 6 9 12 35 6 13 6 7 6 3 9 0 9-5 9-17 12-33 3-5 3-2 3 2 3 5 15 35 3 2 3 0 6-7 9-16 3-2 3 0 6 6 12 27 6 10 6 6 6 3 15 3 9-4 6-8 12-24 6-6 3 1 3 3 15 37 6 9 3 3 6 0 15-12 6-2 6 3 15 19 6 5 9 3 15 2 6-1 6-3 18-21 6-2 6 5 15 23 9 8 12 4 33 7" stroke="#0000ff" stroke-opacity="0.5"/>
<path d="M3315 4828l3-2 3 2 3 5 18 47 6 8 9 5 9 0 6-3 3-3 6-10 12-29 3-5 3-2 3 1 3 4 12 30 6 8 3 1 3-1 12-18 6-4 6 5 18 34 6 6 6 3 15 0 9-5 6-8 15-31 3-3 3-1 6 6 15 31 6 6 6 0 18-16 6-1 6 4 12 13 6 5 12 3 15 1 6-2 6-4 15-18 6-2 6 3 15 21 9 8 9 3 36 8" stroke="#000" stroke-opacity="0.5"/>
<path d="M3315 4789l3-1 3 3 3 7 12 40 6 13 6 8 6 2 9 0 6-4 3-4 6-12 15-49 3-6 3-1 3 3 3 6 9 28 6 14 3 2 3-1 3-4 12-26 3-3 3-1 6 8 15 37 6 8 9 4 15 1 9-7 6-11 12-32 3-5 3-2 3 2 3 5 15 45 6 12 3 2 6 1 15-16 6-2 6 5 15 22 9 6 6 1 9-1 12-6 9-11 15-30 6-4 6 3 12 17 9 6 9 1 39-6" stroke="#000" stroke-opacity="0.4"/>
<path d="M3315 4738l3-1 6 9 12 35 6 13 6 7 6 2 6-1 6-2 9-11 6-14 12-38 6-9 3 1 3 4 12 29 6 8 3 0 3-3 12-21 3-3 3 0 3 2 21 43 9 9 9 4 9 0 9-4 6-9 15-33 3-3 3 0 6 8 12 28 6 8 3 2 3 0 6-4 15-17 6-1 6 5 12 15 6 5 15 5 15 1 9-5 15-17 6-2 6 5 15 23 9 7 15 1 30-5" stroke="#0000ff" stroke-opacity="0.6"/>
<path d="M3315 4760l3-3 3 1 3 6 18 66 6 10 6 4 6 0 6-2 6-6 3-5 6-17 12-50 6-14 3 0 6 14 9 33 6 12 3 1 3-2 15-36 3-2 3 1 6 12 15 42 6 8 6 3 9 1 6-1 9-7 6-13 15-48 3-5 3-2 3 3 3 6 15 48 3 6 6 5 6-3 15-22 3-2 3 0 6 6 12 22 6 7 6 4 6 2 15 1 6-2 6-6 15-27 6-5 3 1 3 4 15 31 9 11 12 4 33 2" stroke="#000" stroke-opacity="0.6"/>
<path d="M3315 4767l3-4 3 2 3 6 18 75 6 13 9 7 9 1 6-5 3-5 6-16 15-59 3-5 3 0 6 15 9 37 6 15 3 2 3-2 15-36 3-3 3 1 6 12 15 46 6 9 6 4 6 1 9-2 9-8 6-13 15-52 3-7 3-2 3 2 3 6 12 42 6 15 3 4 3 1 6-3 15-23 3-2 3 0 6 6 12 23 9 11 9 4 15 3 6-2 6-6 15-27 6-4 3 1 3 4 15 35 9 14 12 7 33 8" stroke="#000" stroke-opacity="0.2"/>
<path d="M3315 4786l3-3 3 0 3 3 18 46 6 9 9 5 9 0 9-5 6-9 15-37 3-4 3 0 6 8 9 25 6 11 3 2 3 0 3-2 12-19 3-2 3 1 6 7 15 32 6 7 9 4 15 0 9-7 6-10 12-27 6-7 3 1 3 3 15 32 3 4 6 4 6-2 15-16 6-2 6 3 12 13 9 7 12 3 15 0 9-4 18-21 6-1 6 5 15 22 6 5 12 5 33 5" stroke="#0000ff" stroke-opacity="0.6"/>
<path d="M3315 4740l3-1 3 3 18 56 6 9 6 3 6-1 6-3 9-12 6-16 15-58 3-6 3-2 3 3 3 6 9 31 6 13 3 2 3-2 15-33 3-3 3 0 6 10 15 41 6 9 9 5 9 2 6-2 6-4 3-4 6-13 12-36 3-5 3-3 3 2 3 5 15 47 3 7 6 6 6-1 15-19 6-2 6 5 12 21 9 11 9 4 15 1 6-1 6-5 18-30 3-2 3 0 6 7 12 23 9 10 6 2 9 0 33-6" stroke="#000" stroke-opacity="0.5"/>
<path d="M3315 4766l3 0 3 4 15 46 6 13 6 7 6 2 9-1 6-3 3-4 6-12 15-47 3-4 3-1 3 3 3 6 9 28 6 13 3 2 3-1 15-26 3-2 3 0 6 9 12 32 6 11 6 6 9 4 12 0 6-3 3-3 6-10 12-31 3-4 3-2 3 1 3 5 15 41 3 6 6 6 6-1 15-17 6-2 6 5 12 17 9 8 9 3 15 0 6-2 6-5 18-27 3-2 3 0 6 5 15 23 6 5 12 3 36 0" stroke="#000" stroke-opacity="0.2"/>
<path d="M3315 4697l3-2 3 2 3 6 15 46 6 12 6 5 9 3 9-3 6-7 6-13 12-38 6-9 3 1 3 4 12 32 6 9 3 0 3-3 12-24 6-7 3 1 3 4 12 25 6 10 6 5 6 2 15-3 9-7 6-10 15-39 3-4 3 0 6 7 15 37 3 4 6 3 6-4 12-14 6-5 6 2 15 18 6 4 9 2 15-3 6-3 6-5 18-30 6-5 6 2 15 19 9 5 9 0 36-4" stroke="#000" stroke-opacity="0.2"/>
<path d="M3315 4825l3-1 3 2 18 38 6 8 6 3 12 0 9-5 9-15 12-29 6-7 3 1 3 3 12 24 6 5 3 0 3-2 12-18 6-3 6 4 18 30 9 6 12 3 9 0 6-2 6-6 15-23 3-2 3 1 6 9 15 32 6 7 3 2 6 0 12-7 6 0 6 4 18 22 6 5 9 4 12 2 9-1 9-6 12-13 6-2 6 3 15 17 9 4 12 1 33-4" stroke="#0000ff" stroke-opacity="0.3"/>
<path d="M3315 4798l3-4 3-1 3 3 21 54 6 8 9 5 9 0 6-3 3-3 6-11 12-29 3-5 3-1 3 2 3 5 12 31 6 9 3 0 3-2 12-17 3-2 3-1 6 7 18 37 6 6 6 3 15 3 9-4 6-8 15-29 3-3 3 1 6 8 12 29 6 9 3 2 3 1 6-2 12-11 6-2 6 3 15 18 6 5 12 5 15 1 9-2 18-19 6-1 6 5 15 23 9 9 9 4 33 12" stroke="#00006e" stroke-opacity="0.6"/>
<path d="M3315 4765l3 2 3 6 12 37 6 13 6 8 6 4 6 1 6 0 6-3 3-4 6-12 12-32 3-5 3-1 3 3 3 6 12 36 6 9 3 1 3-2 12-19 3-3 3 0 6 8 12 29 6 10 9 7 6 1 9 0 6-3 6-6 6-10 15-38 3-4 3 0 6 8 12 27 6 8 3 2 6-2 15-17 6-3 6 3 15 20 6 5 9 5 15 5 6 1 6-1 18-16 6 0 6 7 15 29 9 11 18 10 30 8" stroke="#0000ff" stroke-opacity="0.2"/>
<path d="M3315 4779l3-2 3 4 3 7 12 48 6 19 6 10 9 7 9-1 6-5 3-5 6-16 12-45 3-7 3-4 3 1 3 5 12 39 6 9 3 0 3-3 12-30 3-6 3-2 3 1 3 4 12 31 6 12 6 6 6 3 15-1 9-8 6-11 15-43 3-3 3 0 6 11 15 48 3 5 6 6 6-2 12-15 6-3 6 4 15 25 6 7 9 4 15 0 6-2 6-6 18-33 6-6 3 1 3 3 12 20 9 10 9 2 24 1 15 1" stroke="#000" stroke-opacity="0.7"/>
<path d="M3315 4782l3 0 3 6 15 56 6 16 6 8 6 3 9 0 6-5 3-4 6-14 15-54 3-6 3-1 3 3 3 6 12 40 3 6 3 3 3-1 3-3 12-24 3-2 3 1 6 11 12 39 6 15 9 12 12 9 9 2 6-4 6-10 12-31 3-5 3-2 3 2 3 5 15 46 3 7 6 6 6-2 15-22 6-4 6 2 12 16 9 7 12 2 15-3 9-6 15-24 6-5 3 1 3 3 18 37 9 11 18 10 27 8" stroke="#00006e" stroke-opacity="0.6"/>
<path d="M3315 4737l3-2 3 3 3 6 18 58 6 9 9 5 9-1 6-5 3-4 6-15 12-40 6-10 3 0 3 5 12 34 6 10 3 1 3-3 12-25 3-4 3-1 3 1 3 4 18 43 6 8 9 4 12 2 9-5 6-9 15-38 3-3 3-1 6 9 15 41 6 7 6 0 18-21 6-2 6 5 12 16 6 5 12 3 15 0 9-5 18-25 6-3 6 6 15 28 9 10 15 7 30 6" stroke="#000" stroke-opacity="0.4"/>
<path d="M3315 4789l3-3 3 0 3 4 18 50 9 12 9 4 9-1 6-5 3-4 18-45 3-4 3-1 6 9 9 25 6 12 3 2 3 0 15-23 3-2 3 0 6 8 15 33 6 7 9 4 15 0 9-6 6-10 12-29 6-7 3 1 3 4 15 34 3 5 6 5 6-2 15-16 6-2 6 3 12 14 9 7 9 3 15 0 6-2 6-4 18-24 6-1 6 5 15 21 6 5 12 4 33 4" stroke="#0000ff" stroke-opacity="0.5"/>
<path d="M3315 4777l3-3 3 0 3 4 18 44 6 7 6 3 12-2 9-7 6-12 12-33 6-10 3 0 3 4 12 31 6 10 3 2 3-1 15-23 3-1 3 1 6 8 15 31 6 6 6 3 6 0 9-2 9-7 9-16 12-31 6-8 3 1 3 3 12 23 6 8 3 2 3 0 6-4 15-20 6-3 6 3 18 17 9 4 15 2 12-2 6-5 12-13 6-3 6 4 15 24 9 9 6 3 12 2 27-1" stroke="#000" stroke-opacity="0.6"/>
<path d="M3315 4770l3-4 3-2 3 2 18 42 6 8 9 4 12-2 9-9 6-13 12-32 3-5 3-2 3 1 3 4 12 27 6 7 3-1 3-2 12-20 3-4 3-1 6 5 12 23 6 9 6 4 6 2 15-2 9-6 6-10 15-33 3-3 3 0 6 7 12 24 6 7 3 2 6-2 15-15 6-4 6 2 15 15 6 3 12 3 15-1 9-5 18-21 6-3 6 4 15 19 9 5 12 2 30-1" stroke="#000" stroke-opacity="0.3"/>
</g></g>
<path d="M1106.1,1654 L1249.5,1654" stroke="#b3b3b3" stroke-width="1.2"/>
<clipPath id="t35"><rect x="1105.1" y="1654" width="145.4" height="16"/></clipPath><g clip-path="url(#t35)">
<text class="k" x="1125.1" y="1664.6">2.290</text>
<text class="k" x="1162.7" y="1664.6">2.280</text>
<text class="k" x="1200" y="1664.6">2.270</text>
<text class="k" x="1237.6" y="1664.6">2.260</text>
</g>
<path d="M1125.1,1654 L1125.1,1657 M1162.7,1654 L1162.7,1657 M1200,1654 L1200,1657 M1237.6,1654 L1237.6,1657 M1106.3,1654 L1106.3,1656 M1125.1,1654 L1125.1,1656 M1143.9,1654 L1143.9,1656 M1162.7,1654 L1162.7,1656 M1181.5,1654 L1181.5,1656 M1200.3,1654 L1200.3,1656 M1219.1,1654 L1219.1,1656 M1237.9,1654 L1237.9,1656" stroke="#999" stroke-width="0.8"/>
<path class="a" d="M1283.3,1548.5V1650.7H1427.2"/>
<text class="y" x="1281.1" y="1550.9">8</text>
<text class="y" x="1281.1" y="1576.5">6</text>
<text class="y" x="1281.1" y="1602">4</text>
<text class="y" x="1281.1" y="1627.6">2</text>
<text class="y" x="1281.1" y="1653.1">0</text>
<text class="u" x="1258.3" y="1599.6" transform="rotate(-90 1258.3 1599.6)" dy="2.8">A.U.</text>
<path class="w" d="M1319.7,1563.7V1582.7M1319.7,1589.1V1594.6M1308.1,1563.7h23.2M1308.1,1594.6h23.2"/>
<rect class="b" x="1296.5" y="1582.7" width="46.4" height="6.4" fill="#888"/>
<path class="m" d="M1296.5,1586H1342.9"/>
<path class="w" d="M1391,1584.5V1590.8M1391,1600V1606.3M1379.2,1584.5h23.5M1379.2,1606.3h23.5"/>
<rect class="b" x="1367.5" y="1590.8" width="47" height="9.2" fill="#0000ff"/>
<path class="m" d="M1367.5,1595.9H1414.5"/>
<path class="t" d="M1280.8,1548.5h2.5M1280.8,1574h2.5M1280.8,1599.6h2.5M1280.8,1625.2h2.5M1280.8,1650.7h2.5M1319.7,1650.7v3M1391,1650.7v3"/>
<text class="x" x="1319.2" y="1658.2" transform="rotate(-45 1319.2 1658.2)" dy="4">HC</text>
<text class="x" x="1390.5" y="1658.2" transform="rotate(-45 1390.5 1658.2)" dy="4">CT</text>
<path class="st" d="M1344.4,1559.9l0,-3.3M1344.4,1559.9l3.1,-1M1344.4,1559.9l1.9,2.7M1344.4,1559.9l-1.9,2.7M1344.4,1559.9l-3.1,-1M1353.1,1559.9l0,-3.3M1353.1,1559.9l3.1,-1M1353.1,1559.9l1.9,2.7M1353.1,1559.9l-1.9,2.7M1353.1,1559.9l-3.1,-1M1361.8,1559.9l0,-3.3M1361.8,1559.9l3.1,-1M1361.8,1559.9l1.9,2.7M1361.8,1559.9l-1.9,2.7M1361.8,1559.9l-3.1,-1"/>
<path class="pl" d="M1349.6,1575.1h7M1353.1,1571.6v7"/>
<rect x="1233.5" y="1529.9" width="53.6" height="18.5" fill="#fff"/><text x="1260.3" y="1543.4" font-size="17.5" font-weight="bold" text-anchor="middle">Valine</text>
<g fill="none" stroke="#888" stroke-width="1" clip-path="url(#c35)"><path d="M1106,1570 C1115,1580 1120,1590 1130,1565 C1135,1555 1140,1600 1150,1580 C1160,1570 1170,1600 1180,1570 C1190,1565 1200,1600 1215,1580 C1228,1570 1238,1555 1250,1545"/><path d="M1106,1555 C1115,1560 1120,1585 1132,1560 C1140,1548 1145,1590 1155,1575 C1165,1565 1172,1598 1180,1580 C1195,1575 1205,1590 1220,1575 C1232,1565 1240,1560 1250,1560"/></g>
<clipPath id="c36"><rect x="742.6" y="1707.8" width="143" height="108.2"/></clipPath>
<rect x="742.6" y="1707.8" width="143" height="108.2" fill="none" stroke="#e6e6e6" stroke-width="1"/>
<g clip-path="url(#c36)" fill="none" stroke-linejoin="round"><g transform="scale(0.333333)" stroke-width="3">
<path d="M2225 5350l24 7 15 3 12-1 12-4 12-10 9-11 27-47 9-14 9-8 9-1 6 2 6 5 30 39 6 4 6 2 6-1 9-5 21-21 9-6 9-2 6 2 6 5 9 12 36 64 12 14 15 10 12 4 12 2 54 1 27 3" stroke="#000" stroke-opacity="0.3"/>
<path d="M2225 5350l24 4 18 0 12-3 12-8 9-9 9-13 27-52 9-15 9-9 6-2 6 2 6 5 9 12 21 35 9 10 6 4 6 0 9-4 21-23 9-8 9-3 9 4 6 6 9 14 24 48 12 21 12 14 15 11 12 5 18 3 72 5" stroke="#000" stroke-opacity="0.2"/>
<path d="M2225 5349l21 0 15-2 12-4 12-8 12-14 9-14 33-67 9-11 6-3 3 0 6 3 6 6 30 54 9 11 6 3 6 0 9-5 21-27 9-10 9-3 9 4 6 6 9 16 24 53 12 23 15 20 15 11 18 8 21 4 27 2 36-1" stroke="#0000ff" stroke-opacity="0.1"/>
<path d="M2225 5343l24 4 15-1 12-3 12-8 9-11 9-15 27-60 9-17 9-10 6-2 6 2 9 10 27 51 6 9 6 5 6 3 9-3 9-10 15-21 9-10 9-4 6 1 6 5 9 14 36 77 9 14 12 13 12 7 12 3 57 6 33 6" stroke="#0000ff" stroke-opacity="0.2"/>
<path d="M2225 5328l27 3 15 0 12-3 12-8 9-11 9-15 33-75 9-13 6-4 6 0 9 8 9 15 21 43 9 12 6 2 6-1 6-4 9-14 21-38 9-9 6-1 6 3 9 12 9 20 30 78 12 22 12 14 15 11 18 6 30 6 45 5" stroke="#000" stroke-opacity="0.2"/>
<path d="M2225 5329l24 4 15 0 12-4 12-9 9-12 9-17 27-69 9-19 9-12 6-3 6 2 9 12 27 57 6 9 6 6 6 2 9-5 9-12 15-26 9-13 9-6 6 2 6 5 9 16 27 69 12 27 9 15 12 13 12 7 18 6 81 6" stroke="#0000ff" stroke-opacity="0.1"/>
<path d="M2225 5341l24 4 15 0 12-2 12-6 9-9 9-12 36-68 9-9 6-3 3 1 6 3 6 7 27 48 9 12 6 4 6 1 9-4 30-36 9-5 6 0 9 7 9 13 24 49 12 22 9 12 12 11 12 7 18 5 81 10" stroke="#0000ff" stroke-opacity="0.3"/>
<path d="M2225 5344l24 1 15 0 12-3 12-7 9-9 9-13 27-51 9-14 9-9 6-1 6 2 6 5 9 13 21 36 9 10 6 3 6 0 9-6 30-37 9-5 6 1 6 4 9 12 36 70 9 13 12 13 12 7 15 5 87 17" stroke="#000" stroke-opacity="0.2"/>
<path d="M2225 5328l27 0 15-2 12-4 12-10 12-16 9-18 33-84 9-13 6-4 3 1 6 4 6 8 30 70 6 10 6 5 6 2 9-6 6-8 18-34 9-14 9-6 6 2 6 5 9 16 36 92 9 16 12 16 15 11 18 7 36 8 39 6" stroke="#0000ff" stroke-opacity="0.2"/>
<path d="M2225 5332l27 4 15 0 12-2 12-7 9-10 9-13 36-73 9-10 6-2 6 2 6 6 9 14 21 40 9 11 6 4 6-1 9-6 30-43 9-5 6 1 6 4 9 14 27 60 12 24 9 13 9 9 12 8 15 5 84 13" stroke="#000" stroke-opacity="0.2"/>
<path d="M2225 5344l24 2 15 0 12-3 12-6 9-8 9-12 36-62 9-9 6-1 6 2 9 9 27 45 12 12 6 2 9-2 9-8 24-29 9-5 6 1 6 3 9 11 39 71 9 12 12 10 12 7 18 5 81 12" stroke="#000" stroke-opacity="0.3"/>
<path d="M2225 5329l24 3 15-1 12-3 12-8 9-11 9-15 36-85 9-12 6-4 3 0 6 4 6 8 27 56 6 9 6 7 6 3 9-4 9-11 24-38 9-7 6 1 9 8 9 17 24 61 12 27 9 16 12 13 12 8 15 5 84 11" stroke="#0000ff" stroke-opacity="0.1"/>
<path d="M2225 5329l27 7 15 2 12-2 12-7 12-14 9-17 33-77 9-13 6-4 3 0 6 3 9 12 21 43 9 15 6 6 6 3 6-1 9-8 21-32 9-10 9-3 6 3 6 6 9 17 24 60 12 26 12 18 12 11 9 4 12 3 51 3 33 5" stroke="#000" stroke-opacity="0.3"/>
<path d="M2225 5348l42 7 12 1 12-3 12-6 9-8 33-36 9-6 9 0 6 3 6 4 27 33 12 10 6 2 9-2 9-5 24-19 9-4 6 1 9 5 9 9 36 49 9 8 12 8 15 6 18 4 75 6" stroke="#000" stroke-opacity="0.5"/>
<path d="M2225 5331l24 2 15-1 12-4 12-9 9-12 9-16 33-79 9-13 6-4 3-1 6 3 6 6 9 16 21 44 9 12 6 4 6-1 9-7 21-34 9-12 9-5 3 0 6 4 6 8 9 19 24 63 12 27 12 19 15 14 12 6 15 4 78 10" stroke="#000" stroke-opacity="0.5"/>
<path d="M2225 5336l24 2 15 0 12-4 12-8 9-11 9-15 27-61 9-18 9-10 6-2 6 3 9 11 27 54 6 9 6 5 6 2 9-4 9-10 15-24 9-11 9-5 6 1 6 5 9 14 27 64 12 24 9 14 12 13 12 7 18 7 81 14" stroke="#0000ff" stroke-opacity="0.4"/>
<path d="M2225 5339l24 3 15-1 12-4 12-8 9-12 9-15 33-74 9-13 6-3 3-1 6 3 9 11 21 41 9 14 6 7 6 2 6-1 9-8 21-33 9-12 9-4 6 1 6 6 9 14 36 85 9 15 12 15 15 10 18 7 30 6 51 9" stroke="#000" stroke-opacity="0.6"/>
<path d="M2225 5345l27 1 15-2 12-3 9-6 9-8 9-12 36-67 9-9 6-1 6 2 9 10 27 48 9 12 6 3 6 1 9-6 24-34 9-10 9-4 6 1 6 5 9 13 27 55 12 22 9 12 12 11 18 11 24 8 33 6 33 3" stroke="#0000ff" stroke-opacity="0.5"/>
<path d="M2225 5340l24 4 15 1 12-3 12-6 12-14 9-15 33-71 9-12 6-3 3 0 6 3 6 6 30 57 6 8 6 5 6 1 9-3 9-10 21-29 9-6 6 0 6 4 9 12 36 77 12 19 12 12 12 7 15 4 84 10" stroke="#0000ff" stroke-opacity="0.2"/>
<path d="M2225 5347l24 2 15 0 12-3 12-6 9-9 9-12 27-48 9-14 9-8 6-1 6 2 9 9 27 45 12 12 6 2 9-2 9-8 24-26 9-4 6 1 6 4 9 12 27 50 12 20 9 11 12 11 12 6 18 5 81 12" stroke="#0000ff" stroke-opacity="0.5"/>
<path d="M2225 5354l21 0 15-1 12-3 12-6 12-12 9-12 33-54 9-9 9-2 6 3 6 6 30 47 12 12 6 2 9-2 9-7 24-25 9-3 6 1 6 4 9 10 36 59 9 10 12 10 21 8 93 20" stroke="#000" stroke-opacity="0.3"/>
<path d="M2225 5352l24 3 15 0 12-3 12-8 9-9 9-13 27-52 9-15 9-9 6-2 6 2 6 5 9 12 21 35 9 10 6 3 6 0 9-5 30-35 9-3 9 3 6 7 9 14 24 50 12 21 12 15 15 12 12 5 18 4 75 6" stroke="#0000ff" stroke-opacity="0.4"/>
<path d="M2225 5344l24 4 15 0 12-3 12-7 9-9 9-14 27-53 9-15 9-9 6-1 6 2 6 5 30 51 9 10 6 3 6 0 9-6 30-37 9-4 6 1 6 5 9 12 27 55 12 21 9 12 12 12 12 7 18 6 81 15" stroke="#0000ff" stroke-opacity="0.5"/>
<path d="M2225 5337l24 3 15 0 12-3 12-7 12-13 9-15 33-69 9-11 6-4 3 0 6 3 6 6 30 55 6 8 6 4 6 1 9-5 9-11 21-31 9-7 6 0 6 4 9 12 36 80 12 20 12 13 12 8 18 6 81 9" stroke="#000" stroke-opacity="0.2"/>
<path d="M2225 5342l24 3 15 0 12-2 12-7 12-12 9-14 33-66 9-11 6-2 3 0 6 3 6 7 27 48 9 12 6 5 6 1 9-5 30-39 9-5 6 0 6 3 9 12 36 74 12 18 12 12 12 7 18 6 81 12" stroke="#0000ff" stroke-opacity="0.2"/>
</g></g>
<path d="M742.6,1817.5 L885.6,1817.5" stroke="#b3b3b3" stroke-width="1.2"/>
<clipPath id="t36"><rect x="741.6" y="1817.5" width="145" height="16"/></clipPath><g clip-path="url(#t36)">
<text class="k" x="755.7" y="1828">3.827</text>
<text class="k" x="787.9" y="1828">3.824</text>
<text class="k" x="819.4" y="1828">3.821</text>
<text class="k" x="850.8" y="1828">3.818</text>
<text class="k" x="882.3" y="1828">3.815</text>
</g>
<path d="M755.7,1817.5 L755.7,1820.5 M787.9,1817.5 L787.9,1820.5 M819.4,1817.5 L819.4,1820.5 M850.8,1817.5 L850.8,1820.5 M882.3,1817.5 L882.3,1820.5 M755.7,1817.5 L755.7,1819.5 M771.8,1817.5 L771.8,1819.5 M787.9,1817.5 L787.9,1819.5 M804,1817.5 L804,1819.5 M820.1,1817.5 L820.1,1819.5 M836.2,1817.5 L836.2,1819.5 M852.3,1817.5 L852.3,1819.5 M868.4,1817.5 L868.4,1819.5 M884.5,1817.5 L884.5,1819.5" stroke="#999" stroke-width="0.8"/>
<path class="a" d="M932.1,1710.3V1812.2H1073.1"/>
<text class="y" x="929.9" y="1712.7">20</text>
<text class="y" x="929.9" y="1738.2">15</text>
<text class="y" x="929.9" y="1763.7">10</text>
<text class="y" x="929.9" y="1789.1">5</text>
<text class="y" x="929.9" y="1814.6">0</text>
<text class="u" x="907.1" y="1761.2" transform="rotate(-90 907.1 1761.2)" dy="2.8">A.U.</text>
<path class="w" d="M968.5,1759.4V1763.1M968.5,1770.7V1776.5M957.1,1759.4h22.8M957.1,1776.5h22.8"/>
<rect class="b" x="945.7" y="1763.1" width="45.6" height="7.6" fill="#888"/>
<path class="m" d="M945.7,1766.9H991.3"/>
<path class="w" d="M1038.6,1738.7V1758.1M1038.6,1764.4V1771.9M1027.1,1738.7h22.9M1027.1,1771.9h22.9"/>
<rect class="b" x="1015.7" y="1758.1" width="45.8" height="6.3" fill="#000080"/>
<path class="m" d="M1015.7,1761.1H1061.5"/>
<path class="t" d="M929.6,1710.3h2.5M929.6,1735.8h2.5M929.6,1761.2h2.5M929.6,1786.7h2.5M929.6,1812.2h2.5M968.5,1812.2v3M1038.6,1812.2v3"/>
<text class="x" x="968" y="1819.7" transform="rotate(-45 968 1819.7)" dy="4">HC</text>
<text class="x" x="1038.1" y="1819.7" transform="rotate(-45 1038.1 1819.7)" dy="4">CT</text>
<path class="st" d="M993.8,1711.5l0,-3.3M993.8,1711.5l3.1,-1M993.8,1711.5l1.9,2.7M993.8,1711.5l-1.9,2.7M993.8,1711.5l-3.1,-1M1002.4,1711.5l0,-3.3M1002.4,1711.5l3.1,-1M1002.4,1711.5l1.9,2.7M1002.4,1711.5l-1.9,2.7M1002.4,1711.5l-3.1,-1"/>
<path class="pl" d="M994.6,1728.4h7M998.1,1724.9v7"/>
<rect x="881.7" y="1682.9" width="56.5" height="18.5" fill="#fff"/><text x="910" y="1696.4" font-size="17.5" font-weight="bold" text-anchor="middle">Serine</text>
<clipPath id="c37"><rect x="1106.1" y="1701.7" width="142.7" height="107.9"/></clipPath>
<rect x="1106.1" y="1701.7" width="142.7" height="107.9" fill="none" stroke="#e6e6e6" stroke-width="1"/>
<g clip-path="url(#c37)" fill="none" stroke-linejoin="round"><g transform="scale(0.333333)" stroke-width="3">
<path d="M3315 5408l32-1 9-2 7-12 9-32 4-9 2 1 3 4 11 37 4 4 3-1 4-11 7-33 4-14 3 0 2 5 11 48 2 5 5 3 9 0 38-10 32-1 6-7 12-33 4-9 2 0 3 3 13 39 5 6 4-1 5-9 4-16 16-109 4-20 3-3 2 1 2 5 11 47 7 22 23 61 9 16 6 5 5-2 2-3 5-13 6-26 5-10 2 0 2 4 12 40 6 10 9 2 36-2" stroke="#000" stroke-opacity="0.5"/>
<path d="M3315 5409l34-2 5-1 4-3 7-14 9-31 2-4 2-1 5 8 9 30 4 7 3-1 4-8 9-41 2-7 3-2 4 11 9 40 2 5 5 5 9 0 38-9 27 1 7-2 7-9 11-33 4-5 5 5 11 34 5 7 4 0 5-7 4-14 5-23 13-95 5-15 2-1 4 10 16 61 23 59 6 14 5 6 7 2 4-3 5-11 9-33 2-5 2-1 5 8 9 33 6 12 9 2 36-2" stroke="#000" stroke-opacity="0.4"/>
<path d="M3315 5409l34-1 9-4 7-11 9-32 4-8 3 1 2 4 11 36 5 4 4-6 2-7 7-32 5-13 2 1 2 5 11 47 3 4 4 3 9 0 38-9 27 1 5 0 7-8 11-32 4-8 3 0 2 3 13 39 3 3 4 2 5-5 2-5 4-17 16-106 5-18 2-3 2 1 2 5 12 46 6 21 23 59 9 15 7 4 4-2 2-3 12-38 4-10 2 1 3 5 9 32 6 14 5 3 4 0 36-1" stroke="#000" stroke-opacity="0.5"/>
<path d="M3315 5403l34-2 5-1 4-4 7-19 9-50 4-12 3 2 2 7 11 57 2 5 3 1 2-3 2-7 9-63 5-20 2 2 2 10 11 74 3 6 4 5 9 0 27-11 11-3 12 0 15 3 5-2 4-6 3-6 11-51 4-12 3 0 2 5 13 62 3 5 2 2 2 0 5-8 2-8 4-27 16-170 5-28 2-4 2 2 2 8 12 74 6 34 23 94 9 24 4 6 3 0 4-4 2-5 12-61 4-14 2 1 3 8 9 52 6 22 5 4 4 1 36-1" stroke="#0000ff" stroke-opacity="0.4"/>
<path d="M3315 5404l34-1 9-3 7-15 9-41 4-12 3 0 2 5 11 48 5 6 2-1 4-14 9-55 3-7 2 0 2 7 11 61 3 6 4 5 9 0 38-13 12-1 15 2 7-3 7-13 11-44 2-4 3 0 4 10 11 44 5 8 2 0 2-2 5-10 4-20 16-140 5-26 2-5 2 1 5 15 9 52 6 29 23 79 9 21 7 6 4-2 2-4 5-16 9-43 2-4 2 0 5 14 9 42 7 14 4 2 5 0 33-2" stroke="#000" stroke-opacity="0.3"/>
<path d="M3315 5410l34-1 9-3 7-10 9-32 4-11 3 0 2 4 11 36 5 6 2-1 4-10 9-43 3-6 2-1 2 4 11 49 3 5 4 4 9-1 38-10 12 0 15 2 7-2 7-10 11-34 2-3 3-1 4 7 11 35 5 7 4-1 5-7 4-15 16-109 5-22 2-4 2 0 5 11 9 40 6 23 23 60 9 17 7 4 4-2 2-3 5-11 9-35 2-4 2-1 5 10 9 33 7 11 6 2 36-2" stroke="#000" stroke-opacity="0.5"/>
<path d="M3315 5403l32-2 4-1 5-3 7-17 9-48 4-14 2 1 3 7 11 55 2 5 2 2 3-2 4-17 7-48 4-22 3 0 2 9 11 72 2 7 5 6 9-1 38-12 11-1 16 3 5-1 4-6 2-5 14-57 2-5 2 0 5 12 11 51 5 8 2 1 2-2 5-12 4-25 16-164 4-29 3-5 2 1 2 7 11 71 7 33 23 91 9 24 6 7 5-3 2-5 5-18 6-40 5-16 2 1 2 6 12 60 2 8 4 8 5 2 4 0 36-2" stroke="#00006e" stroke-opacity="0.8"/>
<path d="M3315 5402l34-2 5-1 4-5 7-19 9-47 2-7 2-3 5 12 9 46 4 11 3 0 4-12 9-61 2-11 3-4 2 4 2 11 9 60 5 14 4 4 9-1 36-12 11 0 18 3 5-2 7-12 11-50 4-9 3 2 2 6 13 58 3 4 2 2 2-1 5-8 2-9 4-27 16-162 5-24 2-2 4 13 16 93 23 89 6 21 5 9 4 5 3 0 4-5 5-15 9-50 2-8 2-3 2 3 3 9 9 49 6 19 5 4 4 1 36-2" stroke="#0000ff" stroke-opacity="0.3"/>
<path d="M3315 5398l32-2 4-1 5-3 7-18 9-50 4-14 2 0 3 7 11 58 4 8 3-2 4-17 9-65 2-9 3 0 2 9 11 76 2 8 5 6 9 0 38-13 11 0 16 2 5-1 4-5 2-5 14-61 2-5 2-1 5 13 11 54 5 9 2 0 2-2 5-12 4-26 16-172 4-32 3-6 2 2 2 7 11 74 7 36 23 96 9 25 6 8 5-3 2-5 5-19 6-42 5-17 2 0 2 7 12 63 2 8 4 9 5 2 4 1 36-2" stroke="#00006e" stroke-opacity="0.8"/>
<path d="M3315 5408l34-2 9-4 7-14 9-37 4-9 3 1 2 5 11 40 2 4 3 1 4-8 9-46 5-15 2 1 2 7 11 54 3 4 4 4 7 0 38-8 11 0 18 3 5-1 7-8 11-37 4-9 3 0 2 4 13 44 3 4 4 1 5-5 2-7 4-19 16-126 5-21 2-3 2 2 2 5 12 53 6 24 23 67 9 18 7 4 4-2 2-4 12-44 4-10 2 1 3 6 9 38 6 17 5 3 4 2 36 0" stroke="#000" stroke-opacity="0.4"/>
<path d="M3315 5408l36-1 5-2 4-4 7-18 9-44 2-6 3-2 4 11 9 41 5 10 2 0 4-11 9-57 3-10 2-4 2 4 2 11 9 54 3 8 4 7 5 1 4-1 38-14 12 0 18 2 4-2 7-12 11-46 5-8 2 2 2 6 9 39 5 14 2 4 2 1 2 0 5-9 4-18 5-32 13-131 5-21 2-2 5 13 15 86 23 83 7 20 4 8 5 5 2 0 4-5 5-13 9-46 2-7 2-2 3 3 2 8 9 45 7 17 4 4 5 0 33-2" stroke="#0000ff" stroke-opacity="0.5"/>
<path d="M3315 5399l34-3 5-1 4-5 7-22 9-49 2-7 2-2 5 14 9 48 4 11 3 0 4-14 9-64 2-11 3-4 4 19 9 63 2 9 5 8 4 1 5 0 38-13 11-1 16 3 7-2 7-15 11-53 2-6 2-2 3 2 2 7 11 54 5 11 2 1 2-1 5-10 4-23 5-38 13-151 5-23 2-2 4 16 16 98 23 95 6 22 5 10 4 4 3 0 4-5 5-17 9-53 2-7 2-3 5 14 9 53 6 19 5 4 4 0 36-1" stroke="#0000ff" stroke-opacity="0.7"/>
<path d="M3315 5396l32-1 4-2 5-5 7-22 9-53 2-7 2-2 5 14 9 51 4 11 2 0 5-14 9-68 2-12 2-3 3 5 2 13 9 66 2 10 5 8 4 2 5-1 38-14 11 0 16 3 7-3 6-14 12-55 2-7 2-3 2 2 3 7 11 57 4 12 3 2 2-1 4-11 5-23 4-39 14-159 4-25 3-2 4 16 16 103 22 100 7 23 5 10 4 5 2 0 5-6 4-16 9-56 3-8 2-3 4 14 9 55 7 21 5 3 4 1 38-2" stroke="#00006e" stroke-opacity="0.8"/>
<path d="M3315 5399l32-3 4-1 5-4 7-18 9-50 4-15 2 1 3 6 11 59 2 6 2 2 3-2 4-17 7-52 4-23 3 0 2 9 11 77 2 7 5 7 9 0 38-14 11 0 16 3 5-1 4-5 2-6 14-61 2-5 2 0 5 13 11 55 5 8 2 1 2-2 5-12 4-26 16-173 4-31 3-6 2 2 2 7 11 75 7 36 23 97 9 26 6 8 5-3 2-5 5-19 6-42 5-17 2 0 2 6 12 64 2 8 4 8 5 3 4 0 36-5" stroke="#00006e" stroke-opacity="0.8"/>
<path d="M3315 5397l32-1 4-1 5-5 4-12 9-47 5-16 2 0 2 5 12 55 4 8 2-1 5-15 9-63 2-9 2-2 5 20 9 59 2 7 5 7 6 0 39-11 11 0 18 5 7-2 6-14 12-49 2-6 2-1 5 11 11 53 4 9 3 1 2-2 4-10 5-24 18-181 4-20 3 0 4 16 9 58 7 34 22 89 7 21 5 8 4 3 2 0 5-6 4-17 9-50 3-7 2 0 4 15 9 50 7 18 5 3 4 1 38-1" stroke="#000" stroke-opacity="0.2"/>
<path d="M3315 5401l34-1 5-1 4-4 7-17 9-49 4-13 3 1 2 6 11 56 2 6 3 2 2-2 4-17 7-50 5-22 2 0 2 9 11 74 3 6 4 6 9 0 27-10 11-3 12 0 15 2 5-1 4-6 3-5 13-59 2-5 3 0 4 12 11 53 3 5 2 3 2 0 5-7 2-8 4-25 16-168 5-30 2-6 2 2 2 7 12 72 6 34 23 92 9 25 7 7 4-3 2-4 5-19 7-40 4-15 2 1 3 6 11 62 7 17 4 2 5 1 33 0" stroke="#00006e" stroke-opacity="0.8"/>
<path d="M3315 5398l34-2 5-2 4-5 7-23 9-53 2-7 2-2 5 15 9 51 4 11 3-1 4-15 9-69 2-11 3-3 4 19 9 67 2 9 5 8 4 1 5-1 38-14 11-1 16 3 7-2 7-15 11-56 2-7 2-2 3 3 2 7 11 59 5 11 2 1 2-1 5-11 4-24 18-200 5-24 2-1 4 17 16 105 23 102 6 24 5 10 4 4 3 0 4-6 5-18 9-56 2-8 2-1 5 15 9 55 6 20 5 4 4 0 36-2" stroke="#00006e" stroke-opacity="0.8"/>
<path d="M3315 5398l34 1 5 0 4-3 7-14 11-54 2-6 3-1 4 14 9 44 5 10 2-1 4-14 9-61 3-9 2-2 4 18 9 57 3 8 4 6 5 1 4-1 38-14 12-1 15 2 7-2 7-14 11-49 2-5 3-2 4 10 11 50 5 10 2 1 2-1 5-10 4-22 18-175 5-20 2-1 5 16 15 91 23 88 7 20 4 8 5 4 2 0 4-6 5-15 9-49 2-7 2-1 5 14 9 49 7 17 4 3 5 0 33-1" stroke="#000" stroke-opacity="0.4"/>
<path d="M3315 5413l34 0 9-3 7-11 9-27 2-4 2-1 5 7 9 26 4 5 3 0 4-7 9-34 2-7 3-2 2 2 2 7 9 33 2 4 5 5 9-1 38-9 29 1 5-2 7-7 11-28 4-5 5 5 13 32 3 2 4 1 5-6 4-11 5-20 13-82 5-13 2-1 4 7 16 51 23 49 6 11 5 5 7 2 4-3 5-9 9-29 2-4 2-2 5 7 9 28 6 10 9 2 36 1" stroke="#000" stroke-opacity="0.4"/>
<path d="M3315 5403l34-3 5-1 4-4 7-19 9-42 2-5 2-1 5 12 9 40 4 9 3-1 4-12 9-54 2-9 3-2 4 16 9 53 2 7 5 7 9 0 38-11 11-1 16 2 7-2 7-12 11-45 2-5 2-1 5 8 11 46 5 8 2 1 2-1 5-9 4-19 18-159 5-18 2-1 4 14 16 83 23 80 6 18 5 8 4 3 3 0 4-5 5-14 9-44 2-7 2-1 5 12 9 44 6 15 5 3 4 0 36-3" stroke="#000" stroke-opacity="0.4"/>
<path d="M3315 5396l32-2 4-2 5-3 7-19 9-52 4-14 2 1 3 7 11 60 2 5 2 2 3-2 4-18 7-53 4-23 3 1 2 9 11 79 2 7 5 6 9 0 27-11 11-2 11 0 16 3 5-2 4-5 2-6 12-53 4-14 2 0 3 5 13 64 2 6 3 3 2 0 4-7 3-8 4-27 16-178 4-31 3-5 2 2 2 8 11 76 7 37 23 98 9 26 4 6 2 1 5-3 2-6 5-20 6-43 5-16 2 1 2 7 12 65 2 8 4 8 5 3 4 1 36-3" stroke="#00006e" stroke-opacity="0.8"/>
<path d="M3315 5411l34-4 9-4 7-13 9-35 4-10 3 1 2 4 11 38 5 5 2-2 4-13 7-34 5-15 2 1 2 6 11 52 3 4 4 5 9 0 36-5 27 2 7-1 7-8 11-36 4-9 3 0 2 3 13 40 3 3 4 2 5-6 2-6 4-18 16-118 5-20 2-4 2 2 2 5 12 50 6 23 23 65 9 18 7 5 4-2 2-3 5-13 7-28 4-10 2 1 3 5 11 43 7 11 4 2 7 0 31-3" stroke="#000" stroke-opacity="0.6"/>
<path d="M3315 5408l32 0 9-3 7-13 9-36 4-10 2 1 3 4 11 41 4 5 3-1 4-13 7-36 4-17 3 1 2 6 11 53 2 4 5 4 9-1 36-11 11-2 18 1 7-2 7-12 9-31 4-10 2 0 3 3 13 45 5 6 4-1 5-9 4-18 16-121 4-21 3-4 2 1 2 6 11 53 7 25 23 69 9 18 6 5 5-2 2-4 5-13 6-30 5-12 2 1 2 4 12 44 6 12 9 1 36-4" stroke="#000" stroke-opacity="0.7"/>
<path d="M3315 5403l32-1 4-1 5-3 7-15 9-44 4-13 2 0 3 6 11 52 4 8 3-1 4-15 9-58 2-8 3 0 2 7 11 69 2 6 5 6 4 1 7-1 36-12 11-1 16 2 5-2 6-9 14-55 2-5 2-1 5 10 11 48 5 7 2 1 2-2 5-11 4-23 16-154 4-29 3-5 2 0 4 17 9 55 7 32 23 85 9 24 6 6 5-2 2-4 5-16 9-47 2-5 2 0 5 15 9 47 6 16 5 2 4 1 36 0" stroke="#0000ff" stroke-opacity="0.4"/>
<path d="M3315 5403l34-3 5-2 4-4 7-19 9-48 2-8 2-2 3 3 2 7 9 46 4 12 3 0 4-11 9-60 2-12 3-5 2 4 2 10 9 61 5 15 4 5 9 0 36-10 11-1 16 3 7-2 7-12 11-50 4-10 3 1 2 5 13 58 3 4 2 2 2-1 5-8 2-9 4-27 16-162 5-25 2-3 2 3 2 9 16 93 25 100 9 23 4 5 3 0 4-4 2-6 12-58 2-8 2-3 2 2 3 8 9 50 6 19 5 4 4 1 36-4" stroke="#0000ff" stroke-opacity="0.7"/>
<path d="M3315 5399l32-1 4-2 5-5 7-21 9-51 2-7 2-1 5 13 9 48 4 11 2 0 5-14 9-65 2-11 2-4 5 18 9 64 2 8 5 9 4 1 5-1 38-12 11 0 16 3 7-2 6-14 12-53 2-7 2-2 2 2 3 7 11 54 4 11 3 2 2-2 4-10 5-23 4-37 14-153 4-24 3-1 4 15 16 98 22 95 7 23 5 9 4 4 2 1 5-6 4-16 9-53 3-8 2-2 4 13 9 53 7 20 5 3 4 1 38-2" stroke="#0000ff" stroke-opacity="0.4"/>
<path d="M3315 5407l34-3 9-3 7-14 11-54 2-6 3 0 4 12 9 43 5 9 2-1 4-13 9-58 3-9 2-2 4 17 9 56 3 7 4 6 9 1 38-13 12 0 15 2 7-2 7-14 11-47 2-5 3-2 4 9 11 48 5 9 2 1 2-1 5-10 4-21 18-168 5-20 2 0 5 14 15 88 23 85 7 20 4 8 5 4 2 0 4-6 5-15 9-47 2-6 2-1 5 13 9 47 7 16 4 4 5 0 33-1" stroke="#00006e" stroke-opacity="0.8"/>
<path d="M3315 5406l36-2 5-1 4-3 7-16 9-40 5-10 2 1 2 6 11 46 3 4 2 1 4-8 9-51 5-16 2 2 2 8 12 59 2 6 4 4 9-1 39-11 11-1 16 2 4-1 7-10 11-42 5-10 2 1 2 4 14 50 2 4 2 2 2 0 5-7 2-6 5-22 15-138 5-23 2-3 2 2 3 7 11 60 7 28 22 76 9 20 7 5 4-3 3-4 11-49 4-12 3 1 2 6 9 43 7 17 4 4 5 0 33-3" stroke="#000" stroke-opacity="0.3"/>
<path d="M3315 5407l32-3 4-1 5-3 7-16 9-43 4-12 2 1 3 5 11 48 2 4 2 1 3-2 4-15 7-44 4-18 3 0 2 8 11 63 2 6 5 4 9 0 36-10 11 0 18 3 5-1 4-4 2-5 12-43 4-11 2 0 3 4 13 52 2 5 3 2 2 1 4-7 3-6 4-23 16-145 4-25 3-5 2 2 2 6 11 62 7 29 23 80 9 21 6 6 5-3 2-5 5-16 6-35 5-13 2 1 2 6 12 53 6 13 9 3 36-1" stroke="#000" stroke-opacity="0.3"/>
<path d="M3315 5396l34-3 5-1 4-3 7-18 9-53 4-16 3 1 2 6 11 62 5 9 2-2 4-17 9-69 3-9 2-1 2 9 11 81 3 8 4 7 5 1 4-1 38-13 12-1 15 3 5-1 4-6 3-6 13-64 2-5 3-1 4 12 11 57 5 10 2 0 2-2 5-12 4-27 16-180 5-34 2-7 2 1 5 20 9 65 6 38 23 101 9 28 7 8 4-3 2-5 5-19 9-55 2-7 2 0 5 18 9 55 2 9 5 9 4 3 5 1 33-3" stroke="#0000ff" stroke-opacity="0.4"/>
<path d="M3315 5402l36-2 5-1 4-4 5-10 11-52 2-7 3-3 2 3 2 7 9 43 5 11 2 1 4-10 9-57 5-16 2 3 2 10 9 57 5 14 4 4 9-1 36-12 12-1 18 2 4-2 7-11 11-47 5-10 2 1 2 5 14 55 2 5 2 2 2-1 5-7 2-8 5-25 15-152 5-24 2-3 2 3 3 8 15 89 25 93 9 21 5 5 2 1 4-4 3-6 11-55 4-11 3 2 2 7 9 47 7 18 4 4 5 0 33-3" stroke="#000" stroke-opacity="0.7"/>
<path d="M3315 5411l34-2 9-4 7-13 9-28 2-4 2 0 5 7 9 27 4 6 3-1 4-7 9-37 2-6 3-2 4 11 9 35 2 5 5 4 9 1 38-7 27 2 7-1 7-8 11-30 4-5 5 6 11 30 5 6 4 0 5-6 4-13 18-107 5-13 2-1 4 9 16 53 23 53 6 11 5 5 7 3 4-4 5-9 9-30 2-4 2-2 5 8 9 29 6 11 9 2 36-2" stroke="#000" stroke-opacity="0.3"/>
</g></g>
<path d="M1106.1,1811.1 L1248.8,1811.1" stroke="#b3b3b3" stroke-width="1.2"/>
<clipPath id="t37"><rect x="1105.1" y="1811.1" width="144.7" height="16"/></clipPath><g clip-path="url(#t37)">
<text class="k" x="1131" y="1821.7">3.860</text>
<text class="k" x="1165.2" y="1821.7">3.850</text>
<text class="k" x="1202.6" y="1821.7">3.840</text>
<text class="k" x="1236.8" y="1821.7">3.830</text>
</g>
<path d="M1131,1811.1 L1131,1814.1 M1165.2,1811.1 L1165.2,1814.1 M1202.6,1811.1 L1202.6,1814.1 M1236.8,1811.1 L1236.8,1814.1 M1113.9,1811.1 L1113.9,1813.1 M1131,1811.1 L1131,1813.1 M1148.1,1811.1 L1148.1,1813.1 M1165.2,1811.1 L1165.2,1813.1 M1182.3,1811.1 L1182.3,1813.1 M1199.4,1811.1 L1199.4,1813.1 M1216.5,1811.1 L1216.5,1813.1 M1233.6,1811.1 L1233.6,1813.1" stroke="#999" stroke-width="0.8"/>
<path class="a" d="M1285,1711.4V1812.9H1427.7"/>
<text class="y" x="1282.8" y="1713.8">20</text>
<text class="y" x="1282.8" y="1739.2">15</text>
<text class="y" x="1282.8" y="1764.6">10</text>
<text class="y" x="1282.8" y="1789.9">5</text>
<text class="y" x="1282.8" y="1815.3">0</text>
<text class="u" x="1260" y="1762.2" transform="rotate(-90 1260 1762.2)" dy="2.8">A.U.</text>
<path class="w" d="M1322.5,1755.5V1758.1M1322.5,1765.2V1774.8M1311.4,1755.5h22.2M1311.4,1774.8h22.2"/>
<rect class="b" x="1300.3" y="1758.1" width="44.4" height="7.1" fill="#888"/>
<path class="m" d="M1300.3,1761.9H1344.7"/>
<path class="w" d="M1392.4,1730.4V1746.6M1392.4,1758.8V1762.6M1381,1730.4h22.8M1381,1762.6h22.8"/>
<rect class="b" x="1369.6" y="1746.6" width="45.6" height="12.2" fill="#0000ff"/>
<path class="m" d="M1369.6,1752.5H1415.2"/>
<path class="t" d="M1282.5,1711.4h2.5M1282.5,1736.8h2.5M1282.5,1762.2h2.5M1282.5,1787.5h2.5M1282.5,1812.9h2.5M1322.5,1812.9v3M1392.4,1812.9v3"/>
<text class="x" x="1322" y="1820.4" transform="rotate(-45 1322 1820.4)" dy="4">HC</text>
<text class="x" x="1391.9" y="1820.4" transform="rotate(-45 1391.9 1820.4)" dy="4">CT</text>
<path class="st" d="M1348.8,1711.9l0,-3.3M1348.8,1711.9l3.1,-1M1348.8,1711.9l1.9,2.7M1348.8,1711.9l-1.9,2.7M1348.8,1711.9l-3.1,-1M1357.4,1711.9l0,-3.3M1357.4,1711.9l3.1,-1M1357.4,1711.9l1.9,2.7M1357.4,1711.9l-1.9,2.7M1357.4,1711.9l-3.1,-1"/>
<path class="pl" d="M1351.3,1727.1h7M1354.8,1723.6v7"/>
<rect x="1214.7" y="1683.1" width="90.5" height="18.5" fill="#fff"/><text x="1260" y="1696.6" font-size="17.5" font-weight="bold" text-anchor="middle">D-Glucose</text>
</svg>
</body></html>
